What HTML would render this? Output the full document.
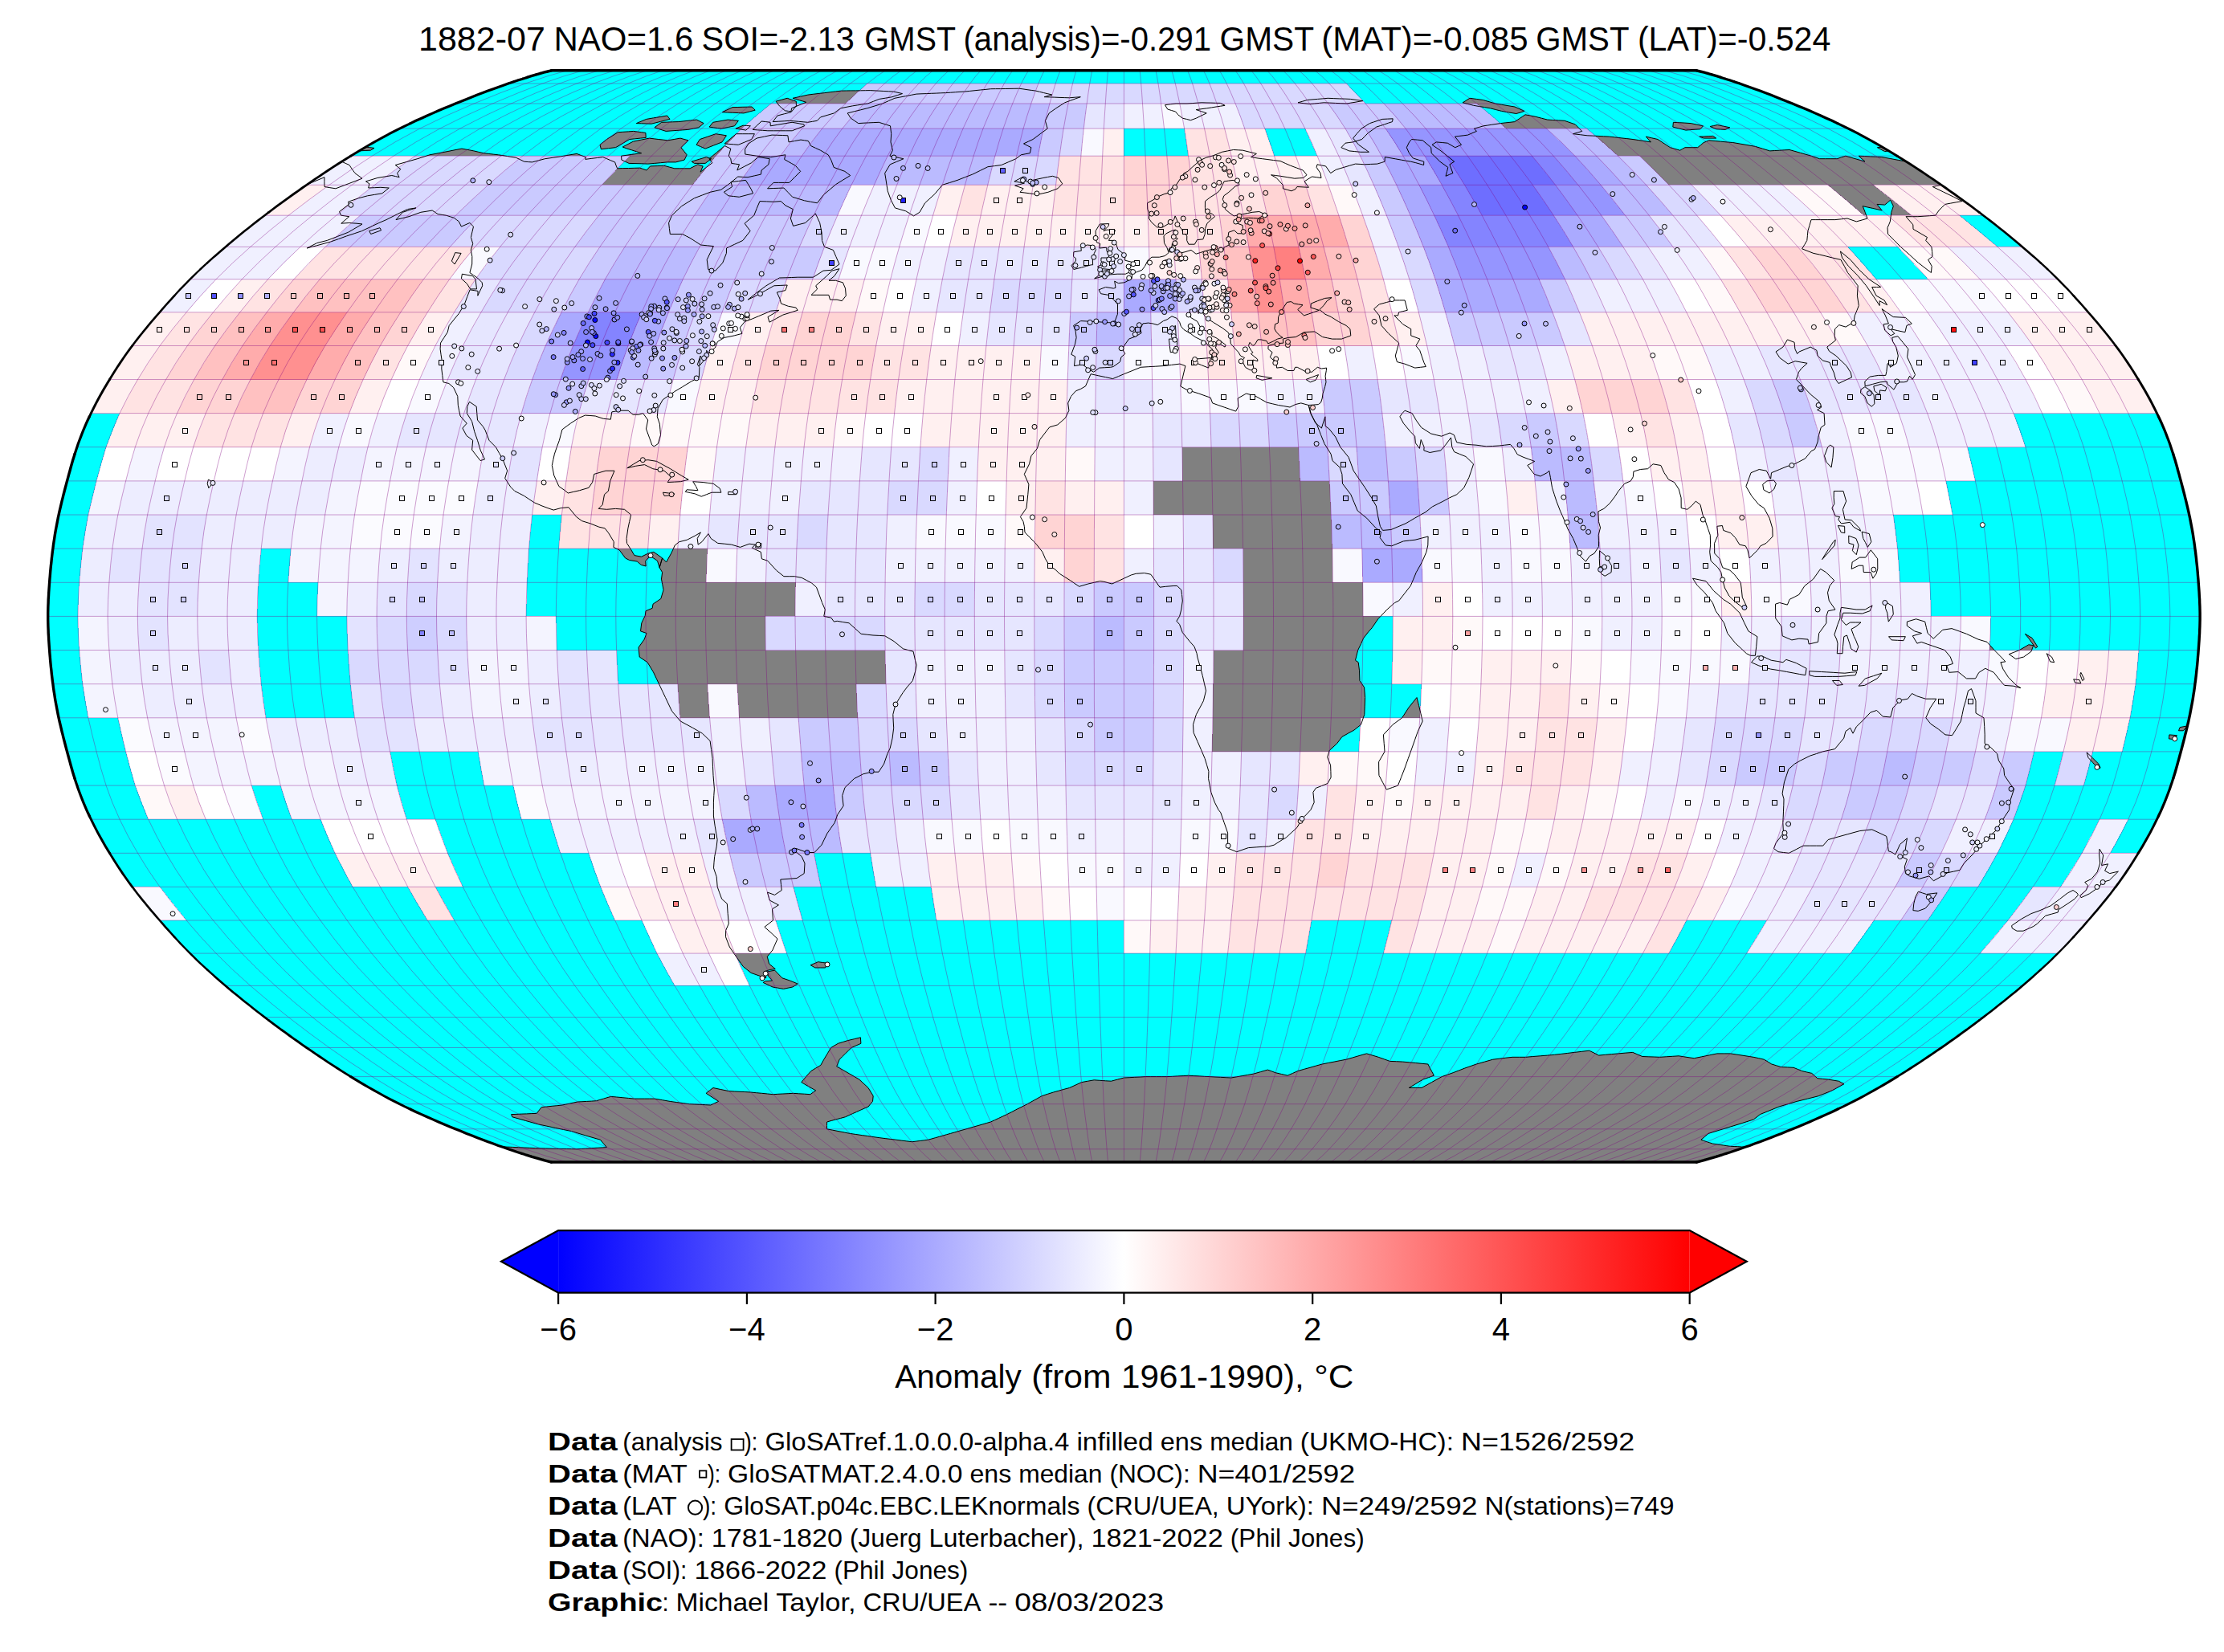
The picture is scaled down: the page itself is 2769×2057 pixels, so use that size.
<!DOCTYPE html>
<html><head><meta charset="utf-8"><title>GloSAT 1882-07</title><style>html,body{margin:0;padding:0;background:#fff}</style></head><body><svg width="2769" height="2057" viewBox="0 0 2769 2057" style="display:block;font-family:'Liberation Sans',sans-serif">
<rect width="2769" height="2057" fill="#fff"/>
<defs><clipPath id="mc"><path d="M2112.4,1447 2121.8,1444.6 2132,1441.7 2142.7,1438.4 2154.1,1434.8 2166,1430.8 2178.4,1426.4 2191.2,1421.7 2204.4,1416.7 2217.9,1411.4 2231.8,1405.8 2245.8,1400 2259.9,1393.9 2274,1387.6 2287.8,1381.2 2301.3,1374.7 2314.2,1368.1 2326.7,1361.3 2338.8,1354.5 2350.6,1347.6 2362.1,1340.6 2373.4,1333.6 2384.6,1326.4 2395.6,1319.2 2406.4,1311.9 2417.2,1304.5 2427.8,1297 2438.4,1289.5 2448.8,1282 2459.1,1274.3 2469.3,1266.6 2479.3,1258.9 2489.2,1251.1 2499,1243.3 2508.6,1235.4 2518,1227.4 2527.3,1219.4 2536.4,1211.4 2545.2,1203.4 2553.8,1195.3 2562.1,1187.1 2570.1,1179 2577.9,1170.8 2585.4,1162.5 2592.8,1154.3 2600,1146 2607.2,1137.7 2614.2,1129.4 2621,1121.1 2627.7,1112.7 2634.1,1104.3 2640.2,1096 2646.1,1087.6 2651.7,1079.2 2657.1,1070.8 2662.3,1062.3 2667.4,1053.9 2672.2,1045.5 2676.9,1037.1 2681.3,1028.6 2685.5,1020.2 2689.5,1011.8 2693.2,1003.4 2696.7,994.9 2699.9,986.5 2702.9,978.1 2705.7,969.6 2708.3,961.2 2710.7,952.8 2713,944.4 2715.3,935.9 2717.5,927.5 2719.7,919.1 2721.8,910.7 2723.8,902.2 2725.7,893.8 2727.4,885.4 2729,877 2730.5,868.5 2731.8,860.1 2732.9,851.7 2734,843.2 2734.9,834.8 2735.8,826.4 2736.5,818 2737.2,809.5 2737.8,801.1 2738.3,792.7 2738.7,784.3 2739,775.8 2739.1,767.4 2739,759 2738.7,750.5 2738.3,742.1 2737.8,733.7 2737.2,725.3 2736.5,716.8 2735.8,708.4 2734.9,700 2734,691.6 2732.9,683.1 2731.8,674.7 2730.5,666.3 2729,657.8 2727.4,649.4 2725.7,641 2723.8,632.6 2721.8,624.1 2719.7,615.7 2717.5,607.3 2715.3,598.9 2713,590.4 2710.7,582 2708.3,573.6 2705.7,565.2 2702.9,556.7 2699.9,548.3 2696.7,539.9 2693.2,531.4 2689.5,523 2685.5,514.6 2681.3,506.2 2676.9,497.7 2672.2,489.3 2667.4,480.9 2662.3,472.5 2657.1,464 2651.7,455.6 2646.1,447.2 2640.2,438.8 2634.1,430.5 2627.7,422.1 2621,413.7 2614.2,405.4 2607.2,397.1 2600,388.8 2592.8,380.5 2585.4,372.3 2577.9,364 2570.1,355.8 2562.1,347.7 2553.8,339.5 2545.2,331.4 2536.4,323.4 2527.3,315.4 2518,307.4 2508.6,299.4 2499,291.5 2489.2,283.7 2479.3,275.9 2469.3,268.2 2459.1,260.5 2448.8,252.8 2438.4,245.3 2427.8,237.8 2417.2,230.3 2406.4,222.9 2395.6,215.6 2384.6,208.4 2373.4,201.2 2362.1,194.2 2350.6,187.2 2338.8,180.3 2326.7,173.5 2314.2,166.7 2301.3,160.1 2287.8,153.6 2274,147.2 2259.9,140.9 2245.8,134.8 2231.8,129 2217.9,123.4 2204.4,118.1 2191.2,113.1 2178.4,108.4 2166,104 2154.1,100 2142.7,96.4 2132,93.1 2121.8,90.2 2112.4,87.8 686.4,87.8 677,90.2 666.8,93.1 656.1,96.4 644.7,100 632.8,104 620.4,108.4 607.6,113.1 594.4,118.1 580.9,123.4 567,129 553,134.8 538.9,140.9 524.8,147.2 511,153.6 497.5,160.1 484.6,166.7 472.1,173.5 460,180.3 448.2,187.2 436.7,194.2 425.4,201.2 414.2,208.4 403.2,215.6 392.4,222.9 381.6,230.3 371,237.8 360.4,245.3 350,252.8 339.7,260.5 329.5,268.2 319.5,275.9 309.6,283.7 299.8,291.5 290.2,299.4 280.8,307.4 271.5,315.4 262.4,323.4 253.6,331.4 245,339.5 236.7,347.7 228.7,355.8 220.9,364 213.4,372.3 206,380.5 198.8,388.8 191.6,397.1 184.6,405.4 177.8,413.7 171.1,422.1 164.7,430.5 158.6,438.8 152.7,447.2 147.1,455.6 141.7,464 136.5,472.5 131.4,480.9 126.6,489.3 121.9,497.7 117.5,506.2 113.3,514.6 109.3,523 105.6,531.4 102.1,539.9 98.9,548.3 95.9,556.7 93.1,565.2 90.5,573.6 88.1,582 85.8,590.4 83.5,598.9 81.3,607.3 79.1,615.7 77,624.1 75,632.6 73.1,641 71.4,649.4 69.8,657.8 68.3,666.3 67,674.7 65.9,683.1 64.8,691.6 63.9,700 63,708.4 62.3,716.8 61.6,725.3 61,733.7 60.5,742.1 60.1,750.5 59.8,759 59.7,767.4 59.8,775.8 60.1,784.3 60.5,792.7 61,801.1 61.6,809.5 62.3,818 63,826.4 63.9,834.8 64.8,843.2 65.9,851.7 67,860.1 68.3,868.5 69.8,877 71.4,885.4 73.1,893.8 75,902.2 77,910.7 79.1,919.1 81.3,927.5 83.5,935.9 85.8,944.4 88.1,952.8 90.5,961.2 93.1,969.6 95.9,978.1 98.9,986.5 102.1,994.9 105.6,1003.4 109.3,1011.8 113.3,1020.2 117.5,1028.6 121.9,1037.1 126.6,1045.5 131.4,1053.9 136.5,1062.3 141.7,1070.8 147.1,1079.2 152.7,1087.6 158.6,1096 164.7,1104.3 171.1,1112.7 177.8,1121.1 184.6,1129.4 191.6,1137.7 198.8,1146 206,1154.3 213.4,1162.5 220.9,1170.8 228.7,1179 236.7,1187.1 245,1195.3 253.6,1203.4 262.4,1211.4 271.5,1219.4 280.8,1227.4 290.2,1235.4 299.8,1243.3 309.6,1251.1 319.5,1258.9 329.5,1266.6 339.7,1274.3 350,1282 360.4,1289.5 371,1297 381.6,1304.5 392.4,1311.9 403.2,1319.2 414.2,1326.4 425.4,1333.6 436.7,1340.6 448.2,1347.6 460,1354.5 472.1,1361.3 484.6,1368.1 497.5,1374.7 511,1381.2 524.8,1387.6 538.9,1393.9 553,1400 567,1405.8 580.9,1411.4 594.4,1416.7 607.6,1421.7 620.4,1426.4 632.8,1430.8 644.7,1434.8 656.1,1438.4 666.8,1441.7 677,1444.6 686.4,1447Z"/></clipPath>
<linearGradient id="cb" x1="0" x2="1" y1="0" y2="0"><stop offset="0" stop-color="#0000ff"/><stop offset="0.5" stop-color="#ffffff"/><stop offset="1" stop-color="#ff0000"/></linearGradient></defs>
<path d="M2112.4,1447 2121.8,1444.6 2132,1441.7 2142.7,1438.4 2154.1,1434.8 2166,1430.8 2178.4,1426.4 2191.2,1421.7 2204.4,1416.7 2217.9,1411.4 2231.8,1405.8 2245.8,1400 2259.9,1393.9 2274,1387.6 2287.8,1381.2 2301.3,1374.7 2314.2,1368.1 2326.7,1361.3 2338.8,1354.5 2350.6,1347.6 2362.1,1340.6 2373.4,1333.6 2384.6,1326.4 2395.6,1319.2 2406.4,1311.9 2417.2,1304.5 2427.8,1297 2438.4,1289.5 2448.8,1282 2459.1,1274.3 2469.3,1266.6 2479.3,1258.9 2489.2,1251.1 2499,1243.3 2508.6,1235.4 2518,1227.4 2527.3,1219.4 2536.4,1211.4 2545.2,1203.4 2553.8,1195.3 2562.1,1187.1 2570.1,1179 2577.9,1170.8 2585.4,1162.5 2592.8,1154.3 2600,1146 2607.2,1137.7 2614.2,1129.4 2621,1121.1 2627.7,1112.7 2634.1,1104.3 2640.2,1096 2646.1,1087.6 2651.7,1079.2 2657.1,1070.8 2662.3,1062.3 2667.4,1053.9 2672.2,1045.5 2676.9,1037.1 2681.3,1028.6 2685.5,1020.2 2689.5,1011.8 2693.2,1003.4 2696.7,994.9 2699.9,986.5 2702.9,978.1 2705.7,969.6 2708.3,961.2 2710.7,952.8 2713,944.4 2715.3,935.9 2717.5,927.5 2719.7,919.1 2721.8,910.7 2723.8,902.2 2725.7,893.8 2727.4,885.4 2729,877 2730.5,868.5 2731.8,860.1 2732.9,851.7 2734,843.2 2734.9,834.8 2735.8,826.4 2736.5,818 2737.2,809.5 2737.8,801.1 2738.3,792.7 2738.7,784.3 2739,775.8 2739.1,767.4 2739,759 2738.7,750.5 2738.3,742.1 2737.8,733.7 2737.2,725.3 2736.5,716.8 2735.8,708.4 2734.9,700 2734,691.6 2732.9,683.1 2731.8,674.7 2730.5,666.3 2729,657.8 2727.4,649.4 2725.7,641 2723.8,632.6 2721.8,624.1 2719.7,615.7 2717.5,607.3 2715.3,598.9 2713,590.4 2710.7,582 2708.3,573.6 2705.7,565.2 2702.9,556.7 2699.9,548.3 2696.7,539.9 2693.2,531.4 2689.5,523 2685.5,514.6 2681.3,506.2 2676.9,497.7 2672.2,489.3 2667.4,480.9 2662.3,472.5 2657.1,464 2651.7,455.6 2646.1,447.2 2640.2,438.8 2634.1,430.5 2627.7,422.1 2621,413.7 2614.2,405.4 2607.2,397.1 2600,388.8 2592.8,380.5 2585.4,372.3 2577.9,364 2570.1,355.8 2562.1,347.7 2553.8,339.5 2545.2,331.4 2536.4,323.4 2527.3,315.4 2518,307.4 2508.6,299.4 2499,291.5 2489.2,283.7 2479.3,275.9 2469.3,268.2 2459.1,260.5 2448.8,252.8 2438.4,245.3 2427.8,237.8 2417.2,230.3 2406.4,222.9 2395.6,215.6 2384.6,208.4 2373.4,201.2 2362.1,194.2 2350.6,187.2 2338.8,180.3 2326.7,173.5 2314.2,166.7 2301.3,160.1 2287.8,153.6 2274,147.2 2259.9,140.9 2245.8,134.8 2231.8,129 2217.9,123.4 2204.4,118.1 2191.2,113.1 2178.4,108.4 2166,104 2154.1,100 2142.7,96.4 2132,93.1 2121.8,90.2 2112.4,87.8 686.4,87.8 677,90.2 666.8,93.1 656.1,96.4 644.7,100 632.8,104 620.4,108.4 607.6,113.1 594.4,118.1 580.9,123.4 567,129 553,134.8 538.9,140.9 524.8,147.2 511,153.6 497.5,160.1 484.6,166.7 472.1,173.5 460,180.3 448.2,187.2 436.7,194.2 425.4,201.2 414.2,208.4 403.2,215.6 392.4,222.9 381.6,230.3 371,237.8 360.4,245.3 350,252.8 339.7,260.5 329.5,268.2 319.5,275.9 309.6,283.7 299.8,291.5 290.2,299.4 280.8,307.4 271.5,315.4 262.4,323.4 253.6,331.4 245,339.5 236.7,347.7 228.7,355.8 220.9,364 213.4,372.3 206,380.5 198.8,388.8 191.6,397.1 184.6,405.4 177.8,413.7 171.1,422.1 164.7,430.5 158.6,438.8 152.7,447.2 147.1,455.6 141.7,464 136.5,472.5 131.4,480.9 126.6,489.3 121.9,497.7 117.5,506.2 113.3,514.6 109.3,523 105.6,531.4 102.1,539.9 98.9,548.3 95.9,556.7 93.1,565.2 90.5,573.6 88.1,582 85.8,590.4 83.5,598.9 81.3,607.3 79.1,615.7 77,624.1 75,632.6 73.1,641 71.4,649.4 69.8,657.8 68.3,666.3 67,674.7 65.9,683.1 64.8,691.6 63.9,700 63,708.4 62.3,716.8 61.6,725.3 61,733.7 60.5,742.1 60.1,750.5 59.8,759 59.7,767.4 59.8,775.8 60.1,784.3 60.5,792.7 61,801.1 61.6,809.5 62.3,818 63,826.4 63.9,834.8 64.8,843.2 65.9,851.7 67,860.1 68.3,868.5 69.8,877 71.4,885.4 73.1,893.8 75,902.2 77,910.7 79.1,919.1 81.3,927.5 83.5,935.9 85.8,944.4 88.1,952.8 90.5,961.2 93.1,969.6 95.9,978.1 98.9,986.5 102.1,994.9 105.6,1003.4 109.3,1011.8 113.3,1020.2 117.5,1028.6 121.9,1037.1 126.6,1045.5 131.4,1053.9 136.5,1062.3 141.7,1070.8 147.1,1079.2 152.7,1087.6 158.6,1096 164.7,1104.3 171.1,1112.7 177.8,1121.1 184.6,1129.4 191.6,1137.7 198.8,1146 206,1154.3 213.4,1162.5 220.9,1170.8 228.7,1179 236.7,1187.1 245,1195.3 253.6,1203.4 262.4,1211.4 271.5,1219.4 280.8,1227.4 290.2,1235.4 299.8,1243.3 309.6,1251.1 319.5,1258.9 329.5,1266.6 339.7,1274.3 350,1282 360.4,1289.5 371,1297 381.6,1304.5 392.4,1311.9 403.2,1319.2 414.2,1326.4 425.4,1333.6 436.7,1340.6 448.2,1347.6 460,1354.5 472.1,1361.3 484.6,1368.1 497.5,1374.7 511,1381.2 524.8,1387.6 538.9,1393.9 553,1400 567,1405.8 580.9,1411.4 594.4,1416.7 607.6,1421.7 620.4,1426.4 632.8,1430.8 644.7,1434.8 656.1,1438.4 666.8,1441.7 677,1444.6 686.4,1447Z" fill="#00ffff"/>
<g clip-path="url(#mc)">
<path d="M455.5,225.9 469.9,221.5 478.9,220 487.8,218.5 492.5,219.6 497.1,220.7 495.8,218.2 494.6,215.6 498.8,210.5 495.5,208 492.2,205.5 506,201.6 519.8,197.7 535,192.8 546.1,190.7 557.1,188.6 566,186.8 574.9,185.1 579.9,186 584.9,186.9 589.9,187.9 595.9,189.3 601.9,190.7 608.1,191.4 614.2,192.1 620.4,192.8 625.9,193.6 631.5,194.5 637,195.4 642.6,196.3 647.6,198.7 652.6,201.2 657.6,201.6 662.6,201.9 670.6,199.8 678.5,197.7 688.2,196.3 697.9,194.9 708,193.1 718.1,191.4 723.6,193.5 729.3,195.6 728.8,198.4 736.1,197.4 743.4,196.5 750.7,195.6 755.6,197.7 760.5,199.8 765.6,201.9 767,205.9 768.6,209.8 775.6,209.6 782.6,209.5 789.7,209.3 796.7,209.1 800.8,210.5 805,212 809.6,206.9 818.1,206.6 826.7,206.2 833.2,208 839.9,209.8 846.3,209.8 852.7,209.8 859.1,209.8 868.8,204.8 875.2,206.9 872,214.2 879.4,208.4 886.9,202.7 882.9,197.7 892.6,189.6 902.3,181.6 906,183.4 909.8,185.1 907.3,194.2 909.8,197.7 910.7,203.4 915.6,204.1 920.5,204.8 917.8,212 926.8,207.3 935.7,202.7 943.7,195.6 951,196.6 958.2,197.7 956.9,204.8 948.1,212 947.4,217.1 939.2,218.9 931,220.7 924.8,220.4 918.7,220 909,228.1 897.7,236.3 890.9,237.8 884.1,239.3 874.3,243 864.4,246.8 848.7,256.7 836.5,268.2 832.6,277.5 833.4,284.5 834.3,291.5 842,291.5 849.6,291.5 854.3,293.9 859,296.3 865.7,300.6 872.5,305 880.4,305.8 888.4,306.6 884.2,315 880.2,323.4 881.8,335.5 890.7,337.1 899.7,327.4 904.4,315.4 904.5,309 914.7,304.2 924.9,299.4 934.1,287.6 930.6,282.9 927.1,278.2 938.8,268.2 942.3,259.3 946,250.6 954.5,250.9 963,251.3 972.2,250.6 978,255.9 982.6,258.2 987.3,260.5 984.4,272 987.6,281.4 995.2,279.4 1002.7,277.5 1015.3,265.9 1018,271.6 1020.7,277.5 1021.9,283.7 1023.1,290 1023.5,299.4 1026.5,307.4 1032,309.4 1037.4,311.4 1040.8,319.4 1045,329 1034.9,336.3 1025,337.1 1012.6,345.2 1003,345.2 993.3,345.2 985.7,345.5 978.1,345.8 970.4,346 962.2,350.9 953.9,355.8 940.5,365.7 931.3,373.1 943.2,367.3 953.4,361.6 963.6,355.8 971.9,355.4 980.2,355 977.9,361.6 967.3,364 971.1,372.3 972.5,378 981.5,381.3 990.9,383 993.2,386.3 984.1,389.2 974.8,392.1 966.4,396.7 958,401.2 956,394.6 963,390.5 969.9,386.3 959.7,387.1 952,390.5 944.2,393.8 936.4,397.1 927.3,400.4 921.4,407.9 923.8,415.4 914.2,417.9 908,419.2 901.8,420.4 893.4,425.4 890.4,433 882.2,439.7 879.7,436.3 880,444.7 870.7,455.6 872.2,443 868.3,453.9 870.9,457.3 870.3,469.9 860.6,475 849.7,481.7 839.8,487.6 832.5,492.7 825.2,497.7 819.1,508.7 818.3,518.8 821.4,528.1 821.9,534.8 822.5,541.6 819.3,552.5 814.4,555.9 811.8,554.2 808.8,545.8 804.5,534 806.7,523 800.6,514.6 795.3,516.3 788.1,516.3 782.1,511.2 771.4,511.2 761.8,512.9 760.3,522.2 751.2,521.3 741.2,518 734.9,517.5 728.6,517.1 720.6,520.5 710.3,527.2 700,534.8 698.1,541.6 696.4,548.3 693.3,556.7 690.4,565.2 688.8,572.3 687.3,579.5 689.8,592.1 692.9,598.9 695.9,605.6 703.3,610.7 707.2,614 714.4,612.3 721.6,610.7 733,607.3 737.6,600.5 739.7,590.4 746.9,588.3 754.1,586.2 765,586.2 759.7,598.9 757.4,611.5 752.5,615.7 750.2,628.4 745.2,633.4 755.4,634.3 766.5,633.4 777.5,634.3 785.6,641 783.7,649.4 781.9,657.8 780.1,670.5 780.5,676.4 785.9,684.8 789.9,691.6 798.7,693.2 807.1,689 813.9,687.3 824.6,694.9 821.1,706.7 818.5,698.3 809.9,692.4 803.7,698.3 804.1,705 798.3,703.4 793.3,699.1 783.7,697.5 778.6,694.9 771.1,684.8 763.9,681.4 764.3,674.7 757.7,663.7 753.1,657.8 745.8,656.2 735.1,651.9 724.4,648.6 717.6,643.5 707.9,631.7 698.2,632.6 689.1,635.1 682,632.6 675,630 665.2,625.8 658.8,621.6 652.5,617.4 646.7,614.4 640.9,611.5 635.8,606.4 628.7,595.5 631.6,586.2 628.8,579.1 626,571.9 621.6,564.3 617.3,556.7 609,548.3 604.1,535.7 601.6,531.4 594.5,523 593.8,514.6 593.2,506.2 584.5,500.3 581.8,506.2 581.3,514.6 587.6,524.7 590.7,537.3 594.5,548.3 598.3,560.9 603.5,571.9 598.1,573.6 592.8,566.8 587.6,560.1 588.7,548.3 580.8,542.4 575.9,533.1 581.2,527.2 573.1,518 571.6,511.2 570.3,504.5 569.8,493.5 564.7,482.6 558.9,477.5 551.9,475.8 550.8,467.4 549.8,459 550.2,448.9 549.1,441.8 548.1,434.6 548.5,427.1 552.8,420.4 557.2,413.7 559.2,405.4 565.2,397.9 571.3,390.5 578.3,378.9 581.6,369.8 585.1,360.8 590.1,361.6 595.1,362.4 594.8,368.2 600.7,355.8 600.2,351.8 594.4,346 589.6,342.8 584.9,339.5 587.7,329 587.8,319.4 586.3,311.4 588.7,303.4 586.4,295.5 587.9,288.8 589.5,282.1 584.9,277.5 574.4,282.1 571.4,275.9 568.4,273.6 565.3,271.3 560.3,269.7 555.4,268.2 550.2,267.4 545.1,266.6 541.6,264.3 538.2,262 531.1,263.2 523.9,264.3 509.1,269.7 501.1,271.6 493,273.6 501.4,264.3 509.7,261.6 518,258.9 507.5,260.5 494.7,266.6 481,273.6 471.9,277.5 461.3,282.5 450.6,287.6 441.1,290.8 431.6,293.9 421.7,297.5 411.7,301 403,303.4 394.3,305.8 382.2,309 394.6,302.6 407.3,299.4 420.5,294.3 433.7,289.2 451,279 444,278.2 439.3,277.9 434.7,277.5 424.8,278.2 434.7,269.7 429.6,268.9 424.6,268.2 422.5,263.5 434.4,254.4 433.5,251.3 446.3,246.8 457.6,243.8 466.7,242.3 475.8,240.8 484.3,234 479.1,233.7 473.9,233.3 466.3,233.7 458.7,234 459.9,228.8Z M1137.6,268.9 1132.7,265.9 1127.8,262.8 1121.1,260.9 1114.4,258.9 1109.3,249.1 1105.2,237.8 1104,230.3 1102.9,222.9 1101.7,215.6 1108.2,204.8 1116.7,201.2 1125,197.7 1119.3,196.5 1113.6,195.3 1107.9,194.2 1111.4,187.2 1109,176.9 1109.7,166.7 1108.5,156.8 1103.7,155.3 1099,153.8 1094.3,152.3 1087.9,152.6 1081.5,152.9 1075.1,153.2 1068.7,153.6 1063.9,150.3 1059.3,147.2 1057.2,144 1055.2,140.9 1063.4,138.8 1071.6,136.8 1079.6,134.8 1089.3,131.9 1098.8,129 1106.4,125.6 1113.9,122.3 1120.7,121 1127.5,119.7 1134.2,118.4 1140.9,117.1 1147,116.8 1153.2,116.6 1159.3,116.3 1165.4,116.1 1171.5,115.8 1177.6,115.6 1183.5,115.2 1189.3,114.8 1195,114.4 1200.8,114.1 1207.4,113.4 1214,112.7 1220.6,112 1227.1,111.4 1233.6,110.7 1239.5,110.6 1245.3,110.6 1251.2,110.5 1257,110.4 1262.9,110.3 1268.7,110.2 1273.9,110.9 1279,111.7 1284.2,112.4 1289.4,113.1 1294.5,114.3 1299.6,115.6 1304.8,116.8 1310,118.1 1305.1,119.4 1300.2,120.7 1306.4,120.9 1312.7,121.1 1319,121.4 1325.2,121.6 1331.5,121.8 1338.4,121.2 1345.3,120.7 1338.8,123 1332.3,125.4 1325.7,127.8 1320.3,131.3 1314.8,134.8 1306.2,140.9 1301.4,150.3 1304.2,160.1 1295.2,166.7 1286.1,173.5 1280.3,176.2 1274.5,178.9 1279.1,181.3 1283.9,183.7 1282.4,190.7 1276.9,191.7 1271.3,192.8 1264.9,197.7 1255.9,201.6 1246.8,205.5 1238.4,206.6 1229.9,207.7 1220.4,212.4 1210.8,217.1 1201.4,220.7 1192,224.4 1182.6,227.4 1173.2,230.3 1163.9,241.5 1151.6,252.8 1145,264.3Z M824.6,694.9 829.6,700 836.1,688.2 840.3,678.9 845.7,674.7 855.5,672.2 865.4,667.1 872.4,662.9 868.2,670.5 869.2,678.1 873.9,674.7 881.9,664.6 885.2,670.5 893.7,676.4 902.2,677.2 910.7,678.1 921.6,681.4 932.9,677.2 940.3,678.1 936.4,682.3 947.3,687.3 948.4,695.8 955.8,698.3 966.5,710.1 975.9,717.7 982.6,717.7 989.3,717.7 998.2,719.4 1004.4,722.7 1010.7,726.1 1016.5,731.2 1020.1,740.9 1023.6,750.5 1027.3,759 1025.8,767.4 1034.7,769.1 1038.4,774.1 1042.2,773.3 1049.6,774.6 1057.1,775.8 1068.3,785.9 1072.1,789.3 1079.5,790.2 1087,791 1094.4,791.4 1101.8,791.8 1113.1,798.6 1124.4,807.8 1130.7,809.5 1137.1,811.2 1139.5,822.2 1141.1,828.1 1139.7,835.7 1136.3,847.5 1129.1,855.9 1124.1,862.6 1119.6,869.8 1115,877 1111.8,889.6 1112.2,898 1112.7,906.4 1111.1,919.1 1108.2,931.7 1104.9,938.5 1100.6,951.1 1094,961.2 1085.3,961.2 1074.6,963.8 1069,966.7 1063.4,969.6 1057.7,975.1 1052,980.6 1048.7,990.7 1050.1,1003.4 1042.8,1014.3 1039.2,1024.4 1034.4,1031.2 1029.8,1037.9 1026.3,1045.1 1022.9,1052.2 1014,1061.5 1004.9,1061.5 998.1,1059 991.3,1056.5 989,1059 998.2,1066.6 1002,1075 1001.2,1087.6 992.1,1093.5 982,1094.3 971.8,1095.1 972.5,1101.8 973.2,1108.5 964.5,1114.4 955.4,1111 958.3,1121.1 969.4,1126.9 961.5,1131.9 962,1139 962.5,1146 957.2,1150.1 951.9,1154.3 961.2,1162.5 968,1169.1 964.9,1176.1 961.9,1183 955.3,1191.2 957.6,1200.1 965.3,1206.6 958.7,1207.4 951.5,1209.8 953.8,1217.8 946.4,1215.4 935.1,1211.4 925.2,1203.4 916.6,1191.2 908.3,1179 903.5,1166.6 903.7,1158.4 907.3,1150.1 906.2,1137.7 905.3,1125.2 898.7,1119.4 895.9,1111.9 893.2,1104.3 892.2,1091.8 888.5,1080.9 889,1073.7 889.7,1066.6 892.2,1053.9 893.1,1045.5 891.6,1037.1 890.2,1028.6 888.4,1016 888.4,1007.6 888.4,999.1 888.8,990.7 889.4,982.3 888.7,973.9 888,965.4 887.5,954.9 887.1,944.4 885.6,933.4 884.1,922.5 874.4,913.2 862.7,906.4 854.9,902.2 847.2,898 836.5,885.4 832.5,877 828.5,868.5 825.1,861.4 821.7,854.2 817.5,845.4 813.3,836.5 806.1,824.7 796.2,818 795,806.2 802.2,796.1 805,788.5 797.5,785.9 798.8,775.8 803.2,766.6 804,760.7 812.2,757.3 813,752.2 822.8,745.5 826.1,734.5 824.8,727.8 823.5,721.1 824.6,712.6 821.1,706.7Z M964.7,1208.2 960,1209 955.3,1209.8 956.5,1215.4 961.5,1221 952.5,1221.8 950.1,1223.4 962,1229 968.7,1230.2 975.5,1231.4 981.1,1230.2 986.8,1229 993.2,1225 983.4,1221 973.9,1217.8 969.3,1213Z M1009.2,1201.7 1013.9,1199.7 1018.6,1197.7 1024.4,1198.5 1030.1,1199.3 1027.6,1205 1021.2,1205 1014.9,1205Z M1358.1,465.7 1367.2,467.7 1376.3,469.6 1385.4,471.6 1392.4,468.7 1399.4,465.7 1409.9,461.5 1420.3,457.3 1429.6,456.7 1438.8,456.2 1448.1,455.6 1458.5,454.4 1468.9,453.1 1475.9,455.6 1472.9,468.2 1469.8,480.9 1477,485.1 1484.9,487.6 1492.8,490.1 1500,492.7 1507.2,495.2 1509.6,501.9 1516.8,504.5 1524.1,507 1531.3,509.5 1538.6,512.1 1541.8,506.2 1541.2,496 1551.5,490.1 1562.3,492.7 1569.7,496.9 1577.1,501.1 1584.3,502.8 1591.6,504.5 1598.8,505.7 1606,507 1612.8,503.6 1619.8,501.9 1629.3,504.5 1631.6,514.6 1635.8,522.2 1640.1,529.8 1644.6,541.6 1649,552.5 1657,565.2 1659,573.6 1668.2,582 1670.9,590.4 1671.5,602.2 1676.7,609 1681.8,615.7 1686,625.8 1690.2,635.9 1701.7,645.2 1713.3,657.8 1719.4,662.1 1718.2,669.6 1725.2,678.9 1732.7,679.8 1740,676.8 1747.3,673.9 1754.6,673 1762,672.2 1770,670.1 1778.1,668 1777.8,678.9 1775.9,687.3 1770.4,700 1763.3,712.6 1759.8,721.1 1756.2,729.5 1749,738.7 1741.7,748 1736.5,750.5 1726.9,759 1715.7,770.8 1708.2,781.7 1703.7,786.8 1697.7,794.4 1694.6,801.5 1690.7,809.5 1687.5,822.2 1691.2,824.7 1692.5,834.8 1692.9,847.5 1698.6,855.9 1699.6,868.5 1699.2,879.1 1698.8,889.6 1694.5,902.2 1686,909 1678.4,913.2 1670.9,917.4 1664.6,925.8 1655.3,934.3 1652.7,942.7 1656.6,952.8 1656.9,960.4 1657.1,968 1653,975.5 1645.6,978.5 1638.2,981.4 1634.9,986.5 1636.2,999.1 1631.9,1008.4 1624.8,1016 1621,1019.4 1615,1030.3 1608.1,1036.6 1601.2,1043 1596.7,1045.5 1586.2,1052.2 1579.7,1053.9 1572.3,1054.3 1564.9,1054.8 1554.3,1055.6 1547,1058.1 1539.8,1060.7 1529.6,1056.5 1528.6,1049.7 1528.6,1037.1 1524.2,1024.4 1519.8,1011.8 1517.1,1008.4 1512.4,999.1 1507.8,986.5 1506.2,978.1 1504.6,969.6 1504.9,960.4 1502.5,952.4 1500.1,944.4 1495.6,933.8 1491,923.3 1486.1,912.3 1485.5,902.2 1489.4,889.6 1493.9,881.2 1498.4,872.7 1501.5,860.1 1499.4,850.8 1497.3,841.6 1494.4,830.6 1490.8,818 1490.1,813.7 1487.1,805.3 1481.2,798.6 1472.3,787.6 1468.6,777.5 1464.9,773.3 1468.6,767.4 1470.8,759 1472.3,748 1471.5,740.4 1470.8,734.5 1465.6,729.5 1461.1,729.5 1451.4,730.3 1444,731.2 1438.8,723.6 1432.8,715.2 1424.7,713.5 1414.3,714.3 1408.3,716 1399.4,720.2 1392,723.6 1384.5,727 1374.9,724.4 1369.7,723.6 1362.2,725.3 1354.8,727 1343.6,730.3 1332.5,722.7 1325.8,718.5 1319.2,714.3 1314,709.3 1306.6,704.2 1301.5,695.8 1297.9,687.3 1291.3,678.9 1287.6,674.7 1281.1,668 1276,662.9 1275.3,655.3 1274,649.4 1270.4,643.5 1278,632.6 1278.9,624.1 1279.8,615.7 1280.9,603.1 1275.3,590.4 1281.5,577.8 1283.9,567.7 1291.4,558.4 1294.7,547.5 1303.7,535.7 1306.7,531.9 1316.8,528.9 1326.4,520.5 1330.9,511.2 1329.7,501.9 1333.5,493.5 1339.4,486.8 1345.8,484.2 1351.5,480.9 1355.9,470.8Z M1764,868.5 1766.5,878.4 1768.9,888.2 1771.2,898 1765.3,910.7 1761.6,921.2 1757.9,931.7 1753.3,944.4 1748.8,957 1744.7,967.5 1740.5,978.1 1733.4,980.6 1726.3,983.1 1721.6,974.3 1716.9,965.4 1716.7,957 1716.6,948.6 1724,935.9 1723.2,925.4 1722.4,914.9 1734.2,902.2 1745.7,893.8 1753.8,881.2Z M1361.7,463.2 1355.5,459.8 1348,453.9 1337.5,455.6 1338.6,443.9 1333.8,441.3 1338.4,428.8 1340.1,420.4 1339.1,412.1 1336.6,405.4 1345.6,399.6 1353.3,400 1361.1,400.4 1367.4,400.8 1373.8,401.2 1380.6,401.7 1387.3,402.1 1391.4,391.3 1391.5,378.9 1384.9,371.4 1379.7,367.3 1370.6,365.7 1368.1,360.8 1376.6,357.5 1386.4,359.1 1389,358.3 1387.7,350.1 1392.3,352.6 1400,351.8 1409.1,346.9 1409.7,340.4 1415.4,338.7 1421.8,336.3 1425.5,331.4 1429.1,324.2 1434,320.2 1443.5,320.2 1450.3,318.6 1453.3,316.2 1455.1,314.6 1452.9,308.2 1449.5,302.6 1449,293.9 1451.9,290.8 1460.2,286.8 1463.8,286.1 1463.5,291.5 1462,295.5 1466.4,297.1 1462.4,301 1459.4,303.4 1459.1,308.2 1461.8,311.4 1468.1,312.2 1468.3,315.4 1475.1,313.8 1483,311.4 1489.1,316.2 1494.3,314.6 1499.4,313 1506.4,311 1513.3,309 1516.2,312.2 1523.6,311.4 1523.8,308.2 1530.2,305 1528.9,295.5 1529.8,289.2 1536.7,286.8 1541,290.8 1546.5,290.8 1547.3,284.5 1547.2,280.6 1540.8,278.2 1540.1,274.4 1547.5,272 1554.5,271.3 1560.6,271.6 1566.6,272 1571.9,268.9 1579,268.6 1574.4,266.6 1567.8,263.5 1559.1,264.3 1553.4,265.5 1547.7,266.6 1542,267.8 1536.2,268.9 1530.9,265.1 1525.4,260.5 1524.7,252.8 1522.3,248.3 1523.8,243.8 1529.9,239.3 1534.1,235.5 1538.2,231.8 1543,230.3 1541.7,226.6 1535.1,224.4 1529.6,225.1 1524.1,225.9 1521.2,231.8 1519.1,236.3 1515.7,240 1511,243 1506.3,246 1500.5,250.6 1500.4,258.2 1501,262.8 1509.7,266.6 1512.5,269.7 1507.7,273.6 1502.9,278.2 1500.6,284.5 1500.2,291.5 1497.8,297.9 1490.5,298.6 1487.4,304.2 1479.9,304.2 1477.7,299.4 1477.8,293.9 1472.4,287.6 1471.6,286.1 1466.9,279.8 1465.9,275.1 1463.1,268.9 1461.6,273.6 1456.5,277.5 1447.8,282.9 1440.5,282.9 1433.6,276.7 1430.5,272 1430.8,265.1 1428.8,260.5 1428.5,252.8 1435.4,249.1 1442.6,244.5 1449.9,241.5 1455.6,240 1459.1,234 1464.4,230.3 1469.3,222.9 1474.1,215.6 1478.8,213.4 1484.2,208.4 1489.1,204.1 1493.9,199.8 1501.4,196.3 1506.5,194.9 1511.6,193.5 1516.5,191.4 1521.4,189.3 1528.5,187.9 1535.6,186.5 1541.5,186.8 1547.4,187.2 1555.9,189.3 1564.4,191.4 1557.6,195.6 1566,197 1571.6,197.7 1577.1,198.4 1585.5,199.5 1594,200.5 1600.3,203.4 1606.7,206.2 1614.5,209.1 1622.3,212 1627,217.8 1622.7,221.5 1617.2,221.8 1611.8,222.2 1602.9,220.7 1594.2,219.3 1588.4,218.5 1582.6,217.8 1589.2,221.5 1597.3,230.3 1597.4,234.8 1602.7,236.3 1607.9,237.8 1613,235.5 1614.9,232.5 1622.1,232.9 1629.4,233.3 1624.1,225.9 1628.8,222.9 1633.4,220 1639.2,220.7 1645,221.5 1644,215.6 1639.1,208.4 1640,204.8 1645.3,205.9 1650.6,206.9 1656.7,215.6 1663.3,211.3 1668.2,209.8 1673.1,208.4 1680.3,206.2 1687.5,204.1 1693.1,204.4 1698.7,204.8 1706.7,204.4 1714.7,204.1 1719.4,202.7 1724.1,201.2 1724.3,195.6 1731,196.7 1737.8,197.9 1744.5,199.1 1750.5,200.2 1756.5,201.2 1762.8,202.7 1772.6,205.5 1772.8,201.2 1766.1,199.1 1759.4,197 1754.5,190.7 1751.3,183.7 1754.6,176.9 1757.5,173.5 1764.4,174.1 1771.3,174.8 1781.7,183.7 1782.2,190.7 1792.8,201.2 1802.8,208.4 1801.5,213.8 1800,219.3 1804.5,217.4 1808.9,215.6 1804.9,204.8 1810.7,201.2 1801.9,194.2 1793.1,187.2 1783,180.3 1788.3,176.9 1795.3,177.5 1802.3,178.2 1811.7,183.7 1815.6,182 1819.5,180.3 1811.4,170.1 1816.8,169.4 1822.1,168.8 1827.5,168.1 1833,165.7 1838.5,163.4 1835.3,160.1 1841.2,158.5 1847,156.8 1852.4,156 1857.7,155.2 1863,154.4 1868.3,153.6 1874.1,152.9 1880,152.3 1885.8,151.6 1889.2,149.4 1892.6,147.2 1895.9,144.9 1899,142.8 1905.5,144 1912,145.3 1919.3,147.2 1926.7,149.1 1933.7,149.5 1940.8,149.9 1947.9,150.3 1961.3,154.9 1969.7,163.4 1964.1,165.1 1958.5,166.7 1967.3,167.7 1976.1,168.8 1982.9,169.1 1989.7,169.4 1996.5,169.8 2003.3,170.1 2010.7,170.9 2018.1,171.8 2025.6,172.6 2033.1,173.5 2040.5,174.6 2047.9,175.7 2055.4,176.9 2049.3,170.1 2056.6,171.8 2064,173.5 2079.5,183.7 2091.7,187.2 2094.8,185.4 2097.9,183.7 2105.8,183.7 2113.7,183.7 2117.5,180.6 2121.1,177.5 2124.5,176.2 2127.7,174.8 2135.1,175.5 2142.6,176.2 2150,176.9 2157.5,177.5 2166.7,179.1 2176,180.7 2185.2,182.3 2194.4,185.1 2203.6,187.9 2209.7,187.5 2215.8,187.2 2221.9,186.8 2228,186.5 2241.6,190.3 2255.1,194.2 2265.6,197.7 2272.7,197.7 2279.9,197.7 2287.1,197.7 2292.5,195.9 2297.9,194.2 2310,197.7 2322,201.2 2314,194.2 2321.2,194.5 2328.4,194.9 2335.7,195.2 2342.9,195.6 2353.1,197.4 2363.2,199.3 2373.4,201.2 2388.2,210.8 2402.8,220.5 2417.2,230.3 2411.7,231.4 2406.2,232.5 2419.4,238.9 2432.6,245.3 2442.8,250.6 2435.8,251.8 2428.7,253.1 2421.7,254.4 2417.9,258.2 2414,262 2411.9,265.1 2409.8,268.2 2402.6,268.7 2395.2,269.2 2387.9,269.7 2380.5,269.7 2373,269.7 2381.8,279.8 2382,285.3 2399.5,295.5 2397.7,299.4 2404.9,307.4 2405.6,313.4 2406,319.4 2400.6,323.4 2405.2,331.4 2404.4,339.5 2388.6,327.4 2377.7,317.4 2366.4,307.4 2358.6,299.4 2350.6,291.5 2350,283.7 2351.7,279.8 2353.3,275.9 2354.1,270.1 2354.8,264.3 2356.1,260.5 2357.3,256.7 2353.7,249.1 2350.2,252.1 2346.6,255.1 2337,254.4 2343.2,262 2331.2,259.3 2319.2,256.7 2322.2,264.3 2325,272 2318.2,274 2311.3,275.9 2300,272 2292.4,272.8 2284.9,273.6 2275.9,273.6 2266.9,273.6 2260.9,273.6 2255,273.6 2253,280.6 2250.9,287.6 2250.4,293.5 2249.8,299.4 2246.8,304.6 2243.6,309.8 2257.9,315.4 2265.5,317 2273.6,319 2281.6,321 2291.9,323.4 2296.3,331.4 2300.5,339.5 2307,347.7 2313.2,355.8 2312.4,368.2 2314.3,380.5 2311.9,386.7 2309.3,392.9 2307.9,401.2 2303,404.2 2298,407.1 2289.7,404.6 2284.6,409.6 2284.1,417.9 2285.4,423.8 2280.1,427.9 2274.8,432.1 2277.4,437.2 2285.9,443 2299,455.6 2304.3,464 2305.5,469.9 2297.9,473.3 2289.1,477.5 2285.6,472.5 2283.3,464 2279.5,455.6 2278.2,451.4 2269.4,448.9 2263.1,443 2261.9,436.3 2254.2,432.1 2247.1,435.1 2240,438 2237.7,440.5 2234.9,434.6 2234.1,426.3 2225.5,422.9 2219.9,432.1 2215.5,435.1 2211,438 2215.9,445.5 2226.2,453.1 2235.1,449.7 2242.6,451 2250.1,452.3 2242.7,459 2239.6,463.2 2236.4,472.5 2244.7,480.9 2254.2,491 2264.4,499.4 2267.8,507 2262.6,510.4 2271.1,514.6 2271.6,523 2272,528.9 2267.2,532.3 2263.9,544.1 2263.2,550 2259.6,559.3 2255,561.8 2247.5,571 2239.2,575.3 2230.9,579.5 2225.9,580.3 2215.7,584.5 2205.5,588.7 2204.6,596.3 2199.3,586.2 2190.2,584.5 2180,588.7 2178.5,593 2173.9,605.6 2180.8,617.4 2189.8,628.4 2196.3,632.6 2203.1,645.2 2206.8,657.8 2207.1,668 2199,676.4 2191.8,679.8 2188.5,684.8 2178.1,694.9 2175.9,684.8 2173.3,679.8 2165.8,678.1 2160.6,669.6 2154.9,663.7 2145.7,660.4 2144.4,654.5 2137.8,655.3 2138.9,666.3 2134.6,676.4 2134.7,689 2141.1,695.8 2144.7,706.7 2153.8,710.1 2159.3,715.2 2167.2,725.3 2168.3,733.7 2169.3,743.8 2174.8,755.6 2169.6,756.4 2159.8,748.9 2152.9,742.1 2147.4,732 2144.7,721.9 2142.8,712.6 2138.8,706.7 2130.1,698.3 2128.7,687.3 2129.6,678.9 2129.3,666.3 2126.7,658.7 2124.1,651.1 2120,641 2117,628.4 2111.3,624.1 2106.8,629.2 2100.8,634.3 2093.2,632.6 2093.1,619.9 2090.2,609 2084.6,600.5 2077.6,597.2 2072,588.7 2067.8,579.5 2058.1,577.8 2051.6,583.7 2042.3,584.5 2033.9,587.1 2033.3,593.8 2030.3,598.9 2022.7,602.2 2015,611.5 2010.7,618.2 2004.3,626.7 1996.9,633.4 1989.9,636.8 1990.4,649.4 1992.5,657 1990.2,666.3 1990.4,673.4 1990.5,680.6 1985,689 1979.2,692.4 1974.4,699.1 1966.6,691.6 1963.9,683.1 1958.7,670.5 1952,658.7 1948.8,650.7 1945.5,642.7 1942.8,636.8 1937.9,624.1 1935.2,615.7 1932.5,607.3 1930.4,594.6 1928.8,586.2 1926.1,588.7 1917.8,593 1910.2,590.4 1901.8,579.5 1910.7,574.4 1903.8,571.9 1897,569.4 1889.4,566 1884.8,558.4 1880.5,553.4 1873.4,554.2 1866.3,555 1858.4,555.5 1850.5,555.9 1844.2,555 1838,554.2 1832.1,553.8 1826.3,553.4 1820,552.1 1813.7,550.8 1810.4,541.6 1805.1,539 1794.8,543.2 1788.1,541.6 1781.4,539.9 1769.7,532.3 1763.6,523.9 1758.1,514.6 1749.1,511.2 1745.9,514.6 1742.9,518.8 1747.5,527.2 1755.9,537.3 1761.6,543.2 1762.4,551.7 1767.4,558.4 1769.2,547.5 1773.1,556.7 1772.8,560.9 1780.2,563.5 1787,562.2 1793.8,560.9 1799.6,554.2 1806.5,544.9 1807.8,556.7 1810.6,562.6 1817.8,565.6 1825,568.5 1834.6,577.8 1831.8,586.2 1828.9,594.6 1822.7,607.3 1813.8,615.7 1804.6,619.9 1796.9,624.1 1790.1,627.5 1783.4,630.9 1775,637.6 1768.2,641.4 1761.4,645.2 1755.7,648.6 1750,651.9 1740.9,655.7 1731.9,659.5 1721.6,660.4 1718.4,655.3 1715.6,642.7 1713.4,630 1707.7,619.9 1699.6,607.3 1692.4,596.8 1685.2,586.2 1682.2,577.8 1679.1,569.4 1668.8,556.7 1662.8,544.1 1654.8,534 1650.2,530.6 1649.9,518.8 1647.6,526 1645.4,533.1 1637.6,526.4 1632.4,515.4 1629.3,504.5 1635.3,504.1 1641.3,503.6 1644.6,501.1 1646.2,496 1647,490.1 1649.6,481.7 1651,475.8 1650.1,468.2 1651.3,461.5 1651.6,458.1 1645.4,459 1640.3,457.3 1633.4,463.2 1626.4,463.2 1615.3,457.3 1612.5,457.3 1610.8,461.5 1603.2,461.5 1596.5,457.3 1589.6,458.1 1588.9,451.4 1581.3,444.7 1584.1,438.8 1578.9,434.6 1579.1,430.5 1587.7,427.9 1597.9,427.1 1597.3,422.1 1603.9,420.4 1613.3,419.6 1618.4,416.7 1623.4,413.7 1630.1,413.3 1636.8,412.9 1646.7,419.6 1652.7,420.8 1658.7,422.1 1664.5,422.1 1670.3,422.1 1676.1,420 1681.8,417.9 1680.9,409.6 1676.1,405.4 1666.4,400.4 1657.3,394.6 1650,391.3 1642.9,385.5 1648,380.5 1652.2,374.7 1658,370.6 1649.6,371.4 1640.4,374.7 1632.3,378 1631.9,383 1642.4,386.3 1635.5,388.8 1629.5,390.9 1623.5,392.9 1615.7,385.5 1622,379.7 1616.6,378.9 1611.2,378 1607.5,375.6 1602.3,376.4 1596.9,384.7 1591.6,394.6 1591.3,402.1 1587.5,403.7 1586.9,409.6 1589.4,413.7 1593.4,417.9 1597.1,420.4 1590.5,422.1 1586,424.6 1578.8,427.9 1577.1,424.6 1570.1,422.9 1566,422.9 1562.5,428.8 1559.9,430.5 1556.1,426.3 1554.4,430.5 1557.7,436.3 1560,438.8 1557.4,440.5 1565.6,447.2 1565.9,449.7 1560.2,448.1 1559.8,452.3 1561.2,460.7 1556.3,460.7 1550.5,457.3 1546.4,448.9 1549.6,445.5 1544.5,443 1542.1,438.8 1536.8,433 1532.3,427.9 1531.5,418.7 1529,413.7 1521.8,408.3 1516.1,404.8 1510.4,401.2 1501.3,395.4 1495.3,386.3 1492.2,390.5 1489.8,383.8 1481.2,385.5 1482.5,395.4 1490.9,400.4 1495.5,409.6 1502.4,412.1 1509.4,414.6 1508.3,417.9 1515.3,421.3 1526.2,429.6 1525.1,432.1 1515.7,426.3 1513.4,433 1517.3,438.8 1513.5,443.9 1511,448.1 1508.1,447.2 1509.2,441.3 1509.4,434.6 1504.3,430.5 1500.6,425.4 1496.4,423.8 1488,419.6 1482.3,415.4 1473.9,410.4 1470.3,406.2 1468.7,401.2 1465.1,396.3 1459,393.8 1453.1,397.9 1448.5,399.6 1441.2,404.6 1435.1,402.9 1429.7,402.1 1423,402.9 1419.7,409.6 1421.1,414.6 1414.4,418.7 1405.5,422.1 1400.8,428.8 1397.3,434.6 1400.8,440.5 1395.9,444.7 1394.5,450.6 1386.2,456.5 1382.7,457.3 1375.7,457.7 1368.7,458.1Z M425.4,201.2 430.2,203.4 435,205.5 437.2,208.9 439.5,212.2 442,215.6 444.9,217.8 448,220 451,222.2 434.5,228.5 417.9,234.8 410.9,233.7 404,232.5 403.9,226.6 404,220.7 389.8,226.6 381.6,230.3 396,220.5 410.6,210.8Z M2337.4,183.7 2343.6,183 2351.8,187.9 2346.6,188.6Z M455.2,183 460.6,183.7 466,184.4 461.4,187.2 454.2,187.5 447,187.9Z M2454.5,857.6 2457.3,865.2 2460,872.7 2460,880.3 2460,887.9 2470,893.8 2470.7,904.3 2471.2,914.9 2471.1,925.8 2478.8,930.9 2486.6,938.5 2488.4,946.9 2494.8,957 2495.6,965.4 2501.3,973.9 2507.6,982.3 2504.9,990.7 2502.1,999.1 2501.6,1008.4 2496.3,1016.4 2490.8,1024.4 2486.4,1032.9 2473.2,1044.7 2464.5,1053.9 2455.9,1064 2445.3,1075 2440,1083.4 2432.4,1085.1 2424.9,1086.7 2416.2,1091.8 2407.4,1096.8 2401.8,1090.9 2389.5,1094.3 2383.6,1092.6 2377.6,1090.9 2372.5,1087.6 2371.3,1079.2 2374.5,1069.9 2368.8,1067.4 2371.9,1060.7 2373.4,1049.7 2374.5,1043.8 2365.6,1051.4 2359.9,1064 2354.4,1060.7 2351.3,1059.8 2349.8,1047.2 2348.7,1041.3 2339.8,1037.1 2330.7,1032.9 2323.3,1033.7 2315.9,1034.5 2308,1036.6 2300.1,1038.8 2288.2,1042.1 2276.2,1045.5 2269.7,1053.1 2261.5,1053.1 2253.3,1053.1 2245,1053.1 2236.2,1057.7 2227.3,1062.3 2220.6,1061.5 2214,1060.7 2208.5,1056.5 2211.1,1049.7 2220.5,1037.1 2219.8,1024.4 2220.2,1017.3 2220.5,1010.1 2220.8,1002.5 2221,994.9 2219.1,988.2 2220.3,981 2221.5,973.9 2224.2,965.9 2226.8,957.9 2234.5,951.1 2241.9,946.9 2253.8,941 2261.6,938.5 2269.3,935.9 2276.9,934.3 2284.5,932.6 2290.1,925.8 2295.7,919.1 2297.9,910.7 2303.7,906.4 2307,913.2 2311.4,904.8 2320.1,896.3 2328.8,887.1 2336.5,884.5 2344.3,892.1 2353.7,893 2356.9,881.2 2366.2,871.9 2375.3,870.2 2380.5,863.5 2386.8,866.8 2397.5,870.2 2404.1,870.2 2410.8,870.2 2403.4,881.2 2397.8,893.8 2403.9,901.4 2413.7,908.1 2422,914.9 2430.6,915.7 2436,906.9 2441.3,898 2443.1,889.6 2444.8,881.2 2447.4,872.7 2450.5,860.1Z M2388.4,1110.2 2393.5,1111.9 2398.5,1113.5 2405.2,1112.7 2411.9,1111.9 2405.9,1121.1 2397.1,1131.1 2388.1,1134.4 2381.9,1133.6 2382.8,1125.2 2384.8,1116.9Z M2614,1057.3 2618.7,1064.9 2616.6,1077.5 2624.6,1075.8 2620.6,1084.2 2626.7,1087.6 2637.4,1085.1 2626.4,1096 2617.7,1098.5 2613.5,1104.3 2601.7,1112.7 2591.1,1117.7 2589.6,1115.2 2597.4,1108.5 2599.6,1102.7 2595.7,1098.5 2604.1,1094.3 2611.2,1085.9 2614.7,1075 2613.6,1064Z M2581,1108.5 2586,1111.9 2587.5,1114.4 2583,1119.4 2573,1126.1 2562.9,1132.7 2562.2,1136 2554.5,1138.1 2546.8,1140.2 2536.6,1150.1 2531.8,1153.5 2519,1159.2 2511.1,1159.2 2505.3,1155.9 2504.6,1152.6 2516.7,1144.3 2528.7,1137.7 2540,1133.6 2553.4,1127.7 2564.6,1119.4 2574.4,1111.9Z M2362.9,418.7 2369.5,426.7 2375.9,434.6 2374.6,444.7 2380.1,456.5 2384.5,466.6 2381,472.5 2377.6,468.2 2374.4,475 2370.6,475.8 2362.2,475.8 2361.9,478.3 2357.9,485.1 2350,478.3 2349.2,475 2341.1,475.8 2331.7,478.3 2322.2,480.9 2321.8,475 2328.2,469.1 2333.5,468.2 2338.7,467.4 2347.8,467.4 2348.9,462.4 2349.9,453.1 2352.5,451.4 2353.4,457.3 2361.3,452.3 2363.3,443 2360.7,432.1 2356.7,425.4 2355.7,420.4Z M2354.2,417.9 2358.8,415.4 2353.7,409.6 2362.8,411.7 2371.9,413.7 2373.9,405.4 2380.3,402.9 2372.5,395.4 2364.9,395 2357.2,394.6 2343.1,384.7 2347.4,392.9 2351.4,402.9 2345.2,403.7 2346.6,411.2Z M2321.9,481.7 2329.6,486.8 2333.1,491.8 2333.9,502.8 2330.2,506.2 2325.1,501.9 2321.8,493.5 2316.5,489.3 2316.9,485.1Z M2332.8,480.9 2342.2,478.3 2349,482.6 2347.3,486.8 2340.6,485.9 2340.2,491.8 2333.9,486.8Z M2291.4,313 2303.9,323.4 2314.4,335.5 2327,347.7 2341.8,357.5 2336.3,357.5 2330.7,357.5 2336,368.2 2346.1,373.9 2349.6,379.7 2340.1,374.7 2340.2,380.5 2332.1,368.2 2323.6,355.8 2313.4,343.6 2301.4,331.4 2293.6,321Z M2278.7,554.2 2282.9,556.7 2282,569.4 2280.1,582 2273.8,575.3 2271.5,567.7 2275.7,556.7Z M2208.5,598 2211.4,602.2 2208.8,609 2203,614 2195.8,609.8 2194.7,603.1 2199.9,598.9Z M2283.3,611.5 2289.1,611.5 2295,611.5 2298.6,624.1 2294.4,634.3 2297,646.9 2305.2,647.7 2315.4,657.8 2316.5,661.2 2307.8,656.2 2303.3,650.3 2292.5,651.9 2288.8,646.9 2290.6,643.5 2285.3,642.7 2280.9,632.6 2283.8,627.5 2283.2,619.9Z M2329.3,684.8 2337.7,695.8 2337.8,708.4 2336,714.3 2331.9,720.2 2329.2,712.6 2320.3,712.6 2319.7,704.2 2314.5,704.2 2305.2,708.4 2306.1,700 2315.3,694.1 2322.7,694.1Z M2268.7,696.6 2276.6,687.8 2284.3,678.9 2285.2,672.2 2282.5,674.7 2277.6,682.3 2272.7,689.9Z M2318.1,662.1 2327.3,664.6 2329.8,674.7 2325.3,681.4 2322.5,675.5 2319.8,670.5Z M2301.7,667.1 2310.9,670.5 2314,678.9 2311.3,690.7 2306.4,685.7 2308,678.1 2301.9,676.4Z M2288.4,654.5 2296.6,655.3 2296.8,663.7 2292.3,662.9Z M2210.5,752.2 2215.7,750.5 2225.4,753.1 2228.2,746.3 2234.1,743.4 2239.9,740.4 2246.9,729.5 2257.6,721.1 2266.6,708.4 2273.5,712.6 2283.7,722.7 2278.1,729.5 2275.5,737.9 2277.3,748 2285,759 2276.1,760.7 2273.9,767.4 2273.9,775.8 2264.7,788.5 2263.5,799.4 2252.2,802 2251,796.1 2239.9,795.2 2230.9,796.9 2225,794.4 2219.2,791.8 2218,780 2210.7,769.9 2210.6,759Z M2107.5,720.2 2115.7,721.9 2124,723.6 2133.4,735.4 2139.5,740.9 2145.6,746.3 2154.7,752.2 2166,763.2 2171.9,775.8 2176.9,785.9 2187.9,792.7 2186.7,805.3 2185.4,816.3 2179.5,816.3 2174.4,813.7 2167.3,807 2160.1,800.3 2150.8,788.5 2146.6,775.8 2141.4,768.2 2136.2,760.7 2132.3,750.5 2122.3,737.9 2113,728.6Z M2180.5,824.7 2187.6,817.1 2194.3,817.1 2205.2,822.2 2212.5,823.4 2219.9,824.7 2223.8,821.3 2230,823.4 2236.2,825.5 2242.7,828.9 2249.1,832.3 2247.8,840.7 2240.8,839.5 2233.9,838.2 2224.7,836.5 2215.6,834.8 2204.5,833.1 2197.2,831 2189.9,828.9Z M2252.6,835.7 2260,836.1 2267.4,836.5 2274.8,836.9 2282.2,837.3 2289.5,837.8 2296.9,838.2 2304.4,837.3 2311.9,836.5 2310.1,840.7 2299.6,841.6 2289.2,842.4 2281.8,842.4 2274.4,842.4 2266.9,842.4 2259.5,842.4 2253,840.7Z M2314.1,854.2 2322.4,844.9 2332.6,841.6 2342.9,838.2 2337.2,844.9 2329.4,849.1 2321.6,853.4Z M2281.4,847.5 2290.3,847.5 2294.3,852.5 2286.8,853.4Z M2292.4,756.4 2299.9,757.3 2311.1,759 2322.2,759 2331.1,753.9 2328.2,760.7 2318.6,764 2311.1,763.6 2303.7,763.2 2294.8,763.2 2292.5,771.6 2298.4,778.4 2303.6,775 2310.3,775 2317,775 2311,780 2305,783.4 2308.4,792.7 2310.5,796.9 2313.8,805.3 2311.2,812.1 2304.7,807.8 2302.8,801.1 2299.5,791 2295.8,792.7 2294.5,805.3 2294,813.7 2287.3,813.7 2288,801.1 2286.7,796.1 2283.9,790.2 2286,783.8 2288,777.5 2291,769.9 2291,763.2Z M2348.1,749.7 2356.4,754.8 2357.3,764.9 2351.3,774.1 2349.8,763.2 2347.5,757.3Z M2351.5,792.7 2362,792.7 2372.4,792.7 2369.9,797.7 2362.5,797.3 2355.1,796.9Z M2374.4,774.1 2385.6,770.8 2396.7,774.1 2398.4,781.3 2400.1,788.5 2407.2,795.2 2418.8,784.3 2430,782.6 2439.2,785.9 2448.4,789.3 2455.7,792.7 2463,796.1 2474,799.4 2483,809.5 2491.4,818 2496.9,823.9 2490.9,824.7 2493.9,833.1 2500.4,843.2 2510.5,853.4 2516,856.7 2506.7,854.2 2495.7,853.4 2490.4,847.5 2482.4,837.3 2471.8,832.3 2463.9,837.3 2459.5,844.9 2448.4,844.9 2438,836.5 2426.8,837.3 2423.8,828.9 2431.4,826.4 2428.3,818 2421.3,809.5 2414.1,807 2406.8,804.5 2399.5,802 2392.2,799.4 2386.9,801.1 2381.3,791.8 2392.6,788.5 2383.8,785.9 2374.3,779.2Z M2501.3,814.6 2507.8,812.1 2514.3,809.5 2525.8,802.8 2531.7,803.6 2529,811.2 2519.6,818 2509.8,820.5Z M2521.3,789.3 2530,794.4 2536.8,805.3 2534.5,807 2526.2,795.2Z M2548.2,813.7 2554.5,818 2557.7,824.7 2552.6,823.9Z M2581.7,845.8 2589,846.6 2590.8,850.8 2583.5,850Z M2590.8,837.3 2595.1,845.8 2592.7,847.5 2589.8,839.9Z M2598.1,936.8 2605.5,943.9 2612.8,951.1 2615.1,956.2 2610.9,955.3 2605.5,949.4 2600.1,943.5Z M2700.9,914.9 2710.3,915.7 2708.2,920.8 2700.4,919.9Z M2714.2,905.6 2723.4,903.9 2718.3,909.8 2712.5,909.8Z M1991.5,685.7 1998.5,691.6 2006.5,704.2 2006.1,712.6 1998.2,717.3 1993.6,714.3 1991.7,704.2 1991.3,695.8Z M1362.6,346.9 1372.3,344.4 1376.8,345.2 1380.8,342 1385.9,341.6 1391.1,341.2 1396.2,341.2 1401.3,341.2 1408.4,337.9 1404.5,335.5 1410.2,326.6 1400.7,324.2 1400.7,318.6 1398.1,315.4 1391.9,310.6 1389.5,303.4 1386.5,299.4 1380.3,299.4 1382.2,296.3 1386.6,290.8 1388.5,286.8 1383.3,286.4 1378.2,286.1 1373.9,287.6 1380.1,281.4 1380.7,278.6 1375,278.8 1369.3,279 1364.1,287.6 1364.4,295.5 1365.4,301.8 1369.7,303.4 1368.9,309 1377.6,308.2 1378.1,313 1381.2,317 1379.9,321 1371,321 1370.9,325 1373.4,328.2 1366.3,332.3 1372.6,334.7 1382.1,335.5 1372.5,337.9 1367.2,343.6Z M1360.3,321 1360.6,329.8 1358.7,329.8 1352.6,331.4 1346.5,333.1 1336.8,335.5 1333.9,330.6 1339.3,325 1339.5,321.8 1336.5,319.4 1336.8,313.8 1346.3,312.2 1345.9,308.2 1353.5,305 1360.9,305.8 1364.5,310.6 1362.4,315.4Z M1262.9,225.9 1268.5,222.9 1274.1,220 1278.5,226.6 1285.6,224.4 1292.3,222.9 1298.9,221.5 1304.6,220.4 1310.4,219.3 1317.9,221.5 1322.7,228.8 1316.9,234.8 1310.9,237 1304.9,239.3 1298.1,240.8 1291.3,242.3 1286.6,241.5 1281.8,240.8 1275.9,240 1270,239.3 1274.2,234.8 1268.9,232.9 1263.6,231.1 1269.5,229.6 1275.4,228.1 1269.1,227Z M1450.5,130.7 1457.3,129.8 1464.1,129 1471.1,129 1478,129 1484.1,128.6 1490.1,128.2 1496.2,127.8 1502,128 1507.8,128.1 1513.6,128.3 1519.4,128.4 1525.1,131.3 1519.6,132.2 1514,133 1508.5,133.9 1502.8,134.8 1496,135.7 1489.2,136.6 1495.7,138.7 1502.2,140.9 1495.8,144 1489.3,147.2 1482.5,149.7 1477.4,148.4 1472.3,147.2 1466.7,142.8 1463.6,139 1458.6,137.5 1453.7,136Z M1669.9,183.7 1679.8,187.9 1686.8,188.6 1693.8,189.3 1699.1,189.3 1704.4,189.3 1691.7,180.3 1684.6,172.1 1689.1,166.7 1692.1,163.4 1695,160.1 1700.3,156.8 1705.4,153.6 1710.7,151.8 1715.9,150.1 1721.1,148.4 1727.7,148.1 1734.2,147.8 1733.5,151.6 1728.6,153.2 1723.7,154.9 1718.7,156.5 1713.7,158.1 1708.7,161.8 1703.5,165.4 1699.6,169.4 1695.6,173.5 1690.1,175.2 1684.6,176.9 1679.8,177.5 1675,178.2Z M1616,127.8 1621.8,126.2 1627.5,124.5 1634,123.9 1640.4,123.4 1646.8,122.9 1653.2,122.3 1660.2,122.6 1667.2,122.9 1674.3,123.1 1681.3,123.4 1689.1,124.5 1697,125.6 1692,126.4 1687,127.3 1681.9,128.1 1676.9,129 1669.7,128.7 1662.5,128.4 1655.4,128.1 1648.3,127.8 1642.5,128.4 1636.8,129 1631,129.6 1623.5,128.7Z M1821.1,127.8 1824.1,126 1827,124.1 1830,122.3 1838.2,123.4 1846.5,124.5 1854.1,126.7 1861.8,129 1869.8,130.3 1877.9,131.7 1886,133 1898.1,138.4 1893,140 1887.8,141.5 1878.7,140 1869.6,138.4 1862.5,136.6 1855.5,134.8 1848.5,133.6 1841.6,132.5 1834.7,131.3 1827.9,129.6Z M2082.8,158.1 2083.1,155.2 2083.4,152.3 2090.6,152.7 2097.9,153.1 2105.2,153.6 2112.9,155.2 2120.5,156.8 2118.8,158.8 2116.9,160.8 2110.9,161.2 2104.9,161.6 2098.9,162.1 2090.8,160.1Z M2129.1,157.5 2133.7,156.5 2138.2,155.5 2146,157.2 2153.8,158.8 2151,160.1 2148.1,161.4 2142.6,161.1 2137,160.8Z M2115.8,170.1 2121.5,169.9 2127.1,169.6 2132.8,169.4 2136.7,172.1 2129,172.1 2121.3,172.1Z M1058.7,218.5 1049.7,224 1040.7,229.6 1033.3,235.9 1025.7,242.3 1017.5,252.8 1009.6,251.3 1001.6,249.8 994.1,247.5 986.7,245.3 981.2,239.6 975.9,234 969.2,234.3 962.4,234.5 955.6,234.8 963,227.4 969.6,227.4 976.2,227.4 982.7,227.4 989.7,220.4 996.7,213.4 993.5,209.8 990.3,206.2 985.7,203.6 981.1,201 976.6,198.4 977.9,192.8 968.9,194.2 959.8,195.6 953.9,195.1 948,194.6 942.1,194.2 934.9,193.1 927.8,192.1 927.6,185.8 931.9,178.9 942.1,172.1 951.6,170.1 961.1,168.1 967.7,168.3 974.3,168.5 980.9,168.8 982,176.9 989.5,175.5 997,174.1 1001.7,174.8 1006.3,175.5 1009.6,181.6 1015.5,184.4 1021.6,187.2 1026.4,190 1031.2,192.8 1035,199.8 1038.2,208.4 1045,210.9 1051.9,213.4 1055.3,216Z M1005.8,152.3 1000.1,151.8 994.4,151.3 988.8,150.8 983.1,150.3 976.1,150.8 969.2,151.2 962.2,151.6 968,144 976.5,141.8 984.8,139.7 985.6,134.8 994.7,131 1003.7,127.3 999.5,126 995.3,124.8 991.1,123.5 987,122.3 996.5,120.2 1005.9,118.1 1012.9,117.2 1019.9,116.4 1026.8,115.6 1033.8,114.7 1040.7,113.9 1047.5,113.1 1053.5,113 1059.4,112.9 1065.4,112.9 1071.3,112.8 1077.3,112.7 1083.2,112.6 1089.1,112.9 1094.9,113.2 1100.8,113.5 1106.6,113.8 1112.5,114.1 1118,115.3 1123.5,116.6 1117.2,118.6 1110.8,120.7 1102.8,122.1 1094.7,123.4 1087.6,126.2 1080.3,129 1074,129.9 1067.7,130.9 1061.3,131.9 1054.1,133.3 1046.7,134.8 1038.5,140.9 1030.1,143.4 1021.6,145.9 1017.4,150.3 1011.6,151.3Z M985.5,139 981.5,138.4 977.4,137.8 973.8,134.8 970.4,131.9 968.2,129 966.1,126.2 973.2,124.2 980.2,122.3 983.8,123.6 987.5,124.9 991.3,126.2 991.4,131.9Z M1001.5,156.8 993.8,159.8 986.2,162.8 978.6,162.8 971,162.8 963.5,162.8 955.9,162.8 949.6,162.3 943.4,161.9 937.1,161.4 942.5,156.2 948.1,151 953.6,151.6 959,152.3 959.3,156.8 968.2,155.3 977.2,153.8 986.1,152.3 991,153.1 995.9,154 1000.9,154.9Z M830.6,201.9 822.7,202.7 814.8,203.4 806.9,204.1 798.9,203.8 791,203.6 783.1,203.4 778.5,201.2 773.9,199.1 773.6,194.2 782,193 790.3,191.8 798.6,190.7 792.6,188.8 786.7,186.9 780.8,185.1 775.2,183 788.3,176.2 798.4,174.1 808.5,172.1 814.2,172.8 819.8,173.5 825.5,174.1 831.2,174.8 839.1,173.5 847,172.1 852,173.5 857,174.8 847.9,183.7 851.5,188.2 855.2,192.8 852.1,199.1 841.4,201.9 836,201.9Z M747,180.3 748.4,185.8 757.5,184.7 766.5,183.7 783.8,173.5 790.6,172.8 797.4,172.1 804.2,171.4 803.9,165.4 798.8,164.7 793.8,164.1 788.7,163.4 782.3,163.9 775.8,164.3 769.3,164.7 755.4,173.5Z M814.9,158.8 819.6,160.3 824.3,161.9 829.1,163.4 836,162.9 842.9,162.4 849.8,161.9 856.7,161.4 863.3,160.1 869.9,158.8 876.2,153.6 871.7,151.3 867.3,149.1 859.6,149.9 851.9,150.8 844.2,151.6 837.4,151.8 830.6,152.1 823.7,152.3Z M792.3,153.6 798.6,153.8 804.9,154 811.1,154.2 822.6,151.3 834,148.4 832.3,146.2 830.6,144 822,145.5 813.4,146.9 804.7,148.4Z M898.4,160.1 906.4,158.5 914.5,156.8 919.4,150.3 912.9,149.7 906.3,149.1 897,150.7 887.7,152.3 883.1,158.1 888.2,158.8 893.3,159.5Z M878.2,185.1 888.6,181 899,176.9 904.4,168.8 897.7,167.7 891.2,166.7 881.3,170.1 871.3,173.5 867.1,180.3 872.6,182.7Z M902.2,178.9 907.9,179.4 913.6,179.8 919.2,180.3 927.5,176.9 935.7,173.5 939.4,166.7 931.8,166.7 924.2,166.7 916.6,166.7 909.3,172.8Z M861,201.2 870.2,198.4 879.4,195.6 885.6,197.7 878.1,203.4 871.3,203.4 864.6,203.4Z M910.1,226.6 919.3,225.5 928.4,224.4 931.8,229.9 935.2,235.5 937.6,240.8 929,243 920.3,245.3 913.6,244.5 906.9,243.8 901.3,239.3 911.6,232.5Z M899.1,139.7 905.8,140 912.6,140.3 919.3,140.6 926.1,140.9 933.2,139 940.2,137.2 938.2,135.1 936.2,133 930.2,133.2 924.1,133.3 918.1,133.5 912,133.6Z M915.9,160.1 922.4,161.1 928.9,162.1 934.4,156.8 929.8,156.5 925.2,156.2Z M1010.1,367.3 1017.6,359.9 1015.7,355.8 1029.3,343.6 1035.9,337.1 1045,334.7 1038.9,343.6 1032,349.3 1040.4,349.3 1049.4,351.8 1052.5,359.1 1053.3,368.2 1048.2,374.7 1042,373.1 1033.5,373.1 1031.8,367.3 1022,367.3 1016.1,367.3Z M575.4,341.2 581.9,342.4 588.4,343.6 592,347.7 593.5,359.9 585.6,359.9 581.5,353.4 578,350.1 574.4,346.9Z M566.7,314.6 574.1,315.4 570.1,322.2 566.1,329 562.4,325Z M459.7,287.6 473,283.7 474.6,286.8 461.7,291.5Z M780.8,582.8 788.3,578.2 795.9,573.6 806.9,572.7 817.6,574.4 826.1,579.1 834.6,583.7 841.4,587.9 848.2,592.1 857.2,597.2 847.4,599.7 839.3,600.1 831.2,600.5 835.6,593.8 827,586.2 819.9,585 812.8,583.7 802.5,578.6 791.3,580.3Z M853.3,612.3 859.4,613.6 865.5,614.9 873.2,618.2 879.7,615.7 886.2,613.2 892.1,613.2 897.9,613.2 896.2,608.1 888.1,602.2 881.6,601.4 875.1,600.5 868.9,600.1 862.7,599.7 866.5,605.6 868.9,610.7 862,610.2 855,609.8Z M825.4,613.2 832.6,614 839.8,614.9 838.2,616.6 827.1,617.4Z M906.8,612.3 917.7,613.2 916.8,615.7 906.5,615.7Z M941.1,677.2 947.8,676.4 947.5,682.3 940.8,682.3Z M1486,447.2 1493.1,446.7 1500.2,446.1 1507.3,445.5 1504.6,458.1 1495.3,454.4 1486.1,450.6Z M1455.4,422.1 1465.6,422.1 1465.6,429.6 1465.5,437.2 1457.3,438.8 1456.3,430.5Z M1457.6,409.6 1463.5,405.4 1464.1,417.9 1458.6,417.1Z M1564.6,467.4 1574.2,469.1 1583.8,470.8 1577.6,472 1571.4,473.3 1564.1,470.8Z M1626,472.5 1633.8,469.5 1641.5,466.6 1638.1,473.3 1631.3,475.8Z M259.4,597.2 265.9,600.5 259.9,607.7 258.2,602.2Z M624.2,1427.7 631.2,1428.1 638.3,1428.4 645.3,1428.7 652.2,1429 659.2,1429.3 666.2,1429.6 673.1,1429.9 679.5,1430 686,1430.2 692.4,1430.3 698.8,1430.4 705.2,1430.5 711.6,1430.6 718,1430.8 723.3,1430.5 728.6,1430.2 734,1429.9 739.3,1429.5 744.7,1429.2 750.1,1428.9 755.5,1428.6 751.5,1424.1 747.4,1419.2 729.7,1414.1 711.6,1408.6 701.5,1406.5 691.2,1404.4 680.9,1402.2 670.6,1400 654.3,1395.4 637.9,1390.8 636.6,1387.6 642.9,1387.4 649.2,1387.1 655.5,1386.9 661.9,1386.6 668.2,1386.4 670.2,1383.8 672.2,1381.2 674.4,1378.6 680.7,1378 687.1,1377.3 693.6,1376.7 700,1376 704.7,1375 709.5,1374 714.2,1373 719.1,1372 724.9,1371.7 730.7,1371.4 736.5,1371.1 742.4,1370.7 746.9,1369.4 751.4,1368.1 756,1366.7 760.6,1365.4 767.8,1366 775.1,1366.7 782.3,1367.4 789.5,1368.1 795.9,1368.1 802.2,1368.1 808.6,1368.1 814.9,1368.1 824.6,1369.7 834.2,1371.4 842.2,1372.5 850.3,1373.6 858.3,1374.7 864.9,1375 871.6,1375.3 878.2,1375.7 884.8,1376 889.7,1373.7 894.7,1371.4 879.1,1361.3 883.4,1357.9 887.9,1354.5 897.7,1356.6 907.4,1358.6 914.2,1359 921,1359.3 927.7,1359.6 934.5,1360 941.6,1360.7 948.6,1361.3 955.6,1362 962.7,1362.7 968.8,1362.3 974.9,1362 981.1,1361.7 987.3,1361.3 994.5,1361.8 1001.7,1362.2 1008.9,1362.7 1012.2,1360.3 1015.7,1357.9 1006.7,1352.8 997.8,1347.6 1000.7,1344.1 1003.6,1340.6 1006.7,1337.1 1009.8,1333.6 1015.7,1330 1021.8,1326.4 1025.8,1319.2 1030.2,1311.9 1034.7,1304.5 1039,1301.9 1043.4,1299.3 1049.6,1297.4 1055.9,1295.5 1063.6,1293.7 1071.4,1291.8 1071.9,1299.3 1066,1301.9 1060.1,1304.5 1056.3,1308.2 1052.5,1311.9 1048.8,1315.5 1045.2,1319.2 1041.7,1327.9 1049.8,1332.5 1057.8,1337.1 1069.8,1344.1 1081,1354.5 1087.2,1364.7 1086.5,1371.4 1083.7,1374.7 1081.1,1378 1076.1,1380.1 1071.2,1382.3 1066.4,1384.5 1061.6,1386.6 1057,1388.7 1052.4,1390.8 1046.6,1392.4 1040.8,1393.9 1035.2,1395.4 1029.6,1397 1029.5,1401.5 1029.5,1405.8 1036.8,1407.2 1044,1408.6 1051.2,1410 1058.3,1411.4 1065.8,1412.5 1073.3,1413.6 1080.7,1414.6 1088,1415.7 1095.3,1416.7 1102.1,1417.6 1108.8,1418.4 1115.5,1419.2 1122.2,1420.1 1128.9,1420.9 1135.5,1421.7 1140.4,1421.1 1145.4,1420.5 1150.4,1419.9 1155.5,1419.2 1160,1418 1164.6,1416.7 1169.2,1415.4 1173.9,1414.1 1178.6,1412.7 1183.4,1411.4 1188.2,1410 1193,1408.6 1197.9,1407.2 1202.9,1405.8 1207.9,1404.4 1212.9,1402.9 1217.9,1401.5 1223.1,1400 1228.2,1398.5 1233.4,1397 1238.4,1394.7 1243.4,1392.4 1248.5,1390 1253.6,1387.6 1259.8,1384.5 1266.1,1381.2 1272.6,1378 1279.1,1374.7 1285,1371.4 1291,1368.1 1297.1,1364.7 1304.3,1362.3 1311.6,1360 1318.2,1358.2 1324.8,1356.3 1331.6,1354.5 1339,1351.1 1346.6,1347.6 1354.4,1346.2 1362.2,1344.8 1369.3,1345.3 1376.4,1345.8 1383.5,1346.2 1391.4,1344.1 1399.4,1342 1406.1,1341.7 1412.8,1341.3 1419.4,1341 1426.1,1340.6 1432.8,1340.6 1439.5,1340.6 1446.2,1340.6 1452.9,1340.6 1459.6,1340.3 1466.3,1339.9 1473.1,1339.6 1479.8,1339.2 1486.5,1339.6 1493.1,1339.9 1499.7,1340.3 1506.4,1340.6 1513,1341 1519.6,1341.3 1526.2,1341.7 1532.8,1342 1539.8,1340.8 1546.7,1339.6 1553.8,1338.4 1560.8,1337.1 1569.6,1334.6 1578.4,1332.1 1583.3,1333.9 1588.1,1335.7 1595.7,1337.5 1603.1,1339.2 1609.5,1336.4 1615.8,1333.6 1623.4,1331.4 1631,1329.3 1638.6,1327.1 1646.2,1325 1653.7,1323.5 1661.1,1322.1 1668.6,1320.6 1676.1,1319.2 1684.5,1316.8 1693,1314.3 1701.5,1311.9 1708.9,1314.1 1716.2,1316.3 1723.3,1318.8 1730.4,1321.4 1738.4,1321.7 1746.5,1322.1 1754.4,1322.8 1762.2,1323.5 1770.1,1324.3 1777.9,1325 1780.4,1330 1782.9,1334.6 1785.4,1339.2 1778.5,1341.7 1771.6,1344.1 1762.9,1349.4 1754.3,1354.5 1762.1,1354.5 1770,1354.5 1782.5,1347.6 1795.2,1340.6 1802.2,1338.2 1809.2,1335.7 1816.5,1332.9 1823.9,1330 1831.1,1327.5 1838.2,1325 1848.5,1322.1 1858.7,1319.2 1866.8,1318.2 1874.9,1317.2 1883,1316.3 1891.3,1316.3 1899.7,1316.3 1908.6,1315.5 1917.5,1314.8 1926.4,1314.1 1935.3,1313.3 1943.5,1312.4 1951.8,1311.4 1960.1,1310.4 1969.4,1309.3 1978.7,1308.2 1984.7,1311.1 1990.5,1314.1 1998.6,1313.3 2006.7,1312.6 2014.8,1311.9 2023.9,1311.1 2032.9,1310.4 2038.9,1313 2044.9,1315.5 2052.1,1315.8 2059.2,1316 2066.4,1316.3 2074.3,1315.8 2082.2,1315.3 2090.1,1314.8 2096.6,1315.8 2103,1316.8 2109.3,1317.7 2118.8,1315.8 2128.3,1313.8 2137.9,1311.9 2146.3,1311.9 2154.7,1311.9 2161.8,1313 2169,1314.1 2176.1,1315.2 2183.1,1316.3 2189.8,1317.7 2196.3,1319.2 2201.1,1322.1 2205.8,1325 2211.7,1326.8 2217.6,1328.6 2225.3,1328.9 2233,1329.3 2238.3,1331.4 2243.6,1333.6 2249.7,1335 2255.8,1336.4 2259.3,1339.6 2262.8,1342.7 2269.7,1343.4 2276.6,1344.1 2283,1345.2 2289.3,1346.2 2292.7,1348 2296,1349.7 2281,1357.9 2264.2,1364.7 2250.7,1368.1 2237.2,1371.4 2226.1,1374.7 2215,1378 2191.4,1387.6 2183.4,1393.9 2169.1,1398.5 2154.8,1402.9 2140.8,1407.2 2127,1411.4 2122.4,1415.4 2117.9,1419.2 2121.6,1420.5 2125.2,1421.7 2128.8,1422.9 2132.4,1424.1 2136.8,1424.7 2141.2,1425.4 2145.6,1426 2149.9,1426.7 2154.3,1427.3 2159.1,1427.5 2163.8,1427.7 2168.6,1428 2173.3,1428.2 2156.4,1434 2140.5,1439.1 2125.8,1443.5 2112.4,1447 2106.4,1447 2100.5,1447 2094.6,1447 2088.6,1447 2082.7,1447 2076.7,1447 2070.8,1447 2064.9,1447 2058.9,1447 2053,1447 2047,1447 2041.1,1447 2035.1,1447 2029.2,1447 2023.3,1447 2017.3,1447 2011.4,1447 2005.4,1447 1999.5,1447 1993.6,1447 1987.6,1447 1981.7,1447 1975.7,1447 1969.8,1447 1963.8,1447 1957.9,1447 1952,1447 1946,1447 1940.1,1447 1934.1,1447 1928.2,1447 1922.3,1447 1916.3,1447 1910.4,1447 1904.4,1447 1898.5,1447 1892.6,1447 1886.6,1447 1880.7,1447 1874.7,1447 1868.8,1447 1862.8,1447 1856.9,1447 1851,1447 1845,1447 1839.1,1447 1833.1,1447 1827.2,1447 1821.3,1447 1815.3,1447 1809.4,1447 1803.4,1447 1797.5,1447 1791.5,1447 1785.6,1447 1779.7,1447 1773.7,1447 1767.8,1447 1761.8,1447 1755.9,1447 1750,1447 1744,1447 1738.1,1447 1732.1,1447 1726.2,1447 1720.2,1447 1714.3,1447 1708.4,1447 1702.4,1447 1696.5,1447 1690.5,1447 1684.6,1447 1678.7,1447 1672.7,1447 1666.8,1447 1660.8,1447 1654.9,1447 1648.9,1447 1643,1447 1637.1,1447 1631.1,1447 1625.2,1447 1619.2,1447 1613.3,1447 1607.4,1447 1601.4,1447 1595.5,1447 1589.5,1447 1583.6,1447 1577.6,1447 1571.7,1447 1565.8,1447 1559.8,1447 1553.9,1447 1547.9,1447 1542,1447 1536.1,1447 1530.1,1447 1524.2,1447 1518.2,1447 1512.3,1447 1506.3,1447 1500.4,1447 1494.5,1447 1488.5,1447 1482.6,1447 1476.6,1447 1470.7,1447 1464.8,1447 1458.8,1447 1452.9,1447 1446.9,1447 1441,1447 1435,1447 1429.1,1447 1423.2,1447 1417.2,1447 1411.3,1447 1405.3,1447 1399.4,1447 1393.5,1447 1387.5,1447 1381.6,1447 1375.6,1447 1369.7,1447 1363.8,1447 1357.8,1447 1351.9,1447 1345.9,1447 1340,1447 1334,1447 1328.1,1447 1322.2,1447 1316.2,1447 1310.3,1447 1304.3,1447 1298.4,1447 1292.5,1447 1286.5,1447 1280.6,1447 1274.6,1447 1268.7,1447 1262.7,1447 1256.8,1447 1250.9,1447 1244.9,1447 1239,1447 1233,1447 1227.1,1447 1221.2,1447 1215.2,1447 1209.3,1447 1203.3,1447 1197.4,1447 1191.4,1447 1185.5,1447 1179.6,1447 1173.6,1447 1167.7,1447 1161.7,1447 1155.8,1447 1149.9,1447 1143.9,1447 1138,1447 1132,1447 1126.1,1447 1120.1,1447 1114.2,1447 1108.3,1447 1102.3,1447 1096.4,1447 1090.4,1447 1084.5,1447 1078.6,1447 1072.6,1447 1066.7,1447 1060.7,1447 1054.8,1447 1048.8,1447 1042.9,1447 1037,1447 1031,1447 1025.1,1447 1019.1,1447 1013.2,1447 1007.3,1447 1001.3,1447 995.4,1447 989.4,1447 983.5,1447 977.5,1447 971.6,1447 965.7,1447 959.7,1447 953.8,1447 947.8,1447 941.9,1447 936,1447 930,1447 924.1,1447 918.1,1447 912.2,1447 906.2,1447 900.3,1447 894.4,1447 888.4,1447 882.5,1447 876.5,1447 870.6,1447 864.7,1447 858.7,1447 852.8,1447 846.8,1447 840.9,1447 835,1447 829,1447 823.1,1447 817.1,1447 811.2,1447 805.2,1447 799.3,1447 793.4,1447 787.4,1447 781.5,1447 775.5,1447 769.6,1447 763.7,1447 757.7,1447 751.8,1447 745.8,1447 739.9,1447 733.9,1447 728,1447 722.1,1447 716.1,1447 710.2,1447 704.2,1447 698.3,1447 692.4,1447 686.4,1447 672.7,1443.4 657.7,1438.9 641.5,1433.7Z" fill="#808080" stroke="none"/>
<g shape-rendering="crispEdges"><path d="M1080,104L1292.9,104L1283.8,129L1052.6,129Z" fill="#cacaff"/><path d="M1292.9,104L1676.2,104L1700,129L1283.8,129Z" fill="#d9d9ff"/><path d="M960.1,129L1075.7,129L1048.7,160.1L923.4,160.1Z" fill="#cacaff"/><path d="M1075.7,129L1306.9,129L1299.2,160.1L1048.7,160.1Z" fill="#bbbbff"/><path d="M1306.9,129L1353.2,129L1349.3,160.1L1299.2,160.1Z" fill="#cacaff"/><path d="M1353.2,129L1399.4,129L1399.4,160.1L1349.3,160.1Z" fill="#e6e6ff"/><path d="M1399.4,129L1445.6,129L1449.5,160.1L1399.4,160.1Z" fill="#f0f0ff"/><path d="M1445.6,129L1468.8,129L1474.6,160.1L1449.5,160.1Z" fill="#f9f9ff"/><path d="M1468.8,129L1538.1,129L1549.7,160.1L1474.6,160.1Z" fill="#f0f0ff"/><path d="M1538.1,129L1653.7,129L1675,160.1L1549.7,160.1Z" fill="#d9d9ff"/><path d="M1653.7,129L1723.1,129L1750.1,160.1L1675,160.1Z" fill="#cacaff"/><path d="M1723.1,129L1838.7,129L1875.4,160.1L1750.1,160.1Z" fill="#bbbbff"/><path d="M923.4,160.1L998.6,160.1L971.5,194.2L891.3,194.2Z" fill="#cacaff"/><path d="M998.6,160.1L1023.6,160.1L998.3,194.2L971.5,194.2Z" fill="#bbbbff"/><path d="M1023.6,160.1L1299.2,160.1L1292.4,194.2L998.3,194.2Z" fill="#aaaaff"/><path d="M1299.2,160.1L1324.2,160.1L1319.2,194.2L1292.4,194.2Z" fill="#cacaff"/><path d="M1324.2,160.1L1349.3,160.1L1345.9,194.2L1319.2,194.2Z" fill="#d9d9ff"/><path d="M1349.3,160.1L1374.3,160.1L1372.7,194.2L1345.9,194.2Z" fill="#f9f9ff"/><path d="M1374.3,160.1L1399.4,160.1L1399.4,194.2L1372.7,194.2Z" fill="#fff0f0"/><path d="M1474.6,160.1L1524.7,160.1L1533.1,194.2L1479.6,194.2Z" fill="#ffe3e3"/><path d="M1524.7,160.1L1574.8,160.1L1586.6,194.2L1533.1,194.2Z" fill="#fff0f0"/><path d="M1624.9,160.1L1649.9,160.1L1666.8,194.2L1640.1,194.2Z" fill="#f0f0ff"/><path d="M1649.9,160.1L1675,160.1L1693.6,194.2L1666.8,194.2Z" fill="#e6e6ff"/><path d="M1675,160.1L1700,160.1L1720.3,194.2L1693.6,194.2Z" fill="#cacaff"/><path d="M1700,160.1L1725.1,160.1L1747,194.2L1720.3,194.2Z" fill="#bbbbff"/><path d="M1725.1,160.1L1925.5,160.1L1961,194.2L1747,194.2Z" fill="#9595ff"/><path d="M1925.5,160.1L1975.6,160.1L2014.5,194.2L1961,194.2Z" fill="#bbbbff"/><path d="M436.7,194.2L516.9,194.2L466.4,230.3L381.6,230.3Z" fill="#f0f0ff"/><path d="M516.9,194.2L650.6,194.2L607.8,230.3L466.4,230.3Z" fill="#d9d9ff"/><path d="M650.6,194.2L784.3,194.2L749.2,230.3L607.8,230.3Z" fill="#cacaff"/><path d="M891.3,194.2L944.8,194.2L918.8,230.3L862.2,230.3Z" fill="#cacaff"/><path d="M944.8,194.2L1105.2,194.2L1088.4,230.3L918.8,230.3Z" fill="#aaaaff"/><path d="M1105.2,194.2L1238.9,194.2L1229.8,230.3L1088.4,230.3Z" fill="#bbbbff"/><path d="M1238.9,194.2L1319.2,194.2L1314.6,230.3L1229.8,230.3Z" fill="#d9d9ff"/><path d="M1319.2,194.2L1399.4,194.2L1399.4,230.3L1314.6,230.3Z" fill="#ffe3e3"/><path d="M1399.4,194.2L1479.6,194.2L1484.2,230.3L1399.4,230.3Z" fill="#ffd4d4"/><path d="M1479.6,194.2L1533.1,194.2L1540.8,230.3L1484.2,230.3Z" fill="#ffe3e3"/><path d="M1533.1,194.2L1613.3,194.2L1625.6,230.3L1540.8,230.3Z" fill="#fff0f0"/><path d="M1613.3,194.2L1640.1,194.2L1653.8,230.3L1625.6,230.3Z" fill="#fff9f9"/><path d="M1640.1,194.2L1666.8,194.2L1682.1,230.3L1653.8,230.3Z" fill="#f0f0ff"/><path d="M1666.8,194.2L1693.6,194.2L1710.4,230.3L1682.1,230.3Z" fill="#e6e6ff"/><path d="M1693.6,194.2L1720.3,194.2L1738.7,230.3L1710.4,230.3Z" fill="#cacaff"/><path d="M1720.3,194.2L1773.8,194.2L1795.2,230.3L1738.7,230.3Z" fill="#aaaaff"/><path d="M1773.8,194.2L1800.5,194.2L1823.5,230.3L1795.2,230.3Z" fill="#8484ff"/><path d="M1800.5,194.2L1907.5,194.2L1936.6,230.3L1823.5,230.3Z" fill="#6e6eff"/><path d="M1907.5,194.2L1934.2,194.2L1964.8,230.3L1936.6,230.3Z" fill="#8484ff"/><path d="M1934.2,194.2L1961,194.2L1993.1,230.3L1964.8,230.3Z" fill="#9595ff"/><path d="M1961,194.2L1987.7,194.2L2021.4,230.3L1993.1,230.3Z" fill="#aaaaff"/><path d="M1987.7,194.2L2014.5,194.2L2049.6,230.3L2021.4,230.3Z" fill="#bbbbff"/><path d="M2014.5,194.2L2041.2,194.2L2077.9,230.3L2049.6,230.3Z" fill="#cacaff"/><path d="M381.6,230.3L409.9,230.3L359.2,268.2L329.5,268.2Z" fill="#fff0f0"/><path d="M409.9,230.3L466.4,230.3L418.7,268.2L359.2,268.2Z" fill="#f0f0ff"/><path d="M466.4,230.3L607.8,230.3L567.3,268.2L418.7,268.2Z" fill="#d9d9ff"/><path d="M607.8,230.3L890.5,230.3L864.5,268.2L567.3,268.2Z" fill="#cacaff"/><path d="M890.5,230.3L1060.1,230.3L1042.8,268.2L864.5,268.2Z" fill="#bbbbff"/><path d="M1060.1,230.3L1088.4,230.3L1072.5,268.2L1042.8,268.2Z" fill="#f9f9ff"/><path d="M1088.4,230.3L1173.2,230.3L1161.6,268.2L1072.5,268.2Z" fill="#f0f0ff"/><path d="M1173.2,230.3L1201.5,230.3L1191.4,268.2L1161.6,268.2Z" fill="#fff0f0"/><path d="M1201.5,230.3L1229.8,230.3L1221.1,268.2L1191.4,268.2Z" fill="#ffe3e3"/><path d="M1229.8,230.3L1314.6,230.3L1310.2,268.2L1221.1,268.2Z" fill="#fff0f0"/><path d="M1314.6,230.3L1399.4,230.3L1399.4,268.2L1310.2,268.2Z" fill="#ffe3e3"/><path d="M1399.4,230.3L1455.9,230.3L1458.8,268.2L1399.4,268.2Z" fill="#ffd4d4"/><path d="M1455.9,230.3L1569,230.3L1577.7,268.2L1458.8,268.2Z" fill="#ffe3e3"/><path d="M1569,230.3L1625.6,230.3L1637.2,268.2L1577.7,268.2Z" fill="#ffd4d4"/><path d="M1625.6,230.3L1653.8,230.3L1666.9,268.2L1637.2,268.2Z" fill="#ffe3e3"/><path d="M1653.8,230.3L1682.1,230.3L1696.6,268.2L1666.9,268.2Z" fill="#fff9f9"/><path d="M1682.1,230.3L1710.4,230.3L1726.3,268.2L1696.6,268.2Z" fill="#f0f0ff"/><path d="M1710.4,230.3L1738.7,230.3L1756,268.2L1726.3,268.2Z" fill="#cacaff"/><path d="M1738.7,230.3L1766.9,230.3L1785.7,268.2L1756,268.2Z" fill="#aaaaff"/><path d="M1766.9,230.3L1795.2,230.3L1815.5,268.2L1785.7,268.2Z" fill="#9595ff"/><path d="M1795.2,230.3L1823.5,230.3L1845.2,268.2L1815.5,268.2Z" fill="#8484ff"/><path d="M1823.5,230.3L1908.3,230.3L1934.3,268.2L1845.2,268.2Z" fill="#6e6eff"/><path d="M1908.3,230.3L1936.6,230.3L1964.1,268.2L1934.3,268.2Z" fill="#8484ff"/><path d="M1936.6,230.3L1993.1,230.3L2023.5,268.2L1964.1,268.2Z" fill="#9595ff"/><path d="M1993.1,230.3L2049.6,230.3L2082.9,268.2L2023.5,268.2Z" fill="#bbbbff"/><path d="M2049.6,230.3L2106.2,230.3L2142.4,268.2L2082.9,268.2Z" fill="#d9d9ff"/><path d="M2106.2,230.3L2219.3,230.3L2261.3,268.2L2142.4,268.2Z" fill="#f0f0ff"/><path d="M2219.3,230.3L2275.8,230.3L2320.7,268.2L2261.3,268.2Z" fill="#fff9f9"/><path d="M2332.4,230.3L2417.2,230.3L2469.3,268.2L2380.1,268.2Z" fill="#fff0f0"/><path d="M329.5,268.2L448.4,268.2L405,307.4L280.8,307.4Z" fill="#f0f0ff"/><path d="M448.4,268.2L597,268.2L560.4,307.4L405,307.4Z" fill="#cacaff"/><path d="M597,268.2L745.6,268.2L715.8,307.4L560.4,307.4Z" fill="#d9d9ff"/><path d="M745.6,268.2L1013.1,268.2L995.4,307.4L715.8,307.4Z" fill="#cacaff"/><path d="M1013.1,268.2L1042.8,268.2L1026.5,307.4L995.4,307.4Z" fill="#d9d9ff"/><path d="M1042.8,268.2L1131.9,268.2L1119.7,307.4L1026.5,307.4Z" fill="#f0f0ff"/><path d="M1131.9,268.2L1161.6,268.2L1150.8,307.4L1119.7,307.4Z" fill="#f9f9ff"/><path d="M1161.6,268.2L1191.4,268.2L1181.9,307.4L1150.8,307.4Z" fill="#ffffff"/><path d="M1191.4,268.2L1429.1,268.2L1430.5,307.4L1181.9,307.4Z" fill="#fff0f0"/><path d="M1429.1,268.2L1518.3,268.2L1523.7,307.4L1430.5,307.4Z" fill="#ffe3e3"/><path d="M1518.3,268.2L1548,268.2L1554.8,307.4L1523.7,307.4Z" fill="#ffd4d4"/><path d="M1548,268.2L1666.9,268.2L1679.1,307.4L1554.8,307.4Z" fill="#ffacac"/><path d="M1666.9,268.2L1696.6,268.2L1710.1,307.4L1679.1,307.4Z" fill="#ffd4d4"/><path d="M1696.6,268.2L1726.3,268.2L1741.2,307.4L1710.1,307.4Z" fill="#f0f0ff"/><path d="M1726.3,268.2L1756,268.2L1772.3,307.4L1741.2,307.4Z" fill="#cacaff"/><path d="M1756,268.2L1785.7,268.2L1803.4,307.4L1772.3,307.4Z" fill="#aaaaff"/><path d="M1785.7,268.2L1934.3,268.2L1958.7,307.4L1803.4,307.4Z" fill="#8484ff"/><path d="M1934.3,268.2L1993.8,268.2L2020.9,307.4L1958.7,307.4Z" fill="#aaaaff"/><path d="M1993.8,268.2L2053.2,268.2L2083,307.4L2020.9,307.4Z" fill="#cacaff"/><path d="M2053.2,268.2L2112.7,268.2L2145.2,307.4L2083,307.4Z" fill="#e6e6ff"/><path d="M2112.7,268.2L2142.4,268.2L2176.2,307.4L2145.2,307.4Z" fill="#ffffff"/><path d="M2142.4,268.2L2350.4,268.2L2393.8,307.4L2176.2,307.4Z" fill="#fff0f0"/><path d="M2350.4,268.2L2439.6,268.2L2487,307.4L2393.8,307.4Z" fill="#ffe3e3"/><path d="M280.8,307.4L374,307.4L333.6,347.7L236.7,347.7Z" fill="#f0f0ff"/><path d="M374,307.4L405,307.4L365.9,347.7L333.6,347.7Z" fill="#ffffff"/><path d="M405,307.4L591.5,307.4L559.7,347.7L365.9,347.7Z" fill="#ffe3e3"/><path d="M591.5,307.4L622.6,307.4L592,347.7L559.7,347.7Z" fill="#f9f9ff"/><path d="M622.6,307.4L746.9,307.4L721.1,347.7L592,347.7Z" fill="#d9d9ff"/><path d="M746.9,307.4L777.9,307.4L753.4,347.7L721.1,347.7Z" fill="#cacaff"/><path d="M777.9,307.4L871.1,307.4L850.3,347.7L753.4,347.7Z" fill="#bbbbff"/><path d="M871.1,307.4L1026.5,307.4L1011.8,347.7L850.3,347.7Z" fill="#cacaff"/><path d="M1026.5,307.4L1057.6,307.4L1044.1,347.7L1011.8,347.7Z" fill="#e6e6ff"/><path d="M1057.6,307.4L1119.7,307.4L1108.7,347.7L1044.1,347.7Z" fill="#f9f9ff"/><path d="M1119.7,307.4L1181.9,307.4L1173.3,347.7L1108.7,347.7Z" fill="#f0f0ff"/><path d="M1181.9,307.4L1399.4,307.4L1399.4,347.7L1173.3,347.7Z" fill="#e6e6ff"/><path d="M1399.4,307.4L1430.5,307.4L1431.7,347.7L1399.4,347.7Z" fill="#f9f9ff"/><path d="M1430.5,307.4L1492.6,307.4L1496.3,347.7L1431.7,347.7Z" fill="#fff0f0"/><path d="M1492.6,307.4L1523.7,307.4L1528.6,347.7L1496.3,347.7Z" fill="#ffd4d4"/><path d="M1523.7,307.4L1554.8,307.4L1560.9,347.7L1528.6,347.7Z" fill="#ffc1c1"/><path d="M1554.8,307.4L1585.8,307.4L1593.2,347.7L1560.9,347.7Z" fill="#ff9090"/><path d="M1585.8,307.4L1616.9,307.4L1625.5,347.7L1593.2,347.7Z" fill="#ff8080"/><path d="M1616.9,307.4L1648,307.4L1657.8,347.7L1625.5,347.7Z" fill="#ffacac"/><path d="M1648,307.4L1679.1,307.4L1690.1,347.7L1657.8,347.7Z" fill="#ffc1c1"/><path d="M1679.1,307.4L1710.1,307.4L1722.4,347.7L1690.1,347.7Z" fill="#ffd4d4"/><path d="M1710.1,307.4L1741.2,307.4L1754.7,347.7L1722.4,347.7Z" fill="#f0f0ff"/><path d="M1741.2,307.4L1772.3,307.4L1787,347.7L1754.7,347.7Z" fill="#d9d9ff"/><path d="M1772.3,307.4L1803.4,307.4L1819.3,347.7L1787,347.7Z" fill="#aaaaff"/><path d="M1803.4,307.4L1927.7,307.4L1948.5,347.7L1819.3,347.7Z" fill="#9595ff"/><path d="M1927.7,307.4L1958.7,307.4L1980.8,347.7L1948.5,347.7Z" fill="#bbbbff"/><path d="M1958.7,307.4L1989.8,307.4L2013.1,347.7L1980.8,347.7Z" fill="#cacaff"/><path d="M1989.8,307.4L2020.9,307.4L2045.4,347.7L2013.1,347.7Z" fill="#d9d9ff"/><path d="M2020.9,307.4L2051.9,307.4L2077.7,347.7L2045.4,347.7Z" fill="#e6e6ff"/><path d="M2051.9,307.4L2114.1,307.4L2142.3,347.7L2077.7,347.7Z" fill="#f0f0ff"/><path d="M2114.1,307.4L2145.2,307.4L2174.6,347.7L2142.3,347.7Z" fill="#fff9f9"/><path d="M2145.2,307.4L2176.2,307.4L2206.8,347.7L2174.6,347.7Z" fill="#ffe3e3"/><path d="M2176.2,307.4L2238.4,307.4L2271.4,347.7L2206.8,347.7Z" fill="#ffd4d4"/><path d="M2238.4,307.4L2300.5,307.4L2336,347.7L2271.4,347.7Z" fill="#ffe3e3"/><path d="M2362.7,307.4L2424.8,307.4L2465.2,347.7L2400.6,347.7Z" fill="#fff9f9"/><path d="M2424.8,307.4L2518,307.4L2562.1,347.7L2465.2,347.7Z" fill="#f0f0ff"/><path d="M236.7,347.7L269,347.7L232.1,388.8L198.8,388.8Z" fill="#f0f0ff"/><path d="M269,347.7L301.3,347.7L265.5,388.8L232.1,388.8Z" fill="#ffffff"/><path d="M301.3,347.7L333.6,347.7L298.8,388.8L265.5,388.8Z" fill="#fff0f0"/><path d="M333.6,347.7L365.9,347.7L332.2,388.8L298.8,388.8Z" fill="#ffe3e3"/><path d="M365.9,347.7L398.2,347.7L365.5,388.8L332.2,388.8Z" fill="#ffd4d4"/><path d="M398.2,347.7L527.4,347.7L498.9,388.8L365.5,388.8Z" fill="#ffc1c1"/><path d="M527.4,347.7L559.7,347.7L532.3,388.8L498.9,388.8Z" fill="#ffd4d4"/><path d="M559.7,347.7L592,347.7L565.6,388.8L532.3,388.8Z" fill="#ffe3e3"/><path d="M592,347.7L624.2,347.7L599,388.8L565.6,388.8Z" fill="#e6e6ff"/><path d="M624.2,347.7L721.1,347.7L699,388.8L599,388.8Z" fill="#d9d9ff"/><path d="M721.1,347.7L753.4,347.7L732.4,388.8L699,388.8Z" fill="#cacaff"/><path d="M753.4,347.7L850.3,347.7L832.4,388.8L732.4,388.8Z" fill="#aaaaff"/><path d="M850.3,347.7L914.9,347.7L899.1,388.8L832.4,388.8Z" fill="#cacaff"/><path d="M914.9,347.7L979.5,347.7L965.8,388.8L899.1,388.8Z" fill="#d9d9ff"/><path d="M979.5,347.7L1076.4,347.7L1065.9,388.8L965.8,388.8Z" fill="#fff0f0"/><path d="M1076.4,347.7L1108.7,347.7L1099.2,388.8L1065.9,388.8Z" fill="#fff9f9"/><path d="M1108.7,347.7L1141,347.7L1132.6,388.8L1099.2,388.8Z" fill="#ffffff"/><path d="M1141,347.7L1173.3,347.7L1165.9,388.8L1132.6,388.8Z" fill="#f0f0ff"/><path d="M1173.3,347.7L1237.9,347.7L1232.6,388.8L1165.9,388.8Z" fill="#e6e6ff"/><path d="M1237.9,347.7L1334.8,347.7L1332.7,388.8L1232.6,388.8Z" fill="#d9d9ff"/><path d="M1334.8,347.7L1367.1,347.7L1366,388.8L1332.7,388.8Z" fill="#e6e6ff"/><path d="M1367.1,347.7L1399.4,347.7L1399.4,388.8L1366,388.8Z" fill="#d9d9ff"/><path d="M1399.4,347.7L1464,347.7L1466.1,388.8L1399.4,388.8Z" fill="#aaaaff"/><path d="M1464,347.7L1496.3,347.7L1499.5,388.8L1466.1,388.8Z" fill="#d9d9ff"/><path d="M1496.3,347.7L1528.6,347.7L1532.8,388.8L1499.5,388.8Z" fill="#fff0f0"/><path d="M1528.6,347.7L1560.9,347.7L1566.2,388.8L1532.8,388.8Z" fill="#ffacac"/><path d="M1560.9,347.7L1593.2,347.7L1599.5,388.8L1566.2,388.8Z" fill="#ff9090"/><path d="M1593.2,347.7L1625.5,347.7L1632.9,388.8L1599.5,388.8Z" fill="#ffacac"/><path d="M1625.5,347.7L1657.8,347.7L1666.2,388.8L1632.9,388.8Z" fill="#ffc1c1"/><path d="M1657.8,347.7L1690.1,347.7L1699.6,388.8L1666.2,388.8Z" fill="#ffd4d4"/><path d="M1690.1,347.7L1722.4,347.7L1732.9,388.8L1699.6,388.8Z" fill="#ffe3e3"/><path d="M1722.4,347.7L1754.7,347.7L1766.3,388.8L1732.9,388.8Z" fill="#ffffff"/><path d="M1754.7,347.7L1787,347.7L1799.6,388.8L1766.3,388.8Z" fill="#d9d9ff"/><path d="M1787,347.7L1916.2,347.7L1933,388.8L1799.6,388.8Z" fill="#aaaaff"/><path d="M1916.2,347.7L1948.5,347.7L1966.4,388.8L1933,388.8Z" fill="#cacaff"/><path d="M1948.5,347.7L1980.8,347.7L1999.7,388.8L1966.4,388.8Z" fill="#e6e6ff"/><path d="M1980.8,347.7L2077.7,347.7L2099.8,388.8L1999.7,388.8Z" fill="#f0f0ff"/><path d="M2077.7,347.7L2110,347.7L2133.1,388.8L2099.8,388.8Z" fill="#ffffff"/><path d="M2110,347.7L2142.3,347.7L2166.5,388.8L2133.1,388.8Z" fill="#fff9f9"/><path d="M2142.3,347.7L2174.6,347.7L2199.8,388.8L2166.5,388.8Z" fill="#ffe3e3"/><path d="M2174.6,347.7L2271.4,347.7L2299.9,388.8L2199.8,388.8Z" fill="#ffd4d4"/><path d="M2271.4,347.7L2303.7,347.7L2333.2,388.8L2299.9,388.8Z" fill="#ffe3e3"/><path d="M2303.7,347.7L2336,347.7L2366.6,388.8L2333.2,388.8Z" fill="#fff0f0"/><path d="M2336,347.7L2368.3,347.7L2399.9,388.8L2366.6,388.8Z" fill="#ffffff"/><path d="M2368.3,347.7L2465.2,347.7L2500,388.8L2399.9,388.8Z" fill="#f9f9ff"/><path d="M2465.2,347.7L2562.1,347.7L2600,388.8L2500,388.8Z" fill="#ffffff"/><path d="M198.8,388.8L232.1,388.8L199,430.5L164.7,430.5Z" fill="#fff0f0"/><path d="M232.1,388.8L265.5,388.8L233.3,430.5L199,430.5Z" fill="#ffe3e3"/><path d="M265.5,388.8L298.8,388.8L267.6,430.5L233.3,430.5Z" fill="#ffd4d4"/><path d="M298.8,388.8L332.2,388.8L301.9,430.5L267.6,430.5Z" fill="#ffc1c1"/><path d="M332.2,388.8L365.5,388.8L336.2,430.5L301.9,430.5Z" fill="#ffacac"/><path d="M365.5,388.8L432.2,388.8L404.8,430.5L336.2,430.5Z" fill="#ff9090"/><path d="M432.2,388.8L465.6,388.8L439.1,430.5L404.8,430.5Z" fill="#ffacac"/><path d="M465.6,388.8L498.9,388.8L473.4,430.5L439.1,430.5Z" fill="#ffc1c1"/><path d="M498.9,388.8L532.3,388.8L507.7,430.5L473.4,430.5Z" fill="#ffd4d4"/><path d="M532.3,388.8L565.6,388.8L542,430.5L507.7,430.5Z" fill="#fff0f0"/><path d="M565.6,388.8L599,388.8L576.3,430.5L542,430.5Z" fill="#f0f0ff"/><path d="M599,388.8L665.7,388.8L644.9,430.5L576.3,430.5Z" fill="#e6e6ff"/><path d="M665.7,388.8L699,388.8L679.2,430.5L644.9,430.5Z" fill="#d9d9ff"/><path d="M699,388.8L732.4,388.8L713.5,430.5L679.2,430.5Z" fill="#aaaaff"/><path d="M732.4,388.8L799.1,388.8L782.1,430.5L713.5,430.5Z" fill="#8484ff"/><path d="M799.1,388.8L832.4,388.8L816.4,430.5L782.1,430.5Z" fill="#aaaaff"/><path d="M832.4,388.8L865.8,388.8L850.7,430.5L816.4,430.5Z" fill="#cacaff"/><path d="M865.8,388.8L899.1,388.8L885,430.5L850.7,430.5Z" fill="#d9d9ff"/><path d="M899.1,388.8L932.5,388.8L919.3,430.5L885,430.5Z" fill="#f9f9ff"/><path d="M932.5,388.8L965.8,388.8L953.5,430.5L919.3,430.5Z" fill="#fff0f0"/><path d="M965.8,388.8L999.2,388.8L987.8,430.5L953.5,430.5Z" fill="#ffe3e3"/><path d="M999.2,388.8L1065.9,388.8L1056.4,430.5L987.8,430.5Z" fill="#ffd4d4"/><path d="M1065.9,388.8L1099.2,388.8L1090.7,430.5L1056.4,430.5Z" fill="#ffe3e3"/><path d="M1099.2,388.8L1165.9,388.8L1159.3,430.5L1090.7,430.5Z" fill="#fff0f0"/><path d="M1165.9,388.8L1199.3,388.8L1193.6,430.5L1159.3,430.5Z" fill="#ffffff"/><path d="M1199.3,388.8L1232.6,388.8L1227.9,430.5L1193.6,430.5Z" fill="#f0f0ff"/><path d="M1232.6,388.8L1332.7,388.8L1330.8,430.5L1227.9,430.5Z" fill="#e6e6ff"/><path d="M1332.7,388.8L1366,388.8L1365.1,430.5L1330.8,430.5Z" fill="#cacaff"/><path d="M1366,388.8L1399.4,388.8L1399.4,430.5L1365.1,430.5Z" fill="#bbbbff"/><path d="M1399.4,388.8L1432.8,388.8L1433.7,430.5L1399.4,430.5Z" fill="#cacaff"/><path d="M1432.8,388.8L1466.1,388.8L1468,430.5L1433.7,430.5Z" fill="#e6e6ff"/><path d="M1466.1,388.8L1499.5,388.8L1502.3,430.5L1468,430.5Z" fill="#f9f9ff"/><path d="M1499.5,388.8L1532.8,388.8L1536.6,430.5L1502.3,430.5Z" fill="#fff0f0"/><path d="M1532.8,388.8L1566.2,388.8L1570.9,430.5L1536.6,430.5Z" fill="#ffd4d4"/><path d="M1566.2,388.8L1632.9,388.8L1639.5,430.5L1570.9,430.5Z" fill="#ffc1c1"/><path d="M1632.9,388.8L1699.6,388.8L1708.1,430.5L1639.5,430.5Z" fill="#ffd4d4"/><path d="M1699.6,388.8L1732.9,388.8L1742.4,430.5L1708.1,430.5Z" fill="#ffe3e3"/><path d="M1732.9,388.8L1766.3,388.8L1776.7,430.5L1742.4,430.5Z" fill="#fff0f0"/><path d="M1766.3,388.8L1799.6,388.8L1811,430.5L1776.7,430.5Z" fill="#f0f0ff"/><path d="M1799.6,388.8L1933,388.8L1948.1,430.5L1811,430.5Z" fill="#cacaff"/><path d="M1933,388.8L1966.4,388.8L1982.4,430.5L1948.1,430.5Z" fill="#e6e6ff"/><path d="M1966.4,388.8L2266.5,388.8L2291.1,430.5L1982.4,430.5Z" fill="#fff0f0"/><path d="M2266.5,388.8L2299.9,388.8L2325.4,430.5L2291.1,430.5Z" fill="#fff9f9"/><path d="M2299.9,388.8L2366.6,388.8L2394,430.5L2325.4,430.5Z" fill="#f0f0ff"/><path d="M2366.6,388.8L2399.9,388.8L2428.3,430.5L2394,430.5Z" fill="#f9f9ff"/><path d="M2399.9,388.8L2500,388.8L2531.2,430.5L2428.3,430.5Z" fill="#f0f0ff"/><path d="M2500,388.8L2600,388.8L2634.1,430.5L2531.2,430.5Z" fill="#fff0f0"/><path d="M164.7,430.5L199,430.5L171.5,472.5L136.5,472.5Z" fill="#fff0f0"/><path d="M199,430.5L233.3,430.5L206.6,472.5L171.5,472.5Z" fill="#ffe3e3"/><path d="M233.3,430.5L267.6,430.5L241.7,472.5L206.6,472.5Z" fill="#ffd4d4"/><path d="M267.6,430.5L301.9,430.5L276.8,472.5L241.7,472.5Z" fill="#ffc1c1"/><path d="M301.9,430.5L336.2,430.5L311.9,472.5L276.8,472.5Z" fill="#ffacac"/><path d="M336.2,430.5L404.8,430.5L382,472.5L311.9,472.5Z" fill="#ff9090"/><path d="M404.8,430.5L439.1,430.5L417.1,472.5L382,472.5Z" fill="#ffacac"/><path d="M439.1,430.5L473.4,430.5L452.2,472.5L417.1,472.5Z" fill="#ffc1c1"/><path d="M473.4,430.5L507.7,430.5L487.3,472.5L452.2,472.5Z" fill="#ffe3e3"/><path d="M507.7,430.5L542,430.5L522.4,472.5L487.3,472.5Z" fill="#fff9f9"/><path d="M542,430.5L576.3,430.5L557.4,472.5L522.4,472.5Z" fill="#f0f0ff"/><path d="M576.3,430.5L644.9,430.5L627.6,472.5L557.4,472.5Z" fill="#e6e6ff"/><path d="M644.9,430.5L679.2,430.5L662.7,472.5L627.6,472.5Z" fill="#d9d9ff"/><path d="M679.2,430.5L713.5,430.5L697.8,472.5L662.7,472.5Z" fill="#bbbbff"/><path d="M713.5,430.5L782.1,430.5L767.9,472.5L697.8,472.5Z" fill="#9595ff"/><path d="M782.1,430.5L816.4,430.5L803,472.5L767.9,472.5Z" fill="#bbbbff"/><path d="M816.4,430.5L850.7,430.5L838.1,472.5L803,472.5Z" fill="#cacaff"/><path d="M850.7,430.5L885,430.5L873.2,472.5L838.1,472.5Z" fill="#d9d9ff"/><path d="M885,430.5L919.3,430.5L908.3,472.5L873.2,472.5Z" fill="#fff0f0"/><path d="M919.3,430.5L953.5,430.5L943.3,472.5L908.3,472.5Z" fill="#ffe3e3"/><path d="M953.5,430.5L1090.7,430.5L1083.7,472.5L943.3,472.5Z" fill="#ffd4d4"/><path d="M1090.7,430.5L1159.3,430.5L1153.8,472.5L1083.7,472.5Z" fill="#ffe3e3"/><path d="M1159.3,430.5L1296.5,430.5L1294.2,472.5L1153.8,472.5Z" fill="#fff0f0"/><path d="M1296.5,430.5L1330.8,430.5L1329.2,472.5L1294.2,472.5Z" fill="#f9f9ff"/><path d="M1330.8,430.5L1365.1,430.5L1364.3,472.5L1329.2,472.5Z" fill="#e6e6ff"/><path d="M1365.1,430.5L1399.4,430.5L1399.4,472.5L1364.3,472.5Z" fill="#d9d9ff"/><path d="M1399.4,430.5L1468,430.5L1469.6,472.5L1399.4,472.5Z" fill="#f9f9ff"/><path d="M1468,430.5L1502.3,430.5L1504.6,472.5L1469.6,472.5Z" fill="#fff0f0"/><path d="M1502.3,430.5L1536.6,430.5L1539.7,472.5L1504.6,472.5Z" fill="#ffe3e3"/><path d="M1536.6,430.5L1639.5,430.5L1645,472.5L1539.7,472.5Z" fill="#fff0f0"/><path d="M1639.5,430.5L1673.8,430.5L1680.1,472.5L1645,472.5Z" fill="#ffffff"/><path d="M1673.8,430.5L1708.1,430.5L1715.1,472.5L1680.1,472.5Z" fill="#f0f0ff"/><path d="M1708.1,430.5L1742.4,430.5L1750.2,472.5L1715.1,472.5Z" fill="#ffffff"/><path d="M1742.4,430.5L1776.7,430.5L1785.3,472.5L1750.2,472.5Z" fill="#f9f9ff"/><path d="M1776.7,430.5L1845.3,430.5L1855.5,472.5L1785.3,472.5Z" fill="#f0f0ff"/><path d="M1845.3,430.5L1913.8,430.5L1925.6,472.5L1855.5,472.5Z" fill="#e6e6ff"/><path d="M1913.8,430.5L1948.1,430.5L1960.7,472.5L1925.6,472.5Z" fill="#f0f0ff"/><path d="M1948.1,430.5L2051,430.5L2065.9,472.5L1960.7,472.5Z" fill="#fff0f0"/><path d="M2051,430.5L2119.6,430.5L2136.1,472.5L2065.9,472.5Z" fill="#fff9f9"/><path d="M2119.6,430.5L2188.2,430.5L2206.3,472.5L2136.1,472.5Z" fill="#f0f0ff"/><path d="M2188.2,430.5L2325.4,430.5L2346.6,472.5L2206.3,472.5Z" fill="#e6e6ff"/><path d="M2325.4,430.5L2496.9,430.5L2522,472.5L2346.6,472.5Z" fill="#f0f0ff"/><path d="M2496.9,430.5L2531.2,430.5L2557.1,472.5L2522,472.5Z" fill="#ffffff"/><path d="M2531.2,430.5L2634.1,430.5L2662.3,472.5L2557.1,472.5Z" fill="#fff0f0"/><path d="M136.5,472.5L171.5,472.5L149,514.6L113.3,514.6Z" fill="#fff0f0"/><path d="M171.5,472.5L241.7,472.5L220.5,514.6L149,514.6Z" fill="#ffe3e3"/><path d="M241.7,472.5L311.9,472.5L291.9,514.6L220.5,514.6Z" fill="#ffd4d4"/><path d="M311.9,472.5L382,472.5L363.4,514.6L291.9,514.6Z" fill="#ffc1c1"/><path d="M382,472.5L452.2,472.5L434.8,514.6L363.4,514.6Z" fill="#ffd4d4"/><path d="M452.2,472.5L487.3,472.5L470.5,514.6L434.8,514.6Z" fill="#fff0f0"/><path d="M487.3,472.5L522.4,472.5L506.3,514.6L470.5,514.6Z" fill="#ffffff"/><path d="M522.4,472.5L557.4,472.5L542,514.6L506.3,514.6Z" fill="#f9f9ff"/><path d="M557.4,472.5L592.5,472.5L577.7,514.6L542,514.6Z" fill="#f0f0ff"/><path d="M592.5,472.5L662.7,472.5L649.2,514.6L577.7,514.6Z" fill="#e6e6ff"/><path d="M662.7,472.5L732.9,472.5L720.6,514.6L649.2,514.6Z" fill="#cacaff"/><path d="M732.9,472.5L838.1,472.5L827.8,514.6L720.6,514.6Z" fill="#e6e6ff"/><path d="M838.1,472.5L873.2,472.5L863.5,514.6L827.8,514.6Z" fill="#f9f9ff"/><path d="M873.2,472.5L943.3,472.5L935,514.6L863.5,514.6Z" fill="#fff0f0"/><path d="M943.3,472.5L1118.7,472.5L1113.6,514.6L935,514.6Z" fill="#ffe3e3"/><path d="M1118.7,472.5L1329.2,472.5L1327.9,514.6L1113.6,514.6Z" fill="#fff0f0"/><path d="M1329.2,472.5L1364.3,472.5L1363.7,514.6L1327.9,514.6Z" fill="#f0f0ff"/><path d="M1364.3,472.5L1434.5,472.5L1435.1,514.6L1363.7,514.6Z" fill="#e6e6ff"/><path d="M1434.5,472.5L1469.6,472.5L1470.9,514.6L1435.1,514.6Z" fill="#f0f0ff"/><path d="M1469.6,472.5L1574.8,472.5L1578,514.6L1470.9,514.6Z" fill="#f9f9ff"/><path d="M1574.8,472.5L1645,472.5L1649.5,514.6L1578,514.6Z" fill="#f0f0ff"/><path d="M1645,472.5L1715.1,472.5L1720.9,514.6L1649.5,514.6Z" fill="#cacaff"/><path d="M1715.1,472.5L1785.3,472.5L1792.4,514.6L1720.9,514.6Z" fill="#e6e6ff"/><path d="M1785.3,472.5L1925.6,472.5L1935.3,514.6L1792.4,514.6Z" fill="#f0f0ff"/><path d="M1925.6,472.5L1960.7,472.5L1971,514.6L1935.3,514.6Z" fill="#fff0f0"/><path d="M1960.7,472.5L2065.9,472.5L2078.2,514.6L1971,514.6Z" fill="#ffd4d4"/><path d="M2065.9,472.5L2101,472.5L2113.9,514.6L2078.2,514.6Z" fill="#ffe3e3"/><path d="M2101,472.5L2136.1,472.5L2149.6,514.6L2113.9,514.6Z" fill="#ffffff"/><path d="M2136.1,472.5L2171.2,472.5L2185.4,514.6L2149.6,514.6Z" fill="#f0f0ff"/><path d="M2171.2,472.5L2206.3,472.5L2221.1,514.6L2185.4,514.6Z" fill="#d9d9ff"/><path d="M2206.3,472.5L2241.4,472.5L2256.8,514.6L2221.1,514.6Z" fill="#cacaff"/><path d="M2241.4,472.5L2381.7,472.5L2399.7,514.6L2256.8,514.6Z" fill="#e6e6ff"/><path d="M2381.7,472.5L2522,472.5L2542.6,514.6L2399.7,514.6Z" fill="#f0f0ff"/><path d="M2522,472.5L2557.1,472.5L2578.3,514.6L2542.6,514.6Z" fill="#ffffff"/><path d="M2557.1,472.5L2592.2,472.5L2614.1,514.6L2578.3,514.6Z" fill="#fff9f9"/><path d="M2592.2,472.5L2662.3,472.5L2685.5,514.6L2614.1,514.6Z" fill="#fff0f0"/><path d="M149,514.6L256.2,514.6L240.7,556.7L132.1,556.7Z" fill="#fff0f0"/><path d="M256.2,514.6L363.4,514.6L349.3,556.7L240.7,556.7Z" fill="#ffe3e3"/><path d="M363.4,514.6L399.1,514.6L385.5,556.7L349.3,556.7Z" fill="#fff0f0"/><path d="M399.1,514.6L434.8,514.6L421.8,556.7L385.5,556.7Z" fill="#f0f0ff"/><path d="M434.8,514.6L470.5,514.6L458,556.7L421.8,556.7Z" fill="#f9f9ff"/><path d="M470.5,514.6L506.3,514.6L494.2,556.7L458,556.7Z" fill="#f0f0ff"/><path d="M506.3,514.6L649.2,514.6L639,556.7L494.2,556.7Z" fill="#e6e6ff"/><path d="M649.2,514.6L684.9,514.6L675.2,556.7L639,556.7Z" fill="#f0f0ff"/><path d="M684.9,514.6L720.6,514.6L711.4,556.7L675.2,556.7Z" fill="#f9f9ff"/><path d="M720.6,514.6L792.1,514.6L783.8,556.7L711.4,556.7Z" fill="#fff0f0"/><path d="M792.1,514.6L935,514.6L928.7,556.7L783.8,556.7Z" fill="#fff9f9"/><path d="M935,514.6L1042.1,514.6L1037.3,556.7L928.7,556.7Z" fill="#fff0f0"/><path d="M1042.1,514.6L1077.9,514.6L1073.5,556.7L1037.3,556.7Z" fill="#fff9f9"/><path d="M1077.9,514.6L1149.3,514.6L1145.9,556.7L1073.5,556.7Z" fill="#ffffff"/><path d="M1149.3,514.6L1327.9,514.6L1327,556.7L1145.9,556.7Z" fill="#fff0f0"/><path d="M1327.9,514.6L1435.1,514.6L1435.6,556.7L1327,556.7Z" fill="#f0f0ff"/><path d="M1435.1,514.6L1506.6,514.6L1508,556.7L1435.6,556.7Z" fill="#e6e6ff"/><path d="M1506.6,514.6L1578,514.6L1580.4,556.7L1508,556.7Z" fill="#d9d9ff"/><path d="M1578,514.6L1720.9,514.6L1725.3,556.7L1580.4,556.7Z" fill="#cacaff"/><path d="M1720.9,514.6L1828.1,514.6L1833.9,556.7L1725.3,556.7Z" fill="#f0f0ff"/><path d="M1828.1,514.6L1863.8,514.6L1870.1,556.7L1833.9,556.7Z" fill="#e6e6ff"/><path d="M1863.8,514.6L1899.6,514.6L1906.3,556.7L1870.1,556.7Z" fill="#d9d9ff"/><path d="M1899.6,514.6L1935.3,514.6L1942.5,556.7L1906.3,556.7Z" fill="#cacaff"/><path d="M1935.3,514.6L1971,514.6L1978.7,556.7L1942.5,556.7Z" fill="#d9d9ff"/><path d="M1971,514.6L2006.7,514.6L2015,556.7L1978.7,556.7Z" fill="#ffffff"/><path d="M2006.7,514.6L2042.5,514.6L2051.2,556.7L2015,556.7Z" fill="#fff0f0"/><path d="M2042.5,514.6L2078.2,514.6L2087.4,556.7L2051.2,556.7Z" fill="#ffe3e3"/><path d="M2078.2,514.6L2113.9,514.6L2123.6,556.7L2087.4,556.7Z" fill="#fff0f0"/><path d="M2113.9,514.6L2149.6,514.6L2159.8,556.7L2123.6,556.7Z" fill="#ffffff"/><path d="M2149.6,514.6L2185.4,514.6L2196,556.7L2159.8,556.7Z" fill="#e6e6ff"/><path d="M2185.4,514.6L2221.1,514.6L2232.2,556.7L2196,556.7Z" fill="#d9d9ff"/><path d="M2221.1,514.6L2256.8,514.6L2268.4,556.7L2232.2,556.7Z" fill="#cacaff"/><path d="M2256.8,514.6L2292.5,514.6L2304.6,556.7L2268.4,556.7Z" fill="#f0f0ff"/><path d="M2292.5,514.6L2364,514.6L2377,556.7L2304.6,556.7Z" fill="#f9f9ff"/><path d="M2364,514.6L2506.9,514.6L2521.9,556.7L2377,556.7Z" fill="#f0f0ff"/><path d="M132.1,556.7L168.3,556.7L156.6,598.9L120.1,598.9Z" fill="#ffffff"/><path d="M168.3,556.7L204.5,556.7L193.2,598.9L156.6,598.9Z" fill="#f4f4ff"/><path d="M204.5,556.7L349.3,556.7L339.4,598.9L193.2,598.9Z" fill="#ffffff"/><path d="M349.3,556.7L385.5,556.7L376,598.9L339.4,598.9Z" fill="#f4f4ff"/><path d="M385.5,556.7L458,556.7L449.1,598.9L376,598.9Z" fill="#ededff"/><path d="M458,556.7L602.8,556.7L595.3,598.9L449.1,598.9Z" fill="#f4f4ff"/><path d="M602.8,556.7L639,556.7L631.8,598.9L595.3,598.9Z" fill="#ededff"/><path d="M639,556.7L675.2,556.7L668.4,598.9L631.8,598.9Z" fill="#e3e3ff"/><path d="M675.2,556.7L711.4,556.7L704.9,598.9L668.4,598.9Z" fill="#ffffff"/><path d="M711.4,556.7L747.6,556.7L741.5,598.9L704.9,598.9Z" fill="#ffe3e3"/><path d="M747.6,556.7L856.3,556.7L851.1,598.9L741.5,598.9Z" fill="#ffd4d4"/><path d="M856.3,556.7L892.5,556.7L887.7,598.9L851.1,598.9Z" fill="#fff9f9"/><path d="M892.5,556.7L1073.5,556.7L1070.4,598.9L887.7,598.9Z" fill="#f0f0ff"/><path d="M1073.5,556.7L1145.9,556.7L1143.5,598.9L1070.4,598.9Z" fill="#e6e6ff"/><path d="M1145.9,556.7L1182.1,556.7L1180.1,598.9L1143.5,598.9Z" fill="#d9d9ff"/><path d="M1182.1,556.7L1218.4,556.7L1216.6,598.9L1180.1,598.9Z" fill="#f0f0ff"/><path d="M1218.4,556.7L1327,556.7L1326.3,598.9L1216.6,598.9Z" fill="#fff0f0"/><path d="M1327,556.7L1363.2,556.7L1362.8,598.9L1326.3,598.9Z" fill="#fff9f9"/><path d="M1363.2,556.7L1435.6,556.7L1436,598.9L1362.8,598.9Z" fill="#f0f0ff"/><path d="M1435.6,556.7L1471.8,556.7L1472.5,598.9L1436,598.9Z" fill="#e6e6ff"/><path d="M1616.7,556.7L1652.9,556.7L1655.3,598.9L1618.7,598.9Z" fill="#bbbbff"/><path d="M1652.9,556.7L1689.1,556.7L1691.8,598.9L1655.3,598.9Z" fill="#d9d9ff"/><path d="M1689.1,556.7L1725.3,556.7L1728.4,598.9L1691.8,598.9Z" fill="#bbbbff"/><path d="M1725.3,556.7L1761.5,556.7L1764.9,598.9L1728.4,598.9Z" fill="#cacaff"/><path d="M1761.5,556.7L1797.7,556.7L1801.5,598.9L1764.9,598.9Z" fill="#d9d9ff"/><path d="M1797.7,556.7L1833.9,556.7L1838,598.9L1801.5,598.9Z" fill="#f0f0ff"/><path d="M1833.9,556.7L1870.1,556.7L1874.6,598.9L1838,598.9Z" fill="#f9f9ff"/><path d="M1870.1,556.7L1906.3,556.7L1911.1,598.9L1874.6,598.9Z" fill="#f0f0ff"/><path d="M1906.3,556.7L1978.7,556.7L1984.2,598.9L1911.1,598.9Z" fill="#bbbbff"/><path d="M1978.7,556.7L2015,556.7L2020.8,598.9L1984.2,598.9Z" fill="#d9d9ff"/><path d="M2015,556.7L2051.2,556.7L2057.3,598.9L2020.8,598.9Z" fill="#ffffff"/><path d="M2051.2,556.7L2123.6,556.7L2130.4,598.9L2057.3,598.9Z" fill="#fff0f0"/><path d="M2123.6,556.7L2159.8,556.7L2167,598.9L2130.4,598.9Z" fill="#ffffff"/><path d="M2159.8,556.7L2196,556.7L2203.5,598.9L2167,598.9Z" fill="#f0f0ff"/><path d="M2196,556.7L2232.2,556.7L2240.1,598.9L2203.5,598.9Z" fill="#e6e6ff"/><path d="M2232.2,556.7L2304.6,556.7L2313.2,598.9L2240.1,598.9Z" fill="#f0f0ff"/><path d="M2304.6,556.7L2449.5,556.7L2459.4,598.9L2313.2,598.9Z" fill="#f9f9ff"/><path d="M120.1,598.9L156.6,598.9L146.8,641L109.9,641Z" fill="#f4f4ff"/><path d="M156.6,598.9L412.5,598.9L404.7,641L146.8,641Z" fill="#ededff"/><path d="M412.5,598.9L449.1,598.9L441.5,641L404.7,641Z" fill="#f4f4ff"/><path d="M449.1,598.9L595.3,598.9L588.9,641L441.5,641Z" fill="#fbfbff"/><path d="M595.3,598.9L668.4,598.9L662.6,641L588.9,641Z" fill="#ededff"/><path d="M668.4,598.9L704.9,598.9L699.4,641L662.6,641Z" fill="#fff0f0"/><path d="M704.9,598.9L741.5,598.9L736.2,641L699.4,641Z" fill="#ffe3e3"/><path d="M741.5,598.9L851.1,598.9L846.8,641L736.2,641Z" fill="#ffd4d4"/><path d="M851.1,598.9L887.7,598.9L883.6,641L846.8,641Z" fill="#ffffff"/><path d="M887.7,598.9L997.3,598.9L994.1,641L883.6,641Z" fill="#f0f0ff"/><path d="M997.3,598.9L1107,598.9L1104.7,641L994.1,641Z" fill="#e6e6ff"/><path d="M1107,598.9L1180.1,598.9L1178.3,641L1104.7,641Z" fill="#d9d9ff"/><path d="M1180.1,598.9L1216.6,598.9L1215.2,641L1178.3,641Z" fill="#f0f0ff"/><path d="M1216.6,598.9L1253.2,598.9L1252,641L1215.2,641Z" fill="#ffffff"/><path d="M1253.2,598.9L1289.7,598.9L1288.9,641L1252,641Z" fill="#fff0f0"/><path d="M1289.7,598.9L1326.3,598.9L1325.7,641L1288.9,641Z" fill="#ffe3e3"/><path d="M1326.3,598.9L1399.4,598.9L1399.4,641L1325.7,641Z" fill="#fff0f0"/><path d="M1399.4,598.9L1436,598.9L1436.2,641L1399.4,641Z" fill="#f0f0ff"/><path d="M1655.3,598.9L1728.4,598.9L1731,641L1657.3,641Z" fill="#cacaff"/><path d="M1728.4,598.9L1764.9,598.9L1767.8,641L1731,641Z" fill="#aaaaff"/><path d="M1764.9,598.9L1801.5,598.9L1804.7,641L1767.8,641Z" fill="#cacaff"/><path d="M1801.5,598.9L1838,598.9L1841.5,641L1804.7,641Z" fill="#f0f0ff"/><path d="M1838,598.9L1874.6,598.9L1878.3,641L1841.5,641Z" fill="#f9f9ff"/><path d="M1874.6,598.9L1911.1,598.9L1915.2,641L1878.3,641Z" fill="#fff0f0"/><path d="M1911.1,598.9L1947.7,598.9L1952,641L1915.2,641Z" fill="#f0f0ff"/><path d="M1947.7,598.9L1984.2,598.9L1988.9,641L1952,641Z" fill="#bbbbff"/><path d="M1984.2,598.9L2020.8,598.9L2025.7,641L1988.9,641Z" fill="#f0f0ff"/><path d="M2020.8,598.9L2057.3,598.9L2062.6,641L2025.7,641Z" fill="#f9f9ff"/><path d="M2057.3,598.9L2093.9,598.9L2099.4,641L2062.6,641Z" fill="#ffffff"/><path d="M2093.9,598.9L2167,598.9L2173.1,641L2099.4,641Z" fill="#fff0f0"/><path d="M2167,598.9L2203.5,598.9L2209.9,641L2173.1,641Z" fill="#ffffff"/><path d="M2203.5,598.9L2313.2,598.9L2320.4,641L2209.9,641Z" fill="#f0f0ff"/><path d="M2313.2,598.9L2386.3,598.9L2394.1,641L2320.4,641Z" fill="#f9f9ff"/><path d="M2386.3,598.9L2422.8,598.9L2431,641L2394.1,641Z" fill="#ffffff"/><path d="M109.9,641L183.6,641L177,683.1L102.9,683.1Z" fill="#ededff"/><path d="M183.6,641L257.3,641L251.1,683.1L177,683.1Z" fill="#e3e3ff"/><path d="M257.3,641L367.8,641L362.2,683.1L251.1,683.1Z" fill="#ededff"/><path d="M367.8,641L441.5,641L436.3,683.1L362.2,683.1Z" fill="#f4f4ff"/><path d="M441.5,641L552,641L547.4,683.1L436.3,683.1Z" fill="#fbfbff"/><path d="M552,641L588.9,641L584.5,683.1L547.4,683.1Z" fill="#f4f4ff"/><path d="M588.9,641L662.6,641L658.5,683.1L584.5,683.1Z" fill="#ededff"/><path d="M699.4,641L809.9,641L806.7,683.1L695.6,683.1Z" fill="#ffe3e3"/><path d="M809.9,641L846.8,641L843.8,683.1L806.7,683.1Z" fill="#fff0f0"/><path d="M846.8,641L883.6,641L880.8,683.1L843.8,683.1Z" fill="#f0f0ff"/><path d="M883.6,641L994.1,641L991.9,683.1L880.8,683.1Z" fill="#e6e6ff"/><path d="M994.1,641L1031,641L1029,683.1L991.9,683.1Z" fill="#d9d9ff"/><path d="M1031,641L1104.7,641L1103.1,683.1L1029,683.1Z" fill="#e6e6ff"/><path d="M1104.7,641L1141.5,641L1140.1,683.1L1103.1,683.1Z" fill="#f0f0ff"/><path d="M1141.5,641L1252,641L1251.2,683.1L1140.1,683.1Z" fill="#f9f9ff"/><path d="M1252,641L1288.9,641L1288.3,683.1L1251.2,683.1Z" fill="#fff9f9"/><path d="M1288.9,641L1362.6,641L1362.4,683.1L1288.3,683.1Z" fill="#ffd4d4"/><path d="M1362.6,641L1399.4,641L1399.4,683.1L1362.4,683.1Z" fill="#ffe3e3"/><path d="M1399.4,641L1436.2,641L1436.4,683.1L1399.4,683.1Z" fill="#ffffff"/><path d="M1436.2,641L1473.1,641L1473.5,683.1L1436.4,683.1Z" fill="#f0f0ff"/><path d="M1473.1,641L1509.9,641L1510.5,683.1L1473.5,683.1Z" fill="#e6e6ff"/><path d="M1657.3,641L1731,641L1732.8,683.1L1658.7,683.1Z" fill="#bbbbff"/><path d="M1731,641L1767.8,641L1769.8,683.1L1732.8,683.1Z" fill="#cacaff"/><path d="M1767.8,641L1878.3,641L1881,683.1L1769.8,683.1Z" fill="#f0f0ff"/><path d="M1878.3,641L1952,641L1955,683.1L1881,683.1Z" fill="#f9f9ff"/><path d="M1952,641L1988.9,641L1992.1,683.1L1955,683.1Z" fill="#bbbbff"/><path d="M1988.9,641L2099.4,641L2103.2,683.1L1992.1,683.1Z" fill="#f0f0ff"/><path d="M2099.4,641L2136.2,641L2140.3,683.1L2103.2,683.1Z" fill="#ffffff"/><path d="M2136.2,641L2209.9,641L2214.3,683.1L2140.3,683.1Z" fill="#fff0f0"/><path d="M2209.9,641L2357.3,641L2362.5,683.1L2214.3,683.1Z" fill="#f0f0ff"/><path d="M102.9,683.1L139.9,683.1L135.9,725.3L98.7,725.3Z" fill="#ededff"/><path d="M139.9,683.1L251.1,683.1L247.4,725.3L135.9,725.3Z" fill="#e3e3ff"/><path d="M251.1,683.1L325.2,683.1L321.7,725.3L247.4,725.3Z" fill="#ededff"/><path d="M362.2,683.1L473.3,683.1L470.4,725.3L358.9,725.3Z" fill="#f4f4ff"/><path d="M473.3,683.1L510.4,683.1L507.5,725.3L470.4,725.3Z" fill="#ededff"/><path d="M510.4,683.1L547.4,683.1L544.7,725.3L507.5,725.3Z" fill="#e3e3ff"/><path d="M547.4,683.1L658.5,683.1L656.2,725.3L544.7,725.3Z" fill="#ededff"/><path d="M880.8,683.1L917.8,683.1L916.3,725.3L879.1,725.3Z" fill="#f9f9ff"/><path d="M917.8,683.1L954.9,683.1L953.5,725.3L916.3,725.3Z" fill="#f0f0ff"/><path d="M954.9,683.1L1103.1,683.1L1102.1,725.3L953.5,725.3Z" fill="#e6e6ff"/><path d="M1103.1,683.1L1288.3,683.1L1287.9,725.3L1102.1,725.3Z" fill="#f0f0ff"/><path d="M1288.3,683.1L1325.3,683.1L1325.1,725.3L1287.9,725.3Z" fill="#fff0f0"/><path d="M1325.3,683.1L1362.4,683.1L1362.2,725.3L1325.1,725.3Z" fill="#ffd4d4"/><path d="M1362.4,683.1L1399.4,683.1L1399.4,725.3L1362.2,725.3Z" fill="#ffe3e3"/><path d="M1399.4,683.1L1436.4,683.1L1436.6,725.3L1399.4,725.3Z" fill="#f0f0ff"/><path d="M1436.4,683.1L1510.5,683.1L1510.9,725.3L1436.6,725.3Z" fill="#e6e6ff"/><path d="M1510.5,683.1L1547.6,683.1L1548,725.3L1510.9,725.3Z" fill="#d9d9ff"/><path d="M1658.7,683.1L1695.7,683.1L1696.7,725.3L1659.5,725.3Z" fill="#f9f9ff"/><path d="M1695.7,683.1L1769.8,683.1L1771,725.3L1696.7,725.3Z" fill="#aaaaff"/><path d="M1769.8,683.1L1843.9,683.1L1845.3,725.3L1771,725.3Z" fill="#f9f9ff"/><path d="M1843.9,683.1L1881,683.1L1882.5,725.3L1845.3,725.3Z" fill="#f0f0ff"/><path d="M1881,683.1L1955,683.1L1956.8,725.3L1882.5,725.3Z" fill="#f9f9ff"/><path d="M1955,683.1L1992.1,683.1L1994,725.3L1956.8,725.3Z" fill="#f0f0ff"/><path d="M1992.1,683.1L2029.1,683.1L2031.2,725.3L1994,725.3Z" fill="#e6e6ff"/><path d="M2029.1,683.1L2066.2,683.1L2068.3,725.3L2031.2,725.3Z" fill="#f0f0ff"/><path d="M2066.2,683.1L2103.2,683.1L2105.5,725.3L2068.3,725.3Z" fill="#e6e6ff"/><path d="M2103.2,683.1L2140.3,683.1L2142.6,725.3L2105.5,725.3Z" fill="#f0f0ff"/><path d="M2140.3,683.1L2177.3,683.1L2179.8,725.3L2142.6,725.3Z" fill="#ffffff"/><path d="M2177.3,683.1L2288.4,683.1L2291.3,725.3L2179.8,725.3Z" fill="#f0f0ff"/><path d="M2288.4,683.1L2362.5,683.1L2365.6,725.3L2291.3,725.3Z" fill="#f9f9ff"/><path d="M98.7,725.3L173.1,725.3L171.3,767.4L96.9,767.4Z" fill="#ededff"/><path d="M173.1,725.3L247.4,725.3L245.8,767.4L171.3,767.4Z" fill="#e3e3ff"/><path d="M247.4,725.3L321.7,725.3L320.2,767.4L245.8,767.4Z" fill="#ededff"/><path d="M396,725.3L433.2,725.3L431.8,767.4L394.6,767.4Z" fill="#f4f4ff"/><path d="M433.2,725.3L470.4,725.3L469.1,767.4L431.8,767.4Z" fill="#ededff"/><path d="M470.4,725.3L507.5,725.3L506.3,767.4L469.1,767.4Z" fill="#e3e3ff"/><path d="M507.5,725.3L544.7,725.3L543.5,767.4L506.3,767.4Z" fill="#d9d9ff"/><path d="M544.7,725.3L581.8,725.3L580.7,767.4L543.5,767.4Z" fill="#e3e3ff"/><path d="M581.8,725.3L656.2,725.3L655.1,767.4L580.7,767.4Z" fill="#ededff"/><path d="M990.6,725.3L1027.8,725.3L1027.3,767.4L990,767.4Z" fill="#f0f0ff"/><path d="M1027.8,725.3L1139.3,725.3L1138.9,767.4L1027.3,767.4Z" fill="#e6e6ff"/><path d="M1139.3,725.3L1213.6,725.3L1213.3,767.4L1138.9,767.4Z" fill="#d9d9ff"/><path d="M1213.6,725.3L1325.1,725.3L1325,767.4L1213.3,767.4Z" fill="#e6e6ff"/><path d="M1325.1,725.3L1362.2,725.3L1362.2,767.4L1325,767.4Z" fill="#d9d9ff"/><path d="M1362.2,725.3L1436.6,725.3L1436.6,767.4L1362.2,767.4Z" fill="#cacaff"/><path d="M1436.6,725.3L1473.7,725.3L1473.8,767.4L1436.6,767.4Z" fill="#d9d9ff"/><path d="M1473.7,725.3L1548,725.3L1548.3,767.4L1473.8,767.4Z" fill="#e6e6ff"/><path d="M1696.7,725.3L1733.9,725.3L1734.3,767.4L1697.1,767.4Z" fill="#f9f9ff"/><path d="M1733.9,725.3L1771,725.3L1771.5,767.4L1734.3,767.4Z" fill="#f0f0ff"/><path d="M1771,725.3L1808.2,725.3L1808.8,767.4L1771.5,767.4Z" fill="#fff0f0"/><path d="M1808.2,725.3L1845.3,725.3L1846,767.4L1808.8,767.4Z" fill="#ffffff"/><path d="M1845.3,725.3L2068.3,725.3L2069.2,767.4L1846,767.4Z" fill="#f0f0ff"/><path d="M2068.3,725.3L2142.6,725.3L2143.7,767.4L2069.2,767.4Z" fill="#f9f9ff"/><path d="M2142.6,725.3L2179.8,725.3L2180.9,767.4L2143.7,767.4Z" fill="#fff0f0"/><path d="M2179.8,725.3L2254.1,725.3L2255.3,767.4L2180.9,767.4Z" fill="#f9f9ff"/><path d="M2254.1,725.3L2402.8,725.3L2404.2,767.4L2255.3,767.4Z" fill="#f0f0ff"/><path d="M96.9,767.4L134.1,767.4L135.9,809.5L98.7,809.5Z" fill="#f4f4ff"/><path d="M134.1,767.4L171.3,767.4L173.1,809.5L135.9,809.5Z" fill="#ededff"/><path d="M171.3,767.4L208.6,767.4L210.2,809.5L173.1,809.5Z" fill="#e3e3ff"/><path d="M208.6,767.4L320.2,767.4L321.7,809.5L210.2,809.5Z" fill="#ededff"/><path d="M431.8,767.4L469.1,767.4L470.4,809.5L433.2,809.5Z" fill="#e3e3ff"/><path d="M469.1,767.4L506.3,767.4L507.5,809.5L470.4,809.5Z" fill="#d9d9ff"/><path d="M506.3,767.4L543.5,767.4L544.7,809.5L507.5,809.5Z" fill="#ceceff"/><path d="M543.5,767.4L580.7,767.4L581.8,809.5L544.7,809.5Z" fill="#d9d9ff"/><path d="M580.7,767.4L655.1,767.4L656.2,809.5L581.8,809.5Z" fill="#ededff"/><path d="M655.1,767.4L692.3,767.4L693.3,809.5L656.2,809.5Z" fill="#f4f4ff"/><path d="M952.8,767.4L1101.7,767.4L1102.1,809.5L953.5,809.5Z" fill="#d9d9ff"/><path d="M1101.7,767.4L1287.8,767.4L1287.9,809.5L1102.1,809.5Z" fill="#e6e6ff"/><path d="M1287.8,767.4L1325,767.4L1325.1,809.5L1287.9,809.5Z" fill="#d9d9ff"/><path d="M1325,767.4L1362.2,767.4L1362.2,809.5L1325.1,809.5Z" fill="#cacaff"/><path d="M1362.2,767.4L1399.4,767.4L1399.4,809.5L1362.2,809.5Z" fill="#bbbbff"/><path d="M1399.4,767.4L1436.6,767.4L1436.6,809.5L1399.4,809.5Z" fill="#cacaff"/><path d="M1436.6,767.4L1473.8,767.4L1473.7,809.5L1436.6,809.5Z" fill="#d9d9ff"/><path d="M1473.8,767.4L1548.3,767.4L1548,809.5L1473.7,809.5Z" fill="#e6e6ff"/><path d="M1734.3,767.4L1808.8,767.4L1808.2,809.5L1733.9,809.5Z" fill="#fff0f0"/><path d="M1808.8,767.4L1846,767.4L1845.3,809.5L1808.2,809.5Z" fill="#fff9f9"/><path d="M1846,767.4L1957.6,767.4L1956.8,809.5L1845.3,809.5Z" fill="#ffffff"/><path d="M1957.6,767.4L1994.8,767.4L1994,809.5L1956.8,809.5Z" fill="#f9f9ff"/><path d="M1994.8,767.4L2069.2,767.4L2068.3,809.5L1994,809.5Z" fill="#f0f0ff"/><path d="M2069.2,767.4L2106.5,767.4L2105.5,809.5L2068.3,809.5Z" fill="#f9f9ff"/><path d="M2106.5,767.4L2143.7,767.4L2142.6,809.5L2105.5,809.5Z" fill="#ffffff"/><path d="M2143.7,767.4L2218.1,767.4L2217,809.5L2142.6,809.5Z" fill="#f0f0ff"/><path d="M2218.1,767.4L2255.3,767.4L2254.1,809.5L2217,809.5Z" fill="#e6e6ff"/><path d="M2255.3,767.4L2441.4,767.4L2439.9,809.5L2254.1,809.5Z" fill="#f0f0ff"/><path d="M2441.4,767.4L2478.6,767.4L2477.1,809.5L2439.9,809.5Z" fill="#f9f9ff"/><path d="M98.7,809.5L135.9,809.5L139.9,851.7L102.9,851.7Z" fill="#f4f4ff"/><path d="M135.9,809.5L247.4,809.5L251.1,851.7L139.9,851.7Z" fill="#ededff"/><path d="M247.4,809.5L284.5,809.5L288.1,851.7L251.1,851.7Z" fill="#e3e3ff"/><path d="M284.5,809.5L321.7,809.5L325.2,851.7L288.1,851.7Z" fill="#ededff"/><path d="M433.2,809.5L544.7,809.5L547.4,851.7L436.3,851.7Z" fill="#d9d9ff"/><path d="M544.7,809.5L581.8,809.5L584.5,851.7L547.4,851.7Z" fill="#e3e3ff"/><path d="M581.8,809.5L656.2,809.5L658.5,851.7L584.5,851.7Z" fill="#f4f4ff"/><path d="M656.2,809.5L693.3,809.5L695.6,851.7L658.5,851.7Z" fill="#ededff"/><path d="M693.3,809.5L730.5,809.5L732.6,851.7L695.6,851.7Z" fill="#e3e3ff"/><path d="M730.5,809.5L767.6,809.5L769.7,851.7L732.6,851.7Z" fill="#e6e6ff"/><path d="M1102.1,809.5L1139.3,809.5L1140.1,851.7L1103.1,851.7Z" fill="#e6e6ff"/><path d="M1139.3,809.5L1250.8,809.5L1251.2,851.7L1140.1,851.7Z" fill="#f0f0ff"/><path d="M1250.8,809.5L1287.9,809.5L1288.3,851.7L1251.2,851.7Z" fill="#e6e6ff"/><path d="M1287.9,809.5L1325.1,809.5L1325.3,851.7L1288.3,851.7Z" fill="#d9d9ff"/><path d="M1325.1,809.5L1436.6,809.5L1436.4,851.7L1325.3,851.7Z" fill="#cacaff"/><path d="M1436.6,809.5L1473.7,809.5L1473.5,851.7L1436.4,851.7Z" fill="#d9d9ff"/><path d="M1473.7,809.5L1510.9,809.5L1510.5,851.7L1473.5,851.7Z" fill="#f0f0ff"/><path d="M1733.9,809.5L1771,809.5L1769.8,851.7L1732.8,851.7Z" fill="#fff0f0"/><path d="M1771,809.5L1845.3,809.5L1843.9,851.7L1769.8,851.7Z" fill="#fff9f9"/><path d="M1845.3,809.5L1956.8,809.5L1955,851.7L1843.9,851.7Z" fill="#fff0f0"/><path d="M1956.8,809.5L1994,809.5L1992.1,851.7L1955,851.7Z" fill="#fff9f9"/><path d="M1994,809.5L2031.2,809.5L2029.1,851.7L1992.1,851.7Z" fill="#ffffff"/><path d="M2031.2,809.5L2179.8,809.5L2177.3,851.7L2029.1,851.7Z" fill="#f9f9ff"/><path d="M2179.8,809.5L2291.3,809.5L2288.4,851.7L2177.3,851.7Z" fill="#e6e6ff"/><path d="M2291.3,809.5L2477.1,809.5L2473.6,851.7L2288.4,851.7Z" fill="#f0f0ff"/><path d="M2477.1,809.5L2514.3,809.5L2510.7,851.7L2473.6,851.7Z" fill="#f9f9ff"/><path d="M2514.3,809.5L2551.4,809.5L2547.7,851.7L2510.7,851.7Z" fill="#ffffff"/><path d="M2551.4,809.5L2588.6,809.5L2584.8,851.7L2547.7,851.7Z" fill="#fff9f9"/><path d="M2588.6,809.5L2662.9,809.5L2658.9,851.7L2584.8,851.7Z" fill="#fff0f0"/><path d="M102.9,851.7L177,851.7L183.6,893.8L109.9,893.8Z" fill="#f4f4ff"/><path d="M177,851.7L325.2,851.7L331,893.8L183.6,893.8Z" fill="#ededff"/><path d="M436.3,851.7L473.3,851.7L478.4,893.8L441.5,893.8Z" fill="#e3e3ff"/><path d="M473.3,851.7L510.4,851.7L515.2,893.8L478.4,893.8Z" fill="#d9d9ff"/><path d="M510.4,851.7L547.4,851.7L552,893.8L515.2,893.8Z" fill="#e3e3ff"/><path d="M547.4,851.7L584.5,851.7L588.9,893.8L552,893.8Z" fill="#ededff"/><path d="M584.5,851.7L658.5,851.7L662.6,893.8L588.9,893.8Z" fill="#f4f4ff"/><path d="M658.5,851.7L695.6,851.7L699.4,893.8L662.6,893.8Z" fill="#ededff"/><path d="M695.6,851.7L732.6,851.7L736.2,893.8L699.4,893.8Z" fill="#e3e3ff"/><path d="M732.6,851.7L843.8,851.7L846.8,893.8L736.2,893.8Z" fill="#e6e6ff"/><path d="M880.8,851.7L917.8,851.7L920.5,893.8L883.6,893.8Z" fill="#f9f9ff"/><path d="M1066,851.7L1103.1,851.7L1104.7,893.8L1067.8,893.8Z" fill="#d9d9ff"/><path d="M1103.1,851.7L1140.1,851.7L1141.5,893.8L1104.7,893.8Z" fill="#e6e6ff"/><path d="M1140.1,851.7L1251.2,851.7L1252,893.8L1141.5,893.8Z" fill="#f0f0ff"/><path d="M1251.2,851.7L1288.3,851.7L1288.9,893.8L1252,893.8Z" fill="#e6e6ff"/><path d="M1288.3,851.7L1325.3,851.7L1325.7,893.8L1288.9,893.8Z" fill="#d9d9ff"/><path d="M1325.3,851.7L1436.4,851.7L1436.2,893.8L1325.7,893.8Z" fill="#cacaff"/><path d="M1436.4,851.7L1473.5,851.7L1473.1,893.8L1436.2,893.8Z" fill="#d9d9ff"/><path d="M1473.5,851.7L1510.5,851.7L1509.9,893.8L1473.1,893.8Z" fill="#f0f0ff"/><path d="M1769.8,851.7L1806.9,851.7L1804.7,893.8L1767.8,893.8Z" fill="#ffffff"/><path d="M1806.9,851.7L1843.9,851.7L1841.5,893.8L1804.7,893.8Z" fill="#fff9f9"/><path d="M1843.9,851.7L1918,851.7L1915.2,893.8L1841.5,893.8Z" fill="#fff0f0"/><path d="M1918,851.7L1955,851.7L1952,893.8L1915.2,893.8Z" fill="#ffe3e3"/><path d="M1955,851.7L1992.1,851.7L1988.9,893.8L1952,893.8Z" fill="#fff0f0"/><path d="M1992.1,851.7L2029.1,851.7L2025.7,893.8L1988.9,893.8Z" fill="#fff9f9"/><path d="M2029.1,851.7L2066.2,851.7L2062.6,893.8L2025.7,893.8Z" fill="#ffffff"/><path d="M2066.2,851.7L2103.2,851.7L2099.4,893.8L2062.6,893.8Z" fill="#f9f9ff"/><path d="M2103.2,851.7L2140.3,851.7L2136.2,893.8L2099.4,893.8Z" fill="#f0f0ff"/><path d="M2140.3,851.7L2399.6,851.7L2394.1,893.8L2136.2,893.8Z" fill="#e6e6ff"/><path d="M2399.6,851.7L2510.7,851.7L2504.7,893.8L2394.1,893.8Z" fill="#f0f0ff"/><path d="M2510.7,851.7L2547.7,851.7L2541.5,893.8L2504.7,893.8Z" fill="#ffffff"/><path d="M2547.7,851.7L2658.9,851.7L2652,893.8L2541.5,893.8Z" fill="#fff0f0"/><path d="M146.8,893.8L183.6,893.8L193.2,935.9L156.6,935.9Z" fill="#fbfbff"/><path d="M183.6,893.8L294.1,893.8L302.9,935.9L193.2,935.9Z" fill="#f4f4ff"/><path d="M294.1,893.8L331,893.8L339.4,935.9L302.9,935.9Z" fill="#fbfbff"/><path d="M331,893.8L441.5,893.8L449.1,935.9L339.4,935.9Z" fill="#ededff"/><path d="M441.5,893.8L515.2,893.8L522.2,935.9L449.1,935.9Z" fill="#e3e3ff"/><path d="M515.2,893.8L662.6,893.8L668.4,935.9L522.2,935.9Z" fill="#ededff"/><path d="M662.6,893.8L736.2,893.8L741.5,935.9L668.4,935.9Z" fill="#e3e3ff"/><path d="M736.2,893.8L883.6,893.8L887.7,935.9L741.5,935.9Z" fill="#e6e6ff"/><path d="M883.6,893.8L957.3,893.8L960.8,935.9L887.7,935.9Z" fill="#f0f0ff"/><path d="M957.3,893.8L994.1,893.8L997.3,935.9L960.8,935.9Z" fill="#e6e6ff"/><path d="M994.1,893.8L1067.8,893.8L1070.4,935.9L997.3,935.9Z" fill="#cacaff"/><path d="M1067.8,893.8L1141.5,893.8L1143.5,935.9L1070.4,935.9Z" fill="#d9d9ff"/><path d="M1141.5,893.8L1178.3,893.8L1180.1,935.9L1143.5,935.9Z" fill="#e6e6ff"/><path d="M1178.3,893.8L1288.9,893.8L1289.7,935.9L1180.1,935.9Z" fill="#f0f0ff"/><path d="M1288.9,893.8L1325.7,893.8L1326.3,935.9L1289.7,935.9Z" fill="#e6e6ff"/><path d="M1325.7,893.8L1362.6,893.8L1362.8,935.9L1326.3,935.9Z" fill="#d9d9ff"/><path d="M1362.6,893.8L1436.2,893.8L1436,935.9L1362.8,935.9Z" fill="#cacaff"/><path d="M1436.2,893.8L1473.1,893.8L1472.5,935.9L1436,935.9Z" fill="#d9d9ff"/><path d="M1473.1,893.8L1509.9,893.8L1509.1,935.9L1472.5,935.9Z" fill="#f0f0ff"/><path d="M1694.1,893.8L1731,893.8L1728.4,935.9L1691.8,935.9Z" fill="#ffffff"/><path d="M1731,893.8L1767.8,893.8L1764.9,935.9L1728.4,935.9Z" fill="#f9f9ff"/><path d="M1767.8,893.8L1804.7,893.8L1801.5,935.9L1764.9,935.9Z" fill="#f0f0ff"/><path d="M1804.7,893.8L1841.5,893.8L1838,935.9L1801.5,935.9Z" fill="#ffffff"/><path d="M1841.5,893.8L1915.2,893.8L1911.1,935.9L1838,935.9Z" fill="#fff0f0"/><path d="M1915.2,893.8L1988.9,893.8L1984.2,935.9L1911.1,935.9Z" fill="#ffe3e3"/><path d="M1988.9,893.8L2025.7,893.8L2020.8,935.9L1984.2,935.9Z" fill="#fff0f0"/><path d="M2025.7,893.8L2062.6,893.8L2057.3,935.9L2020.8,935.9Z" fill="#ffffff"/><path d="M2062.6,893.8L2099.4,893.8L2093.9,935.9L2057.3,935.9Z" fill="#f0f0ff"/><path d="M2099.4,893.8L2136.2,893.8L2130.4,935.9L2093.9,935.9Z" fill="#e6e6ff"/><path d="M2136.2,893.8L2246.8,893.8L2240.1,935.9L2130.4,935.9Z" fill="#d9d9ff"/><path d="M2246.8,893.8L2320.4,893.8L2313.2,935.9L2240.1,935.9Z" fill="#e6e6ff"/><path d="M2320.4,893.8L2431,893.8L2422.8,935.9L2313.2,935.9Z" fill="#d9d9ff"/><path d="M2431,893.8L2467.8,893.8L2459.4,935.9L2422.8,935.9Z" fill="#e6e6ff"/><path d="M2467.8,893.8L2504.7,893.8L2495.9,935.9L2459.4,935.9Z" fill="#f0f0ff"/><path d="M2504.7,893.8L2578.3,893.8L2569,935.9L2495.9,935.9Z" fill="#f9f9ff"/><path d="M2578.3,893.8L2652,893.8L2642.2,935.9L2569,935.9Z" fill="#fff0f0"/><path d="M156.6,935.9L193.2,935.9L204.5,978.1L168.3,978.1Z" fill="#ffffff"/><path d="M193.2,935.9L229.8,935.9L240.7,978.1L204.5,978.1Z" fill="#fbfbff"/><path d="M229.8,935.9L412.5,935.9L421.8,978.1L240.7,978.1Z" fill="#f4f4ff"/><path d="M412.5,935.9L485.6,935.9L494.2,978.1L421.8,978.1Z" fill="#ededff"/><path d="M595.3,935.9L668.4,935.9L675.2,978.1L602.8,978.1Z" fill="#f4f4ff"/><path d="M668.4,935.9L741.5,935.9L747.6,978.1L675.2,978.1Z" fill="#ededff"/><path d="M741.5,935.9L924.2,935.9L928.7,978.1L747.6,978.1Z" fill="#f0f0ff"/><path d="M924.2,935.9L960.8,935.9L964.9,978.1L928.7,978.1Z" fill="#e6e6ff"/><path d="M960.8,935.9L997.3,935.9L1001.1,978.1L964.9,978.1Z" fill="#d9d9ff"/><path d="M997.3,935.9L1070.4,935.9L1073.5,978.1L1001.1,978.1Z" fill="#bbbbff"/><path d="M1070.4,935.9L1107,935.9L1109.7,978.1L1073.5,978.1Z" fill="#cacaff"/><path d="M1107,935.9L1143.5,935.9L1145.9,978.1L1109.7,978.1Z" fill="#bbbbff"/><path d="M1143.5,935.9L1180.1,935.9L1182.1,978.1L1145.9,978.1Z" fill="#cacaff"/><path d="M1180.1,935.9L1216.6,935.9L1218.4,978.1L1182.1,978.1Z" fill="#e6e6ff"/><path d="M1216.6,935.9L1289.7,935.9L1290.8,978.1L1218.4,978.1Z" fill="#f0f0ff"/><path d="M1289.7,935.9L1326.3,935.9L1327,978.1L1290.8,978.1Z" fill="#e6e6ff"/><path d="M1326.3,935.9L1436,935.9L1435.6,978.1L1327,978.1Z" fill="#d9d9ff"/><path d="M1436,935.9L1472.5,935.9L1471.8,978.1L1435.6,978.1Z" fill="#e6e6ff"/><path d="M1472.5,935.9L1545.6,935.9L1544.2,978.1L1471.8,978.1Z" fill="#f0f0ff"/><path d="M1545.6,935.9L1618.7,935.9L1616.7,978.1L1544.2,978.1Z" fill="#e6e6ff"/><path d="M1618.7,935.9L1655.3,935.9L1652.9,978.1L1616.7,978.1Z" fill="#fff0f0"/><path d="M1655.3,935.9L1728.4,935.9L1725.3,978.1L1652.9,978.1Z" fill="#fff9f9"/><path d="M1728.4,935.9L1764.9,935.9L1761.5,978.1L1725.3,978.1Z" fill="#ffffff"/><path d="M1764.9,935.9L1838,935.9L1833.9,978.1L1761.5,978.1Z" fill="#f0f0ff"/><path d="M1838,935.9L1874.6,935.9L1870.1,978.1L1833.9,978.1Z" fill="#fff0f0"/><path d="M1874.6,935.9L1984.2,935.9L1978.7,978.1L1870.1,978.1Z" fill="#ffe3e3"/><path d="M1984.2,935.9L2020.8,935.9L2015,978.1L1978.7,978.1Z" fill="#fff0f0"/><path d="M2020.8,935.9L2093.9,935.9L2087.4,978.1L2015,978.1Z" fill="#f0f0ff"/><path d="M2093.9,935.9L2130.4,935.9L2123.6,978.1L2087.4,978.1Z" fill="#e6e6ff"/><path d="M2130.4,935.9L2167,935.9L2159.8,978.1L2123.6,978.1Z" fill="#d9d9ff"/><path d="M2167,935.9L2240.1,935.9L2232.2,978.1L2159.8,978.1Z" fill="#cacaff"/><path d="M2240.1,935.9L2276.6,935.9L2268.4,978.1L2232.2,978.1Z" fill="#d9d9ff"/><path d="M2276.6,935.9L2349.7,935.9L2340.8,978.1L2268.4,978.1Z" fill="#cacaff"/><path d="M2349.7,935.9L2386.3,935.9L2377,978.1L2340.8,978.1Z" fill="#bbbbff"/><path d="M2386.3,935.9L2459.4,935.9L2449.5,978.1L2377,978.1Z" fill="#cacaff"/><path d="M2459.4,935.9L2495.9,935.9L2485.7,978.1L2449.5,978.1Z" fill="#d9d9ff"/><path d="M2495.9,935.9L2532.5,935.9L2521.9,978.1L2485.7,978.1Z" fill="#cacaff"/><path d="M2569,935.9L2605.6,935.9L2594.3,978.1L2558.1,978.1Z" fill="#d9d9ff"/><path d="M168.3,978.1L204.5,978.1L220.5,1020.2L184.7,1020.2Z" fill="#fff9f9"/><path d="M204.5,978.1L240.7,978.1L256.2,1020.2L220.5,1020.2Z" fill="#fff0f0"/><path d="M240.7,978.1L276.9,978.1L291.9,1020.2L256.2,1020.2Z" fill="#ffffff"/><path d="M276.9,978.1L313.1,978.1L327.6,1020.2L291.9,1020.2Z" fill="#fbfbff"/><path d="M349.3,978.1L494.2,978.1L506.3,1020.2L363.4,1020.2Z" fill="#f4f4ff"/><path d="M639,978.1L675.2,978.1L684.9,1020.2L649.2,1020.2Z" fill="#fbfbff"/><path d="M675.2,978.1L892.5,978.1L899.2,1020.2L684.9,1020.2Z" fill="#f4f4ff"/><path d="M892.5,978.1L928.7,978.1L935,1020.2L899.2,1020.2Z" fill="#d9d9ff"/><path d="M928.7,978.1L964.9,978.1L970.7,1020.2L935,1020.2Z" fill="#bbbbff"/><path d="M964.9,978.1L1037.3,978.1L1042.1,1020.2L970.7,1020.2Z" fill="#aaaaff"/><path d="M1037.3,978.1L1073.5,978.1L1077.9,1020.2L1042.1,1020.2Z" fill="#cacaff"/><path d="M1073.5,978.1L1182.1,978.1L1185,1020.2L1077.9,1020.2Z" fill="#d9d9ff"/><path d="M1182.1,978.1L1218.4,978.1L1220.8,1020.2L1185,1020.2Z" fill="#e6e6ff"/><path d="M1218.4,978.1L1327,978.1L1327.9,1020.2L1220.8,1020.2Z" fill="#f0f0ff"/><path d="M1327,978.1L1471.8,978.1L1470.9,1020.2L1327.9,1020.2Z" fill="#e6e6ff"/><path d="M1471.8,978.1L1544.2,978.1L1542.3,1020.2L1470.9,1020.2Z" fill="#f0f0ff"/><path d="M1544.2,978.1L1580.4,978.1L1578,1020.2L1542.3,1020.2Z" fill="#e6e6ff"/><path d="M1580.4,978.1L1616.7,978.1L1613.8,1020.2L1578,1020.2Z" fill="#d9d9ff"/><path d="M1616.7,978.1L1652.9,978.1L1649.5,1020.2L1613.8,1020.2Z" fill="#f0f0ff"/><path d="M1652.9,978.1L1689.1,978.1L1685.2,1020.2L1649.5,1020.2Z" fill="#ffe3e3"/><path d="M1689.1,978.1L1725.3,978.1L1720.9,1020.2L1685.2,1020.2Z" fill="#fff0f0"/><path d="M1725.3,978.1L1761.5,978.1L1756.7,1020.2L1720.9,1020.2Z" fill="#fff9f9"/><path d="M1761.5,978.1L1906.3,978.1L1899.6,1020.2L1756.7,1020.2Z" fill="#fff0f0"/><path d="M1906.3,978.1L1942.5,978.1L1935.3,1020.2L1899.6,1020.2Z" fill="#ffe3e3"/><path d="M1942.5,978.1L1978.7,978.1L1971,1020.2L1935.3,1020.2Z" fill="#fff0f0"/><path d="M1978.7,978.1L2015,978.1L2006.7,1020.2L1971,1020.2Z" fill="#fff9f9"/><path d="M2015,978.1L2051.2,978.1L2042.5,1020.2L2006.7,1020.2Z" fill="#ffffff"/><path d="M2051.2,978.1L2087.4,978.1L2078.2,1020.2L2042.5,1020.2Z" fill="#f0f0ff"/><path d="M2087.4,978.1L2123.6,978.1L2113.9,1020.2L2078.2,1020.2Z" fill="#f9f9ff"/><path d="M2123.6,978.1L2196,978.1L2185.4,1020.2L2113.9,1020.2Z" fill="#f0f0ff"/><path d="M2196,978.1L2232.2,978.1L2221.1,1020.2L2185.4,1020.2Z" fill="#e6e6ff"/><path d="M2232.2,978.1L2304.6,978.1L2292.5,1020.2L2221.1,1020.2Z" fill="#d9d9ff"/><path d="M2304.6,978.1L2377,978.1L2364,1020.2L2292.5,1020.2Z" fill="#cacaff"/><path d="M2377,978.1L2413.3,978.1L2399.7,1020.2L2364,1020.2Z" fill="#d9d9ff"/><path d="M2413.3,978.1L2485.7,978.1L2471.2,1020.2L2399.7,1020.2Z" fill="#e6e6ff"/><path d="M2485.7,978.1L2521.9,978.1L2506.9,1020.2L2471.2,1020.2Z" fill="#cacaff"/><path d="M399.1,1020.2L542,1020.2L557.4,1062.3L417.1,1062.3Z" fill="#ffffff"/><path d="M684.9,1020.2L863.5,1020.2L873.2,1062.3L697.8,1062.3Z" fill="#f0f0ff"/><path d="M863.5,1020.2L899.2,1020.2L908.3,1062.3L873.2,1062.3Z" fill="#e6e6ff"/><path d="M899.2,1020.2L970.7,1020.2L978.4,1062.3L908.3,1062.3Z" fill="#aaaaff"/><path d="M970.7,1020.2L1042.1,1020.2L1048.6,1062.3L978.4,1062.3Z" fill="#bbbbff"/><path d="M1042.1,1020.2L1113.6,1020.2L1118.7,1062.3L1048.6,1062.3Z" fill="#e6e6ff"/><path d="M1113.6,1020.2L1149.3,1020.2L1153.8,1062.3L1118.7,1062.3Z" fill="#f0f0ff"/><path d="M1149.3,1020.2L1220.8,1020.2L1224,1062.3L1153.8,1062.3Z" fill="#f9f9ff"/><path d="M1220.8,1020.2L1256.5,1020.2L1259.1,1062.3L1224,1062.3Z" fill="#ffffff"/><path d="M1256.5,1020.2L1327.9,1020.2L1329.2,1062.3L1259.1,1062.3Z" fill="#f9f9ff"/><path d="M1327.9,1020.2L1470.9,1020.2L1469.6,1062.3L1329.2,1062.3Z" fill="#f0f0ff"/><path d="M1470.9,1020.2L1542.3,1020.2L1539.7,1062.3L1469.6,1062.3Z" fill="#f9f9ff"/><path d="M1542.3,1020.2L1578,1020.2L1574.8,1062.3L1539.7,1062.3Z" fill="#e6e6ff"/><path d="M1578,1020.2L1613.8,1020.2L1609.9,1062.3L1574.8,1062.3Z" fill="#f0f0ff"/><path d="M1613.8,1020.2L1685.2,1020.2L1680.1,1062.3L1609.9,1062.3Z" fill="#ffe3e3"/><path d="M1685.2,1020.2L1863.8,1020.2L1855.5,1062.3L1680.1,1062.3Z" fill="#fff0f0"/><path d="M1863.8,1020.2L1935.3,1020.2L1925.6,1062.3L1855.5,1062.3Z" fill="#fff9f9"/><path d="M1935.3,1020.2L2113.9,1020.2L2101,1062.3L1925.6,1062.3Z" fill="#fff0f0"/><path d="M2113.9,1020.2L2149.6,1020.2L2136.1,1062.3L2101,1062.3Z" fill="#ffffff"/><path d="M2149.6,1020.2L2221.1,1020.2L2206.3,1062.3L2136.1,1062.3Z" fill="#f0f0ff"/><path d="M2221.1,1020.2L2328.3,1020.2L2311.5,1062.3L2206.3,1062.3Z" fill="#e6e6ff"/><path d="M2328.3,1020.2L2435.4,1020.2L2416.8,1062.3L2311.5,1062.3Z" fill="#d9d9ff"/><path d="M2435.4,1020.2L2506.9,1020.2L2486.9,1062.3L2416.8,1062.3Z" fill="#f0f0ff"/><path d="M2614.1,1020.2L2649.8,1020.2L2627.3,1062.3L2592.2,1062.3Z" fill="#f0f0ff"/><path d="M417.1,1062.3L557.4,1062.3L576.3,1104.3L439.1,1104.3Z" fill="#fff0f0"/><path d="M732.9,1062.3L767.9,1062.3L782.1,1104.3L747.8,1104.3Z" fill="#f9f9ff"/><path d="M767.9,1062.3L803,1062.3L816.4,1104.3L782.1,1104.3Z" fill="#ffffff"/><path d="M803,1062.3L873.2,1062.3L885,1104.3L816.4,1104.3Z" fill="#fff0f0"/><path d="M873.2,1062.3L908.3,1062.3L919.3,1104.3L885,1104.3Z" fill="#f0f0ff"/><path d="M908.3,1062.3L1013.5,1062.3L1022.1,1104.3L919.3,1104.3Z" fill="#cacaff"/><path d="M1083.7,1062.3L1153.8,1062.3L1159.3,1104.3L1090.7,1104.3Z" fill="#f0f0ff"/><path d="M1153.8,1062.3L1259.1,1062.3L1262.2,1104.3L1159.3,1104.3Z" fill="#fff0f0"/><path d="M1259.1,1062.3L1294.2,1062.3L1296.5,1104.3L1262.2,1104.3Z" fill="#fff9f9"/><path d="M1294.2,1062.3L1329.2,1062.3L1330.8,1104.3L1296.5,1104.3Z" fill="#ffffff"/><path d="M1329.2,1062.3L1399.4,1062.3L1399.4,1104.3L1330.8,1104.3Z" fill="#f9f9ff"/><path d="M1399.4,1062.3L1469.6,1062.3L1468,1104.3L1399.4,1104.3Z" fill="#f0f0ff"/><path d="M1469.6,1062.3L1504.6,1062.3L1502.3,1104.3L1468,1104.3Z" fill="#ffffff"/><path d="M1504.6,1062.3L1539.7,1062.3L1536.6,1104.3L1502.3,1104.3Z" fill="#fff0f0"/><path d="M1539.7,1062.3L1645,1062.3L1639.5,1104.3L1536.6,1104.3Z" fill="#ffe3e3"/><path d="M1645,1062.3L1680.1,1062.3L1673.8,1104.3L1639.5,1104.3Z" fill="#ffd4d4"/><path d="M1680.1,1062.3L1785.3,1062.3L1776.7,1104.3L1673.8,1104.3Z" fill="#ffe3e3"/><path d="M1785.3,1062.3L1855.5,1062.3L1845.3,1104.3L1776.7,1104.3Z" fill="#fff0f0"/><path d="M1855.5,1062.3L1890.5,1062.3L1879.5,1104.3L1845.3,1104.3Z" fill="#fff9f9"/><path d="M1890.5,1062.3L1925.6,1062.3L1913.8,1104.3L1879.5,1104.3Z" fill="#f0f0ff"/><path d="M1925.6,1062.3L1960.7,1062.3L1948.1,1104.3L1913.8,1104.3Z" fill="#fff9f9"/><path d="M1960.7,1062.3L2030.9,1062.3L2016.7,1104.3L1948.1,1104.3Z" fill="#fff0f0"/><path d="M2030.9,1062.3L2101,1062.3L2085.3,1104.3L2016.7,1104.3Z" fill="#ffe3e3"/><path d="M2101,1062.3L2136.1,1062.3L2119.6,1104.3L2085.3,1104.3Z" fill="#fff0f0"/><path d="M2136.1,1062.3L2171.2,1062.3L2153.9,1104.3L2119.6,1104.3Z" fill="#ffffff"/><path d="M2171.2,1062.3L2241.4,1062.3L2222.5,1104.3L2153.9,1104.3Z" fill="#f0f0ff"/><path d="M2241.4,1062.3L2381.7,1062.3L2359.7,1104.3L2222.5,1104.3Z" fill="#e6e6ff"/><path d="M2381.7,1062.3L2416.8,1062.3L2394,1104.3L2359.7,1104.3Z" fill="#cacaff"/><path d="M2416.8,1062.3L2486.9,1062.3L2462.6,1104.3L2394,1104.3Z" fill="#d9d9ff"/><path d="M2592.2,1062.3L2662.3,1062.3L2634.1,1104.3L2565.5,1104.3Z" fill="#f0f0ff"/><path d="M164.7,1104.3L199,1104.3L232.1,1146L198.8,1146Z" fill="#f9f9ff"/><path d="M507.7,1104.3L542,1104.3L565.6,1146L532.3,1146Z" fill="#ffe3e3"/><path d="M747.8,1104.3L782.1,1104.3L799.1,1146L765.7,1146Z" fill="#fff9f9"/><path d="M782.1,1104.3L885,1104.3L899.1,1146L799.1,1146Z" fill="#fff0f0"/><path d="M885,1104.3L953.5,1104.3L965.8,1146L899.1,1146Z" fill="#f0f0ff"/><path d="M953.5,1104.3L987.8,1104.3L999.2,1146L965.8,1146Z" fill="#e6e6ff"/><path d="M1159.3,1104.3L1296.5,1104.3L1299.3,1146L1165.9,1146Z" fill="#fff0f0"/><path d="M1296.5,1104.3L1330.8,1104.3L1332.7,1146L1299.3,1146Z" fill="#fff9f9"/><path d="M1330.8,1104.3L1365.1,1104.3L1366,1146L1332.7,1146Z" fill="#ffffff"/><path d="M1365.1,1104.3L1399.4,1104.3L1399.4,1146L1366,1146Z" fill="#f9f9ff"/><path d="M1399.4,1104.3L1468,1104.3L1466.1,1146L1399.4,1146Z" fill="#ffffff"/><path d="M1468,1104.3L1536.6,1104.3L1532.8,1146L1466.1,1146Z" fill="#fff0f0"/><path d="M1536.6,1104.3L1776.7,1104.3L1766.3,1146L1532.8,1146Z" fill="#ffe3e3"/><path d="M1776.7,1104.3L1845.3,1104.3L1833,1146L1766.3,1146Z" fill="#fff0f0"/><path d="M1845.3,1104.3L1913.8,1104.3L1899.7,1146L1833,1146Z" fill="#fff9f9"/><path d="M1913.8,1104.3L1982.4,1104.3L1966.4,1146L1899.7,1146Z" fill="#fff0f0"/><path d="M1982.4,1104.3L2119.6,1104.3L2099.8,1146L1966.4,1146Z" fill="#ffe3e3"/><path d="M2119.6,1104.3L2153.9,1104.3L2133.1,1146L2099.8,1146Z" fill="#fff0f0"/><path d="M2153.9,1104.3L2188.2,1104.3L2166.5,1146L2133.1,1146Z" fill="#f9f9ff"/><path d="M2188.2,1104.3L2256.8,1104.3L2233.2,1146L2166.5,1146Z" fill="#f0f0ff"/><path d="M2256.8,1104.3L2394,1104.3L2366.6,1146L2233.2,1146Z" fill="#e6e6ff"/><path d="M2394,1104.3L2428.3,1104.3L2399.9,1146L2366.6,1146Z" fill="#cacaff"/><path d="M2531.2,1104.3L2565.5,1104.3L2533.3,1146L2500,1146Z" fill="#e6e6ff"/><path d="M2565.5,1104.3L2634.1,1104.3L2600,1146L2533.3,1146Z" fill="#f0f0ff"/><path d="M799.1,1146L832.4,1146L850.3,1187.1L818,1187.1Z" fill="#ffffff"/><path d="M832.4,1146L899.1,1146L914.9,1187.1L850.3,1187.1Z" fill="#fff0f0"/><path d="M899.1,1146L932.5,1146L947.2,1187.1L914.9,1187.1Z" fill="#ffffff"/><path d="M932.5,1146L965.8,1146L979.5,1187.1L947.2,1187.1Z" fill="#f9f9ff"/><path d="M1399.4,1146L1432.8,1146L1431.7,1187.1L1399.4,1187.1Z" fill="#fff9f9"/><path d="M1432.8,1146L1532.8,1146L1528.6,1187.1L1431.7,1187.1Z" fill="#fff0f0"/><path d="M1532.8,1146L1632.9,1146L1625.5,1187.1L1528.6,1187.1Z" fill="#ffe3e3"/><path d="M1732.9,1146L1766.3,1146L1754.7,1187.1L1722.4,1187.1Z" fill="#ffe3e3"/><path d="M1766.3,1146L1866.3,1146L1851.6,1187.1L1754.7,1187.1Z" fill="#fff0f0"/><path d="M1866.3,1146L1899.7,1146L1883.9,1187.1L1851.6,1187.1Z" fill="#fff9f9"/><path d="M1899.7,1146L2066.4,1146L2045.4,1187.1L1883.9,1187.1Z" fill="#fff0f0"/><path d="M2066.4,1146L2099.8,1146L2077.7,1187.1L2045.4,1187.1Z" fill="#ffe3e3"/><path d="M2199.8,1146L2333.2,1146L2303.7,1187.1L2174.6,1187.1Z" fill="#f0f0ff"/><path d="M2500,1146L2600,1146L2562.1,1187.1L2465.2,1187.1Z" fill="#f0f0ff"/><path d="M818,1187.1L882.6,1187.1L902.2,1227.4L840.1,1227.4Z" fill="#f0f0ff"/><path d="M882.6,1187.1L914.9,1187.1L933.3,1227.4L902.2,1227.4Z" fill="#ffffff"/></g>
<path d="M455.5,225.9 469.9,221.5 478.9,220 487.8,218.5 492.5,219.6 497.1,220.7 495.8,218.2 494.6,215.6 498.8,210.5 495.5,208 492.2,205.5 506,201.6 519.8,197.7 535,192.8 546.1,190.7 557.1,188.6 566,186.8 574.9,185.1 579.9,186 584.9,186.9 589.9,187.9 595.9,189.3 601.9,190.7 608.1,191.4 614.2,192.1 620.4,192.8 625.9,193.6 631.5,194.5 637,195.4 642.6,196.3 647.6,198.7 652.6,201.2 657.6,201.6 662.6,201.9 670.6,199.8 678.5,197.7 688.2,196.3 697.9,194.9 708,193.1 718.1,191.4 723.6,193.5 729.3,195.6 728.8,198.4 736.1,197.4 743.4,196.5 750.7,195.6 755.6,197.7 760.5,199.8 765.6,201.9 767,205.9 768.6,209.8 775.6,209.6 782.6,209.5 789.7,209.3 796.7,209.1 800.8,210.5 805,212 809.6,206.9 818.1,206.6 826.7,206.2 833.2,208 839.9,209.8 846.3,209.8 852.7,209.8 859.1,209.8 868.8,204.8 875.2,206.9 872,214.2 879.4,208.4 886.9,202.7 882.9,197.7 892.6,189.6 902.3,181.6 906,183.4 909.8,185.1 907.3,194.2 909.8,197.7 910.7,203.4 915.6,204.1 920.5,204.8 917.8,212 926.8,207.3 935.7,202.7 943.7,195.6 951,196.6 958.2,197.7 956.9,204.8 948.1,212 947.4,217.1 939.2,218.9 931,220.7 924.8,220.4 918.7,220 909,228.1 897.7,236.3 890.9,237.8 884.1,239.3 874.3,243 864.4,246.8 848.7,256.7 836.5,268.2 832.6,277.5 833.4,284.5 834.3,291.5 842,291.5 849.6,291.5 854.3,293.9 859,296.3 865.7,300.6 872.5,305 880.4,305.8 888.4,306.6 884.2,315 880.2,323.4 881.8,335.5 890.7,337.1 899.7,327.4 904.4,315.4 904.5,309 914.7,304.2 924.9,299.4 934.1,287.6 930.6,282.9 927.1,278.2 938.8,268.2 942.3,259.3 946,250.6 954.5,250.9 963,251.3 972.2,250.6 978,255.9 982.6,258.2 987.3,260.5 984.4,272 987.6,281.4 995.2,279.4 1002.7,277.5 1015.3,265.9 1018,271.6 1020.7,277.5 1021.9,283.7 1023.1,290 1023.5,299.4 1026.5,307.4 1032,309.4 1037.4,311.4 1040.8,319.4 1045,329 1034.9,336.3 1025,337.1 1012.6,345.2 1003,345.2 993.3,345.2 985.7,345.5 978.1,345.8 970.4,346 962.2,350.9 953.9,355.8 940.5,365.7 931.3,373.1 943.2,367.3 953.4,361.6 963.6,355.8 971.9,355.4 980.2,355 977.9,361.6 967.3,364 971.1,372.3 972.5,378 981.5,381.3 990.9,383 993.2,386.3 984.1,389.2 974.8,392.1 966.4,396.7 958,401.2 956,394.6 963,390.5 969.9,386.3 959.7,387.1 952,390.5 944.2,393.8 936.4,397.1 927.3,400.4 921.4,407.9 923.8,415.4 914.2,417.9 908,419.2 901.8,420.4 893.4,425.4 890.4,433 882.2,439.7 879.7,436.3 880,444.7 870.7,455.6 872.2,443 868.3,453.9 870.9,457.3 870.3,469.9 860.6,475 849.7,481.7 839.8,487.6 832.5,492.7 825.2,497.7 819.1,508.7 818.3,518.8 821.4,528.1 821.9,534.8 822.5,541.6 819.3,552.5 814.4,555.9 811.8,554.2 808.8,545.8 804.5,534 806.7,523 800.6,514.6 795.3,516.3 788.1,516.3 782.1,511.2 771.4,511.2 761.8,512.9 760.3,522.2 751.2,521.3 741.2,518 734.9,517.5 728.6,517.1 720.6,520.5 710.3,527.2 700,534.8 698.1,541.6 696.4,548.3 693.3,556.7 690.4,565.2 688.8,572.3 687.3,579.5 689.8,592.1 692.9,598.9 695.9,605.6 703.3,610.7 707.2,614 714.4,612.3 721.6,610.7 733,607.3 737.6,600.5 739.7,590.4 746.9,588.3 754.1,586.2 765,586.2 759.7,598.9 757.4,611.5 752.5,615.7 750.2,628.4 745.2,633.4 755.4,634.3 766.5,633.4 777.5,634.3 785.6,641 783.7,649.4 781.9,657.8 780.1,670.5 780.5,676.4 785.9,684.8 789.9,691.6 798.7,693.2 807.1,689 813.9,687.3 824.6,694.9 821.1,706.7 818.5,698.3 809.9,692.4 803.7,698.3 804.1,705 798.3,703.4 793.3,699.1 783.7,697.5 778.6,694.9 771.1,684.8 763.9,681.4 764.3,674.7 757.7,663.7 753.1,657.8 745.8,656.2 735.1,651.9 724.4,648.6 717.6,643.5 707.9,631.7 698.2,632.6 689.1,635.1 682,632.6 675,630 665.2,625.8 658.8,621.6 652.5,617.4 646.7,614.4 640.9,611.5 635.8,606.4 628.7,595.5 631.6,586.2 628.8,579.1 626,571.9 621.6,564.3 617.3,556.7 609,548.3 604.1,535.7 601.6,531.4 594.5,523 593.8,514.6 593.2,506.2 584.5,500.3 581.8,506.2 581.3,514.6 587.6,524.7 590.7,537.3 594.5,548.3 598.3,560.9 603.5,571.9 598.1,573.6 592.8,566.8 587.6,560.1 588.7,548.3 580.8,542.4 575.9,533.1 581.2,527.2 573.1,518 571.6,511.2 570.3,504.5 569.8,493.5 564.7,482.6 558.9,477.5 551.9,475.8 550.8,467.4 549.8,459 550.2,448.9 549.1,441.8 548.1,434.6 548.5,427.1 552.8,420.4 557.2,413.7 559.2,405.4 565.2,397.9 571.3,390.5 578.3,378.9 581.6,369.8 585.1,360.8 590.1,361.6 595.1,362.4 594.8,368.2 600.7,355.8 600.2,351.8 594.4,346 589.6,342.8 584.9,339.5 587.7,329 587.8,319.4 586.3,311.4 588.7,303.4 586.4,295.5 587.9,288.8 589.5,282.1 584.9,277.5 574.4,282.1 571.4,275.9 568.4,273.6 565.3,271.3 560.3,269.7 555.4,268.2 550.2,267.4 545.1,266.6 541.6,264.3 538.2,262 531.1,263.2 523.9,264.3 509.1,269.7 501.1,271.6 493,273.6 501.4,264.3 509.7,261.6 518,258.9 507.5,260.5 494.7,266.6 481,273.6 471.9,277.5 461.3,282.5 450.6,287.6 441.1,290.8 431.6,293.9 421.7,297.5 411.7,301 403,303.4 394.3,305.8 382.2,309 394.6,302.6 407.3,299.4 420.5,294.3 433.7,289.2 451,279 444,278.2 439.3,277.9 434.7,277.5 424.8,278.2 434.7,269.7 429.6,268.9 424.6,268.2 422.5,263.5 434.4,254.4 433.5,251.3 446.3,246.8 457.6,243.8 466.7,242.3 475.8,240.8 484.3,234 479.1,233.7 473.9,233.3 466.3,233.7 458.7,234 459.9,228.8Z M1137.6,268.9 1132.7,265.9 1127.8,262.8 1121.1,260.9 1114.4,258.9 1109.3,249.1 1105.2,237.8 1104,230.3 1102.9,222.9 1101.7,215.6 1108.2,204.8 1116.7,201.2 1125,197.7 1119.3,196.5 1113.6,195.3 1107.9,194.2 1111.4,187.2 1109,176.9 1109.7,166.7 1108.5,156.8 1103.7,155.3 1099,153.8 1094.3,152.3 1087.9,152.6 1081.5,152.9 1075.1,153.2 1068.7,153.6 1063.9,150.3 1059.3,147.2 1057.2,144 1055.2,140.9 1063.4,138.8 1071.6,136.8 1079.6,134.8 1089.3,131.9 1098.8,129 1106.4,125.6 1113.9,122.3 1120.7,121 1127.5,119.7 1134.2,118.4 1140.9,117.1 1147,116.8 1153.2,116.6 1159.3,116.3 1165.4,116.1 1171.5,115.8 1177.6,115.6 1183.5,115.2 1189.3,114.8 1195,114.4 1200.8,114.1 1207.4,113.4 1214,112.7 1220.6,112 1227.1,111.4 1233.6,110.7 1239.5,110.6 1245.3,110.6 1251.2,110.5 1257,110.4 1262.9,110.3 1268.7,110.2 1273.9,110.9 1279,111.7 1284.2,112.4 1289.4,113.1 1294.5,114.3 1299.6,115.6 1304.8,116.8 1310,118.1 1305.1,119.4 1300.2,120.7 1306.4,120.9 1312.7,121.1 1319,121.4 1325.2,121.6 1331.5,121.8 1338.4,121.2 1345.3,120.7 1338.8,123 1332.3,125.4 1325.7,127.8 1320.3,131.3 1314.8,134.8 1306.2,140.9 1301.4,150.3 1304.2,160.1 1295.2,166.7 1286.1,173.5 1280.3,176.2 1274.5,178.9 1279.1,181.3 1283.9,183.7 1282.4,190.7 1276.9,191.7 1271.3,192.8 1264.9,197.7 1255.9,201.6 1246.8,205.5 1238.4,206.6 1229.9,207.7 1220.4,212.4 1210.8,217.1 1201.4,220.7 1192,224.4 1182.6,227.4 1173.2,230.3 1163.9,241.5 1151.6,252.8 1145,264.3Z M824.6,694.9 829.6,700 836.1,688.2 840.3,678.9 845.7,674.7 855.5,672.2 865.4,667.1 872.4,662.9 868.2,670.5 869.2,678.1 873.9,674.7 881.9,664.6 885.2,670.5 893.7,676.4 902.2,677.2 910.7,678.1 921.6,681.4 932.9,677.2 940.3,678.1 936.4,682.3 947.3,687.3 948.4,695.8 955.8,698.3 966.5,710.1 975.9,717.7 982.6,717.7 989.3,717.7 998.2,719.4 1004.4,722.7 1010.7,726.1 1016.5,731.2 1020.1,740.9 1023.6,750.5 1027.3,759 1025.8,767.4 1034.7,769.1 1038.4,774.1 1042.2,773.3 1049.6,774.6 1057.1,775.8 1068.3,785.9 1072.1,789.3 1079.5,790.2 1087,791 1094.4,791.4 1101.8,791.8 1113.1,798.6 1124.4,807.8 1130.7,809.5 1137.1,811.2 1139.5,822.2 1141.1,828.1 1139.7,835.7 1136.3,847.5 1129.1,855.9 1124.1,862.6 1119.6,869.8 1115,877 1111.8,889.6 1112.2,898 1112.7,906.4 1111.1,919.1 1108.2,931.7 1104.9,938.5 1100.6,951.1 1094,961.2 1085.3,961.2 1074.6,963.8 1069,966.7 1063.4,969.6 1057.7,975.1 1052,980.6 1048.7,990.7 1050.1,1003.4 1042.8,1014.3 1039.2,1024.4 1034.4,1031.2 1029.8,1037.9 1026.3,1045.1 1022.9,1052.2 1014,1061.5 1004.9,1061.5 998.1,1059 991.3,1056.5 989,1059 998.2,1066.6 1002,1075 1001.2,1087.6 992.1,1093.5 982,1094.3 971.8,1095.1 972.5,1101.8 973.2,1108.5 964.5,1114.4 955.4,1111 958.3,1121.1 969.4,1126.9 961.5,1131.9 962,1139 962.5,1146 957.2,1150.1 951.9,1154.3 961.2,1162.5 968,1169.1 964.9,1176.1 961.9,1183 955.3,1191.2 957.6,1200.1 965.3,1206.6 958.7,1207.4 951.5,1209.8 953.8,1217.8 946.4,1215.4 935.1,1211.4 925.2,1203.4 916.6,1191.2 908.3,1179 903.5,1166.6 903.7,1158.4 907.3,1150.1 906.2,1137.7 905.3,1125.2 898.7,1119.4 895.9,1111.9 893.2,1104.3 892.2,1091.8 888.5,1080.9 889,1073.7 889.7,1066.6 892.2,1053.9 893.1,1045.5 891.6,1037.1 890.2,1028.6 888.4,1016 888.4,1007.6 888.4,999.1 888.8,990.7 889.4,982.3 888.7,973.9 888,965.4 887.5,954.9 887.1,944.4 885.6,933.4 884.1,922.5 874.4,913.2 862.7,906.4 854.9,902.2 847.2,898 836.5,885.4 832.5,877 828.5,868.5 825.1,861.4 821.7,854.2 817.5,845.4 813.3,836.5 806.1,824.7 796.2,818 795,806.2 802.2,796.1 805,788.5 797.5,785.9 798.8,775.8 803.2,766.6 804,760.7 812.2,757.3 813,752.2 822.8,745.5 826.1,734.5 824.8,727.8 823.5,721.1 824.6,712.6 821.1,706.7Z M964.7,1208.2 960,1209 955.3,1209.8 956.5,1215.4 961.5,1221 952.5,1221.8 950.1,1223.4 962,1229 968.7,1230.2 975.5,1231.4 981.1,1230.2 986.8,1229 993.2,1225 983.4,1221 973.9,1217.8 969.3,1213Z M1009.2,1201.7 1013.9,1199.7 1018.6,1197.7 1024.4,1198.5 1030.1,1199.3 1027.6,1205 1021.2,1205 1014.9,1205Z M1358.1,465.7 1367.2,467.7 1376.3,469.6 1385.4,471.6 1392.4,468.7 1399.4,465.7 1409.9,461.5 1420.3,457.3 1429.6,456.7 1438.8,456.2 1448.1,455.6 1458.5,454.4 1468.9,453.1 1475.9,455.6 1472.9,468.2 1469.8,480.9 1477,485.1 1484.9,487.6 1492.8,490.1 1500,492.7 1507.2,495.2 1509.6,501.9 1516.8,504.5 1524.1,507 1531.3,509.5 1538.6,512.1 1541.8,506.2 1541.2,496 1551.5,490.1 1562.3,492.7 1569.7,496.9 1577.1,501.1 1584.3,502.8 1591.6,504.5 1598.8,505.7 1606,507 1612.8,503.6 1619.8,501.9 1629.3,504.5 1631.6,514.6 1635.8,522.2 1640.1,529.8 1644.6,541.6 1649,552.5 1657,565.2 1659,573.6 1668.2,582 1670.9,590.4 1671.5,602.2 1676.7,609 1681.8,615.7 1686,625.8 1690.2,635.9 1701.7,645.2 1713.3,657.8 1719.4,662.1 1718.2,669.6 1725.2,678.9 1732.7,679.8 1740,676.8 1747.3,673.9 1754.6,673 1762,672.2 1770,670.1 1778.1,668 1777.8,678.9 1775.9,687.3 1770.4,700 1763.3,712.6 1759.8,721.1 1756.2,729.5 1749,738.7 1741.7,748 1736.5,750.5 1726.9,759 1715.7,770.8 1708.2,781.7 1703.7,786.8 1697.7,794.4 1694.6,801.5 1690.7,809.5 1687.5,822.2 1691.2,824.7 1692.5,834.8 1692.9,847.5 1698.6,855.9 1699.6,868.5 1699.2,879.1 1698.8,889.6 1694.5,902.2 1686,909 1678.4,913.2 1670.9,917.4 1664.6,925.8 1655.3,934.3 1652.7,942.7 1656.6,952.8 1656.9,960.4 1657.1,968 1653,975.5 1645.6,978.5 1638.2,981.4 1634.9,986.5 1636.2,999.1 1631.9,1008.4 1624.8,1016 1621,1019.4 1615,1030.3 1608.1,1036.6 1601.2,1043 1596.7,1045.5 1586.2,1052.2 1579.7,1053.9 1572.3,1054.3 1564.9,1054.8 1554.3,1055.6 1547,1058.1 1539.8,1060.7 1529.6,1056.5 1528.6,1049.7 1528.6,1037.1 1524.2,1024.4 1519.8,1011.8 1517.1,1008.4 1512.4,999.1 1507.8,986.5 1506.2,978.1 1504.6,969.6 1504.9,960.4 1502.5,952.4 1500.1,944.4 1495.6,933.8 1491,923.3 1486.1,912.3 1485.5,902.2 1489.4,889.6 1493.9,881.2 1498.4,872.7 1501.5,860.1 1499.4,850.8 1497.3,841.6 1494.4,830.6 1490.8,818 1490.1,813.7 1487.1,805.3 1481.2,798.6 1472.3,787.6 1468.6,777.5 1464.9,773.3 1468.6,767.4 1470.8,759 1472.3,748 1471.5,740.4 1470.8,734.5 1465.6,729.5 1461.1,729.5 1451.4,730.3 1444,731.2 1438.8,723.6 1432.8,715.2 1424.7,713.5 1414.3,714.3 1408.3,716 1399.4,720.2 1392,723.6 1384.5,727 1374.9,724.4 1369.7,723.6 1362.2,725.3 1354.8,727 1343.6,730.3 1332.5,722.7 1325.8,718.5 1319.2,714.3 1314,709.3 1306.6,704.2 1301.5,695.8 1297.9,687.3 1291.3,678.9 1287.6,674.7 1281.1,668 1276,662.9 1275.3,655.3 1274,649.4 1270.4,643.5 1278,632.6 1278.9,624.1 1279.8,615.7 1280.9,603.1 1275.3,590.4 1281.5,577.8 1283.9,567.7 1291.4,558.4 1294.7,547.5 1303.7,535.7 1306.7,531.9 1316.8,528.9 1326.4,520.5 1330.9,511.2 1329.7,501.9 1333.5,493.5 1339.4,486.8 1345.8,484.2 1351.5,480.9 1355.9,470.8Z M1764,868.5 1766.5,878.4 1768.9,888.2 1771.2,898 1765.3,910.7 1761.6,921.2 1757.9,931.7 1753.3,944.4 1748.8,957 1744.7,967.5 1740.5,978.1 1733.4,980.6 1726.3,983.1 1721.6,974.3 1716.9,965.4 1716.7,957 1716.6,948.6 1724,935.9 1723.2,925.4 1722.4,914.9 1734.2,902.2 1745.7,893.8 1753.8,881.2Z M1361.7,463.2 1355.5,459.8 1348,453.9 1337.5,455.6 1338.6,443.9 1333.8,441.3 1338.4,428.8 1340.1,420.4 1339.1,412.1 1336.6,405.4 1345.6,399.6 1353.3,400 1361.1,400.4 1367.4,400.8 1373.8,401.2 1380.6,401.7 1387.3,402.1 1391.4,391.3 1391.5,378.9 1384.9,371.4 1379.7,367.3 1370.6,365.7 1368.1,360.8 1376.6,357.5 1386.4,359.1 1389,358.3 1387.7,350.1 1392.3,352.6 1400,351.8 1409.1,346.9 1409.7,340.4 1415.4,338.7 1421.8,336.3 1425.5,331.4 1429.1,324.2 1434,320.2 1443.5,320.2 1450.3,318.6 1453.3,316.2 1455.1,314.6 1452.9,308.2 1449.5,302.6 1449,293.9 1451.9,290.8 1460.2,286.8 1463.8,286.1 1463.5,291.5 1462,295.5 1466.4,297.1 1462.4,301 1459.4,303.4 1459.1,308.2 1461.8,311.4 1468.1,312.2 1468.3,315.4 1475.1,313.8 1483,311.4 1489.1,316.2 1494.3,314.6 1499.4,313 1506.4,311 1513.3,309 1516.2,312.2 1523.6,311.4 1523.8,308.2 1530.2,305 1528.9,295.5 1529.8,289.2 1536.7,286.8 1541,290.8 1546.5,290.8 1547.3,284.5 1547.2,280.6 1540.8,278.2 1540.1,274.4 1547.5,272 1554.5,271.3 1560.6,271.6 1566.6,272 1571.9,268.9 1579,268.6 1574.4,266.6 1567.8,263.5 1559.1,264.3 1553.4,265.5 1547.7,266.6 1542,267.8 1536.2,268.9 1530.9,265.1 1525.4,260.5 1524.7,252.8 1522.3,248.3 1523.8,243.8 1529.9,239.3 1534.1,235.5 1538.2,231.8 1543,230.3 1541.7,226.6 1535.1,224.4 1529.6,225.1 1524.1,225.9 1521.2,231.8 1519.1,236.3 1515.7,240 1511,243 1506.3,246 1500.5,250.6 1500.4,258.2 1501,262.8 1509.7,266.6 1512.5,269.7 1507.7,273.6 1502.9,278.2 1500.6,284.5 1500.2,291.5 1497.8,297.9 1490.5,298.6 1487.4,304.2 1479.9,304.2 1477.7,299.4 1477.8,293.9 1472.4,287.6 1471.6,286.1 1466.9,279.8 1465.9,275.1 1463.1,268.9 1461.6,273.6 1456.5,277.5 1447.8,282.9 1440.5,282.9 1433.6,276.7 1430.5,272 1430.8,265.1 1428.8,260.5 1428.5,252.8 1435.4,249.1 1442.6,244.5 1449.9,241.5 1455.6,240 1459.1,234 1464.4,230.3 1469.3,222.9 1474.1,215.6 1478.8,213.4 1484.2,208.4 1489.1,204.1 1493.9,199.8 1501.4,196.3 1506.5,194.9 1511.6,193.5 1516.5,191.4 1521.4,189.3 1528.5,187.9 1535.6,186.5 1541.5,186.8 1547.4,187.2 1555.9,189.3 1564.4,191.4 1557.6,195.6 1566,197 1571.6,197.7 1577.1,198.4 1585.5,199.5 1594,200.5 1600.3,203.4 1606.7,206.2 1614.5,209.1 1622.3,212 1627,217.8 1622.7,221.5 1617.2,221.8 1611.8,222.2 1602.9,220.7 1594.2,219.3 1588.4,218.5 1582.6,217.8 1589.2,221.5 1597.3,230.3 1597.4,234.8 1602.7,236.3 1607.9,237.8 1613,235.5 1614.9,232.5 1622.1,232.9 1629.4,233.3 1624.1,225.9 1628.8,222.9 1633.4,220 1639.2,220.7 1645,221.5 1644,215.6 1639.1,208.4 1640,204.8 1645.3,205.9 1650.6,206.9 1656.7,215.6 1663.3,211.3 1668.2,209.8 1673.1,208.4 1680.3,206.2 1687.5,204.1 1693.1,204.4 1698.7,204.8 1706.7,204.4 1714.7,204.1 1719.4,202.7 1724.1,201.2 1724.3,195.6 1731,196.7 1737.8,197.9 1744.5,199.1 1750.5,200.2 1756.5,201.2 1762.8,202.7 1772.6,205.5 1772.8,201.2 1766.1,199.1 1759.4,197 1754.5,190.7 1751.3,183.7 1754.6,176.9 1757.5,173.5 1764.4,174.1 1771.3,174.8 1781.7,183.7 1782.2,190.7 1792.8,201.2 1802.8,208.4 1801.5,213.8 1800,219.3 1804.5,217.4 1808.9,215.6 1804.9,204.8 1810.7,201.2 1801.9,194.2 1793.1,187.2 1783,180.3 1788.3,176.9 1795.3,177.5 1802.3,178.2 1811.7,183.7 1815.6,182 1819.5,180.3 1811.4,170.1 1816.8,169.4 1822.1,168.8 1827.5,168.1 1833,165.7 1838.5,163.4 1835.3,160.1 1841.2,158.5 1847,156.8 1852.4,156 1857.7,155.2 1863,154.4 1868.3,153.6 1874.1,152.9 1880,152.3 1885.8,151.6 1889.2,149.4 1892.6,147.2 1895.9,144.9 1899,142.8 1905.5,144 1912,145.3 1919.3,147.2 1926.7,149.1 1933.7,149.5 1940.8,149.9 1947.9,150.3 1961.3,154.9 1969.7,163.4 1964.1,165.1 1958.5,166.7 1967.3,167.7 1976.1,168.8 1982.9,169.1 1989.7,169.4 1996.5,169.8 2003.3,170.1 2010.7,170.9 2018.1,171.8 2025.6,172.6 2033.1,173.5 2040.5,174.6 2047.9,175.7 2055.4,176.9 2049.3,170.1 2056.6,171.8 2064,173.5 2079.5,183.7 2091.7,187.2 2094.8,185.4 2097.9,183.7 2105.8,183.7 2113.7,183.7 2117.5,180.6 2121.1,177.5 2124.5,176.2 2127.7,174.8 2135.1,175.5 2142.6,176.2 2150,176.9 2157.5,177.5 2166.7,179.1 2176,180.7 2185.2,182.3 2194.4,185.1 2203.6,187.9 2209.7,187.5 2215.8,187.2 2221.9,186.8 2228,186.5 2241.6,190.3 2255.1,194.2 2265.6,197.7 2272.7,197.7 2279.9,197.7 2287.1,197.7 2292.5,195.9 2297.9,194.2 2310,197.7 2322,201.2 2314,194.2 2321.2,194.5 2328.4,194.9 2335.7,195.2 2342.9,195.6 2353.1,197.4 2363.2,199.3 2373.4,201.2 2388.2,210.8 2402.8,220.5 2417.2,230.3 2411.7,231.4 2406.2,232.5 2419.4,238.9 2432.6,245.3 2442.8,250.6 2435.8,251.8 2428.7,253.1 2421.7,254.4 2417.9,258.2 2414,262 2411.9,265.1 2409.8,268.2 2402.6,268.7 2395.2,269.2 2387.9,269.7 2380.5,269.7 2373,269.7 2381.8,279.8 2382,285.3 2399.5,295.5 2397.7,299.4 2404.9,307.4 2405.6,313.4 2406,319.4 2400.6,323.4 2405.2,331.4 2404.4,339.5 2388.6,327.4 2377.7,317.4 2366.4,307.4 2358.6,299.4 2350.6,291.5 2350,283.7 2351.7,279.8 2353.3,275.9 2354.1,270.1 2354.8,264.3 2356.1,260.5 2357.3,256.7 2353.7,249.1 2350.2,252.1 2346.6,255.1 2337,254.4 2343.2,262 2331.2,259.3 2319.2,256.7 2322.2,264.3 2325,272 2318.2,274 2311.3,275.9 2300,272 2292.4,272.8 2284.9,273.6 2275.9,273.6 2266.9,273.6 2260.9,273.6 2255,273.6 2253,280.6 2250.9,287.6 2250.4,293.5 2249.8,299.4 2246.8,304.6 2243.6,309.8 2257.9,315.4 2265.5,317 2273.6,319 2281.6,321 2291.9,323.4 2296.3,331.4 2300.5,339.5 2307,347.7 2313.2,355.8 2312.4,368.2 2314.3,380.5 2311.9,386.7 2309.3,392.9 2307.9,401.2 2303,404.2 2298,407.1 2289.7,404.6 2284.6,409.6 2284.1,417.9 2285.4,423.8 2280.1,427.9 2274.8,432.1 2277.4,437.2 2285.9,443 2299,455.6 2304.3,464 2305.5,469.9 2297.9,473.3 2289.1,477.5 2285.6,472.5 2283.3,464 2279.5,455.6 2278.2,451.4 2269.4,448.9 2263.1,443 2261.9,436.3 2254.2,432.1 2247.1,435.1 2240,438 2237.7,440.5 2234.9,434.6 2234.1,426.3 2225.5,422.9 2219.9,432.1 2215.5,435.1 2211,438 2215.9,445.5 2226.2,453.1 2235.1,449.7 2242.6,451 2250.1,452.3 2242.7,459 2239.6,463.2 2236.4,472.5 2244.7,480.9 2254.2,491 2264.4,499.4 2267.8,507 2262.6,510.4 2271.1,514.6 2271.6,523 2272,528.9 2267.2,532.3 2263.9,544.1 2263.2,550 2259.6,559.3 2255,561.8 2247.5,571 2239.2,575.3 2230.9,579.5 2225.9,580.3 2215.7,584.5 2205.5,588.7 2204.6,596.3 2199.3,586.2 2190.2,584.5 2180,588.7 2178.5,593 2173.9,605.6 2180.8,617.4 2189.8,628.4 2196.3,632.6 2203.1,645.2 2206.8,657.8 2207.1,668 2199,676.4 2191.8,679.8 2188.5,684.8 2178.1,694.9 2175.9,684.8 2173.3,679.8 2165.8,678.1 2160.6,669.6 2154.9,663.7 2145.7,660.4 2144.4,654.5 2137.8,655.3 2138.9,666.3 2134.6,676.4 2134.7,689 2141.1,695.8 2144.7,706.7 2153.8,710.1 2159.3,715.2 2167.2,725.3 2168.3,733.7 2169.3,743.8 2174.8,755.6 2169.6,756.4 2159.8,748.9 2152.9,742.1 2147.4,732 2144.7,721.9 2142.8,712.6 2138.8,706.7 2130.1,698.3 2128.7,687.3 2129.6,678.9 2129.3,666.3 2126.7,658.7 2124.1,651.1 2120,641 2117,628.4 2111.3,624.1 2106.8,629.2 2100.8,634.3 2093.2,632.6 2093.1,619.9 2090.2,609 2084.6,600.5 2077.6,597.2 2072,588.7 2067.8,579.5 2058.1,577.8 2051.6,583.7 2042.3,584.5 2033.9,587.1 2033.3,593.8 2030.3,598.9 2022.7,602.2 2015,611.5 2010.7,618.2 2004.3,626.7 1996.9,633.4 1989.9,636.8 1990.4,649.4 1992.5,657 1990.2,666.3 1990.4,673.4 1990.5,680.6 1985,689 1979.2,692.4 1974.4,699.1 1966.6,691.6 1963.9,683.1 1958.7,670.5 1952,658.7 1948.8,650.7 1945.5,642.7 1942.8,636.8 1937.9,624.1 1935.2,615.7 1932.5,607.3 1930.4,594.6 1928.8,586.2 1926.1,588.7 1917.8,593 1910.2,590.4 1901.8,579.5 1910.7,574.4 1903.8,571.9 1897,569.4 1889.4,566 1884.8,558.4 1880.5,553.4 1873.4,554.2 1866.3,555 1858.4,555.5 1850.5,555.9 1844.2,555 1838,554.2 1832.1,553.8 1826.3,553.4 1820,552.1 1813.7,550.8 1810.4,541.6 1805.1,539 1794.8,543.2 1788.1,541.6 1781.4,539.9 1769.7,532.3 1763.6,523.9 1758.1,514.6 1749.1,511.2 1745.9,514.6 1742.9,518.8 1747.5,527.2 1755.9,537.3 1761.6,543.2 1762.4,551.7 1767.4,558.4 1769.2,547.5 1773.1,556.7 1772.8,560.9 1780.2,563.5 1787,562.2 1793.8,560.9 1799.6,554.2 1806.5,544.9 1807.8,556.7 1810.6,562.6 1817.8,565.6 1825,568.5 1834.6,577.8 1831.8,586.2 1828.9,594.6 1822.7,607.3 1813.8,615.7 1804.6,619.9 1796.9,624.1 1790.1,627.5 1783.4,630.9 1775,637.6 1768.2,641.4 1761.4,645.2 1755.7,648.6 1750,651.9 1740.9,655.7 1731.9,659.5 1721.6,660.4 1718.4,655.3 1715.6,642.7 1713.4,630 1707.7,619.9 1699.6,607.3 1692.4,596.8 1685.2,586.2 1682.2,577.8 1679.1,569.4 1668.8,556.7 1662.8,544.1 1654.8,534 1650.2,530.6 1649.9,518.8 1647.6,526 1645.4,533.1 1637.6,526.4 1632.4,515.4 1629.3,504.5 1635.3,504.1 1641.3,503.6 1644.6,501.1 1646.2,496 1647,490.1 1649.6,481.7 1651,475.8 1650.1,468.2 1651.3,461.5 1651.6,458.1 1645.4,459 1640.3,457.3 1633.4,463.2 1626.4,463.2 1615.3,457.3 1612.5,457.3 1610.8,461.5 1603.2,461.5 1596.5,457.3 1589.6,458.1 1588.9,451.4 1581.3,444.7 1584.1,438.8 1578.9,434.6 1579.1,430.5 1587.7,427.9 1597.9,427.1 1597.3,422.1 1603.9,420.4 1613.3,419.6 1618.4,416.7 1623.4,413.7 1630.1,413.3 1636.8,412.9 1646.7,419.6 1652.7,420.8 1658.7,422.1 1664.5,422.1 1670.3,422.1 1676.1,420 1681.8,417.9 1680.9,409.6 1676.1,405.4 1666.4,400.4 1657.3,394.6 1650,391.3 1642.9,385.5 1648,380.5 1652.2,374.7 1658,370.6 1649.6,371.4 1640.4,374.7 1632.3,378 1631.9,383 1642.4,386.3 1635.5,388.8 1629.5,390.9 1623.5,392.9 1615.7,385.5 1622,379.7 1616.6,378.9 1611.2,378 1607.5,375.6 1602.3,376.4 1596.9,384.7 1591.6,394.6 1591.3,402.1 1587.5,403.7 1586.9,409.6 1589.4,413.7 1593.4,417.9 1597.1,420.4 1590.5,422.1 1586,424.6 1578.8,427.9 1577.1,424.6 1570.1,422.9 1566,422.9 1562.5,428.8 1559.9,430.5 1556.1,426.3 1554.4,430.5 1557.7,436.3 1560,438.8 1557.4,440.5 1565.6,447.2 1565.9,449.7 1560.2,448.1 1559.8,452.3 1561.2,460.7 1556.3,460.7 1550.5,457.3 1546.4,448.9 1549.6,445.5 1544.5,443 1542.1,438.8 1536.8,433 1532.3,427.9 1531.5,418.7 1529,413.7 1521.8,408.3 1516.1,404.8 1510.4,401.2 1501.3,395.4 1495.3,386.3 1492.2,390.5 1489.8,383.8 1481.2,385.5 1482.5,395.4 1490.9,400.4 1495.5,409.6 1502.4,412.1 1509.4,414.6 1508.3,417.9 1515.3,421.3 1526.2,429.6 1525.1,432.1 1515.7,426.3 1513.4,433 1517.3,438.8 1513.5,443.9 1511,448.1 1508.1,447.2 1509.2,441.3 1509.4,434.6 1504.3,430.5 1500.6,425.4 1496.4,423.8 1488,419.6 1482.3,415.4 1473.9,410.4 1470.3,406.2 1468.7,401.2 1465.1,396.3 1459,393.8 1453.1,397.9 1448.5,399.6 1441.2,404.6 1435.1,402.9 1429.7,402.1 1423,402.9 1419.7,409.6 1421.1,414.6 1414.4,418.7 1405.5,422.1 1400.8,428.8 1397.3,434.6 1400.8,440.5 1395.9,444.7 1394.5,450.6 1386.2,456.5 1382.7,457.3 1375.7,457.7 1368.7,458.1Z M425.4,201.2 430.2,203.4 435,205.5 437.2,208.9 439.5,212.2 442,215.6 444.9,217.8 448,220 451,222.2 434.5,228.5 417.9,234.8 410.9,233.7 404,232.5 403.9,226.6 404,220.7 389.8,226.6 381.6,230.3 396,220.5 410.6,210.8Z M2337.4,183.7 2343.6,183 2351.8,187.9 2346.6,188.6Z M455.2,183 460.6,183.7 466,184.4 461.4,187.2 454.2,187.5 447,187.9Z M2454.5,857.6 2457.3,865.2 2460,872.7 2460,880.3 2460,887.9 2470,893.8 2470.7,904.3 2471.2,914.9 2471.1,925.8 2478.8,930.9 2486.6,938.5 2488.4,946.9 2494.8,957 2495.6,965.4 2501.3,973.9 2507.6,982.3 2504.9,990.7 2502.1,999.1 2501.6,1008.4 2496.3,1016.4 2490.8,1024.4 2486.4,1032.9 2473.2,1044.7 2464.5,1053.9 2455.9,1064 2445.3,1075 2440,1083.4 2432.4,1085.1 2424.9,1086.7 2416.2,1091.8 2407.4,1096.8 2401.8,1090.9 2389.5,1094.3 2383.6,1092.6 2377.6,1090.9 2372.5,1087.6 2371.3,1079.2 2374.5,1069.9 2368.8,1067.4 2371.9,1060.7 2373.4,1049.7 2374.5,1043.8 2365.6,1051.4 2359.9,1064 2354.4,1060.7 2351.3,1059.8 2349.8,1047.2 2348.7,1041.3 2339.8,1037.1 2330.7,1032.9 2323.3,1033.7 2315.9,1034.5 2308,1036.6 2300.1,1038.8 2288.2,1042.1 2276.2,1045.5 2269.7,1053.1 2261.5,1053.1 2253.3,1053.1 2245,1053.1 2236.2,1057.7 2227.3,1062.3 2220.6,1061.5 2214,1060.7 2208.5,1056.5 2211.1,1049.7 2220.5,1037.1 2219.8,1024.4 2220.2,1017.3 2220.5,1010.1 2220.8,1002.5 2221,994.9 2219.1,988.2 2220.3,981 2221.5,973.9 2224.2,965.9 2226.8,957.9 2234.5,951.1 2241.9,946.9 2253.8,941 2261.6,938.5 2269.3,935.9 2276.9,934.3 2284.5,932.6 2290.1,925.8 2295.7,919.1 2297.9,910.7 2303.7,906.4 2307,913.2 2311.4,904.8 2320.1,896.3 2328.8,887.1 2336.5,884.5 2344.3,892.1 2353.7,893 2356.9,881.2 2366.2,871.9 2375.3,870.2 2380.5,863.5 2386.8,866.8 2397.5,870.2 2404.1,870.2 2410.8,870.2 2403.4,881.2 2397.8,893.8 2403.9,901.4 2413.7,908.1 2422,914.9 2430.6,915.7 2436,906.9 2441.3,898 2443.1,889.6 2444.8,881.2 2447.4,872.7 2450.5,860.1Z M2388.4,1110.2 2393.5,1111.9 2398.5,1113.5 2405.2,1112.7 2411.9,1111.9 2405.9,1121.1 2397.1,1131.1 2388.1,1134.4 2381.9,1133.6 2382.8,1125.2 2384.8,1116.9Z M2614,1057.3 2618.7,1064.9 2616.6,1077.5 2624.6,1075.8 2620.6,1084.2 2626.7,1087.6 2637.4,1085.1 2626.4,1096 2617.7,1098.5 2613.5,1104.3 2601.7,1112.7 2591.1,1117.7 2589.6,1115.2 2597.4,1108.5 2599.6,1102.7 2595.7,1098.5 2604.1,1094.3 2611.2,1085.9 2614.7,1075 2613.6,1064Z M2581,1108.5 2586,1111.9 2587.5,1114.4 2583,1119.4 2573,1126.1 2562.9,1132.7 2562.2,1136 2554.5,1138.1 2546.8,1140.2 2536.6,1150.1 2531.8,1153.5 2519,1159.2 2511.1,1159.2 2505.3,1155.9 2504.6,1152.6 2516.7,1144.3 2528.7,1137.7 2540,1133.6 2553.4,1127.7 2564.6,1119.4 2574.4,1111.9Z M2362.9,418.7 2369.5,426.7 2375.9,434.6 2374.6,444.7 2380.1,456.5 2384.5,466.6 2381,472.5 2377.6,468.2 2374.4,475 2370.6,475.8 2362.2,475.8 2361.9,478.3 2357.9,485.1 2350,478.3 2349.2,475 2341.1,475.8 2331.7,478.3 2322.2,480.9 2321.8,475 2328.2,469.1 2333.5,468.2 2338.7,467.4 2347.8,467.4 2348.9,462.4 2349.9,453.1 2352.5,451.4 2353.4,457.3 2361.3,452.3 2363.3,443 2360.7,432.1 2356.7,425.4 2355.7,420.4Z M2354.2,417.9 2358.8,415.4 2353.7,409.6 2362.8,411.7 2371.9,413.7 2373.9,405.4 2380.3,402.9 2372.5,395.4 2364.9,395 2357.2,394.6 2343.1,384.7 2347.4,392.9 2351.4,402.9 2345.2,403.7 2346.6,411.2Z M2321.9,481.7 2329.6,486.8 2333.1,491.8 2333.9,502.8 2330.2,506.2 2325.1,501.9 2321.8,493.5 2316.5,489.3 2316.9,485.1Z M2332.8,480.9 2342.2,478.3 2349,482.6 2347.3,486.8 2340.6,485.9 2340.2,491.8 2333.9,486.8Z M2291.4,313 2303.9,323.4 2314.4,335.5 2327,347.7 2341.8,357.5 2336.3,357.5 2330.7,357.5 2336,368.2 2346.1,373.9 2349.6,379.7 2340.1,374.7 2340.2,380.5 2332.1,368.2 2323.6,355.8 2313.4,343.6 2301.4,331.4 2293.6,321Z M2278.7,554.2 2282.9,556.7 2282,569.4 2280.1,582 2273.8,575.3 2271.5,567.7 2275.7,556.7Z M2208.5,598 2211.4,602.2 2208.8,609 2203,614 2195.8,609.8 2194.7,603.1 2199.9,598.9Z M2283.3,611.5 2289.1,611.5 2295,611.5 2298.6,624.1 2294.4,634.3 2297,646.9 2305.2,647.7 2315.4,657.8 2316.5,661.2 2307.8,656.2 2303.3,650.3 2292.5,651.9 2288.8,646.9 2290.6,643.5 2285.3,642.7 2280.9,632.6 2283.8,627.5 2283.2,619.9Z M2329.3,684.8 2337.7,695.8 2337.8,708.4 2336,714.3 2331.9,720.2 2329.2,712.6 2320.3,712.6 2319.7,704.2 2314.5,704.2 2305.2,708.4 2306.1,700 2315.3,694.1 2322.7,694.1Z M2268.7,696.6 2276.6,687.8 2284.3,678.9 2285.2,672.2 2282.5,674.7 2277.6,682.3 2272.7,689.9Z M2318.1,662.1 2327.3,664.6 2329.8,674.7 2325.3,681.4 2322.5,675.5 2319.8,670.5Z M2301.7,667.1 2310.9,670.5 2314,678.9 2311.3,690.7 2306.4,685.7 2308,678.1 2301.9,676.4Z M2288.4,654.5 2296.6,655.3 2296.8,663.7 2292.3,662.9Z M2210.5,752.2 2215.7,750.5 2225.4,753.1 2228.2,746.3 2234.1,743.4 2239.9,740.4 2246.9,729.5 2257.6,721.1 2266.6,708.4 2273.5,712.6 2283.7,722.7 2278.1,729.5 2275.5,737.9 2277.3,748 2285,759 2276.1,760.7 2273.9,767.4 2273.9,775.8 2264.7,788.5 2263.5,799.4 2252.2,802 2251,796.1 2239.9,795.2 2230.9,796.9 2225,794.4 2219.2,791.8 2218,780 2210.7,769.9 2210.6,759Z M2107.5,720.2 2115.7,721.9 2124,723.6 2133.4,735.4 2139.5,740.9 2145.6,746.3 2154.7,752.2 2166,763.2 2171.9,775.8 2176.9,785.9 2187.9,792.7 2186.7,805.3 2185.4,816.3 2179.5,816.3 2174.4,813.7 2167.3,807 2160.1,800.3 2150.8,788.5 2146.6,775.8 2141.4,768.2 2136.2,760.7 2132.3,750.5 2122.3,737.9 2113,728.6Z M2180.5,824.7 2187.6,817.1 2194.3,817.1 2205.2,822.2 2212.5,823.4 2219.9,824.7 2223.8,821.3 2230,823.4 2236.2,825.5 2242.7,828.9 2249.1,832.3 2247.8,840.7 2240.8,839.5 2233.9,838.2 2224.7,836.5 2215.6,834.8 2204.5,833.1 2197.2,831 2189.9,828.9Z M2252.6,835.7 2260,836.1 2267.4,836.5 2274.8,836.9 2282.2,837.3 2289.5,837.8 2296.9,838.2 2304.4,837.3 2311.9,836.5 2310.1,840.7 2299.6,841.6 2289.2,842.4 2281.8,842.4 2274.4,842.4 2266.9,842.4 2259.5,842.4 2253,840.7Z M2314.1,854.2 2322.4,844.9 2332.6,841.6 2342.9,838.2 2337.2,844.9 2329.4,849.1 2321.6,853.4Z M2281.4,847.5 2290.3,847.5 2294.3,852.5 2286.8,853.4Z M2292.4,756.4 2299.9,757.3 2311.1,759 2322.2,759 2331.1,753.9 2328.2,760.7 2318.6,764 2311.1,763.6 2303.7,763.2 2294.8,763.2 2292.5,771.6 2298.4,778.4 2303.6,775 2310.3,775 2317,775 2311,780 2305,783.4 2308.4,792.7 2310.5,796.9 2313.8,805.3 2311.2,812.1 2304.7,807.8 2302.8,801.1 2299.5,791 2295.8,792.7 2294.5,805.3 2294,813.7 2287.3,813.7 2288,801.1 2286.7,796.1 2283.9,790.2 2286,783.8 2288,777.5 2291,769.9 2291,763.2Z M2348.1,749.7 2356.4,754.8 2357.3,764.9 2351.3,774.1 2349.8,763.2 2347.5,757.3Z M2351.5,792.7 2362,792.7 2372.4,792.7 2369.9,797.7 2362.5,797.3 2355.1,796.9Z M2374.4,774.1 2385.6,770.8 2396.7,774.1 2398.4,781.3 2400.1,788.5 2407.2,795.2 2418.8,784.3 2430,782.6 2439.2,785.9 2448.4,789.3 2455.7,792.7 2463,796.1 2474,799.4 2483,809.5 2491.4,818 2496.9,823.9 2490.9,824.7 2493.9,833.1 2500.4,843.2 2510.5,853.4 2516,856.7 2506.7,854.2 2495.7,853.4 2490.4,847.5 2482.4,837.3 2471.8,832.3 2463.9,837.3 2459.5,844.9 2448.4,844.9 2438,836.5 2426.8,837.3 2423.8,828.9 2431.4,826.4 2428.3,818 2421.3,809.5 2414.1,807 2406.8,804.5 2399.5,802 2392.2,799.4 2386.9,801.1 2381.3,791.8 2392.6,788.5 2383.8,785.9 2374.3,779.2Z M2501.3,814.6 2507.8,812.1 2514.3,809.5 2525.8,802.8 2531.7,803.6 2529,811.2 2519.6,818 2509.8,820.5Z M2521.3,789.3 2530,794.4 2536.8,805.3 2534.5,807 2526.2,795.2Z M2548.2,813.7 2554.5,818 2557.7,824.7 2552.6,823.9Z M2581.7,845.8 2589,846.6 2590.8,850.8 2583.5,850Z M2590.8,837.3 2595.1,845.8 2592.7,847.5 2589.8,839.9Z M2598.1,936.8 2605.5,943.9 2612.8,951.1 2615.1,956.2 2610.9,955.3 2605.5,949.4 2600.1,943.5Z M2700.9,914.9 2710.3,915.7 2708.2,920.8 2700.4,919.9Z M2714.2,905.6 2723.4,903.9 2718.3,909.8 2712.5,909.8Z M1991.5,685.7 1998.5,691.6 2006.5,704.2 2006.1,712.6 1998.2,717.3 1993.6,714.3 1991.7,704.2 1991.3,695.8Z M1362.6,346.9 1372.3,344.4 1376.8,345.2 1380.8,342 1385.9,341.6 1391.1,341.2 1396.2,341.2 1401.3,341.2 1408.4,337.9 1404.5,335.5 1410.2,326.6 1400.7,324.2 1400.7,318.6 1398.1,315.4 1391.9,310.6 1389.5,303.4 1386.5,299.4 1380.3,299.4 1382.2,296.3 1386.6,290.8 1388.5,286.8 1383.3,286.4 1378.2,286.1 1373.9,287.6 1380.1,281.4 1380.7,278.6 1375,278.8 1369.3,279 1364.1,287.6 1364.4,295.5 1365.4,301.8 1369.7,303.4 1368.9,309 1377.6,308.2 1378.1,313 1381.2,317 1379.9,321 1371,321 1370.9,325 1373.4,328.2 1366.3,332.3 1372.6,334.7 1382.1,335.5 1372.5,337.9 1367.2,343.6Z M1360.3,321 1360.6,329.8 1358.7,329.8 1352.6,331.4 1346.5,333.1 1336.8,335.5 1333.9,330.6 1339.3,325 1339.5,321.8 1336.5,319.4 1336.8,313.8 1346.3,312.2 1345.9,308.2 1353.5,305 1360.9,305.8 1364.5,310.6 1362.4,315.4Z M1262.9,225.9 1268.5,222.9 1274.1,220 1278.5,226.6 1285.6,224.4 1292.3,222.9 1298.9,221.5 1304.6,220.4 1310.4,219.3 1317.9,221.5 1322.7,228.8 1316.9,234.8 1310.9,237 1304.9,239.3 1298.1,240.8 1291.3,242.3 1286.6,241.5 1281.8,240.8 1275.9,240 1270,239.3 1274.2,234.8 1268.9,232.9 1263.6,231.1 1269.5,229.6 1275.4,228.1 1269.1,227Z M1450.5,130.7 1457.3,129.8 1464.1,129 1471.1,129 1478,129 1484.1,128.6 1490.1,128.2 1496.2,127.8 1502,128 1507.8,128.1 1513.6,128.3 1519.4,128.4 1525.1,131.3 1519.6,132.2 1514,133 1508.5,133.9 1502.8,134.8 1496,135.7 1489.2,136.6 1495.7,138.7 1502.2,140.9 1495.8,144 1489.3,147.2 1482.5,149.7 1477.4,148.4 1472.3,147.2 1466.7,142.8 1463.6,139 1458.6,137.5 1453.7,136Z M1669.9,183.7 1679.8,187.9 1686.8,188.6 1693.8,189.3 1699.1,189.3 1704.4,189.3 1691.7,180.3 1684.6,172.1 1689.1,166.7 1692.1,163.4 1695,160.1 1700.3,156.8 1705.4,153.6 1710.7,151.8 1715.9,150.1 1721.1,148.4 1727.7,148.1 1734.2,147.8 1733.5,151.6 1728.6,153.2 1723.7,154.9 1718.7,156.5 1713.7,158.1 1708.7,161.8 1703.5,165.4 1699.6,169.4 1695.6,173.5 1690.1,175.2 1684.6,176.9 1679.8,177.5 1675,178.2Z M1616,127.8 1621.8,126.2 1627.5,124.5 1634,123.9 1640.4,123.4 1646.8,122.9 1653.2,122.3 1660.2,122.6 1667.2,122.9 1674.3,123.1 1681.3,123.4 1689.1,124.5 1697,125.6 1692,126.4 1687,127.3 1681.9,128.1 1676.9,129 1669.7,128.7 1662.5,128.4 1655.4,128.1 1648.3,127.8 1642.5,128.4 1636.8,129 1631,129.6 1623.5,128.7Z M1821.1,127.8 1824.1,126 1827,124.1 1830,122.3 1838.2,123.4 1846.5,124.5 1854.1,126.7 1861.8,129 1869.8,130.3 1877.9,131.7 1886,133 1898.1,138.4 1893,140 1887.8,141.5 1878.7,140 1869.6,138.4 1862.5,136.6 1855.5,134.8 1848.5,133.6 1841.6,132.5 1834.7,131.3 1827.9,129.6Z M2082.8,158.1 2083.1,155.2 2083.4,152.3 2090.6,152.7 2097.9,153.1 2105.2,153.6 2112.9,155.2 2120.5,156.8 2118.8,158.8 2116.9,160.8 2110.9,161.2 2104.9,161.6 2098.9,162.1 2090.8,160.1Z M2129.1,157.5 2133.7,156.5 2138.2,155.5 2146,157.2 2153.8,158.8 2151,160.1 2148.1,161.4 2142.6,161.1 2137,160.8Z M2115.8,170.1 2121.5,169.9 2127.1,169.6 2132.8,169.4 2136.7,172.1 2129,172.1 2121.3,172.1Z M1058.7,218.5 1049.7,224 1040.7,229.6 1033.3,235.9 1025.7,242.3 1017.5,252.8 1009.6,251.3 1001.6,249.8 994.1,247.5 986.7,245.3 981.2,239.6 975.9,234 969.2,234.3 962.4,234.5 955.6,234.8 963,227.4 969.6,227.4 976.2,227.4 982.7,227.4 989.7,220.4 996.7,213.4 993.5,209.8 990.3,206.2 985.7,203.6 981.1,201 976.6,198.4 977.9,192.8 968.9,194.2 959.8,195.6 953.9,195.1 948,194.6 942.1,194.2 934.9,193.1 927.8,192.1 927.6,185.8 931.9,178.9 942.1,172.1 951.6,170.1 961.1,168.1 967.7,168.3 974.3,168.5 980.9,168.8 982,176.9 989.5,175.5 997,174.1 1001.7,174.8 1006.3,175.5 1009.6,181.6 1015.5,184.4 1021.6,187.2 1026.4,190 1031.2,192.8 1035,199.8 1038.2,208.4 1045,210.9 1051.9,213.4 1055.3,216Z M1005.8,152.3 1000.1,151.8 994.4,151.3 988.8,150.8 983.1,150.3 976.1,150.8 969.2,151.2 962.2,151.6 968,144 976.5,141.8 984.8,139.7 985.6,134.8 994.7,131 1003.7,127.3 999.5,126 995.3,124.8 991.1,123.5 987,122.3 996.5,120.2 1005.9,118.1 1012.9,117.2 1019.9,116.4 1026.8,115.6 1033.8,114.7 1040.7,113.9 1047.5,113.1 1053.5,113 1059.4,112.9 1065.4,112.9 1071.3,112.8 1077.3,112.7 1083.2,112.6 1089.1,112.9 1094.9,113.2 1100.8,113.5 1106.6,113.8 1112.5,114.1 1118,115.3 1123.5,116.6 1117.2,118.6 1110.8,120.7 1102.8,122.1 1094.7,123.4 1087.6,126.2 1080.3,129 1074,129.9 1067.7,130.9 1061.3,131.9 1054.1,133.3 1046.7,134.8 1038.5,140.9 1030.1,143.4 1021.6,145.9 1017.4,150.3 1011.6,151.3Z M985.5,139 981.5,138.4 977.4,137.8 973.8,134.8 970.4,131.9 968.2,129 966.1,126.2 973.2,124.2 980.2,122.3 983.8,123.6 987.5,124.9 991.3,126.2 991.4,131.9Z M1001.5,156.8 993.8,159.8 986.2,162.8 978.6,162.8 971,162.8 963.5,162.8 955.9,162.8 949.6,162.3 943.4,161.9 937.1,161.4 942.5,156.2 948.1,151 953.6,151.6 959,152.3 959.3,156.8 968.2,155.3 977.2,153.8 986.1,152.3 991,153.1 995.9,154 1000.9,154.9Z M830.6,201.9 822.7,202.7 814.8,203.4 806.9,204.1 798.9,203.8 791,203.6 783.1,203.4 778.5,201.2 773.9,199.1 773.6,194.2 782,193 790.3,191.8 798.6,190.7 792.6,188.8 786.7,186.9 780.8,185.1 775.2,183 788.3,176.2 798.4,174.1 808.5,172.1 814.2,172.8 819.8,173.5 825.5,174.1 831.2,174.8 839.1,173.5 847,172.1 852,173.5 857,174.8 847.9,183.7 851.5,188.2 855.2,192.8 852.1,199.1 841.4,201.9 836,201.9Z M747,180.3 748.4,185.8 757.5,184.7 766.5,183.7 783.8,173.5 790.6,172.8 797.4,172.1 804.2,171.4 803.9,165.4 798.8,164.7 793.8,164.1 788.7,163.4 782.3,163.9 775.8,164.3 769.3,164.7 755.4,173.5Z M814.9,158.8 819.6,160.3 824.3,161.9 829.1,163.4 836,162.9 842.9,162.4 849.8,161.9 856.7,161.4 863.3,160.1 869.9,158.8 876.2,153.6 871.7,151.3 867.3,149.1 859.6,149.9 851.9,150.8 844.2,151.6 837.4,151.8 830.6,152.1 823.7,152.3Z M792.3,153.6 798.6,153.8 804.9,154 811.1,154.2 822.6,151.3 834,148.4 832.3,146.2 830.6,144 822,145.5 813.4,146.9 804.7,148.4Z M898.4,160.1 906.4,158.5 914.5,156.8 919.4,150.3 912.9,149.7 906.3,149.1 897,150.7 887.7,152.3 883.1,158.1 888.2,158.8 893.3,159.5Z M878.2,185.1 888.6,181 899,176.9 904.4,168.8 897.7,167.7 891.2,166.7 881.3,170.1 871.3,173.5 867.1,180.3 872.6,182.7Z M902.2,178.9 907.9,179.4 913.6,179.8 919.2,180.3 927.5,176.9 935.7,173.5 939.4,166.7 931.8,166.7 924.2,166.7 916.6,166.7 909.3,172.8Z M861,201.2 870.2,198.4 879.4,195.6 885.6,197.7 878.1,203.4 871.3,203.4 864.6,203.4Z M910.1,226.6 919.3,225.5 928.4,224.4 931.8,229.9 935.2,235.5 937.6,240.8 929,243 920.3,245.3 913.6,244.5 906.9,243.8 901.3,239.3 911.6,232.5Z M899.1,139.7 905.8,140 912.6,140.3 919.3,140.6 926.1,140.9 933.2,139 940.2,137.2 938.2,135.1 936.2,133 930.2,133.2 924.1,133.3 918.1,133.5 912,133.6Z M915.9,160.1 922.4,161.1 928.9,162.1 934.4,156.8 929.8,156.5 925.2,156.2Z M1010.1,367.3 1017.6,359.9 1015.7,355.8 1029.3,343.6 1035.9,337.1 1045,334.7 1038.9,343.6 1032,349.3 1040.4,349.3 1049.4,351.8 1052.5,359.1 1053.3,368.2 1048.2,374.7 1042,373.1 1033.5,373.1 1031.8,367.3 1022,367.3 1016.1,367.3Z M575.4,341.2 581.9,342.4 588.4,343.6 592,347.7 593.5,359.9 585.6,359.9 581.5,353.4 578,350.1 574.4,346.9Z M566.7,314.6 574.1,315.4 570.1,322.2 566.1,329 562.4,325Z M459.7,287.6 473,283.7 474.6,286.8 461.7,291.5Z M780.8,582.8 788.3,578.2 795.9,573.6 806.9,572.7 817.6,574.4 826.1,579.1 834.6,583.7 841.4,587.9 848.2,592.1 857.2,597.2 847.4,599.7 839.3,600.1 831.2,600.5 835.6,593.8 827,586.2 819.9,585 812.8,583.7 802.5,578.6 791.3,580.3Z M853.3,612.3 859.4,613.6 865.5,614.9 873.2,618.2 879.7,615.7 886.2,613.2 892.1,613.2 897.9,613.2 896.2,608.1 888.1,602.2 881.6,601.4 875.1,600.5 868.9,600.1 862.7,599.7 866.5,605.6 868.9,610.7 862,610.2 855,609.8Z M825.4,613.2 832.6,614 839.8,614.9 838.2,616.6 827.1,617.4Z M906.8,612.3 917.7,613.2 916.8,615.7 906.5,615.7Z M941.1,677.2 947.8,676.4 947.5,682.3 940.8,682.3Z M1486,447.2 1493.1,446.7 1500.2,446.1 1507.3,445.5 1504.6,458.1 1495.3,454.4 1486.1,450.6Z M1455.4,422.1 1465.6,422.1 1465.6,429.6 1465.5,437.2 1457.3,438.8 1456.3,430.5Z M1457.6,409.6 1463.5,405.4 1464.1,417.9 1458.6,417.1Z M1564.6,467.4 1574.2,469.1 1583.8,470.8 1577.6,472 1571.4,473.3 1564.1,470.8Z M1626,472.5 1633.8,469.5 1641.5,466.6 1638.1,473.3 1631.3,475.8Z M259.4,597.2 265.9,600.5 259.9,607.7 258.2,602.2Z M624.2,1427.7 631.2,1428.1 638.3,1428.4 645.3,1428.7 652.2,1429 659.2,1429.3 666.2,1429.6 673.1,1429.9 679.5,1430 686,1430.2 692.4,1430.3 698.8,1430.4 705.2,1430.5 711.6,1430.6 718,1430.8 723.3,1430.5 728.6,1430.2 734,1429.9 739.3,1429.5 744.7,1429.2 750.1,1428.9 755.5,1428.6 751.5,1424.1 747.4,1419.2 729.7,1414.1 711.6,1408.6 701.5,1406.5 691.2,1404.4 680.9,1402.2 670.6,1400 654.3,1395.4 637.9,1390.8 636.6,1387.6 642.9,1387.4 649.2,1387.1 655.5,1386.9 661.9,1386.6 668.2,1386.4 670.2,1383.8 672.2,1381.2 674.4,1378.6 680.7,1378 687.1,1377.3 693.6,1376.7 700,1376 704.7,1375 709.5,1374 714.2,1373 719.1,1372 724.9,1371.7 730.7,1371.4 736.5,1371.1 742.4,1370.7 746.9,1369.4 751.4,1368.1 756,1366.7 760.6,1365.4 767.8,1366 775.1,1366.7 782.3,1367.4 789.5,1368.1 795.9,1368.1 802.2,1368.1 808.6,1368.1 814.9,1368.1 824.6,1369.7 834.2,1371.4 842.2,1372.5 850.3,1373.6 858.3,1374.7 864.9,1375 871.6,1375.3 878.2,1375.7 884.8,1376 889.7,1373.7 894.7,1371.4 879.1,1361.3 883.4,1357.9 887.9,1354.5 897.7,1356.6 907.4,1358.6 914.2,1359 921,1359.3 927.7,1359.6 934.5,1360 941.6,1360.7 948.6,1361.3 955.6,1362 962.7,1362.7 968.8,1362.3 974.9,1362 981.1,1361.7 987.3,1361.3 994.5,1361.8 1001.7,1362.2 1008.9,1362.7 1012.2,1360.3 1015.7,1357.9 1006.7,1352.8 997.8,1347.6 1000.7,1344.1 1003.6,1340.6 1006.7,1337.1 1009.8,1333.6 1015.7,1330 1021.8,1326.4 1025.8,1319.2 1030.2,1311.9 1034.7,1304.5 1039,1301.9 1043.4,1299.3 1049.6,1297.4 1055.9,1295.5 1063.6,1293.7 1071.4,1291.8 1071.9,1299.3 1066,1301.9 1060.1,1304.5 1056.3,1308.2 1052.5,1311.9 1048.8,1315.5 1045.2,1319.2 1041.7,1327.9 1049.8,1332.5 1057.8,1337.1 1069.8,1344.1 1081,1354.5 1087.2,1364.7 1086.5,1371.4 1083.7,1374.7 1081.1,1378 1076.1,1380.1 1071.2,1382.3 1066.4,1384.5 1061.6,1386.6 1057,1388.7 1052.4,1390.8 1046.6,1392.4 1040.8,1393.9 1035.2,1395.4 1029.6,1397 1029.5,1401.5 1029.5,1405.8 1036.8,1407.2 1044,1408.6 1051.2,1410 1058.3,1411.4 1065.8,1412.5 1073.3,1413.6 1080.7,1414.6 1088,1415.7 1095.3,1416.7 1102.1,1417.6 1108.8,1418.4 1115.5,1419.2 1122.2,1420.1 1128.9,1420.9 1135.5,1421.7 1140.4,1421.1 1145.4,1420.5 1150.4,1419.9 1155.5,1419.2 1160,1418 1164.6,1416.7 1169.2,1415.4 1173.9,1414.1 1178.6,1412.7 1183.4,1411.4 1188.2,1410 1193,1408.6 1197.9,1407.2 1202.9,1405.8 1207.9,1404.4 1212.9,1402.9 1217.9,1401.5 1223.1,1400 1228.2,1398.5 1233.4,1397 1238.4,1394.7 1243.4,1392.4 1248.5,1390 1253.6,1387.6 1259.8,1384.5 1266.1,1381.2 1272.6,1378 1279.1,1374.7 1285,1371.4 1291,1368.1 1297.1,1364.7 1304.3,1362.3 1311.6,1360 1318.2,1358.2 1324.8,1356.3 1331.6,1354.5 1339,1351.1 1346.6,1347.6 1354.4,1346.2 1362.2,1344.8 1369.3,1345.3 1376.4,1345.8 1383.5,1346.2 1391.4,1344.1 1399.4,1342 1406.1,1341.7 1412.8,1341.3 1419.4,1341 1426.1,1340.6 1432.8,1340.6 1439.5,1340.6 1446.2,1340.6 1452.9,1340.6 1459.6,1340.3 1466.3,1339.9 1473.1,1339.6 1479.8,1339.2 1486.5,1339.6 1493.1,1339.9 1499.7,1340.3 1506.4,1340.6 1513,1341 1519.6,1341.3 1526.2,1341.7 1532.8,1342 1539.8,1340.8 1546.7,1339.6 1553.8,1338.4 1560.8,1337.1 1569.6,1334.6 1578.4,1332.1 1583.3,1333.9 1588.1,1335.7 1595.7,1337.5 1603.1,1339.2 1609.5,1336.4 1615.8,1333.6 1623.4,1331.4 1631,1329.3 1638.6,1327.1 1646.2,1325 1653.7,1323.5 1661.1,1322.1 1668.6,1320.6 1676.1,1319.2 1684.5,1316.8 1693,1314.3 1701.5,1311.9 1708.9,1314.1 1716.2,1316.3 1723.3,1318.8 1730.4,1321.4 1738.4,1321.7 1746.5,1322.1 1754.4,1322.8 1762.2,1323.5 1770.1,1324.3 1777.9,1325 1780.4,1330 1782.9,1334.6 1785.4,1339.2 1778.5,1341.7 1771.6,1344.1 1762.9,1349.4 1754.3,1354.5 1762.1,1354.5 1770,1354.5 1782.5,1347.6 1795.2,1340.6 1802.2,1338.2 1809.2,1335.7 1816.5,1332.9 1823.9,1330 1831.1,1327.5 1838.2,1325 1848.5,1322.1 1858.7,1319.2 1866.8,1318.2 1874.9,1317.2 1883,1316.3 1891.3,1316.3 1899.7,1316.3 1908.6,1315.5 1917.5,1314.8 1926.4,1314.1 1935.3,1313.3 1943.5,1312.4 1951.8,1311.4 1960.1,1310.4 1969.4,1309.3 1978.7,1308.2 1984.7,1311.1 1990.5,1314.1 1998.6,1313.3 2006.7,1312.6 2014.8,1311.9 2023.9,1311.1 2032.9,1310.4 2038.9,1313 2044.9,1315.5 2052.1,1315.8 2059.2,1316 2066.4,1316.3 2074.3,1315.8 2082.2,1315.3 2090.1,1314.8 2096.6,1315.8 2103,1316.8 2109.3,1317.7 2118.8,1315.8 2128.3,1313.8 2137.9,1311.9 2146.3,1311.9 2154.7,1311.9 2161.8,1313 2169,1314.1 2176.1,1315.2 2183.1,1316.3 2189.8,1317.7 2196.3,1319.2 2201.1,1322.1 2205.8,1325 2211.7,1326.8 2217.6,1328.6 2225.3,1328.9 2233,1329.3 2238.3,1331.4 2243.6,1333.6 2249.7,1335 2255.8,1336.4 2259.3,1339.6 2262.8,1342.7 2269.7,1343.4 2276.6,1344.1 2283,1345.2 2289.3,1346.2 2292.7,1348 2296,1349.7 2281,1357.9 2264.2,1364.7 2250.7,1368.1 2237.2,1371.4 2226.1,1374.7 2215,1378 2191.4,1387.6 2183.4,1393.9 2169.1,1398.5 2154.8,1402.9 2140.8,1407.2 2127,1411.4 2122.4,1415.4 2117.9,1419.2 2121.6,1420.5 2125.2,1421.7 2128.8,1422.9 2132.4,1424.1 2136.8,1424.7 2141.2,1425.4 2145.6,1426 2149.9,1426.7 2154.3,1427.3 2159.1,1427.5 2163.8,1427.7 2168.6,1428 2173.3,1428.2 2156.4,1434 2140.5,1439.1 2125.8,1443.5 2112.4,1447 2106.4,1447 2100.5,1447 2094.6,1447 2088.6,1447 2082.7,1447 2076.7,1447 2070.8,1447 2064.9,1447 2058.9,1447 2053,1447 2047,1447 2041.1,1447 2035.1,1447 2029.2,1447 2023.3,1447 2017.3,1447 2011.4,1447 2005.4,1447 1999.5,1447 1993.6,1447 1987.6,1447 1981.7,1447 1975.7,1447 1969.8,1447 1963.8,1447 1957.9,1447 1952,1447 1946,1447 1940.1,1447 1934.1,1447 1928.2,1447 1922.3,1447 1916.3,1447 1910.4,1447 1904.4,1447 1898.5,1447 1892.6,1447 1886.6,1447 1880.7,1447 1874.7,1447 1868.8,1447 1862.8,1447 1856.9,1447 1851,1447 1845,1447 1839.1,1447 1833.1,1447 1827.2,1447 1821.3,1447 1815.3,1447 1809.4,1447 1803.4,1447 1797.5,1447 1791.5,1447 1785.6,1447 1779.7,1447 1773.7,1447 1767.8,1447 1761.8,1447 1755.9,1447 1750,1447 1744,1447 1738.1,1447 1732.1,1447 1726.2,1447 1720.2,1447 1714.3,1447 1708.4,1447 1702.4,1447 1696.5,1447 1690.5,1447 1684.6,1447 1678.7,1447 1672.7,1447 1666.8,1447 1660.8,1447 1654.9,1447 1648.9,1447 1643,1447 1637.1,1447 1631.1,1447 1625.2,1447 1619.2,1447 1613.3,1447 1607.4,1447 1601.4,1447 1595.5,1447 1589.5,1447 1583.6,1447 1577.6,1447 1571.7,1447 1565.8,1447 1559.8,1447 1553.9,1447 1547.9,1447 1542,1447 1536.1,1447 1530.1,1447 1524.2,1447 1518.2,1447 1512.3,1447 1506.3,1447 1500.4,1447 1494.5,1447 1488.5,1447 1482.6,1447 1476.6,1447 1470.7,1447 1464.8,1447 1458.8,1447 1452.9,1447 1446.9,1447 1441,1447 1435,1447 1429.1,1447 1423.2,1447 1417.2,1447 1411.3,1447 1405.3,1447 1399.4,1447 1393.5,1447 1387.5,1447 1381.6,1447 1375.6,1447 1369.7,1447 1363.8,1447 1357.8,1447 1351.9,1447 1345.9,1447 1340,1447 1334,1447 1328.1,1447 1322.2,1447 1316.2,1447 1310.3,1447 1304.3,1447 1298.4,1447 1292.5,1447 1286.5,1447 1280.6,1447 1274.6,1447 1268.7,1447 1262.7,1447 1256.8,1447 1250.9,1447 1244.9,1447 1239,1447 1233,1447 1227.1,1447 1221.2,1447 1215.2,1447 1209.3,1447 1203.3,1447 1197.4,1447 1191.4,1447 1185.5,1447 1179.6,1447 1173.6,1447 1167.7,1447 1161.7,1447 1155.8,1447 1149.9,1447 1143.9,1447 1138,1447 1132,1447 1126.1,1447 1120.1,1447 1114.2,1447 1108.3,1447 1102.3,1447 1096.4,1447 1090.4,1447 1084.5,1447 1078.6,1447 1072.6,1447 1066.7,1447 1060.7,1447 1054.8,1447 1048.8,1447 1042.9,1447 1037,1447 1031,1447 1025.1,1447 1019.1,1447 1013.2,1447 1007.3,1447 1001.3,1447 995.4,1447 989.4,1447 983.5,1447 977.5,1447 971.6,1447 965.7,1447 959.7,1447 953.8,1447 947.8,1447 941.9,1447 936,1447 930,1447 924.1,1447 918.1,1447 912.2,1447 906.2,1447 900.3,1447 894.4,1447 888.4,1447 882.5,1447 876.5,1447 870.6,1447 864.7,1447 858.7,1447 852.8,1447 846.8,1447 840.9,1447 835,1447 829,1447 823.1,1447 817.1,1447 811.2,1447 805.2,1447 799.3,1447 793.4,1447 787.4,1447 781.5,1447 775.5,1447 769.6,1447 763.7,1447 757.7,1447 751.8,1447 745.8,1447 739.9,1447 733.9,1447 728,1447 722.1,1447 716.1,1447 710.2,1447 704.2,1447 698.3,1447 692.4,1447 686.4,1447 672.7,1443.4 657.7,1438.9 641.5,1433.7Z M1720,405.4 1717.2,392.9 1710.6,384.7 1717.3,378.9 1726.6,376.4 1735.9,373.9 1742.5,373.9 1749.1,373.9 1752.3,386.3 1746.9,387.6 1741.6,388.8 1740.6,392.9 1735.9,392.9 1746.6,403.7 1756.7,409.6 1756.7,417.9 1767.9,422.1 1762.9,430.5 1767.7,436.3 1770.3,443.9 1772.9,451.4 1775.3,456.5 1768.5,457.3 1761.7,458.1 1755.3,455.6 1748.9,453.1 1739.4,450.6 1737.3,443 1739.5,435.1 1741.7,427.1 1728.9,415.4 1720,405.4" fill="none" stroke="#000" stroke-width="1" stroke-linejoin="round"/>
<path d="M706.2,1447 682,1440.1 654.1,1430.8 623.2,1419.2 590.2,1405.8 555.9,1390.8 522.6,1374.7 491.9,1357.9 463.4,1340.6 436.2,1322.8 409.9,1304.5 384.2,1285.7 359.2,1266.6 335.1,1247.2 311.8,1227.4 289.7,1207.4 269,1187.1 249.9,1166.6 232.1,1146 215,1125.2 199,1104.3 184.6,1083.4 171.5,1062.3 159.6,1041.3 149,1020.2 139.8,999.1 132.1,978.1 125.7,957 120.1,935.9 114.8,914.9 109.9,893.8 106,872.7 102.9,851.7 100.5,830.6 98.7,809.5 97.4,788.5 96.9,767.4 97.4,746.3 98.7,725.3 100.5,704.2 102.9,683.1 106,662.1 109.9,641 114.8,619.9 120.1,598.9 125.7,577.8 132.1,556.7 139.8,535.7 149,514.6 159.6,493.5 171.5,472.5 184.6,451.4 199,430.5 215,409.6 232.1,388.8 249.9,368.2 269,347.7 289.7,327.4 311.8,307.4 335.1,287.6 359.2,268.2 384.2,249.1 409.9,230.3 436.2,212 463.4,194.2 491.9,176.9 522.6,160.1 555.9,144 590.2,129 623.2,115.6 654.1,104 682,94.7 706.2,87.8 M726,1447 702.5,1440.1 675.4,1430.8 645.4,1419.2 613.3,1405.8 580,1390.8 547.6,1374.7 517.8,1357.9 490.2,1340.6 463.8,1322.8 438.2,1304.5 413.2,1285.7 389,1266.6 365.5,1247.2 342.9,1227.4 321.4,1207.4 301.3,1187.1 282.8,1166.6 265.5,1146 248.9,1125.2 233.3,1104.3 219.3,1083.4 206.6,1062.3 195.1,1041.3 184.7,1020.2 175.8,999.1 168.3,978.1 162.1,957 156.6,935.9 151.5,914.9 146.8,893.8 143,872.7 139.9,851.7 137.6,830.6 135.9,809.5 134.6,788.5 134.1,767.4 134.6,746.3 135.9,725.3 137.6,704.2 139.9,683.1 143,662.1 146.8,641 151.5,619.9 156.6,598.9 162.1,577.8 168.3,556.7 175.8,535.7 184.7,514.6 195.1,493.5 206.6,472.5 219.3,451.4 233.3,430.5 248.9,409.6 265.5,388.8 282.8,368.2 301.3,347.7 321.4,327.4 342.9,307.4 365.5,287.6 389,268.2 413.2,249.1 438.2,230.3 463.8,212 490.2,194.2 517.8,176.9 547.6,160.1 580,144 613.3,129 645.4,115.6 675.4,104 702.5,94.7 726,87.8 M745.8,1447 723,1440.1 696.7,1430.8 667.6,1419.2 636.4,1405.8 604.1,1390.8 572.7,1374.7 543.8,1357.9 516.9,1340.6 491.3,1322.8 466.4,1304.5 442.2,1285.7 418.7,1266.6 395.9,1247.2 374,1227.4 353.1,1207.4 333.6,1187.1 315.6,1166.6 298.8,1146 282.7,1125.2 267.6,1104.3 254,1083.4 241.7,1062.3 230.5,1041.3 220.5,1020.2 211.8,999.1 204.5,978.1 198.5,957 193.2,935.9 188.2,914.9 183.6,893.8 179.9,872.7 177,851.7 174.8,830.6 173.1,809.5 171.8,788.5 171.3,767.4 171.8,746.3 173.1,725.3 174.8,704.2 177,683.1 179.9,662.1 183.6,641 188.2,619.9 193.2,598.9 198.5,577.8 204.5,556.7 211.8,535.7 220.5,514.6 230.5,493.5 241.7,472.5 254,451.4 267.6,430.5 282.7,409.6 298.8,388.8 315.6,368.2 333.6,347.7 353.1,327.4 374,307.4 395.9,287.6 418.7,268.2 442.2,249.1 466.4,230.3 491.3,212 516.9,194.2 543.8,176.9 572.7,160.1 604.1,144 636.4,129 667.6,115.6 696.7,104 723,94.7 745.8,87.8 M765.6,1447 743.5,1440.1 718,1430.8 689.8,1419.2 659.5,1405.8 628.2,1390.8 597.7,1374.7 569.7,1357.9 543.7,1340.6 518.8,1322.8 494.7,1304.5 471.2,1285.7 448.4,1266.6 426.3,1247.2 405,1227.4 384.8,1207.4 365.9,1187.1 348.5,1166.6 332.2,1146 316.5,1125.2 301.9,1104.3 288.7,1083.4 276.8,1062.3 265.9,1041.3 256.2,1020.2 247.8,999.1 240.7,978.1 234.9,957 229.8,935.9 224.9,914.9 220.5,893.8 216.9,872.7 214,851.7 211.9,830.6 210.2,809.5 209,788.5 208.6,767.4 209,746.3 210.2,725.3 211.9,704.2 214,683.1 216.9,662.1 220.5,641 224.9,619.9 229.8,598.9 234.9,577.8 240.7,556.7 247.8,535.7 256.2,514.6 265.9,493.5 276.8,472.5 288.7,451.4 301.9,430.5 316.5,409.6 332.2,388.8 348.5,368.2 365.9,347.7 384.8,327.4 405,307.4 426.3,287.6 448.4,268.2 471.2,249.1 494.7,230.3 518.8,212 543.7,194.2 569.7,176.9 597.7,160.1 628.2,144 659.5,129 689.8,115.6 718,104 743.5,94.7 765.6,87.8 M785.4,1447 764,1440.1 739.3,1430.8 711.9,1419.2 682.6,1405.8 652.3,1390.8 622.8,1374.7 595.6,1357.9 570.4,1340.6 546.3,1322.8 523,1304.5 500.2,1285.7 478.1,1266.6 456.7,1247.2 436.1,1227.4 416.5,1207.4 398.2,1187.1 381.3,1166.6 365.5,1146 350.4,1125.2 336.2,1104.3 323.4,1083.4 311.9,1062.3 301.3,1041.3 291.9,1020.2 283.8,999.1 276.9,978.1 271.3,957 266.3,935.9 261.6,914.9 257.3,893.8 253.8,872.7 251.1,851.7 249,830.6 247.4,809.5 246.2,788.5 245.8,767.4 246.2,746.3 247.4,725.3 249,704.2 251.1,683.1 253.8,662.1 257.3,641 261.6,619.9 266.3,598.9 271.3,577.8 276.9,556.7 283.8,535.7 291.9,514.6 301.3,493.5 311.9,472.5 323.4,451.4 336.2,430.5 350.4,409.6 365.5,388.8 381.3,368.2 398.2,347.7 416.5,327.4 436.1,307.4 456.7,287.6 478.1,268.2 500.2,249.1 523,230.3 546.3,212 570.4,194.2 595.6,176.9 622.8,160.1 652.3,144 682.6,129 711.9,115.6 739.3,104 764,94.7 785.4,87.8 M805.2,1447 784.5,1440.1 760.6,1430.8 734.1,1419.2 705.8,1405.8 676.4,1390.8 647.8,1374.7 621.5,1357.9 597.1,1340.6 573.8,1322.8 551.3,1304.5 529.2,1285.7 507.8,1266.6 487.1,1247.2 467.2,1227.4 448.2,1207.4 430.5,1187.1 414.2,1166.6 398.9,1146 384.2,1125.2 370.5,1104.3 358.1,1083.4 347,1062.3 336.8,1041.3 327.6,1020.2 319.8,999.1 313.1,978.1 307.7,957 302.9,935.9 298.3,914.9 294.1,893.8 290.8,872.7 288.1,851.7 286.1,830.6 284.5,809.5 283.4,788.5 283,767.4 283.4,746.3 284.5,725.3 286.1,704.2 288.1,683.1 290.8,662.1 294.1,641 298.3,619.9 302.9,598.9 307.7,577.8 313.1,556.7 319.8,535.7 327.6,514.6 336.8,493.5 347,472.5 358.1,451.4 370.5,430.5 384.2,409.6 398.9,388.8 414.2,368.2 430.5,347.7 448.2,327.4 467.2,307.4 487.1,287.6 507.8,268.2 529.2,249.1 551.3,230.3 573.8,212 597.1,194.2 621.5,176.9 647.8,160.1 676.4,144 705.8,129 734.1,115.6 760.6,104 784.5,94.7 805.2,87.8 M825,1447 805,1440.1 781.9,1430.8 756.3,1419.2 728.9,1405.8 700.5,1390.8 672.9,1374.7 647.5,1357.9 623.9,1340.6 601.3,1322.8 579.5,1304.5 558.2,1285.7 537.5,1266.6 517.5,1247.2 498.3,1227.4 479.9,1207.4 462.8,1187.1 447,1166.6 432.2,1146 418.1,1125.2 404.8,1104.3 392.8,1083.4 382,1062.3 372.2,1041.3 363.4,1020.2 355.7,999.1 349.3,978.1 344.1,957 339.4,935.9 335,914.9 331,893.8 327.7,872.7 325.2,851.7 323.2,830.6 321.7,809.5 320.6,788.5 320.2,767.4 320.6,746.3 321.7,725.3 323.2,704.2 325.2,683.1 327.7,662.1 331,641 335,619.9 339.4,598.9 344.1,577.8 349.3,556.7 355.7,535.7 363.4,514.6 372.2,493.5 382,472.5 392.8,451.4 404.8,430.5 418.1,409.6 432.2,388.8 447,368.2 462.8,347.7 479.9,327.4 498.3,307.4 517.5,287.6 537.5,268.2 558.2,249.1 579.5,230.3 601.3,212 623.9,194.2 647.5,176.9 672.9,160.1 700.5,144 728.9,129 756.3,115.6 781.9,104 805,94.7 825,87.8 M844.9,1447 825.5,1440.1 803.2,1430.8 778.5,1419.2 752,1405.8 724.6,1390.8 697.9,1374.7 673.4,1357.9 650.6,1340.6 628.9,1322.8 607.8,1304.5 587.3,1285.7 567.3,1266.6 547.9,1247.2 529.3,1227.4 511.6,1207.4 495.1,1187.1 479.8,1166.6 465.6,1146 451.9,1125.2 439.1,1104.3 427.6,1083.4 417.1,1062.3 407.6,1041.3 399.1,1020.2 391.7,999.1 385.5,978.1 380.4,957 376,935.9 371.7,914.9 367.8,893.8 364.7,872.7 362.2,851.7 360.3,830.6 358.9,809.5 357.8,788.5 357.4,767.4 357.8,746.3 358.9,725.3 360.3,704.2 362.2,683.1 364.7,662.1 367.8,641 371.7,619.9 376,598.9 380.4,577.8 385.5,556.7 391.7,535.7 399.1,514.6 407.6,493.5 417.1,472.5 427.6,451.4 439.1,430.5 451.9,409.6 465.6,388.8 479.8,368.2 495.1,347.7 511.6,327.4 529.3,307.4 547.9,287.6 567.3,268.2 587.3,249.1 607.8,230.3 628.9,212 650.6,194.2 673.4,176.9 697.9,160.1 724.6,144 752,129 778.5,115.6 803.2,104 825.5,94.7 844.9,87.8 M864.7,1447 846,1440.1 824.5,1430.8 800.6,1419.2 775.1,1405.8 748.7,1390.8 723,1374.7 699.3,1357.9 677.4,1340.6 656.4,1322.8 636.1,1304.5 616.3,1285.7 597,1266.6 578.3,1247.2 560.4,1227.4 543.3,1207.4 527.4,1187.1 512.7,1166.6 498.9,1146 485.7,1125.2 473.4,1104.3 462.3,1083.4 452.2,1062.3 443,1041.3 434.8,1020.2 427.7,999.1 421.8,978.1 416.8,957 412.5,935.9 408.4,914.9 404.7,893.8 401.6,872.7 399.2,851.7 397.4,830.6 396,809.5 395,788.5 394.6,767.4 395,746.3 396,725.3 397.4,704.2 399.2,683.1 401.6,662.1 404.7,641 408.4,619.9 412.5,598.9 416.8,577.8 421.8,556.7 427.7,535.7 434.8,514.6 443,493.5 452.2,472.5 462.3,451.4 473.4,430.5 485.7,409.6 498.9,388.8 512.7,368.2 527.4,347.7 543.3,327.4 560.4,307.4 578.3,287.6 597,268.2 616.3,249.1 636.1,230.3 656.4,212 677.4,194.2 699.3,176.9 723,160.1 748.7,144 775.1,129 800.6,115.6 824.5,104 846,94.7 864.7,87.8 M884.5,1447 866.5,1440.1 845.8,1430.8 822.8,1419.2 798.3,1405.8 772.8,1390.8 748,1374.7 725.3,1357.9 704.1,1340.6 683.9,1322.8 664.3,1304.5 645.3,1285.7 626.7,1266.6 608.8,1247.2 591.5,1227.4 575,1207.4 559.7,1187.1 545.5,1166.6 532.3,1146 519.6,1125.2 507.7,1104.3 497,1083.4 487.3,1062.3 478.4,1041.3 470.5,1020.2 463.7,999.1 458,978.1 453.2,957 449.1,935.9 445.1,914.9 441.5,893.8 438.6,872.7 436.3,851.7 434.5,830.6 433.2,809.5 432.2,788.5 431.8,767.4 432.2,746.3 433.2,725.3 434.5,704.2 436.3,683.1 438.6,662.1 441.5,641 445.1,619.9 449.1,598.9 453.2,577.8 458,556.7 463.7,535.7 470.5,514.6 478.4,493.5 487.3,472.5 497,451.4 507.7,430.5 519.6,409.6 532.3,388.8 545.5,368.2 559.7,347.7 575,327.4 591.5,307.4 608.8,287.6 626.7,268.2 645.3,249.1 664.3,230.3 683.9,212 704.1,194.2 725.3,176.9 748,160.1 772.8,144 798.3,129 822.8,115.6 845.8,104 866.5,94.7 884.5,87.8 M904.3,1447 887,1440.1 867.1,1430.8 845,1419.2 821.4,1405.8 796.9,1390.8 773.1,1374.7 751.2,1357.9 730.9,1340.6 711.4,1322.8 692.6,1304.5 674.3,1285.7 656.4,1266.6 639.2,1247.2 622.6,1227.4 606.7,1207.4 592,1187.1 578.4,1166.6 565.6,1146 553.4,1125.2 542,1104.3 531.7,1083.4 522.4,1062.3 513.9,1041.3 506.3,1020.2 499.7,999.1 494.2,978.1 489.6,957 485.6,935.9 481.8,914.9 478.4,893.8 475.5,872.7 473.3,851.7 471.6,830.6 470.4,809.5 469.4,788.5 469.1,767.4 469.4,746.3 470.4,725.3 471.6,704.2 473.3,683.1 475.5,662.1 478.4,641 481.8,619.9 485.6,598.9 489.6,577.8 494.2,556.7 499.7,535.7 506.3,514.6 513.9,493.5 522.4,472.5 531.7,451.4 542,430.5 553.4,409.6 565.6,388.8 578.4,368.2 592,347.7 606.7,327.4 622.6,307.4 639.2,287.6 656.4,268.2 674.3,249.1 692.6,230.3 711.4,212 730.9,194.2 751.2,176.9 773.1,160.1 796.9,144 821.4,129 845,115.6 867.1,104 887,94.7 904.3,87.8 M924.1,1447 907.5,1440.1 888.3,1430.8 867.2,1419.2 844.5,1405.8 821,1390.8 798.1,1374.7 777.1,1357.9 757.6,1340.6 738.9,1322.8 720.9,1304.5 703.3,1285.7 686.1,1266.6 669.6,1247.2 653.6,1227.4 638.4,1207.4 624.2,1187.1 611.2,1166.6 599,1146 587.2,1125.2 576.3,1104.3 566.4,1083.4 557.4,1062.3 549.3,1041.3 542,1020.2 535.7,999.1 530.4,978.1 526,957 522.2,935.9 518.5,914.9 515.2,893.8 512.5,872.7 510.4,851.7 508.8,830.6 507.5,809.5 506.6,788.5 506.3,767.4 506.6,746.3 507.5,725.3 508.8,704.2 510.4,683.1 512.5,662.1 515.2,641 518.5,619.9 522.2,598.9 526,577.8 530.4,556.7 535.7,535.7 542,514.6 549.3,493.5 557.4,472.5 566.4,451.4 576.3,430.5 587.2,409.6 599,388.8 611.2,368.2 624.2,347.7 638.4,327.4 653.6,307.4 669.6,287.6 686.1,268.2 703.3,249.1 720.9,230.3 738.9,212 757.6,194.2 777.1,176.9 798.1,160.1 821,144 844.5,129 867.2,115.6 888.3,104 907.5,94.7 924.1,87.8 M943.9,1447 928,1440.1 909.6,1430.8 889.4,1419.2 867.6,1405.8 845.1,1390.8 823.2,1374.7 803,1357.9 784.3,1340.6 766.5,1322.8 749.2,1304.5 732.3,1285.7 715.9,1266.6 700,1247.2 684.7,1227.4 670.2,1207.4 656.5,1187.1 644,1166.6 632.3,1146 621.1,1125.2 610.6,1104.3 601.1,1083.4 592.5,1062.3 584.7,1041.3 577.7,1020.2 571.7,999.1 566.6,978.1 562.4,957 558.7,935.9 555.2,914.9 552,893.8 549.4,872.7 547.4,851.7 545.9,830.6 544.7,809.5 543.8,788.5 543.5,767.4 543.8,746.3 544.7,725.3 545.9,704.2 547.4,683.1 549.4,662.1 552,641 555.2,619.9 558.7,598.9 562.4,577.8 566.6,556.7 571.7,535.7 577.7,514.6 584.7,493.5 592.5,472.5 601.1,451.4 610.6,430.5 621.1,409.6 632.3,388.8 644,368.2 656.5,347.7 670.2,327.4 684.7,307.4 700,287.6 715.9,268.2 732.3,249.1 749.2,230.3 766.5,212 784.3,194.2 803,176.9 823.2,160.1 845.1,144 867.6,129 889.4,115.6 909.6,104 928,94.7 943.9,87.8 M963.7,1447 948.5,1440.1 930.9,1430.8 911.5,1419.2 890.7,1405.8 869.2,1390.8 848.2,1374.7 829,1357.9 811.1,1340.6 794,1322.8 777.4,1304.5 761.3,1285.7 745.6,1266.6 730.4,1247.2 715.8,1227.4 701.9,1207.4 688.8,1187.1 676.9,1166.6 665.7,1146 654.9,1125.2 644.9,1104.3 635.8,1083.4 627.6,1062.3 620.1,1041.3 613.4,1020.2 607.7,999.1 602.8,978.1 598.8,957 595.3,935.9 591.9,914.9 588.9,893.8 586.4,872.7 584.5,851.7 583,830.6 581.8,809.5 581,788.5 580.7,767.4 581,746.3 581.8,725.3 583,704.2 584.5,683.1 586.4,662.1 588.9,641 591.9,619.9 595.3,598.9 598.8,577.8 602.8,556.7 607.7,535.7 613.4,514.6 620.1,493.5 627.6,472.5 635.8,451.4 644.9,430.5 654.9,409.6 665.7,388.8 676.9,368.2 688.8,347.7 701.9,327.4 715.8,307.4 730.4,287.6 745.6,268.2 761.3,249.1 777.4,230.3 794,212 811.1,194.2 829,176.9 848.2,160.1 869.2,144 890.7,129 911.5,115.6 930.9,104 948.5,94.7 963.7,87.8 M983.5,1447 969,1440.1 952.2,1430.8 933.7,1419.2 913.9,1405.8 893.3,1390.8 873.3,1374.7 854.9,1357.9 837.8,1340.6 821.5,1322.8 805.7,1304.5 790.3,1285.7 775.3,1266.6 760.8,1247.2 746.9,1227.4 733.6,1207.4 721.1,1187.1 709.7,1166.6 699,1146 688.8,1125.2 679.2,1104.3 670.5,1083.4 662.7,1062.3 655.5,1041.3 649.2,1020.2 643.6,999.1 639,978.1 635.2,957 631.8,935.9 628.6,914.9 625.7,893.8 623.4,872.7 621.5,851.7 620.1,830.6 619,809.5 618.2,788.5 617.9,767.4 618.2,746.3 619,725.3 620.1,704.2 621.5,683.1 623.4,662.1 625.7,641 628.6,619.9 631.8,598.9 635.2,577.8 639,556.7 643.6,535.7 649.2,514.6 655.5,493.5 662.7,472.5 670.5,451.4 679.2,430.5 688.8,409.6 699,388.8 709.7,368.2 721.1,347.7 733.6,327.4 746.9,307.4 760.8,287.6 775.3,268.2 790.3,249.1 805.7,230.3 821.5,212 837.8,194.2 854.9,176.9 873.3,160.1 893.3,144 913.9,129 933.7,115.6 952.2,104 969,94.7 983.5,87.8 M1003.3,1447 989.5,1440.1 973.5,1430.8 955.9,1419.2 937,1405.8 917.4,1390.8 898.4,1374.7 880.8,1357.9 864.6,1340.6 849,1322.8 834,1304.5 819.3,1285.7 805,1266.6 791.2,1247.2 777.9,1227.4 765.3,1207.4 753.4,1187.1 742.6,1166.6 732.4,1146 722.6,1125.2 713.5,1104.3 705.2,1083.4 697.8,1062.3 691,1041.3 684.9,1020.2 679.6,999.1 675.2,978.1 671.6,957 668.4,935.9 665.3,914.9 662.6,893.8 660.3,872.7 658.5,851.7 657.2,830.6 656.2,809.5 655.4,788.5 655.1,767.4 655.4,746.3 656.2,725.3 657.2,704.2 658.5,683.1 660.3,662.1 662.6,641 665.3,619.9 668.4,598.9 671.6,577.8 675.2,556.7 679.6,535.7 684.9,514.6 691,493.5 697.8,472.5 705.2,451.4 713.5,430.5 722.6,409.6 732.4,388.8 742.6,368.2 753.4,347.7 765.3,327.4 777.9,307.4 791.2,287.6 805,268.2 819.3,249.1 834,230.3 849,212 864.6,194.2 880.8,176.9 898.4,160.1 917.4,144 937,129 955.9,115.6 973.5,104 989.5,94.7 1003.3,87.8 M1023.1,1447 1010,1440.1 994.8,1430.8 978.1,1419.2 960.1,1405.8 941.5,1390.8 923.4,1374.7 906.8,1357.9 891.3,1340.6 876.5,1322.8 862.2,1304.5 848.3,1285.7 834.7,1266.6 821.6,1247.2 809,1227.4 797,1207.4 785.7,1187.1 775.4,1166.6 765.7,1146 756.4,1125.2 747.8,1104.3 739.9,1083.4 732.9,1062.3 726.4,1041.3 720.6,1020.2 715.6,999.1 711.4,978.1 708,957 704.9,935.9 702,914.9 699.4,893.8 697.3,872.7 695.6,851.7 694.3,830.6 693.3,809.5 692.6,788.5 692.3,767.4 692.6,746.3 693.3,725.3 694.3,704.2 695.6,683.1 697.3,662.1 699.4,641 702,619.9 704.9,598.9 708,577.8 711.4,556.7 715.6,535.7 720.6,514.6 726.4,493.5 732.9,472.5 739.9,451.4 747.8,430.5 756.4,409.6 765.7,388.8 775.4,368.2 785.7,347.7 797,327.4 809,307.4 821.6,287.6 834.7,268.2 848.3,249.1 862.2,230.3 876.5,212 891.3,194.2 906.8,176.9 923.4,160.1 941.5,144 960.1,129 978.1,115.6 994.8,104 1010,94.7 1023.1,87.8 M1042.9,1447 1030.5,1440.1 1016.1,1430.8 1000.2,1419.2 983.2,1405.8 965.6,1390.8 948.5,1374.7 932.7,1357.9 918,1340.6 904.1,1322.8 890.5,1304.5 877.3,1285.7 864.5,1266.6 852,1247.2 840.1,1227.4 828.7,1207.4 818,1187.1 808.3,1166.6 799.1,1146 790.3,1125.2 782.1,1104.3 774.6,1083.4 767.9,1062.3 761.8,1041.3 756.3,1020.2 751.6,999.1 747.6,978.1 744.4,957 741.5,935.9 738.7,914.9 736.2,893.8 734.2,872.7 732.6,851.7 731.4,830.6 730.5,809.5 729.8,788.5 729.6,767.4 729.8,746.3 730.5,725.3 731.4,704.2 732.6,683.1 734.2,662.1 736.2,641 738.7,619.9 741.5,598.9 744.4,577.8 747.6,556.7 751.6,535.7 756.3,514.6 761.8,493.5 767.9,472.5 774.6,451.4 782.1,430.5 790.3,409.6 799.1,388.8 808.3,368.2 818,347.7 828.7,327.4 840.1,307.4 852,287.6 864.5,268.2 877.3,249.1 890.5,230.3 904.1,212 918,194.2 932.7,176.9 948.5,160.1 965.6,144 983.2,129 1000.2,115.6 1016.1,104 1030.5,94.7 1042.9,87.8 M1062.7,1447 1051,1440.1 1037.4,1430.8 1022.4,1419.2 1006.3,1405.8 989.7,1390.8 973.5,1374.7 958.6,1357.9 944.8,1340.6 931.6,1322.8 918.8,1304.5 906.3,1285.7 894.2,1266.6 882.4,1247.2 871.1,1227.4 860.4,1207.4 850.3,1187.1 841.1,1166.6 832.4,1146 824.1,1125.2 816.4,1104.3 809.4,1083.4 803,1062.3 797.2,1041.3 792.1,1020.2 787.6,999.1 783.8,978.1 780.7,957 778,935.9 775.4,914.9 773.1,893.8 771.2,872.7 769.7,851.7 768.5,830.6 767.6,809.5 767,788.5 766.8,767.4 767,746.3 767.6,725.3 768.5,704.2 769.7,683.1 771.2,662.1 773.1,641 775.4,619.9 778,598.9 780.7,577.8 783.8,556.7 787.6,535.7 792.1,514.6 797.2,493.5 803,472.5 809.4,451.4 816.4,430.5 824.1,409.6 832.4,388.8 841.1,368.2 850.3,347.7 860.4,327.4 871.1,307.4 882.4,287.6 894.2,268.2 906.3,249.1 918.8,230.3 931.6,212 944.8,194.2 958.6,176.9 973.5,160.1 989.7,144 1006.3,129 1022.4,115.6 1037.4,104 1051,94.7 1062.7,87.8 M1082.5,1447 1071.5,1440.1 1058.7,1430.8 1044.6,1419.2 1029.5,1405.8 1013.8,1390.8 998.6,1374.7 984.5,1357.9 971.5,1340.6 959.1,1322.8 947.1,1304.5 935.3,1285.7 923.9,1266.6 912.8,1247.2 902.2,1227.4 892.1,1207.4 882.6,1187.1 873.9,1166.6 865.8,1146 858,1125.2 850.7,1104.3 844.1,1083.4 838.1,1062.3 832.7,1041.3 827.8,1020.2 823.6,999.1 820.1,978.1 817.1,957 814.6,935.9 812.1,914.9 809.9,893.8 808.1,872.7 806.7,851.7 805.6,830.6 804.8,809.5 804.2,788.5 804,767.4 804.2,746.3 804.8,725.3 805.6,704.2 806.7,683.1 808.1,662.1 809.9,641 812.1,619.9 814.6,598.9 817.1,577.8 820.1,556.7 823.6,535.7 827.8,514.6 832.7,493.5 838.1,472.5 844.1,451.4 850.7,430.5 858,409.6 865.8,388.8 873.9,368.2 882.6,347.7 892.1,327.4 902.2,307.4 912.8,287.6 923.9,268.2 935.3,249.1 947.1,230.3 959.1,212 971.5,194.2 984.5,176.9 998.6,160.1 1013.8,144 1029.5,129 1044.6,115.6 1058.7,104 1071.5,94.7 1082.5,87.8 M1102.3,1447 1092,1440.1 1080,1430.8 1066.8,1419.2 1052.6,1405.8 1037.9,1390.8 1023.6,1374.7 1010.5,1357.9 998.3,1340.6 986.6,1322.8 975.3,1304.5 964.3,1285.7 953.6,1266.6 943.3,1247.2 933.3,1227.4 923.8,1207.4 914.9,1187.1 906.8,1166.6 899.1,1146 891.8,1125.2 885,1104.3 878.8,1083.4 873.2,1062.3 868.1,1041.3 863.5,1020.2 859.6,999.1 856.3,978.1 853.5,957 851.1,935.9 848.8,914.9 846.8,893.8 845.1,872.7 843.8,851.7 842.7,830.6 842,809.5 841.4,788.5 841.2,767.4 841.4,746.3 842,725.3 842.7,704.2 843.8,683.1 845.1,662.1 846.8,641 848.8,619.9 851.1,598.9 853.5,577.8 856.3,556.7 859.6,535.7 863.5,514.6 868.1,493.5 873.2,472.5 878.8,451.4 885,430.5 891.8,409.6 899.1,388.8 906.8,368.2 914.9,347.7 923.8,327.4 933.3,307.4 943.3,287.6 953.6,268.2 964.3,249.1 975.3,230.3 986.6,212 998.3,194.2 1010.5,176.9 1023.6,160.1 1037.9,144 1052.6,129 1066.8,115.6 1080,104 1092,94.7 1102.3,87.8 M1122.1,1447 1112.5,1440.1 1101.3,1430.8 1088.9,1419.2 1075.7,1405.8 1062,1390.8 1048.7,1374.7 1036.4,1357.9 1025,1340.6 1014.1,1322.8 1003.6,1304.5 993.3,1285.7 983.3,1266.6 973.7,1247.2 964.4,1227.4 955.5,1207.4 947.2,1187.1 939.6,1166.6 932.5,1146 925.6,1125.2 919.3,1104.3 913.5,1083.4 908.3,1062.3 903.5,1041.3 899.2,1020.2 895.6,999.1 892.5,978.1 889.9,957 887.7,935.9 885.5,914.9 883.6,893.8 882,872.7 880.8,851.7 879.9,830.6 879.1,809.5 878.6,788.5 878.4,767.4 878.6,746.3 879.1,725.3 879.9,704.2 880.8,683.1 882,662.1 883.6,641 885.5,619.9 887.7,598.9 889.9,577.8 892.5,556.7 895.6,535.7 899.2,514.6 903.5,493.5 908.3,472.5 913.5,451.4 919.3,430.5 925.6,409.6 932.5,388.8 939.6,368.2 947.2,347.7 955.5,327.4 964.4,307.4 973.7,287.6 983.3,268.2 993.3,249.1 1003.6,230.3 1014.1,212 1025,194.2 1036.4,176.9 1048.7,160.1 1062,144 1075.7,129 1088.9,115.6 1101.3,104 1112.5,94.7 1122.1,87.8 M1141.9,1447 1132.9,1440.1 1122.6,1430.8 1111.1,1419.2 1098.8,1405.8 1086.1,1390.8 1073.7,1374.7 1062.3,1357.9 1051.8,1340.6 1041.7,1322.8 1031.9,1304.5 1022.3,1285.7 1013.1,1266.6 1004.1,1247.2 995.4,1227.4 987.2,1207.4 979.5,1187.1 972.5,1166.6 965.8,1146 959.5,1125.2 953.5,1104.3 948.2,1083.4 943.3,1062.3 938.9,1041.3 935,1020.2 931.6,999.1 928.7,978.1 926.3,957 924.2,935.9 922.2,914.9 920.5,893.8 919,872.7 917.8,851.7 917,830.6 916.3,809.5 915.8,788.5 915.6,767.4 915.8,746.3 916.3,725.3 917,704.2 917.8,683.1 919,662.1 920.5,641 922.2,619.9 924.2,598.9 926.3,577.8 928.7,556.7 931.6,535.7 935,514.6 938.9,493.5 943.3,472.5 948.2,451.4 953.5,430.5 959.5,409.6 965.8,388.8 972.5,368.2 979.5,347.7 987.2,327.4 995.4,307.4 1004.1,287.6 1013.1,268.2 1022.3,249.1 1031.9,230.3 1041.7,212 1051.8,194.2 1062.3,176.9 1073.7,160.1 1086.1,144 1098.8,129 1111.1,115.6 1122.6,104 1132.9,94.7 1141.9,87.8 M1161.7,1447 1153.4,1440.1 1143.9,1430.8 1133.3,1419.2 1121.9,1405.8 1110.2,1390.8 1098.8,1374.7 1088.3,1357.9 1078.5,1340.6 1069.2,1322.8 1060.1,1304.5 1051.3,1285.7 1042.8,1266.6 1034.5,1247.2 1026.5,1227.4 1018.9,1207.4 1011.8,1187.1 1005.3,1166.6 999.2,1146 993.3,1125.2 987.8,1104.3 982.9,1083.4 978.4,1062.3 974.3,1041.3 970.7,1020.2 967.5,999.1 964.9,978.1 962.7,957 960.8,935.9 959,914.9 957.3,893.8 955.9,872.7 954.9,851.7 954.1,830.6 953.5,809.5 953,788.5 952.8,767.4 953,746.3 953.5,725.3 954.1,704.2 954.9,683.1 955.9,662.1 957.3,641 959,619.9 960.8,598.9 962.7,577.8 964.9,556.7 967.5,535.7 970.7,514.6 974.3,493.5 978.4,472.5 982.9,451.4 987.8,430.5 993.3,409.6 999.2,388.8 1005.3,368.2 1011.8,347.7 1018.9,327.4 1026.5,307.4 1034.5,287.6 1042.8,268.2 1051.3,249.1 1060.1,230.3 1069.2,212 1078.5,194.2 1088.3,176.9 1098.8,160.1 1110.2,144 1121.9,129 1133.3,115.6 1143.9,104 1153.4,94.7 1161.7,87.8 M1181.5,1447 1173.9,1440.1 1165.2,1430.8 1155.5,1419.2 1145.1,1405.8 1134.3,1390.8 1123.8,1374.7 1114.2,1357.9 1105.2,1340.6 1096.7,1322.8 1088.4,1304.5 1080.3,1285.7 1072.5,1266.6 1064.9,1247.2 1057.6,1227.4 1050.6,1207.4 1044.1,1187.1 1038.1,1166.6 1032.5,1146 1027.2,1125.2 1022.1,1104.3 1017.6,1083.4 1013.5,1062.3 1009.8,1041.3 1006.4,1020.2 1003.5,999.1 1001.1,978.1 999.1,957 997.3,935.9 995.7,914.9 994.1,893.8 992.9,872.7 991.9,851.7 991.2,830.6 990.6,809.5 990.2,788.5 990,767.4 990.2,746.3 990.6,725.3 991.2,704.2 991.9,683.1 992.9,662.1 994.1,641 995.7,619.9 997.3,598.9 999.1,577.8 1001.1,556.7 1003.5,535.7 1006.4,514.6 1009.8,493.5 1013.5,472.5 1017.6,451.4 1022.1,430.5 1027.2,409.6 1032.5,388.8 1038.1,368.2 1044.1,347.7 1050.6,327.4 1057.6,307.4 1064.9,287.6 1072.5,268.2 1080.3,249.1 1088.4,230.3 1096.7,212 1105.2,194.2 1114.2,176.9 1123.8,160.1 1134.3,144 1145.1,129 1155.5,115.6 1165.2,104 1173.9,94.7 1181.5,87.8 M1201.3,1447 1194.4,1440.1 1186.5,1430.8 1177.6,1419.2 1168.2,1405.8 1158.4,1390.8 1148.9,1374.7 1140.1,1357.9 1132,1340.6 1124.2,1322.8 1116.7,1304.5 1109.3,1285.7 1102.2,1266.6 1095.3,1247.2 1088.7,1227.4 1082.3,1207.4 1076.4,1187.1 1071,1166.6 1065.9,1146 1061,1125.2 1056.4,1104.3 1052.3,1083.4 1048.6,1062.3 1045.2,1041.3 1042.1,1020.2 1039.5,999.1 1037.3,978.1 1035.5,957 1033.9,935.9 1032.4,914.9 1031,893.8 1029.9,872.7 1029,851.7 1028.3,830.6 1027.8,809.5 1027.4,788.5 1027.3,767.4 1027.4,746.3 1027.8,725.3 1028.3,704.2 1029,683.1 1029.9,662.1 1031,641 1032.4,619.9 1033.9,598.9 1035.5,577.8 1037.3,556.7 1039.5,535.7 1042.1,514.6 1045.2,493.5 1048.6,472.5 1052.3,451.4 1056.4,430.5 1061,409.6 1065.9,388.8 1071,368.2 1076.4,347.7 1082.3,327.4 1088.7,307.4 1095.3,287.6 1102.2,268.2 1109.3,249.1 1116.7,230.3 1124.2,212 1132,194.2 1140.1,176.9 1148.9,160.1 1158.4,144 1168.2,129 1177.6,115.6 1186.5,104 1194.4,94.7 1201.3,87.8 M1221.2,1447 1214.9,1440.1 1207.8,1430.8 1199.8,1419.2 1191.3,1405.8 1182.5,1390.8 1173.9,1374.7 1166,1357.9 1158.7,1340.6 1151.7,1322.8 1145,1304.5 1138.4,1285.7 1131.9,1266.6 1125.7,1247.2 1119.7,1227.4 1114,1207.4 1108.7,1187.1 1103.8,1166.6 1099.2,1146 1094.8,1125.2 1090.7,1104.3 1087,1083.4 1083.7,1062.3 1080.6,1041.3 1077.9,1020.2 1075.5,999.1 1073.5,978.1 1071.9,957 1070.4,935.9 1069.1,914.9 1067.8,893.8 1066.8,872.7 1066,851.7 1065.4,830.6 1064.9,809.5 1064.6,788.5 1064.5,767.4 1064.6,746.3 1064.9,725.3 1065.4,704.2 1066,683.1 1066.8,662.1 1067.8,641 1069.1,619.9 1070.4,598.9 1071.9,577.8 1073.5,556.7 1075.5,535.7 1077.9,514.6 1080.6,493.5 1083.7,472.5 1087,451.4 1090.7,430.5 1094.8,409.6 1099.2,388.8 1103.8,368.2 1108.7,347.7 1114,327.4 1119.7,307.4 1125.7,287.6 1131.9,268.2 1138.4,249.1 1145,230.3 1151.7,212 1158.7,194.2 1166,176.9 1173.9,160.1 1182.5,144 1191.3,129 1199.8,115.6 1207.8,104 1214.9,94.7 1221.2,87.8 M1241,1447 1235.4,1440.1 1229,1430.8 1222,1419.2 1214.4,1405.8 1206.6,1390.8 1199,1374.7 1192,1357.9 1185.5,1340.6 1179.2,1322.8 1173.2,1304.5 1167.4,1285.7 1161.6,1266.6 1156.1,1247.2 1150.8,1227.4 1145.7,1207.4 1141,1187.1 1136.7,1166.6 1132.6,1146 1128.7,1125.2 1125,1104.3 1121.7,1083.4 1118.7,1062.3 1116,1041.3 1113.6,1020.2 1111.5,999.1 1109.7,978.1 1108.3,957 1107,935.9 1105.8,914.9 1104.7,893.8 1103.8,872.7 1103.1,851.7 1102.5,830.6 1102.1,809.5 1101.8,788.5 1101.7,767.4 1101.8,746.3 1102.1,725.3 1102.5,704.2 1103.1,683.1 1103.8,662.1 1104.7,641 1105.8,619.9 1107,598.9 1108.3,577.8 1109.7,556.7 1111.5,535.7 1113.6,514.6 1116,493.5 1118.7,472.5 1121.7,451.4 1125,430.5 1128.7,409.6 1132.6,388.8 1136.7,368.2 1141,347.7 1145.7,327.4 1150.8,307.4 1156.1,287.6 1161.6,268.2 1167.4,249.1 1173.2,230.3 1179.2,212 1185.5,194.2 1192,176.9 1199,160.1 1206.6,144 1214.4,129 1222,115.6 1229,104 1235.4,94.7 1241,87.8 M1260.8,1447 1255.9,1440.1 1250.3,1430.8 1244.2,1419.2 1237.6,1405.8 1230.7,1390.8 1224,1374.7 1217.9,1357.9 1212.2,1340.6 1206.8,1322.8 1201.5,1304.5 1196.4,1285.7 1191.4,1266.6 1186.5,1247.2 1181.9,1227.4 1177.5,1207.4 1173.3,1187.1 1169.5,1166.6 1165.9,1146 1162.5,1125.2 1159.3,1104.3 1156.4,1083.4 1153.8,1062.3 1151.4,1041.3 1149.3,1020.2 1147.5,999.1 1145.9,978.1 1144.7,957 1143.5,935.9 1142.5,914.9 1141.5,893.8 1140.7,872.7 1140.1,851.7 1139.6,830.6 1139.3,809.5 1139,788.5 1138.9,767.4 1139,746.3 1139.3,725.3 1139.6,704.2 1140.1,683.1 1140.7,662.1 1141.5,641 1142.5,619.9 1143.5,598.9 1144.7,577.8 1145.9,556.7 1147.5,535.7 1149.3,514.6 1151.4,493.5 1153.8,472.5 1156.4,451.4 1159.3,430.5 1162.5,409.6 1165.9,388.8 1169.5,368.2 1173.3,347.7 1177.5,327.4 1181.9,307.4 1186.5,287.6 1191.4,268.2 1196.4,249.1 1201.5,230.3 1206.8,212 1212.2,194.2 1217.9,176.9 1224,160.1 1230.7,144 1237.6,129 1244.2,115.6 1250.3,104 1255.9,94.7 1260.8,87.8 M1280.6,1447 1276.4,1440.1 1271.6,1430.8 1266.3,1419.2 1260.7,1405.8 1254.8,1390.8 1249.1,1374.7 1243.8,1357.9 1238.9,1340.6 1234.3,1322.8 1229.8,1304.5 1225.4,1285.7 1221.1,1266.6 1216.9,1247.2 1213,1227.4 1209.2,1207.4 1205.6,1187.1 1202.4,1166.6 1199.3,1146 1196.4,1125.2 1193.6,1104.3 1191.1,1083.4 1188.9,1062.3 1186.9,1041.3 1185,1020.2 1183.5,999.1 1182.1,978.1 1181.1,957 1180.1,935.9 1179.2,914.9 1178.3,893.8 1177.7,872.7 1177.1,851.7 1176.7,830.6 1176.4,809.5 1176.2,788.5 1176.1,767.4 1176.2,746.3 1176.4,725.3 1176.7,704.2 1177.1,683.1 1177.7,662.1 1178.3,641 1179.2,619.9 1180.1,598.9 1181.1,577.8 1182.1,556.7 1183.5,535.7 1185,514.6 1186.9,493.5 1188.9,472.5 1191.1,451.4 1193.6,430.5 1196.4,409.6 1199.3,388.8 1202.4,368.2 1205.6,347.7 1209.2,327.4 1213,307.4 1216.9,287.6 1221.1,268.2 1225.4,249.1 1229.8,230.3 1234.3,212 1238.9,194.2 1243.8,176.9 1249.1,160.1 1254.8,144 1260.7,129 1266.3,115.6 1271.6,104 1276.4,94.7 1280.6,87.8 M1300.4,1447 1296.9,1440.1 1292.9,1430.8 1288.5,1419.2 1283.8,1405.8 1278.9,1390.8 1274.1,1374.7 1269.8,1357.9 1265.7,1340.6 1261.8,1322.8 1258,1304.5 1254.4,1285.7 1250.8,1266.6 1247.4,1247.2 1244,1227.4 1240.9,1207.4 1237.9,1187.1 1235.2,1166.6 1232.6,1146 1230.2,1125.2 1227.9,1104.3 1225.9,1083.4 1224,1062.3 1222.3,1041.3 1220.8,1020.2 1219.5,999.1 1218.4,978.1 1217.4,957 1216.6,935.9 1215.9,914.9 1215.2,893.8 1214.6,872.7 1214.2,851.7 1213.8,830.6 1213.6,809.5 1213.4,788.5 1213.3,767.4 1213.4,746.3 1213.6,725.3 1213.8,704.2 1214.2,683.1 1214.6,662.1 1215.2,641 1215.9,619.9 1216.6,598.9 1217.4,577.8 1218.4,556.7 1219.5,535.7 1220.8,514.6 1222.3,493.5 1224,472.5 1225.9,451.4 1227.9,430.5 1230.2,409.6 1232.6,388.8 1235.2,368.2 1237.9,347.7 1240.9,327.4 1244,307.4 1247.4,287.6 1250.8,268.2 1254.4,249.1 1258,230.3 1261.8,212 1265.7,194.2 1269.8,176.9 1274.1,160.1 1278.9,144 1283.8,129 1288.5,115.6 1292.9,104 1296.9,94.7 1300.4,87.8 M1320.2,1447 1317.4,1440.1 1314.2,1430.8 1310.7,1419.2 1306.9,1405.8 1303,1390.8 1299.2,1374.7 1295.7,1357.9 1292.4,1340.6 1289.3,1322.8 1286.3,1304.5 1283.4,1285.7 1280.5,1266.6 1277.8,1247.2 1275.1,1227.4 1272.6,1207.4 1270.2,1187.1 1268,1166.6 1266,1146 1264,1125.2 1262.2,1104.3 1260.6,1083.4 1259.1,1062.3 1257.7,1041.3 1256.5,1020.2 1255.4,999.1 1254.6,978.1 1253.8,957 1253.2,935.9 1252.6,914.9 1252,893.8 1251.6,872.7 1251.2,851.7 1251,830.6 1250.8,809.5 1250.6,788.5 1250.5,767.4 1250.6,746.3 1250.8,725.3 1251,704.2 1251.2,683.1 1251.6,662.1 1252,641 1252.6,619.9 1253.2,598.9 1253.8,577.8 1254.6,556.7 1255.4,535.7 1256.5,514.6 1257.7,493.5 1259.1,472.5 1260.6,451.4 1262.2,430.5 1264,409.6 1266,388.8 1268,368.2 1270.2,347.7 1272.6,327.4 1275.1,307.4 1277.8,287.6 1280.5,268.2 1283.4,249.1 1286.3,230.3 1289.3,212 1292.4,194.2 1295.7,176.9 1299.2,160.1 1303,144 1306.9,129 1310.7,115.6 1314.2,104 1317.4,94.7 1320.2,87.8 M1340,1447 1337.9,1440.1 1335.5,1430.8 1332.9,1419.2 1330,1405.8 1327.1,1390.8 1324.2,1374.7 1321.6,1357.9 1319.2,1340.6 1316.8,1322.8 1314.6,1304.5 1312.4,1285.7 1310.2,1266.6 1308.2,1247.2 1306.2,1227.4 1304.3,1207.4 1302.5,1187.1 1300.9,1166.6 1299.3,1146 1297.9,1125.2 1296.5,1104.3 1295.3,1083.4 1294.2,1062.3 1293.1,1041.3 1292.2,1020.2 1291.4,999.1 1290.8,978.1 1290.2,957 1289.7,935.9 1289.3,914.9 1288.9,893.8 1288.5,872.7 1288.3,851.7 1288.1,830.6 1287.9,809.5 1287.8,788.5 1287.8,767.4 1287.8,746.3 1287.9,725.3 1288.1,704.2 1288.3,683.1 1288.5,662.1 1288.9,641 1289.3,619.9 1289.7,598.9 1290.2,577.8 1290.8,556.7 1291.4,535.7 1292.2,514.6 1293.1,493.5 1294.2,472.5 1295.3,451.4 1296.5,430.5 1297.9,409.6 1299.3,388.8 1300.9,368.2 1302.5,347.7 1304.3,327.4 1306.2,307.4 1308.2,287.6 1310.2,268.2 1312.4,249.1 1314.6,230.3 1316.8,212 1319.2,194.2 1321.6,176.9 1324.2,160.1 1327.1,144 1330,129 1332.9,115.6 1335.5,104 1337.9,94.7 1340,87.8 M1359.8,1447 1358.4,1440.1 1356.8,1430.8 1355,1419.2 1353.2,1405.8 1351.2,1390.8 1349.3,1374.7 1347.5,1357.9 1345.9,1340.6 1344.4,1322.8 1342.9,1304.5 1341.4,1285.7 1340,1266.6 1338.6,1247.2 1337.3,1227.4 1336,1207.4 1334.8,1187.1 1333.7,1166.6 1332.7,1146 1331.7,1125.2 1330.8,1104.3 1330,1083.4 1329.2,1062.3 1328.6,1041.3 1327.9,1020.2 1327.4,999.1 1327,978.1 1326.6,957 1326.3,935.9 1326,914.9 1325.7,893.8 1325.5,872.7 1325.3,851.7 1325.2,830.6 1325.1,809.5 1325,788.5 1325,767.4 1325,746.3 1325.1,725.3 1325.2,704.2 1325.3,683.1 1325.5,662.1 1325.7,641 1326,619.9 1326.3,598.9 1326.6,577.8 1327,556.7 1327.4,535.7 1327.9,514.6 1328.6,493.5 1329.2,472.5 1330,451.4 1330.8,430.5 1331.7,409.6 1332.7,388.8 1333.7,368.2 1334.8,347.7 1336,327.4 1337.3,307.4 1338.6,287.6 1340,268.2 1341.4,249.1 1342.9,230.3 1344.4,212 1345.9,194.2 1347.5,176.9 1349.3,160.1 1351.2,144 1353.2,129 1355,115.6 1356.8,104 1358.4,94.7 1359.8,87.8 M1379.6,1447 1378.9,1440.1 1378.1,1430.8 1377.2,1419.2 1376.3,1405.8 1375.3,1390.8 1374.3,1374.7 1373.5,1357.9 1372.7,1340.6 1371.9,1322.8 1371.1,1304.5 1370.4,1285.7 1369.7,1266.6 1369,1247.2 1368.3,1227.4 1367.7,1207.4 1367.1,1187.1 1366.6,1166.6 1366,1146 1365.6,1125.2 1365.1,1104.3 1364.7,1083.4 1364.3,1062.3 1364,1041.3 1363.7,1020.2 1363.4,999.1 1363.2,978.1 1363,957 1362.8,935.9 1362.7,914.9 1362.6,893.8 1362.4,872.7 1362.4,851.7 1362.3,830.6 1362.2,809.5 1362.2,788.5 1362.2,767.4 1362.2,746.3 1362.2,725.3 1362.3,704.2 1362.4,683.1 1362.4,662.1 1362.6,641 1362.7,619.9 1362.8,598.9 1363,577.8 1363.2,556.7 1363.4,535.7 1363.7,514.6 1364,493.5 1364.3,472.5 1364.7,451.4 1365.1,430.5 1365.6,409.6 1366,388.8 1366.6,368.2 1367.1,347.7 1367.7,327.4 1368.3,307.4 1369,287.6 1369.7,268.2 1370.4,249.1 1371.1,230.3 1371.9,212 1372.7,194.2 1373.5,176.9 1374.3,160.1 1375.3,144 1376.3,129 1377.2,115.6 1378.1,104 1378.9,94.7 1379.6,87.8 M1399.4,1447 1399.4,1440.1 1399.4,1430.8 1399.4,1419.2 1399.4,1405.8 1399.4,1390.8 1399.4,1374.7 1399.4,1357.9 1399.4,1340.6 1399.4,1322.8 1399.4,1304.5 1399.4,1285.7 1399.4,1266.6 1399.4,1247.2 1399.4,1227.4 1399.4,1207.4 1399.4,1187.1 1399.4,1166.6 1399.4,1146 1399.4,1125.2 1399.4,1104.3 1399.4,1083.4 1399.4,1062.3 1399.4,1041.3 1399.4,1020.2 1399.4,999.1 1399.4,978.1 1399.4,957 1399.4,935.9 1399.4,914.9 1399.4,893.8 1399.4,872.7 1399.4,851.7 1399.4,830.6 1399.4,809.5 1399.4,788.5 1399.4,767.4 1399.4,746.3 1399.4,725.3 1399.4,704.2 1399.4,683.1 1399.4,662.1 1399.4,641 1399.4,619.9 1399.4,598.9 1399.4,577.8 1399.4,556.7 1399.4,535.7 1399.4,514.6 1399.4,493.5 1399.4,472.5 1399.4,451.4 1399.4,430.5 1399.4,409.6 1399.4,388.8 1399.4,368.2 1399.4,347.7 1399.4,327.4 1399.4,307.4 1399.4,287.6 1399.4,268.2 1399.4,249.1 1399.4,230.3 1399.4,212 1399.4,194.2 1399.4,176.9 1399.4,160.1 1399.4,144 1399.4,129 1399.4,115.6 1399.4,104 1399.4,94.7 1399.4,87.8 M1419.2,1447 1419.9,1440.1 1420.7,1430.8 1421.6,1419.2 1422.5,1405.8 1423.5,1390.8 1424.5,1374.7 1425.3,1357.9 1426.1,1340.6 1426.9,1322.8 1427.7,1304.5 1428.4,1285.7 1429.1,1266.6 1429.8,1247.2 1430.5,1227.4 1431.1,1207.4 1431.7,1187.1 1432.2,1166.6 1432.8,1146 1433.2,1125.2 1433.7,1104.3 1434.1,1083.4 1434.5,1062.3 1434.8,1041.3 1435.1,1020.2 1435.4,999.1 1435.6,978.1 1435.8,957 1436,935.9 1436.1,914.9 1436.2,893.8 1436.4,872.7 1436.4,851.7 1436.5,830.6 1436.6,809.5 1436.6,788.5 1436.6,767.4 1436.6,746.3 1436.6,725.3 1436.5,704.2 1436.4,683.1 1436.4,662.1 1436.2,641 1436.1,619.9 1436,598.9 1435.8,577.8 1435.6,556.7 1435.4,535.7 1435.1,514.6 1434.8,493.5 1434.5,472.5 1434.1,451.4 1433.7,430.5 1433.2,409.6 1432.8,388.8 1432.2,368.2 1431.7,347.7 1431.1,327.4 1430.5,307.4 1429.8,287.6 1429.1,268.2 1428.4,249.1 1427.7,230.3 1426.9,212 1426.1,194.2 1425.3,176.9 1424.5,160.1 1423.5,144 1422.5,129 1421.6,115.6 1420.7,104 1419.9,94.7 1419.2,87.8 M1439,1447 1440.4,1440.1 1442,1430.8 1443.8,1419.2 1445.6,1405.8 1447.6,1390.8 1449.5,1374.7 1451.3,1357.9 1452.9,1340.6 1454.4,1322.8 1455.9,1304.5 1457.4,1285.7 1458.8,1266.6 1460.2,1247.2 1461.5,1227.4 1462.8,1207.4 1464,1187.1 1465.1,1166.6 1466.1,1146 1467.1,1125.2 1468,1104.3 1468.8,1083.4 1469.6,1062.3 1470.2,1041.3 1470.9,1020.2 1471.4,999.1 1471.8,978.1 1472.2,957 1472.5,935.9 1472.8,914.9 1473.1,893.8 1473.3,872.7 1473.5,851.7 1473.6,830.6 1473.7,809.5 1473.8,788.5 1473.8,767.4 1473.8,746.3 1473.7,725.3 1473.6,704.2 1473.5,683.1 1473.3,662.1 1473.1,641 1472.8,619.9 1472.5,598.9 1472.2,577.8 1471.8,556.7 1471.4,535.7 1470.9,514.6 1470.2,493.5 1469.6,472.5 1468.8,451.4 1468,430.5 1467.1,409.6 1466.1,388.8 1465.1,368.2 1464,347.7 1462.8,327.4 1461.5,307.4 1460.2,287.6 1458.8,268.2 1457.4,249.1 1455.9,230.3 1454.4,212 1452.9,194.2 1451.3,176.9 1449.5,160.1 1447.6,144 1445.6,129 1443.8,115.6 1442,104 1440.4,94.7 1439,87.8 M1458.8,1447 1460.9,1440.1 1463.3,1430.8 1465.9,1419.2 1468.8,1405.8 1471.7,1390.8 1474.6,1374.7 1477.2,1357.9 1479.6,1340.6 1482,1322.8 1484.2,1304.5 1486.4,1285.7 1488.6,1266.6 1490.6,1247.2 1492.6,1227.4 1494.5,1207.4 1496.3,1187.1 1497.9,1166.6 1499.5,1146 1500.9,1125.2 1502.3,1104.3 1503.5,1083.4 1504.6,1062.3 1505.7,1041.3 1506.6,1020.2 1507.4,999.1 1508,978.1 1508.6,957 1509.1,935.9 1509.5,914.9 1509.9,893.8 1510.3,872.7 1510.5,851.7 1510.7,830.6 1510.9,809.5 1511,788.5 1511,767.4 1511,746.3 1510.9,725.3 1510.7,704.2 1510.5,683.1 1510.3,662.1 1509.9,641 1509.5,619.9 1509.1,598.9 1508.6,577.8 1508,556.7 1507.4,535.7 1506.6,514.6 1505.7,493.5 1504.6,472.5 1503.5,451.4 1502.3,430.5 1500.9,409.6 1499.5,388.8 1497.9,368.2 1496.3,347.7 1494.5,327.4 1492.6,307.4 1490.6,287.6 1488.6,268.2 1486.4,249.1 1484.2,230.3 1482,212 1479.6,194.2 1477.2,176.9 1474.6,160.1 1471.7,144 1468.8,129 1465.9,115.6 1463.3,104 1460.9,94.7 1458.8,87.8 M1478.6,1447 1481.4,1440.1 1484.6,1430.8 1488.1,1419.2 1491.9,1405.8 1495.8,1390.8 1499.6,1374.7 1503.1,1357.9 1506.4,1340.6 1509.5,1322.8 1512.5,1304.5 1515.4,1285.7 1518.3,1266.6 1521,1247.2 1523.7,1227.4 1526.2,1207.4 1528.6,1187.1 1530.8,1166.6 1532.8,1146 1534.8,1125.2 1536.6,1104.3 1538.2,1083.4 1539.7,1062.3 1541.1,1041.3 1542.3,1020.2 1543.4,999.1 1544.2,978.1 1545,957 1545.6,935.9 1546.2,914.9 1546.8,893.8 1547.2,872.7 1547.6,851.7 1547.8,830.6 1548,809.5 1548.2,788.5 1548.3,767.4 1548.2,746.3 1548,725.3 1547.8,704.2 1547.6,683.1 1547.2,662.1 1546.8,641 1546.2,619.9 1545.6,598.9 1545,577.8 1544.2,556.7 1543.4,535.7 1542.3,514.6 1541.1,493.5 1539.7,472.5 1538.2,451.4 1536.6,430.5 1534.8,409.6 1532.8,388.8 1530.8,368.2 1528.6,347.7 1526.2,327.4 1523.7,307.4 1521,287.6 1518.3,268.2 1515.4,249.1 1512.5,230.3 1509.5,212 1506.4,194.2 1503.1,176.9 1499.6,160.1 1495.8,144 1491.9,129 1488.1,115.6 1484.6,104 1481.4,94.7 1478.6,87.8 M1498.4,1447 1501.9,1440.1 1505.9,1430.8 1510.3,1419.2 1515,1405.8 1519.9,1390.8 1524.7,1374.7 1529,1357.9 1533.1,1340.6 1537,1322.8 1540.8,1304.5 1544.4,1285.7 1548,1266.6 1551.4,1247.2 1554.8,1227.4 1557.9,1207.4 1560.9,1187.1 1563.6,1166.6 1566.2,1146 1568.6,1125.2 1570.9,1104.3 1572.9,1083.4 1574.8,1062.3 1576.5,1041.3 1578,1020.2 1579.3,999.1 1580.4,978.1 1581.4,957 1582.2,935.9 1582.9,914.9 1583.6,893.8 1584.2,872.7 1584.6,851.7 1585,830.6 1585.2,809.5 1585.4,788.5 1585.5,767.4 1585.4,746.3 1585.2,725.3 1585,704.2 1584.6,683.1 1584.2,662.1 1583.6,641 1582.9,619.9 1582.2,598.9 1581.4,577.8 1580.4,556.7 1579.3,535.7 1578,514.6 1576.5,493.5 1574.8,472.5 1572.9,451.4 1570.9,430.5 1568.6,409.6 1566.2,388.8 1563.6,368.2 1560.9,347.7 1557.9,327.4 1554.8,307.4 1551.4,287.6 1548,268.2 1544.4,249.1 1540.8,230.3 1537,212 1533.1,194.2 1529,176.9 1524.7,160.1 1519.9,144 1515,129 1510.3,115.6 1505.9,104 1501.9,94.7 1498.4,87.8 M1518.2,1447 1522.4,1440.1 1527.2,1430.8 1532.5,1419.2 1538.1,1405.8 1544,1390.8 1549.7,1374.7 1555,1357.9 1559.9,1340.6 1564.5,1322.8 1569,1304.5 1573.4,1285.7 1577.7,1266.6 1581.9,1247.2 1585.8,1227.4 1589.6,1207.4 1593.2,1187.1 1596.4,1166.6 1599.5,1146 1602.4,1125.2 1605.2,1104.3 1607.7,1083.4 1609.9,1062.3 1611.9,1041.3 1613.8,1020.2 1615.3,999.1 1616.7,978.1 1617.7,957 1618.7,935.9 1619.6,914.9 1620.5,893.8 1621.1,872.7 1621.7,851.7 1622.1,830.6 1622.4,809.5 1622.6,788.5 1622.7,767.4 1622.6,746.3 1622.4,725.3 1622.1,704.2 1621.7,683.1 1621.1,662.1 1620.5,641 1619.6,619.9 1618.7,598.9 1617.7,577.8 1616.7,556.7 1615.3,535.7 1613.8,514.6 1611.9,493.5 1609.9,472.5 1607.7,451.4 1605.2,430.5 1602.4,409.6 1599.5,388.8 1596.4,368.2 1593.2,347.7 1589.6,327.4 1585.8,307.4 1581.9,287.6 1577.7,268.2 1573.4,249.1 1569,230.3 1564.5,212 1559.9,194.2 1555,176.9 1549.7,160.1 1544,144 1538.1,129 1532.5,115.6 1527.2,104 1522.4,94.7 1518.2,87.8 M1538,1447 1542.9,1440.1 1548.5,1430.8 1554.6,1419.2 1561.2,1405.8 1568.1,1390.8 1574.8,1374.7 1580.9,1357.9 1586.6,1340.6 1592,1322.8 1597.3,1304.5 1602.4,1285.7 1607.4,1266.6 1612.3,1247.2 1616.9,1227.4 1621.3,1207.4 1625.5,1187.1 1629.3,1166.6 1632.9,1146 1636.3,1125.2 1639.5,1104.3 1642.4,1083.4 1645,1062.3 1647.4,1041.3 1649.5,1020.2 1651.3,999.1 1652.9,978.1 1654.1,957 1655.3,935.9 1656.3,914.9 1657.3,893.8 1658.1,872.7 1658.7,851.7 1659.2,830.6 1659.5,809.5 1659.8,788.5 1659.9,767.4 1659.8,746.3 1659.5,725.3 1659.2,704.2 1658.7,683.1 1658.1,662.1 1657.3,641 1656.3,619.9 1655.3,598.9 1654.1,577.8 1652.9,556.7 1651.3,535.7 1649.5,514.6 1647.4,493.5 1645,472.5 1642.4,451.4 1639.5,430.5 1636.3,409.6 1632.9,388.8 1629.3,368.2 1625.5,347.7 1621.3,327.4 1616.9,307.4 1612.3,287.6 1607.4,268.2 1602.4,249.1 1597.3,230.3 1592,212 1586.6,194.2 1580.9,176.9 1574.8,160.1 1568.1,144 1561.2,129 1554.6,115.6 1548.5,104 1542.9,94.7 1538,87.8 M1557.8,1447 1563.4,1440.1 1569.8,1430.8 1576.8,1419.2 1584.4,1405.8 1592.2,1390.8 1599.8,1374.7 1606.8,1357.9 1613.3,1340.6 1619.6,1322.8 1625.6,1304.5 1631.4,1285.7 1637.2,1266.6 1642.7,1247.2 1648,1227.4 1653.1,1207.4 1657.8,1187.1 1662.1,1166.6 1666.2,1146 1670.1,1125.2 1673.8,1104.3 1677.1,1083.4 1680.1,1062.3 1682.8,1041.3 1685.2,1020.2 1687.3,999.1 1689.1,978.1 1690.5,957 1691.8,935.9 1693,914.9 1694.1,893.8 1695,872.7 1695.7,851.7 1696.3,830.6 1696.7,809.5 1697,788.5 1697.1,767.4 1697,746.3 1696.7,725.3 1696.3,704.2 1695.7,683.1 1695,662.1 1694.1,641 1693,619.9 1691.8,598.9 1690.5,577.8 1689.1,556.7 1687.3,535.7 1685.2,514.6 1682.8,493.5 1680.1,472.5 1677.1,451.4 1673.8,430.5 1670.1,409.6 1666.2,388.8 1662.1,368.2 1657.8,347.7 1653.1,327.4 1648,307.4 1642.7,287.6 1637.2,268.2 1631.4,249.1 1625.6,230.3 1619.6,212 1613.3,194.2 1606.8,176.9 1599.8,160.1 1592.2,144 1584.4,129 1576.8,115.6 1569.8,104 1563.4,94.7 1557.8,87.8 M1577.6,1447 1583.9,1440.1 1591,1430.8 1599,1419.2 1607.5,1405.8 1616.3,1390.8 1624.9,1374.7 1632.8,1357.9 1640.1,1340.6 1647.1,1322.8 1653.8,1304.5 1660.4,1285.7 1666.9,1266.6 1673.1,1247.2 1679.1,1227.4 1684.8,1207.4 1690.1,1187.1 1695,1166.6 1699.6,1146 1704,1125.2 1708.1,1104.3 1711.8,1083.4 1715.1,1062.3 1718.2,1041.3 1720.9,1020.2 1723.3,999.1 1725.3,978.1 1726.9,957 1728.4,935.9 1729.7,914.9 1731,893.8 1732,872.7 1732.8,851.7 1733.4,830.6 1733.9,809.5 1734.2,788.5 1734.3,767.4 1734.2,746.3 1733.9,725.3 1733.4,704.2 1732.8,683.1 1732,662.1 1731,641 1729.7,619.9 1728.4,598.9 1726.9,577.8 1725.3,556.7 1723.3,535.7 1720.9,514.6 1718.2,493.5 1715.1,472.5 1711.8,451.4 1708.1,430.5 1704,409.6 1699.6,388.8 1695,368.2 1690.1,347.7 1684.8,327.4 1679.1,307.4 1673.1,287.6 1666.9,268.2 1660.4,249.1 1653.8,230.3 1647.1,212 1640.1,194.2 1632.8,176.9 1624.9,160.1 1616.3,144 1607.5,129 1599,115.6 1591,104 1583.9,94.7 1577.6,87.8 M1597.5,1447 1604.4,1440.1 1612.3,1430.8 1621.2,1419.2 1630.6,1405.8 1640.4,1390.8 1649.9,1374.7 1658.7,1357.9 1666.8,1340.6 1674.6,1322.8 1682.1,1304.5 1689.5,1285.7 1696.6,1266.6 1703.5,1247.2 1710.1,1227.4 1716.5,1207.4 1722.4,1187.1 1727.8,1166.6 1732.9,1146 1737.8,1125.2 1742.4,1104.3 1746.5,1083.4 1750.2,1062.3 1753.6,1041.3 1756.7,1020.2 1759.3,999.1 1761.5,978.1 1763.3,957 1764.9,935.9 1766.4,914.9 1767.8,893.8 1768.9,872.7 1769.8,851.7 1770.5,830.6 1771,809.5 1771.4,788.5 1771.5,767.4 1771.4,746.3 1771,725.3 1770.5,704.2 1769.8,683.1 1768.9,662.1 1767.8,641 1766.4,619.9 1764.9,598.9 1763.3,577.8 1761.5,556.7 1759.3,535.7 1756.7,514.6 1753.6,493.5 1750.2,472.5 1746.5,451.4 1742.4,430.5 1737.8,409.6 1732.9,388.8 1727.8,368.2 1722.4,347.7 1716.5,327.4 1710.1,307.4 1703.5,287.6 1696.6,268.2 1689.5,249.1 1682.1,230.3 1674.6,212 1666.8,194.2 1658.7,176.9 1649.9,160.1 1640.4,144 1630.6,129 1621.2,115.6 1612.3,104 1604.4,94.7 1597.5,87.8 M1617.3,1447 1624.9,1440.1 1633.6,1430.8 1643.3,1419.2 1653.7,1405.8 1664.5,1390.8 1675,1374.7 1684.6,1357.9 1693.6,1340.6 1702.1,1322.8 1710.4,1304.5 1718.5,1285.7 1726.3,1266.6 1733.9,1247.2 1741.2,1227.4 1748.2,1207.4 1754.7,1187.1 1760.7,1166.6 1766.3,1146 1771.6,1125.2 1776.7,1104.3 1781.2,1083.4 1785.3,1062.3 1789,1041.3 1792.4,1020.2 1795.3,999.1 1797.7,978.1 1799.7,957 1801.5,935.9 1803.1,914.9 1804.7,893.8 1805.9,872.7 1806.9,851.7 1807.6,830.6 1808.2,809.5 1808.6,788.5 1808.8,767.4 1808.6,746.3 1808.2,725.3 1807.6,704.2 1806.9,683.1 1805.9,662.1 1804.7,641 1803.1,619.9 1801.5,598.9 1799.7,577.8 1797.7,556.7 1795.3,535.7 1792.4,514.6 1789,493.5 1785.3,472.5 1781.2,451.4 1776.7,430.5 1771.6,409.6 1766.3,388.8 1760.7,368.2 1754.7,347.7 1748.2,327.4 1741.2,307.4 1733.9,287.6 1726.3,268.2 1718.5,249.1 1710.4,230.3 1702.1,212 1693.6,194.2 1684.6,176.9 1675,160.1 1664.5,144 1653.7,129 1643.3,115.6 1633.6,104 1624.9,94.7 1617.3,87.8 M1637.1,1447 1645.4,1440.1 1654.9,1430.8 1665.5,1419.2 1676.9,1405.8 1688.6,1390.8 1700,1374.7 1710.5,1357.9 1720.3,1340.6 1729.6,1322.8 1738.7,1304.5 1747.5,1285.7 1756,1266.6 1764.3,1247.2 1772.3,1227.4 1779.9,1207.4 1787,1187.1 1793.5,1166.6 1799.6,1146 1805.5,1125.2 1811,1104.3 1815.9,1083.4 1820.4,1062.3 1824.5,1041.3 1828.1,1020.2 1831.3,999.1 1833.9,978.1 1836.1,957 1838,935.9 1839.8,914.9 1841.5,893.8 1842.9,872.7 1843.9,851.7 1844.7,830.6 1845.3,809.5 1845.8,788.5 1846,767.4 1845.8,746.3 1845.3,725.3 1844.7,704.2 1843.9,683.1 1842.9,662.1 1841.5,641 1839.8,619.9 1838,598.9 1836.1,577.8 1833.9,556.7 1831.3,535.7 1828.1,514.6 1824.5,493.5 1820.4,472.5 1815.9,451.4 1811,430.5 1805.5,409.6 1799.6,388.8 1793.5,368.2 1787,347.7 1779.9,327.4 1772.3,307.4 1764.3,287.6 1756,268.2 1747.5,249.1 1738.7,230.3 1729.6,212 1720.3,194.2 1710.5,176.9 1700,160.1 1688.6,144 1676.9,129 1665.5,115.6 1654.9,104 1645.4,94.7 1637.1,87.8 M1656.9,1447 1665.9,1440.1 1676.2,1430.8 1687.7,1419.2 1700,1405.8 1712.7,1390.8 1725.1,1374.7 1736.5,1357.9 1747,1340.6 1757.1,1322.8 1766.9,1304.5 1776.5,1285.7 1785.7,1266.6 1794.7,1247.2 1803.4,1227.4 1811.6,1207.4 1819.3,1187.1 1826.3,1166.6 1833,1146 1839.3,1125.2 1845.3,1104.3 1850.6,1083.4 1855.5,1062.3 1859.9,1041.3 1863.8,1020.2 1867.2,999.1 1870.1,978.1 1872.5,957 1874.6,935.9 1876.6,914.9 1878.3,893.8 1879.8,872.7 1881,851.7 1881.8,830.6 1882.5,809.5 1883,788.5 1883.2,767.4 1883,746.3 1882.5,725.3 1881.8,704.2 1881,683.1 1879.8,662.1 1878.3,641 1876.6,619.9 1874.6,598.9 1872.5,577.8 1870.1,556.7 1867.2,535.7 1863.8,514.6 1859.9,493.5 1855.5,472.5 1850.6,451.4 1845.3,430.5 1839.3,409.6 1833,388.8 1826.3,368.2 1819.3,347.7 1811.6,327.4 1803.4,307.4 1794.7,287.6 1785.7,268.2 1776.5,249.1 1766.9,230.3 1757.1,212 1747,194.2 1736.5,176.9 1725.1,160.1 1712.7,144 1700,129 1687.7,115.6 1676.2,104 1665.9,94.7 1656.9,87.8 M1676.7,1447 1686.3,1440.1 1697.5,1430.8 1709.9,1419.2 1723.1,1405.8 1736.8,1390.8 1750.1,1374.7 1762.4,1357.9 1773.8,1340.6 1784.7,1322.8 1795.2,1304.5 1805.5,1285.7 1815.5,1266.6 1825.1,1247.2 1834.4,1227.4 1843.3,1207.4 1851.6,1187.1 1859.2,1166.6 1866.3,1146 1873.2,1125.2 1879.5,1104.3 1885.3,1083.4 1890.5,1062.3 1895.3,1041.3 1899.6,1020.2 1903.2,999.1 1906.3,978.1 1908.9,957 1911.1,935.9 1913.3,914.9 1915.2,893.8 1916.8,872.7 1918,851.7 1918.9,830.6 1919.7,809.5 1920.2,788.5 1920.4,767.4 1920.2,746.3 1919.7,725.3 1918.9,704.2 1918,683.1 1916.8,662.1 1915.2,641 1913.3,619.9 1911.1,598.9 1908.9,577.8 1906.3,556.7 1903.2,535.7 1899.6,514.6 1895.3,493.5 1890.5,472.5 1885.3,451.4 1879.5,430.5 1873.2,409.6 1866.3,388.8 1859.2,368.2 1851.6,347.7 1843.3,327.4 1834.4,307.4 1825.1,287.6 1815.5,268.2 1805.5,249.1 1795.2,230.3 1784.7,212 1773.8,194.2 1762.4,176.9 1750.1,160.1 1736.8,144 1723.1,129 1709.9,115.6 1697.5,104 1686.3,94.7 1676.7,87.8 M1696.5,1447 1706.8,1440.1 1718.8,1430.8 1732,1419.2 1746.2,1405.8 1760.9,1390.8 1775.2,1374.7 1788.3,1357.9 1800.5,1340.6 1812.2,1322.8 1823.5,1304.5 1834.5,1285.7 1845.2,1266.6 1855.5,1247.2 1865.5,1227.4 1875,1207.4 1883.9,1187.1 1892,1166.6 1899.7,1146 1907,1125.2 1913.8,1104.3 1920,1083.4 1925.6,1062.3 1930.7,1041.3 1935.3,1020.2 1939.2,999.1 1942.5,978.1 1945.3,957 1947.7,935.9 1950,914.9 1952,893.8 1953.7,872.7 1955,851.7 1956.1,830.6 1956.8,809.5 1957.4,788.5 1957.6,767.4 1957.4,746.3 1956.8,725.3 1956.1,704.2 1955,683.1 1953.7,662.1 1952,641 1950,619.9 1947.7,598.9 1945.3,577.8 1942.5,556.7 1939.2,535.7 1935.3,514.6 1930.7,493.5 1925.6,472.5 1920,451.4 1913.8,430.5 1907,409.6 1899.7,388.8 1892,368.2 1883.9,347.7 1875,327.4 1865.5,307.4 1855.5,287.6 1845.2,268.2 1834.5,249.1 1823.5,230.3 1812.2,212 1800.5,194.2 1788.3,176.9 1775.2,160.1 1760.9,144 1746.2,129 1732,115.6 1718.8,104 1706.8,94.7 1696.5,87.8 M1716.3,1447 1727.3,1440.1 1740.1,1430.8 1754.2,1419.2 1769.3,1405.8 1785,1390.8 1800.2,1374.7 1814.3,1357.9 1827.3,1340.6 1839.7,1322.8 1851.7,1304.5 1863.5,1285.7 1874.9,1266.6 1886,1247.2 1896.6,1227.4 1906.7,1207.4 1916.2,1187.1 1924.9,1166.6 1933,1146 1940.8,1125.2 1948.1,1104.3 1954.7,1083.4 1960.7,1062.3 1966.1,1041.3 1971,1020.2 1975.2,999.1 1978.7,978.1 1981.7,957 1984.2,935.9 1986.7,914.9 1988.9,893.8 1990.7,872.7 1992.1,851.7 1993.2,830.6 1994,809.5 1994.6,788.5 1994.8,767.4 1994.6,746.3 1994,725.3 1993.2,704.2 1992.1,683.1 1990.7,662.1 1988.9,641 1986.7,619.9 1984.2,598.9 1981.7,577.8 1978.7,556.7 1975.2,535.7 1971,514.6 1966.1,493.5 1960.7,472.5 1954.7,451.4 1948.1,430.5 1940.8,409.6 1933,388.8 1924.9,368.2 1916.2,347.7 1906.7,327.4 1896.6,307.4 1886,287.6 1874.9,268.2 1863.5,249.1 1851.7,230.3 1839.7,212 1827.3,194.2 1814.3,176.9 1800.2,160.1 1785,144 1769.3,129 1754.2,115.6 1740.1,104 1727.3,94.7 1716.3,87.8 M1736.1,1447 1747.8,1440.1 1761.4,1430.8 1776.4,1419.2 1792.5,1405.8 1809.1,1390.8 1825.3,1374.7 1840.2,1357.9 1854,1340.6 1867.2,1322.8 1880,1304.5 1892.5,1285.7 1904.6,1266.6 1916.4,1247.2 1927.7,1227.4 1938.4,1207.4 1948.5,1187.1 1957.7,1166.6 1966.4,1146 1974.7,1125.2 1982.4,1104.3 1989.4,1083.4 1995.8,1062.3 2001.6,1041.3 2006.7,1020.2 2011.2,999.1 2015,978.1 2018.1,957 2020.8,935.9 2023.4,914.9 2025.7,893.8 2027.6,872.7 2029.1,851.7 2030.3,830.6 2031.2,809.5 2031.8,788.5 2032,767.4 2031.8,746.3 2031.2,725.3 2030.3,704.2 2029.1,683.1 2027.6,662.1 2025.7,641 2023.4,619.9 2020.8,598.9 2018.1,577.8 2015,556.7 2011.2,535.7 2006.7,514.6 2001.6,493.5 1995.8,472.5 1989.4,451.4 1982.4,430.5 1974.7,409.6 1966.4,388.8 1957.7,368.2 1948.5,347.7 1938.4,327.4 1927.7,307.4 1916.4,287.6 1904.6,268.2 1892.5,249.1 1880,230.3 1867.2,212 1854,194.2 1840.2,176.9 1825.3,160.1 1809.1,144 1792.5,129 1776.4,115.6 1761.4,104 1747.8,94.7 1736.1,87.8 M1755.9,1447 1768.3,1440.1 1782.7,1430.8 1798.6,1419.2 1815.6,1405.8 1833.2,1390.8 1850.3,1374.7 1866.1,1357.9 1880.8,1340.6 1894.7,1322.8 1908.3,1304.5 1921.5,1285.7 1934.3,1266.6 1946.8,1247.2 1958.7,1227.4 1970.1,1207.4 1980.8,1187.1 1990.5,1166.6 1999.7,1146 2008.5,1125.2 2016.7,1104.3 2024.2,1083.4 2030.9,1062.3 2037,1041.3 2042.5,1020.2 2047.2,999.1 2051.2,978.1 2054.4,957 2057.3,935.9 2060.1,914.9 2062.6,893.8 2064.6,872.7 2066.2,851.7 2067.4,830.6 2068.3,809.5 2069,788.5 2069.2,767.4 2069,746.3 2068.3,725.3 2067.4,704.2 2066.2,683.1 2064.6,662.1 2062.6,641 2060.1,619.9 2057.3,598.9 2054.4,577.8 2051.2,556.7 2047.2,535.7 2042.5,514.6 2037,493.5 2030.9,472.5 2024.2,451.4 2016.7,430.5 2008.5,409.6 1999.7,388.8 1990.5,368.2 1980.8,347.7 1970.1,327.4 1958.7,307.4 1946.8,287.6 1934.3,268.2 1921.5,249.1 1908.3,230.3 1894.7,212 1880.8,194.2 1866.1,176.9 1850.3,160.1 1833.2,144 1815.6,129 1798.6,115.6 1782.7,104 1768.3,94.7 1755.9,87.8 M1775.7,1447 1788.8,1440.1 1804,1430.8 1820.7,1419.2 1838.7,1405.8 1857.3,1390.8 1875.4,1374.7 1892,1357.9 1907.5,1340.6 1922.3,1322.8 1936.6,1304.5 1950.5,1285.7 1964.1,1266.6 1977.2,1247.2 1989.8,1227.4 2001.8,1207.4 2013.1,1187.1 2023.4,1166.6 2033.1,1146 2042.4,1125.2 2051,1104.3 2058.9,1083.4 2065.9,1062.3 2072.4,1041.3 2078.2,1020.2 2083.2,999.1 2087.4,978.1 2090.8,957 2093.9,935.9 2096.8,914.9 2099.4,893.8 2101.5,872.7 2103.2,851.7 2104.5,830.6 2105.5,809.5 2106.2,788.5 2106.5,767.4 2106.2,746.3 2105.5,725.3 2104.5,704.2 2103.2,683.1 2101.5,662.1 2099.4,641 2096.8,619.9 2093.9,598.9 2090.8,577.8 2087.4,556.7 2083.2,535.7 2078.2,514.6 2072.4,493.5 2065.9,472.5 2058.9,451.4 2051,430.5 2042.4,409.6 2033.1,388.8 2023.4,368.2 2013.1,347.7 2001.8,327.4 1989.8,307.4 1977.2,287.6 1964.1,268.2 1950.5,249.1 1936.6,230.3 1922.3,212 1907.5,194.2 1892,176.9 1875.4,160.1 1857.3,144 1838.7,129 1820.7,115.6 1804,104 1788.8,94.7 1775.7,87.8 M1795.5,1447 1809.3,1440.1 1825.3,1430.8 1842.9,1419.2 1861.8,1405.8 1881.4,1390.8 1900.4,1374.7 1918,1357.9 1934.2,1340.6 1949.8,1322.8 1964.8,1304.5 1979.5,1285.7 1993.8,1266.6 2007.6,1247.2 2020.9,1227.4 2033.5,1207.4 2045.4,1187.1 2056.2,1166.6 2066.4,1146 2076.2,1125.2 2085.3,1104.3 2093.6,1083.4 2101,1062.3 2107.8,1041.3 2113.9,1020.2 2119.2,999.1 2123.6,978.1 2127.2,957 2130.4,935.9 2133.5,914.9 2136.2,893.8 2138.5,872.7 2140.3,851.7 2141.6,830.6 2142.6,809.5 2143.4,788.5 2143.7,767.4 2143.4,746.3 2142.6,725.3 2141.6,704.2 2140.3,683.1 2138.5,662.1 2136.2,641 2133.5,619.9 2130.4,598.9 2127.2,577.8 2123.6,556.7 2119.2,535.7 2113.9,514.6 2107.8,493.5 2101,472.5 2093.6,451.4 2085.3,430.5 2076.2,409.6 2066.4,388.8 2056.2,368.2 2045.4,347.7 2033.5,327.4 2020.9,307.4 2007.6,287.6 1993.8,268.2 1979.5,249.1 1964.8,230.3 1949.8,212 1934.2,194.2 1918,176.9 1900.4,160.1 1881.4,144 1861.8,129 1842.9,115.6 1825.3,104 1809.3,94.7 1795.5,87.8 M1815.3,1447 1829.8,1440.1 1846.6,1430.8 1865.1,1419.2 1884.9,1405.8 1905.5,1390.8 1925.5,1374.7 1943.9,1357.9 1961,1340.6 1977.3,1322.8 1993.1,1304.5 2008.5,1285.7 2023.5,1266.6 2038,1247.2 2051.9,1227.4 2065.2,1207.4 2077.7,1187.1 2089.1,1166.6 2099.8,1146 2110,1125.2 2119.6,1104.3 2128.3,1083.4 2136.1,1062.3 2143.3,1041.3 2149.6,1020.2 2155.2,999.1 2159.8,978.1 2163.6,957 2167,935.9 2170.2,914.9 2173.1,893.8 2175.4,872.7 2177.3,851.7 2178.7,830.6 2179.8,809.5 2180.6,788.5 2180.9,767.4 2180.6,746.3 2179.8,725.3 2178.7,704.2 2177.3,683.1 2175.4,662.1 2173.1,641 2170.2,619.9 2167,598.9 2163.6,577.8 2159.8,556.7 2155.2,535.7 2149.6,514.6 2143.3,493.5 2136.1,472.5 2128.3,451.4 2119.6,430.5 2110,409.6 2099.8,388.8 2089.1,368.2 2077.7,347.7 2065.2,327.4 2051.9,307.4 2038,287.6 2023.5,268.2 2008.5,249.1 1993.1,230.3 1977.3,212 1961,194.2 1943.9,176.9 1925.5,160.1 1905.5,144 1884.9,129 1865.1,115.6 1846.6,104 1829.8,94.7 1815.3,87.8 M1835.1,1447 1850.3,1440.1 1867.9,1430.8 1887.3,1419.2 1908.1,1405.8 1929.6,1390.8 1950.6,1374.7 1969.8,1357.9 1987.7,1340.6 2004.8,1322.8 2021.4,1304.5 2037.5,1285.7 2053.2,1266.6 2068.4,1247.2 2083,1227.4 2096.9,1207.4 2110,1187.1 2121.9,1166.6 2133.1,1146 2143.9,1125.2 2153.9,1104.3 2163,1083.4 2171.2,1062.3 2178.7,1041.3 2185.4,1020.2 2191.1,999.1 2196,978.1 2200,957 2203.5,935.9 2206.9,914.9 2209.9,893.8 2212.4,872.7 2214.3,851.7 2215.8,830.6 2217,809.5 2217.8,788.5 2218.1,767.4 2217.8,746.3 2217,725.3 2215.8,704.2 2214.3,683.1 2212.4,662.1 2209.9,641 2206.9,619.9 2203.5,598.9 2200,577.8 2196,556.7 2191.1,535.7 2185.4,514.6 2178.7,493.5 2171.2,472.5 2163,451.4 2153.9,430.5 2143.9,409.6 2133.1,388.8 2121.9,368.2 2110,347.7 2096.9,327.4 2083,307.4 2068.4,287.6 2053.2,268.2 2037.5,249.1 2021.4,230.3 2004.8,212 1987.7,194.2 1969.8,176.9 1950.6,160.1 1929.6,144 1908.1,129 1887.3,115.6 1867.9,104 1850.3,94.7 1835.1,87.8 M1854.9,1447 1870.8,1440.1 1889.2,1430.8 1909.4,1419.2 1931.2,1405.8 1953.7,1390.8 1975.6,1374.7 1995.8,1357.9 2014.5,1340.6 2032.3,1322.8 2049.6,1304.5 2066.5,1285.7 2082.9,1266.6 2098.8,1247.2 2114.1,1227.4 2128.6,1207.4 2142.3,1187.1 2154.8,1166.6 2166.5,1146 2177.7,1125.2 2188.2,1104.3 2197.7,1083.4 2206.3,1062.3 2214.1,1041.3 2221.1,1020.2 2227.1,999.1 2232.2,978.1 2236.4,957 2240.1,935.9 2243.6,914.9 2246.8,893.8 2249.4,872.7 2251.4,851.7 2252.9,830.6 2254.1,809.5 2255,788.5 2255.3,767.4 2255,746.3 2254.1,725.3 2252.9,704.2 2251.4,683.1 2249.4,662.1 2246.8,641 2243.6,619.9 2240.1,598.9 2236.4,577.8 2232.2,556.7 2227.1,535.7 2221.1,514.6 2214.1,493.5 2206.3,472.5 2197.7,451.4 2188.2,430.5 2177.7,409.6 2166.5,388.8 2154.8,368.2 2142.3,347.7 2128.6,327.4 2114.1,307.4 2098.8,287.6 2082.9,268.2 2066.5,249.1 2049.6,230.3 2032.3,212 2014.5,194.2 1995.8,176.9 1975.6,160.1 1953.7,144 1931.2,129 1909.4,115.6 1889.2,104 1870.8,94.7 1854.9,87.8 M1874.7,1447 1891.3,1440.1 1910.5,1430.8 1931.6,1419.2 1954.3,1405.8 1977.8,1390.8 2000.7,1374.7 2021.7,1357.9 2041.2,1340.6 2059.9,1322.8 2077.9,1304.5 2095.5,1285.7 2112.7,1266.6 2129.2,1247.2 2145.2,1227.4 2160.4,1207.4 2174.6,1187.1 2187.6,1166.6 2199.8,1146 2211.6,1125.2 2222.5,1104.3 2232.4,1083.4 2241.4,1062.3 2249.5,1041.3 2256.8,1020.2 2263.1,999.1 2268.4,978.1 2272.8,957 2276.6,935.9 2280.3,914.9 2283.6,893.8 2286.3,872.7 2288.4,851.7 2290,830.6 2291.3,809.5 2292.2,788.5 2292.5,767.4 2292.2,746.3 2291.3,725.3 2290,704.2 2288.4,683.1 2286.3,662.1 2283.6,641 2280.3,619.9 2276.6,598.9 2272.8,577.8 2268.4,556.7 2263.1,535.7 2256.8,514.6 2249.5,493.5 2241.4,472.5 2232.4,451.4 2222.5,430.5 2211.6,409.6 2199.8,388.8 2187.6,368.2 2174.6,347.7 2160.4,327.4 2145.2,307.4 2129.2,287.6 2112.7,268.2 2095.5,249.1 2077.9,230.3 2059.9,212 2041.2,194.2 2021.7,176.9 2000.7,160.1 1977.8,144 1954.3,129 1931.6,115.6 1910.5,104 1891.3,94.7 1874.7,87.8 M1894.5,1447 1911.8,1440.1 1931.7,1430.8 1953.8,1419.2 1977.4,1405.8 2001.9,1390.8 2025.7,1374.7 2047.6,1357.9 2067.9,1340.6 2087.4,1322.8 2106.2,1304.5 2124.5,1285.7 2142.4,1266.6 2159.6,1247.2 2176.2,1227.4 2192.1,1207.4 2206.8,1187.1 2220.4,1166.6 2233.2,1146 2245.4,1125.2 2256.8,1104.3 2267.1,1083.4 2276.4,1062.3 2284.9,1041.3 2292.5,1020.2 2299.1,999.1 2304.6,978.1 2309.2,957 2313.2,935.9 2317,914.9 2320.4,893.8 2323.3,872.7 2325.5,851.7 2327.2,830.6 2328.4,809.5 2329.4,788.5 2329.7,767.4 2329.4,746.3 2328.4,725.3 2327.2,704.2 2325.5,683.1 2323.3,662.1 2320.4,641 2317,619.9 2313.2,598.9 2309.2,577.8 2304.6,556.7 2299.1,535.7 2292.5,514.6 2284.9,493.5 2276.4,472.5 2267.1,451.4 2256.8,430.5 2245.4,409.6 2233.2,388.8 2220.4,368.2 2206.8,347.7 2192.1,327.4 2176.2,307.4 2159.6,287.6 2142.4,268.2 2124.5,249.1 2106.2,230.3 2087.4,212 2067.9,194.2 2047.6,176.9 2025.7,160.1 2001.9,144 1977.4,129 1953.8,115.6 1931.7,104 1911.8,94.7 1894.5,87.8 M1914.3,1447 1932.3,1440.1 1953,1430.8 1976,1419.2 2000.5,1405.8 2026,1390.8 2050.8,1374.7 2073.5,1357.9 2094.7,1340.6 2114.9,1322.8 2134.5,1304.5 2153.5,1285.7 2172.1,1266.6 2190,1247.2 2207.3,1227.4 2223.8,1207.4 2239.1,1187.1 2253.3,1166.6 2266.5,1146 2279.2,1125.2 2291.1,1104.3 2301.8,1083.4 2311.5,1062.3 2320.4,1041.3 2328.3,1020.2 2335.1,999.1 2340.8,978.1 2345.6,957 2349.7,935.9 2353.7,914.9 2357.3,893.8 2360.2,872.7 2362.5,851.7 2364.3,830.6 2365.6,809.5 2366.6,788.5 2367,767.4 2366.6,746.3 2365.6,725.3 2364.3,704.2 2362.5,683.1 2360.2,662.1 2357.3,641 2353.7,619.9 2349.7,598.9 2345.6,577.8 2340.8,556.7 2335.1,535.7 2328.3,514.6 2320.4,493.5 2311.5,472.5 2301.8,451.4 2291.1,430.5 2279.2,409.6 2266.5,388.8 2253.3,368.2 2239.1,347.7 2223.8,327.4 2207.3,307.4 2190,287.6 2172.1,268.2 2153.5,249.1 2134.5,230.3 2114.9,212 2094.7,194.2 2073.5,176.9 2050.8,160.1 2026,144 2000.5,129 1976,115.6 1953,104 1932.3,94.7 1914.3,87.8 M1934.1,1447 1952.8,1440.1 1974.3,1430.8 1998.2,1419.2 2023.7,1405.8 2050.1,1390.8 2075.8,1374.7 2099.5,1357.9 2121.4,1340.6 2142.4,1322.8 2162.7,1304.5 2182.5,1285.7 2201.8,1266.6 2220.5,1247.2 2238.4,1227.4 2255.5,1207.4 2271.4,1187.1 2286.1,1166.6 2299.9,1146 2313.1,1125.2 2325.4,1104.3 2336.5,1083.4 2346.6,1062.3 2355.8,1041.3 2364,1020.2 2371.1,999.1 2377,978.1 2382,957 2386.3,935.9 2390.4,914.9 2394.1,893.8 2397.2,872.7 2399.6,851.7 2401.4,830.6 2402.8,809.5 2403.8,788.5 2404.2,767.4 2403.8,746.3 2402.8,725.3 2401.4,704.2 2399.6,683.1 2397.2,662.1 2394.1,641 2390.4,619.9 2386.3,598.9 2382,577.8 2377,556.7 2371.1,535.7 2364,514.6 2355.8,493.5 2346.6,472.5 2336.5,451.4 2325.4,430.5 2313.1,409.6 2299.9,388.8 2286.1,368.2 2271.4,347.7 2255.5,327.4 2238.4,307.4 2220.5,287.6 2201.8,268.2 2182.5,249.1 2162.7,230.3 2142.4,212 2121.4,194.2 2099.5,176.9 2075.8,160.1 2050.1,144 2023.7,129 1998.2,115.6 1974.3,104 1952.8,94.7 1934.1,87.8 M1953.9,1447 1973.3,1440.1 1995.6,1430.8 2020.3,1419.2 2046.8,1405.8 2074.2,1390.8 2100.9,1374.7 2125.4,1357.9 2148.2,1340.6 2169.9,1322.8 2191,1304.5 2211.5,1285.7 2231.5,1266.6 2250.9,1247.2 2269.5,1227.4 2287.2,1207.4 2303.7,1187.1 2319,1166.6 2333.2,1146 2346.9,1125.2 2359.7,1104.3 2371.2,1083.4 2381.7,1062.3 2391.2,1041.3 2399.7,1020.2 2407.1,999.1 2413.3,978.1 2418.4,957 2422.8,935.9 2427.1,914.9 2431,893.8 2434.1,872.7 2436.6,851.7 2438.5,830.6 2439.9,809.5 2441,788.5 2441.4,767.4 2441,746.3 2439.9,725.3 2438.5,704.2 2436.6,683.1 2434.1,662.1 2431,641 2427.1,619.9 2422.8,598.9 2418.4,577.8 2413.3,556.7 2407.1,535.7 2399.7,514.6 2391.2,493.5 2381.7,472.5 2371.2,451.4 2359.7,430.5 2346.9,409.6 2333.2,388.8 2319,368.2 2303.7,347.7 2287.2,327.4 2269.5,307.4 2250.9,287.6 2231.5,268.2 2211.5,249.1 2191,230.3 2169.9,212 2148.2,194.2 2125.4,176.9 2100.9,160.1 2074.2,144 2046.8,129 2020.3,115.6 1995.6,104 1973.3,94.7 1953.9,87.8 M1973.8,1447 1993.8,1440.1 2016.9,1430.8 2042.5,1419.2 2069.9,1405.8 2098.3,1390.8 2125.9,1374.7 2151.3,1357.9 2174.9,1340.6 2197.5,1322.8 2219.3,1304.5 2240.6,1285.7 2261.3,1266.6 2281.3,1247.2 2300.5,1227.4 2318.9,1207.4 2336,1187.1 2351.8,1166.6 2366.6,1146 2380.7,1125.2 2394,1104.3 2406,1083.4 2416.8,1062.3 2426.6,1041.3 2435.4,1020.2 2443.1,999.1 2449.5,978.1 2454.7,957 2459.4,935.9 2463.8,914.9 2467.8,893.8 2471.1,872.7 2473.6,851.7 2475.6,830.6 2477.1,809.5 2478.2,788.5 2478.6,767.4 2478.2,746.3 2477.1,725.3 2475.6,704.2 2473.6,683.1 2471.1,662.1 2467.8,641 2463.8,619.9 2459.4,598.9 2454.7,577.8 2449.5,556.7 2443.1,535.7 2435.4,514.6 2426.6,493.5 2416.8,472.5 2406,451.4 2394,430.5 2380.7,409.6 2366.6,388.8 2351.8,368.2 2336,347.7 2318.9,327.4 2300.5,307.4 2281.3,287.6 2261.3,268.2 2240.6,249.1 2219.3,230.3 2197.5,212 2174.9,194.2 2151.3,176.9 2125.9,160.1 2098.3,144 2069.9,129 2042.5,115.6 2016.9,104 1993.8,94.7 1973.8,87.8 M1993.6,1447 2014.3,1440.1 2038.2,1430.8 2064.7,1419.2 2093,1405.8 2122.4,1390.8 2151,1374.7 2177.3,1357.9 2201.7,1340.6 2225,1322.8 2247.5,1304.5 2269.6,1285.7 2291,1266.6 2311.7,1247.2 2331.6,1227.4 2350.6,1207.4 2368.3,1187.1 2384.6,1166.6 2399.9,1146 2414.6,1125.2 2428.3,1104.3 2440.7,1083.4 2451.8,1062.3 2462,1041.3 2471.2,1020.2 2479,999.1 2485.7,978.1 2491.1,957 2495.9,935.9 2500.5,914.9 2504.7,893.8 2508,872.7 2510.7,851.7 2512.7,830.6 2514.3,809.5 2515.4,788.5 2515.8,767.4 2515.4,746.3 2514.3,725.3 2512.7,704.2 2510.7,683.1 2508,662.1 2504.7,641 2500.5,619.9 2495.9,598.9 2491.1,577.8 2485.7,556.7 2479,535.7 2471.2,514.6 2462,493.5 2451.8,472.5 2440.7,451.4 2428.3,430.5 2414.6,409.6 2399.9,388.8 2384.6,368.2 2368.3,347.7 2350.6,327.4 2331.6,307.4 2311.7,287.6 2291,268.2 2269.6,249.1 2247.5,230.3 2225,212 2201.7,194.2 2177.3,176.9 2151,160.1 2122.4,144 2093,129 2064.7,115.6 2038.2,104 2014.3,94.7 1993.6,87.8 M2013.4,1447 2034.8,1440.1 2059.5,1430.8 2086.9,1419.2 2116.2,1405.8 2146.5,1390.8 2176,1374.7 2203.2,1357.9 2228.4,1340.6 2252.5,1322.8 2275.8,1304.5 2298.6,1285.7 2320.7,1266.6 2342.1,1247.2 2362.7,1227.4 2382.3,1207.4 2400.6,1187.1 2417.5,1166.6 2433.3,1146 2448.4,1125.2 2462.6,1104.3 2475.4,1083.4 2486.9,1062.3 2497.5,1041.3 2506.9,1020.2 2515,999.1 2521.9,978.1 2527.5,957 2532.5,935.9 2537.2,914.9 2541.5,893.8 2545,872.7 2547.7,851.7 2549.8,830.6 2551.4,809.5 2552.6,788.5 2553,767.4 2552.6,746.3 2551.4,725.3 2549.8,704.2 2547.7,683.1 2545,662.1 2541.5,641 2537.2,619.9 2532.5,598.9 2527.5,577.8 2521.9,556.7 2515,535.7 2506.9,514.6 2497.5,493.5 2486.9,472.5 2475.4,451.4 2462.6,430.5 2448.4,409.6 2433.3,388.8 2417.5,368.2 2400.6,347.7 2382.3,327.4 2362.7,307.4 2342.1,287.6 2320.7,268.2 2298.6,249.1 2275.8,230.3 2252.5,212 2228.4,194.2 2203.2,176.9 2176,160.1 2146.5,144 2116.2,129 2086.9,115.6 2059.5,104 2034.8,94.7 2013.4,87.8 M2033.2,1447 2055.3,1440.1 2080.8,1430.8 2109,1419.2 2139.3,1405.8 2170.6,1390.8 2201.1,1374.7 2229.1,1357.9 2255.1,1340.6 2280,1322.8 2304.1,1304.5 2327.6,1285.7 2350.4,1266.6 2372.5,1247.2 2393.8,1227.4 2414,1207.4 2432.9,1187.1 2450.3,1166.6 2466.6,1146 2482.3,1125.2 2496.9,1104.3 2510.1,1083.4 2522,1062.3 2532.9,1041.3 2542.6,1020.2 2551,999.1 2558.1,978.1 2563.9,957 2569,935.9 2573.9,914.9 2578.3,893.8 2581.9,872.7 2584.8,851.7 2586.9,830.6 2588.6,809.5 2589.8,788.5 2590.2,767.4 2589.8,746.3 2588.6,725.3 2586.9,704.2 2584.8,683.1 2581.9,662.1 2578.3,641 2573.9,619.9 2569,598.9 2563.9,577.8 2558.1,556.7 2551,535.7 2542.6,514.6 2532.9,493.5 2522,472.5 2510.1,451.4 2496.9,430.5 2482.3,409.6 2466.6,388.8 2450.3,368.2 2432.9,347.7 2414,327.4 2393.8,307.4 2372.5,287.6 2350.4,268.2 2327.6,249.1 2304.1,230.3 2280,212 2255.1,194.2 2229.1,176.9 2201.1,160.1 2170.6,144 2139.3,129 2109,115.6 2080.8,104 2055.3,94.7 2033.2,87.8 M2053,1447 2075.8,1440.1 2102.1,1430.8 2131.2,1419.2 2162.4,1405.8 2194.7,1390.8 2226.1,1374.7 2255,1357.9 2281.9,1340.6 2307.5,1322.8 2332.4,1304.5 2356.6,1285.7 2380.1,1266.6 2402.9,1247.2 2424.8,1227.4 2445.7,1207.4 2465.2,1187.1 2483.2,1166.6 2500,1146 2516.1,1125.2 2531.2,1104.3 2544.8,1083.4 2557.1,1062.3 2568.3,1041.3 2578.3,1020.2 2587,999.1 2594.3,978.1 2600.3,957 2605.6,935.9 2610.6,914.9 2615.2,893.8 2618.9,872.7 2621.8,851.7 2624,830.6 2625.7,809.5 2627,788.5 2627.5,767.4 2627,746.3 2625.7,725.3 2624,704.2 2621.8,683.1 2618.9,662.1 2615.2,641 2610.6,619.9 2605.6,598.9 2600.3,577.8 2594.3,556.7 2587,535.7 2578.3,514.6 2568.3,493.5 2557.1,472.5 2544.8,451.4 2531.2,430.5 2516.1,409.6 2500,388.8 2483.2,368.2 2465.2,347.7 2445.7,327.4 2424.8,307.4 2402.9,287.6 2380.1,268.2 2356.6,249.1 2332.4,230.3 2307.5,212 2281.9,194.2 2255,176.9 2226.1,160.1 2194.7,144 2162.4,129 2131.2,115.6 2102.1,104 2075.8,94.7 2053,87.8 M2072.8,1447 2096.3,1440.1 2123.4,1430.8 2153.4,1419.2 2185.5,1405.8 2218.8,1390.8 2251.2,1374.7 2281,1357.9 2308.6,1340.6 2335,1322.8 2360.6,1304.5 2385.6,1285.7 2409.8,1266.6 2433.3,1247.2 2455.9,1227.4 2477.4,1207.4 2497.5,1187.1 2516,1166.6 2533.3,1146 2549.9,1125.2 2565.5,1104.3 2579.5,1083.4 2592.2,1062.3 2603.7,1041.3 2614.1,1020.2 2623,999.1 2630.5,978.1 2636.7,957 2642.2,935.9 2647.3,914.9 2652,893.8 2655.8,872.7 2658.9,851.7 2661.2,830.6 2662.9,809.5 2664.2,788.5 2664.7,767.4 2664.2,746.3 2662.9,725.3 2661.2,704.2 2658.9,683.1 2655.8,662.1 2652,641 2647.3,619.9 2642.2,598.9 2636.7,577.8 2630.5,556.7 2623,535.7 2614.1,514.6 2603.7,493.5 2592.2,472.5 2579.5,451.4 2565.5,430.5 2549.9,409.6 2533.3,388.8 2516,368.2 2497.5,347.7 2477.4,327.4 2455.9,307.4 2433.3,287.6 2409.8,268.2 2385.6,249.1 2360.6,230.3 2335,212 2308.6,194.2 2281,176.9 2251.2,160.1 2218.8,144 2185.5,129 2153.4,115.6 2123.4,104 2096.3,94.7 2072.8,87.8 M2092.6,1447 2116.8,1440.1 2144.7,1430.8 2175.6,1419.2 2208.6,1405.8 2242.9,1390.8 2276.2,1374.7 2306.9,1357.9 2335.4,1340.6 2362.6,1322.8 2388.9,1304.5 2414.6,1285.7 2439.6,1266.6 2463.7,1247.2 2487,1227.4 2509.1,1207.4 2529.8,1187.1 2548.9,1166.6 2566.7,1146 2583.8,1125.2 2599.8,1104.3 2614.2,1083.4 2627.3,1062.3 2639.2,1041.3 2649.8,1020.2 2659,999.1 2666.7,978.1 2673.1,957 2678.7,935.9 2684,914.9 2688.9,893.8 2692.8,872.7 2695.9,851.7 2698.3,830.6 2700.1,809.5 2701.4,788.5 2701.9,767.4 2701.4,746.3 2700.1,725.3 2698.3,704.2 2695.9,683.1 2692.8,662.1 2688.9,641 2684,619.9 2678.7,598.9 2673.1,577.8 2666.7,556.7 2659,535.7 2649.8,514.6 2639.2,493.5 2627.3,472.5 2614.2,451.4 2599.8,430.5 2583.8,409.6 2566.7,388.8 2548.9,368.2 2529.8,347.7 2509.1,327.4 2487,307.4 2463.7,287.6 2439.6,268.2 2414.6,249.1 2388.9,230.3 2362.6,212 2335.4,194.2 2306.9,176.9 2276.2,160.1 2242.9,144 2208.6,129 2175.6,115.6 2144.7,104 2116.8,94.7 2092.6,87.8 M632.8,1430.8L2166,1430.8 M567,1405.8L2231.8,1405.8 M497.5,1374.7L2301.3,1374.7 M436.7,1340.6L2362.1,1340.6 M381.6,1304.5L2417.2,1304.5 M329.5,1266.6L2469.3,1266.6 M280.8,1227.4L2518,1227.4 M236.7,1187.1L2562.1,1187.1 M198.8,1146L2600,1146 M164.7,1104.3L2634.1,1104.3 M136.5,1062.3L2662.3,1062.3 M113.3,1020.2L2685.5,1020.2 M95.9,978.1L2702.9,978.1 M83.5,935.9L2715.3,935.9 M73.1,893.8L2725.7,893.8 M65.9,851.7L2732.9,851.7 M61.6,809.5L2737.2,809.5 M59.7,767.4L2739.1,767.4 M61.6,725.3L2737.2,725.3 M65.9,683.1L2732.9,683.1 M73.1,641L2725.7,641 M83.5,598.9L2715.3,598.9 M95.9,556.7L2702.9,556.7 M113.3,514.6L2685.5,514.6 M136.5,472.5L2662.3,472.5 M164.7,430.5L2634.1,430.5 M198.8,388.8L2600,388.8 M236.7,347.7L2562.1,347.7 M280.8,307.4L2518,307.4 M329.5,268.2L2469.3,268.2 M381.6,230.3L2417.2,230.3 M436.7,194.2L2362.1,194.2 M497.5,160.1L2301.3,160.1 M567,129L2231.8,129 M632.8,104L2166,104" fill="none" stroke="#800080" stroke-opacity="0.38" stroke-width="1"/>
</g>
<path d="M2112.4,1447L2117,1445.8M2117,1445.8L2121.8,1444.6M2121.8,1444.6L2126.8,1443.2M2126.8,1443.2L2132,1441.7M2132,1441.7L2137.3,1440.1M2137.3,1440.1L2142.7,1438.4M2705.7,969.6L2707,965.4M2707,965.4L2708.3,961.2M2708.3,961.2L2709.5,957M2709.5,957L2710.7,952.8M2710.7,952.8L2711.8,948.6M2711.8,948.6L2713,944.4M2713,944.4L2714.1,940.2M2714.1,940.2L2715.3,935.9M2715.3,935.9L2716.4,931.7M2716.4,931.7L2717.5,927.5M2717.5,927.5L2718.6,923.3M2718.6,923.3L2719.7,919.1M2719.7,919.1L2720.7,914.9M2720.7,914.9L2721.8,910.7M2721.8,910.7L2722.8,906.4M2722.8,906.4L2723.8,902.2M2723.8,902.2L2724.8,898M2724.8,898L2725.7,893.8M2725.7,893.8L2726.6,889.6M2726.6,889.6L2727.4,885.4M2727.4,885.4L2728.2,881.2M2728.2,881.2L2729,877M2729,877L2729.8,872.7M2729.8,872.7L2730.5,868.5M2730.5,868.5L2731.1,864.3M2731.1,864.3L2731.8,860.1M2731.8,860.1L2732.4,855.9M2732.4,855.9L2732.9,851.7M2732.9,851.7L2733.5,847.5M2733.5,847.5L2734,843.2M2734,843.2L2734.5,839M2734.5,839L2734.9,834.8M2734.9,834.8L2735.4,830.6M2735.4,830.6L2735.8,826.4M2735.8,826.4L2736.2,822.2M2736.2,822.2L2736.5,818M2736.5,818L2736.9,813.7M2736.9,813.7L2737.2,809.5M2737.2,809.5L2737.5,805.3M2737.5,805.3L2737.8,801.1M2737.8,801.1L2738.1,796.9M2738.1,796.9L2738.3,792.7M2738.3,792.7L2738.6,788.5M2738.6,788.5L2738.7,784.3M2738.7,784.3L2738.9,780M2738.9,780L2739,775.8M2739,775.8L2739.1,771.6M2739.1,771.6L2739.1,767.4M2739.1,767.4L2739.1,763.2M2739.1,763.2L2739,759M2739,759L2738.9,754.8M2738.9,754.8L2738.7,750.5M2738.7,750.5L2738.6,746.3M2738.6,746.3L2738.3,742.1M2738.3,742.1L2738.1,737.9M2738.1,737.9L2737.8,733.7M2737.8,733.7L2737.5,729.5M2737.5,729.5L2737.2,725.3M2737.2,725.3L2736.9,721.1M2736.9,721.1L2736.5,716.8M2736.5,716.8L2736.2,712.6M2736.2,712.6L2735.8,708.4M2735.8,708.4L2735.4,704.2M2735.4,704.2L2734.9,700M2734.9,700L2734.5,695.8M2734.5,695.8L2734,691.6M2734,691.6L2733.5,687.3M2733.5,687.3L2732.9,683.1M2732.9,683.1L2732.4,678.9M2732.4,678.9L2731.8,674.7M2731.8,674.7L2731.1,670.5M2731.1,670.5L2730.5,666.3M2730.5,666.3L2729.8,662.1M2729.8,662.1L2729,657.8M2729,657.8L2728.2,653.6M2728.2,653.6L2727.4,649.4M2727.4,649.4L2726.6,645.2M2726.6,645.2L2725.7,641M2725.7,641L2724.8,636.8M2724.8,636.8L2723.8,632.6M2723.8,632.6L2722.8,628.4M2722.8,628.4L2721.8,624.1M2721.8,624.1L2720.7,619.9M2720.7,619.9L2719.7,615.7M2719.7,615.7L2718.6,611.5M2718.6,611.5L2717.5,607.3M2717.5,607.3L2716.4,603.1M2716.4,603.1L2715.3,598.9M2715.3,598.9L2714.1,594.6M2714.1,594.6L2713,590.4M2713,590.4L2711.8,586.2M2711.8,586.2L2710.7,582M2710.7,582L2709.5,577.8M2709.5,577.8L2708.3,573.6M2708.3,573.6L2707,569.4M2707,569.4L2705.7,565.2M2142.7,96.4L2137.3,94.7M2137.3,94.7L2132,93.1M2132,93.1L2126.8,91.6M2126.8,91.6L2121.8,90.2M2121.8,90.2L2117,89M2117,89L2112.4,87.8M686.4,1447L681.8,1445.8M681.8,1445.8L677,1444.6M677,1444.6L672,1443.2M672,1443.2L666.8,1441.7M666.8,1441.7L661.5,1440.1M661.5,1440.1L656.1,1438.4M93.1,969.6L91.8,965.4M91.8,965.4L90.5,961.2M90.5,961.2L89.3,957M89.3,957L88.1,952.8M88.1,952.8L87,948.6M87,948.6L85.8,944.4M85.8,944.4L84.7,940.2M84.7,940.2L83.5,935.9M83.5,935.9L82.4,931.7M82.4,931.7L81.3,927.5M81.3,927.5L80.2,923.3M80.2,923.3L79.1,919.1M79.1,919.1L78.1,914.9M78.1,914.9L77,910.7M77,910.7L76,906.4M76,906.4L75,902.2M75,902.2L74,898M74,898L73.1,893.8M73.1,893.8L72.2,889.6M72.2,889.6L71.4,885.4M71.4,885.4L70.6,881.2M70.6,881.2L69.8,877M69.8,877L69,872.7M69,872.7L68.3,868.5M68.3,868.5L67.7,864.3M67.7,864.3L67,860.1M67,860.1L66.4,855.9M66.4,855.9L65.9,851.7M65.9,851.7L65.3,847.5M65.3,847.5L64.8,843.2M64.8,843.2L64.3,839M64.3,839L63.9,834.8M63.9,834.8L63.4,830.6M63.4,830.6L63,826.4M63,826.4L62.6,822.2M62.6,822.2L62.3,818M62.3,818L61.9,813.7M61.9,813.7L61.6,809.5M61.6,809.5L61.3,805.3M61.3,805.3L61,801.1M61,801.1L60.7,796.9M60.7,796.9L60.5,792.7M60.5,792.7L60.2,788.5M60.2,788.5L60.1,784.3M60.1,784.3L59.9,780M59.9,780L59.8,775.8M59.8,775.8L59.7,771.6M59.7,771.6L59.7,767.4M59.7,767.4L59.7,763.2M59.7,763.2L59.8,759M59.8,759L59.9,754.8M59.9,754.8L60.1,750.5M60.1,750.5L60.2,746.3M60.2,746.3L60.5,742.1M60.5,742.1L60.7,737.9M60.7,737.9L61,733.7M61,733.7L61.3,729.5M61.3,729.5L61.6,725.3M61.6,725.3L61.9,721.1M61.9,721.1L62.3,716.8M62.3,716.8L62.6,712.6M62.6,712.6L63,708.4M63,708.4L63.4,704.2M63.4,704.2L63.9,700M63.9,700L64.3,695.8M64.3,695.8L64.8,691.6M64.8,691.6L65.3,687.3M65.3,687.3L65.9,683.1M65.9,683.1L66.4,678.9M66.4,678.9L67,674.7M67,674.7L67.7,670.5M67.7,670.5L68.3,666.3M68.3,666.3L69,662.1M69,662.1L69.8,657.8M69.8,657.8L70.6,653.6M70.6,653.6L71.4,649.4M71.4,649.4L72.2,645.2M72.2,645.2L73.1,641M73.1,641L74,636.8M74,636.8L75,632.6M75,632.6L76,628.4M76,628.4L77,624.1M77,624.1L78.1,619.9M78.1,619.9L79.1,615.7M79.1,615.7L80.2,611.5M80.2,611.5L81.3,607.3M81.3,607.3L82.4,603.1M82.4,603.1L83.5,598.9M83.5,598.9L84.7,594.6M84.7,594.6L85.8,590.4M85.8,590.4L87,586.2M87,586.2L88.1,582M88.1,582L89.3,577.8M89.3,577.8L90.5,573.6M90.5,573.6L91.8,569.4M91.8,569.4L93.1,565.2M656.1,96.4L661.5,94.7M661.5,94.7L666.8,93.1M666.8,93.1L672,91.6M672,91.6L677,90.2M677,90.2L681.8,89M681.8,89L686.4,87.8" fill="none" stroke="#000" stroke-width="3.4" stroke-linecap="round"/>
<path d="M2142.7,1438.4L2148.3,1436.6M2148.3,1436.6L2154.1,1434.8M2154.1,1434.8L2160,1432.8M2160,1432.8L2166,1430.8M2166,1430.8L2172.1,1428.6M2172.1,1428.6L2178.4,1426.4M2178.4,1426.4L2184.7,1424.1M2184.7,1424.1L2191.2,1421.7M2191.2,1421.7L2197.7,1419.2M2197.7,1419.2L2204.4,1416.7M2204.4,1416.7L2211.1,1414.1M2211.1,1414.1L2217.9,1411.4M2217.9,1411.4L2224.8,1408.6M2224.8,1408.6L2231.8,1405.8M2231.8,1405.8L2238.8,1402.9M2238.8,1402.9L2245.8,1400M2245.8,1400L2252.9,1397M2252.9,1397L2259.9,1393.9M2259.9,1393.9L2267,1390.8M2267,1390.8L2274,1387.6M2274,1387.6L2281,1384.5M2281,1384.5L2287.8,1381.2M2687.5,1016L2689.5,1011.8M2689.5,1011.8L2691.4,1007.6M2691.4,1007.6L2693.2,1003.4M2693.2,1003.4L2695,999.1M2695,999.1L2696.7,994.9M2696.7,994.9L2698.3,990.7M2698.3,990.7L2699.9,986.5M2699.9,986.5L2701.5,982.3M2701.5,982.3L2702.9,978.1M2702.9,978.1L2704.3,973.9M2704.3,973.9L2705.7,969.6M2705.7,565.2L2704.3,560.9M2704.3,560.9L2702.9,556.7M2702.9,556.7L2701.5,552.5M2701.5,552.5L2699.9,548.3M2699.9,548.3L2698.3,544.1M2698.3,544.1L2696.7,539.9M2696.7,539.9L2695,535.7M2695,535.7L2693.2,531.4M2693.2,531.4L2691.4,527.2M2691.4,527.2L2689.5,523M2689.5,523L2687.5,518.8M2287.8,153.6L2281,150.3M2281,150.3L2274,147.2M2274,147.2L2267,144M2267,144L2259.9,140.9M2259.9,140.9L2252.9,137.8M2252.9,137.8L2245.8,134.8M2245.8,134.8L2238.8,131.9M2238.8,131.9L2231.8,129M2231.8,129L2224.8,126.2M2224.8,126.2L2217.9,123.4M2217.9,123.4L2211.1,120.7M2211.1,120.7L2204.4,118.1M2204.4,118.1L2197.7,115.6M2197.7,115.6L2191.2,113.1M2191.2,113.1L2184.7,110.7M2184.7,110.7L2178.4,108.4M2178.4,108.4L2172.1,106.2M2172.1,106.2L2166,104M2166,104L2160,102M2160,102L2154.1,100M2154.1,100L2148.3,98.2M2148.3,98.2L2142.7,96.4M656.1,1438.4L650.5,1436.6M650.5,1436.6L644.7,1434.8M644.7,1434.8L638.8,1432.8M638.8,1432.8L632.8,1430.8M632.8,1430.8L626.7,1428.6M626.7,1428.6L620.4,1426.4M620.4,1426.4L614.1,1424.1M614.1,1424.1L607.6,1421.7M607.6,1421.7L601.1,1419.2M601.1,1419.2L594.4,1416.7M594.4,1416.7L587.7,1414.1M587.7,1414.1L580.9,1411.4M580.9,1411.4L574,1408.6M574,1408.6L567,1405.8M567,1405.8L560,1402.9M560,1402.9L553,1400M553,1400L545.9,1397M545.9,1397L538.9,1393.9M538.9,1393.9L531.8,1390.8M531.8,1390.8L524.8,1387.6M524.8,1387.6L517.8,1384.5M517.8,1384.5L511,1381.2M111.3,1016L109.3,1011.8M109.3,1011.8L107.4,1007.6M107.4,1007.6L105.6,1003.4M105.6,1003.4L103.8,999.1M103.8,999.1L102.1,994.9M102.1,994.9L100.5,990.7M100.5,990.7L98.9,986.5M98.9,986.5L97.3,982.3M97.3,982.3L95.9,978.1M95.9,978.1L94.5,973.9M94.5,973.9L93.1,969.6M93.1,565.2L94.5,560.9M94.5,560.9L95.9,556.7M95.9,556.7L97.3,552.5M97.3,552.5L98.9,548.3M98.9,548.3L100.5,544.1M100.5,544.1L102.1,539.9M102.1,539.9L103.8,535.7M103.8,535.7L105.6,531.4M105.6,531.4L107.4,527.2M107.4,527.2L109.3,523M109.3,523L111.3,518.8M511,153.6L517.8,150.3M517.8,150.3L524.8,147.2M524.8,147.2L531.8,144M531.8,144L538.9,140.9M538.9,140.9L545.9,137.8M545.9,137.8L553,134.8M553,134.8L560,131.9M560,131.9L567,129M567,129L574,126.2M574,126.2L580.9,123.4M580.9,123.4L587.7,120.7M587.7,120.7L594.4,118.1M594.4,118.1L601.1,115.6M601.1,115.6L607.6,113.1M607.6,113.1L614.1,110.7M614.1,110.7L620.4,108.4M620.4,108.4L626.7,106.2M626.7,106.2L632.8,104M632.8,104L638.8,102M638.8,102L644.7,100M644.7,100L650.5,98.2M650.5,98.2L656.1,96.4" fill="none" stroke="#000" stroke-width="3.2" stroke-linecap="round"/>
<path d="M2287.8,1381.2L2294.6,1378M2294.6,1378L2301.3,1374.7M2301.3,1374.7L2307.8,1371.4M2307.8,1371.4L2314.2,1368.1M2314.2,1368.1L2320.5,1364.7M2320.5,1364.7L2326.7,1361.3M2326.7,1361.3L2332.8,1357.9M2332.8,1357.9L2338.8,1354.5M2338.8,1354.5L2344.7,1351.1M2344.7,1351.1L2350.6,1347.6M2350.6,1347.6L2356.4,1344.1M2356.4,1344.1L2362.1,1340.6M2662.3,1062.3L2664.9,1058.1M2664.9,1058.1L2667.4,1053.9M2667.4,1053.9L2669.8,1049.7M2669.8,1049.7L2672.2,1045.5M2672.2,1045.5L2674.6,1041.3M2674.6,1041.3L2676.9,1037.1M2676.9,1037.1L2679.1,1032.9M2679.1,1032.9L2681.3,1028.6M2681.3,1028.6L2683.4,1024.4M2683.4,1024.4L2685.5,1020.2M2685.5,1020.2L2687.5,1016M2687.5,518.8L2685.5,514.6M2685.5,514.6L2683.4,510.4M2683.4,510.4L2681.3,506.2M2681.3,506.2L2679.1,501.9M2679.1,501.9L2676.9,497.7M2676.9,497.7L2674.6,493.5M2674.6,493.5L2672.2,489.3M2672.2,489.3L2669.8,485.1M2669.8,485.1L2667.4,480.9M2667.4,480.9L2664.9,476.7M2664.9,476.7L2662.3,472.5M2362.1,194.2L2356.4,190.7M2356.4,190.7L2350.6,187.2M2350.6,187.2L2344.7,183.7M2344.7,183.7L2338.8,180.3M2338.8,180.3L2332.8,176.9M2332.8,176.9L2326.7,173.5M2326.7,173.5L2320.5,170.1M2320.5,170.1L2314.2,166.7M2314.2,166.7L2307.8,163.4M2307.8,163.4L2301.3,160.1M2301.3,160.1L2294.6,156.8M2294.6,156.8L2287.8,153.6M511,1381.2L504.2,1378M504.2,1378L497.5,1374.7M497.5,1374.7L491,1371.4M491,1371.4L484.6,1368.1M484.6,1368.1L478.3,1364.7M478.3,1364.7L472.1,1361.3M472.1,1361.3L466,1357.9M466,1357.9L460,1354.5M460,1354.5L454.1,1351.1M454.1,1351.1L448.2,1347.6M448.2,1347.6L442.4,1344.1M442.4,1344.1L436.7,1340.6M136.5,1062.3L133.9,1058.1M133.9,1058.1L131.4,1053.9M131.4,1053.9L129,1049.7M129,1049.7L126.6,1045.5M126.6,1045.5L124.2,1041.3M124.2,1041.3L121.9,1037.1M121.9,1037.1L119.7,1032.9M119.7,1032.9L117.5,1028.6M117.5,1028.6L115.4,1024.4M115.4,1024.4L113.3,1020.2M113.3,1020.2L111.3,1016M111.3,518.8L113.3,514.6M113.3,514.6L115.4,510.4M115.4,510.4L117.5,506.2M117.5,506.2L119.7,501.9M119.7,501.9L121.9,497.7M121.9,497.7L124.2,493.5M124.2,493.5L126.6,489.3M126.6,489.3L129,485.1M129,485.1L131.4,480.9M131.4,480.9L133.9,476.7M133.9,476.7L136.5,472.5M436.7,194.2L442.4,190.7M442.4,190.7L448.2,187.2M448.2,187.2L454.1,183.7M454.1,183.7L460,180.3M460,180.3L466,176.9M466,176.9L472.1,173.5M472.1,173.5L478.3,170.1M478.3,170.1L484.6,166.7M484.6,166.7L491,163.4M491,163.4L497.5,160.1M497.5,160.1L504.2,156.8M504.2,156.8L511,153.6" fill="none" stroke="#000" stroke-width="3.0" stroke-linecap="round"/>
<path d="M2362.1,1340.6L2367.8,1337.1M2367.8,1337.1L2373.4,1333.6M2373.4,1333.6L2379,1330M2379,1330L2384.6,1326.4M2384.6,1326.4L2390.1,1322.8M2390.1,1322.8L2395.6,1319.2M2395.6,1319.2L2401,1315.5M2401,1315.5L2406.4,1311.9M2406.4,1311.9L2411.8,1308.2M2411.8,1308.2L2417.2,1304.5M2417.2,1304.5L2422.5,1300.8M2422.5,1300.8L2427.8,1297M2427.8,1297L2433.1,1293.3M2433.1,1293.3L2438.4,1289.5M2438.4,1289.5L2443.6,1285.7M2443.6,1285.7L2448.8,1282M2448.8,1282L2454,1278.1M2454,1278.1L2459.1,1274.3M2459.1,1274.3L2464.2,1270.5M2634.1,1104.3L2637.2,1100.2M2637.2,1100.2L2640.2,1096M2640.2,1096L2643.2,1091.8M2643.2,1091.8L2646.1,1087.6M2646.1,1087.6L2648.9,1083.4M2648.9,1083.4L2651.7,1079.2M2651.7,1079.2L2654.4,1075M2654.4,1075L2657.1,1070.8M2657.1,1070.8L2659.7,1066.6M2659.7,1066.6L2662.3,1062.3M2662.3,472.5L2659.7,468.2M2659.7,468.2L2657.1,464M2657.1,464L2654.4,459.8M2654.4,459.8L2651.7,455.6M2651.7,455.6L2648.9,451.4M2648.9,451.4L2646.1,447.2M2646.1,447.2L2643.2,443M2643.2,443L2640.2,438.8M2640.2,438.8L2637.2,434.6M2637.2,434.6L2634.1,430.5M2464.2,264.3L2459.1,260.5M2459.1,260.5L2454,256.7M2454,256.7L2448.8,252.8M2448.8,252.8L2443.6,249.1M2443.6,249.1L2438.4,245.3M2438.4,245.3L2433.1,241.5M2433.1,241.5L2427.8,237.8M2427.8,237.8L2422.5,234M2422.5,234L2417.2,230.3M2417.2,230.3L2411.8,226.6M2411.8,226.6L2406.4,222.9M2406.4,222.9L2401,219.3M2401,219.3L2395.6,215.6M2395.6,215.6L2390.1,212M2390.1,212L2384.6,208.4M2384.6,208.4L2379,204.8M2379,204.8L2373.4,201.2M2373.4,201.2L2367.8,197.7M2367.8,197.7L2362.1,194.2M436.7,1340.6L431,1337.1M431,1337.1L425.4,1333.6M425.4,1333.6L419.8,1330M419.8,1330L414.2,1326.4M414.2,1326.4L408.7,1322.8M408.7,1322.8L403.2,1319.2M403.2,1319.2L397.8,1315.5M397.8,1315.5L392.4,1311.9M392.4,1311.9L387,1308.2M387,1308.2L381.6,1304.5M381.6,1304.5L376.3,1300.8M376.3,1300.8L371,1297M371,1297L365.7,1293.3M365.7,1293.3L360.4,1289.5M360.4,1289.5L355.2,1285.7M355.2,1285.7L350,1282M350,1282L344.8,1278.1M344.8,1278.1L339.7,1274.3M339.7,1274.3L334.6,1270.5M164.7,1104.3L161.6,1100.2M161.6,1100.2L158.6,1096M158.6,1096L155.6,1091.8M155.6,1091.8L152.7,1087.6M152.7,1087.6L149.9,1083.4M149.9,1083.4L147.1,1079.2M147.1,1079.2L144.4,1075M144.4,1075L141.7,1070.8M141.7,1070.8L139.1,1066.6M139.1,1066.6L136.5,1062.3M136.5,472.5L139.1,468.2M139.1,468.2L141.7,464M141.7,464L144.4,459.8M144.4,459.8L147.1,455.6M147.1,455.6L149.9,451.4M149.9,451.4L152.7,447.2M152.7,447.2L155.6,443M155.6,443L158.6,438.8M158.6,438.8L161.6,434.6M161.6,434.6L164.7,430.5M334.6,264.3L339.7,260.5M339.7,260.5L344.8,256.7M344.8,256.7L350,252.8M350,252.8L355.2,249.1M355.2,249.1L360.4,245.3M360.4,245.3L365.7,241.5M365.7,241.5L371,237.8M371,237.8L376.3,234M376.3,234L381.6,230.3M381.6,230.3L387,226.6M387,226.6L392.4,222.9M392.4,222.9L397.8,219.3M397.8,219.3L403.2,215.6M403.2,215.6L408.7,212M408.7,212L414.2,208.4M414.2,208.4L419.8,204.8M419.8,204.8L425.4,201.2M425.4,201.2L431,197.7M431,197.7L436.7,194.2" fill="none" stroke="#000" stroke-width="2.8" stroke-linecap="round"/>
<path d="M2464.2,1270.5L2469.3,1266.6M2469.3,1266.6L2474.3,1262.8M2474.3,1262.8L2479.3,1258.9M2479.3,1258.9L2484.3,1255M2484.3,1255L2489.2,1251.1M2489.2,1251.1L2494.1,1247.2M2494.1,1247.2L2499,1243.3M2499,1243.3L2503.8,1239.3M2503.8,1239.3L2508.6,1235.4M2508.6,1235.4L2513.4,1231.4M2513.4,1231.4L2518,1227.4M2518,1227.4L2522.7,1223.4M2522.7,1223.4L2527.3,1219.4M2527.3,1219.4L2531.9,1215.4M2531.9,1215.4L2536.4,1211.4M2536.4,1211.4L2540.8,1207.4M2581.7,1166.6L2585.4,1162.5M2585.4,1162.5L2589.1,1158.4M2589.1,1158.4L2592.8,1154.3M2592.8,1154.3L2596.4,1150.1M2596.4,1150.1L2600,1146M2600,1146L2603.6,1141.9M2603.6,1141.9L2607.2,1137.7M2607.2,1137.7L2610.7,1133.6M2610.7,1133.6L2614.2,1129.4M2614.2,1129.4L2617.6,1125.2M2617.6,1125.2L2621,1121.1M2621,1121.1L2624.4,1116.9M2624.4,1116.9L2627.7,1112.7M2627.7,1112.7L2630.9,1108.5M2630.9,1108.5L2634.1,1104.3M2634.1,430.5L2630.9,426.3M2630.9,426.3L2627.7,422.1M2627.7,422.1L2624.4,417.9M2624.4,417.9L2621,413.7M2621,413.7L2617.6,409.6M2617.6,409.6L2614.2,405.4M2614.2,405.4L2610.7,401.2M2610.7,401.2L2607.2,397.1M2607.2,397.1L2603.6,392.9M2603.6,392.9L2600,388.8M2600,388.8L2596.4,384.7M2596.4,384.7L2592.8,380.5M2592.8,380.5L2589.1,376.4M2589.1,376.4L2585.4,372.3M2585.4,372.3L2581.7,368.2M2540.8,327.4L2536.4,323.4M2536.4,323.4L2531.9,319.4M2531.9,319.4L2527.3,315.4M2527.3,315.4L2522.7,311.4M2522.7,311.4L2518,307.4M2518,307.4L2513.4,303.4M2513.4,303.4L2508.6,299.4M2508.6,299.4L2503.8,295.5M2503.8,295.5L2499,291.5M2499,291.5L2494.1,287.6M2494.1,287.6L2489.2,283.7M2489.2,283.7L2484.3,279.8M2484.3,279.8L2479.3,275.9M2479.3,275.9L2474.3,272M2474.3,272L2469.3,268.2M2469.3,268.2L2464.2,264.3M334.6,1270.5L329.5,1266.6M329.5,1266.6L324.5,1262.8M324.5,1262.8L319.5,1258.9M319.5,1258.9L314.5,1255M314.5,1255L309.6,1251.1M309.6,1251.1L304.7,1247.2M304.7,1247.2L299.8,1243.3M299.8,1243.3L295,1239.3M295,1239.3L290.2,1235.4M290.2,1235.4L285.4,1231.4M285.4,1231.4L280.8,1227.4M280.8,1227.4L276.1,1223.4M276.1,1223.4L271.5,1219.4M271.5,1219.4L266.9,1215.4M266.9,1215.4L262.4,1211.4M262.4,1211.4L258,1207.4M217.1,1166.6L213.4,1162.5M213.4,1162.5L209.7,1158.4M209.7,1158.4L206,1154.3M206,1154.3L202.4,1150.1M202.4,1150.1L198.8,1146M198.8,1146L195.2,1141.9M195.2,1141.9L191.6,1137.7M191.6,1137.7L188.1,1133.6M188.1,1133.6L184.6,1129.4M184.6,1129.4L181.2,1125.2M181.2,1125.2L177.8,1121.1M177.8,1121.1L174.4,1116.9M174.4,1116.9L171.1,1112.7M171.1,1112.7L167.9,1108.5M167.9,1108.5L164.7,1104.3M164.7,430.5L167.9,426.3M167.9,426.3L171.1,422.1M171.1,422.1L174.4,417.9M174.4,417.9L177.8,413.7M177.8,413.7L181.2,409.6M181.2,409.6L184.6,405.4M184.6,405.4L188.1,401.2M188.1,401.2L191.6,397.1M191.6,397.1L195.2,392.9M195.2,392.9L198.8,388.8M198.8,388.8L202.4,384.7M202.4,384.7L206,380.5M206,380.5L209.7,376.4M209.7,376.4L213.4,372.3M213.4,372.3L217.1,368.2M258,327.4L262.4,323.4M262.4,323.4L266.9,319.4M266.9,319.4L271.5,315.4M271.5,315.4L276.1,311.4M276.1,311.4L280.8,307.4M280.8,307.4L285.4,303.4M285.4,303.4L290.2,299.4M290.2,299.4L295,295.5M295,295.5L299.8,291.5M299.8,291.5L304.7,287.6M304.7,287.6L309.6,283.7M309.6,283.7L314.5,279.8M314.5,279.8L319.5,275.9M319.5,275.9L324.5,272M324.5,272L329.5,268.2M329.5,268.2L334.6,264.3" fill="none" stroke="#000" stroke-width="2.6" stroke-linecap="round"/>
<path d="M2540.8,1207.4L2545.2,1203.4M2545.2,1203.4L2549.6,1199.3M2549.6,1199.3L2553.8,1195.3M2553.8,1195.3L2558,1191.2M2558,1191.2L2562.1,1187.1M2562.1,1187.1L2566.2,1183M2566.2,1183L2570.1,1179M2570.1,1179L2574.1,1174.9M2574.1,1174.9L2577.9,1170.8M2577.9,1170.8L2581.7,1166.6M2581.7,368.2L2577.9,364M2577.9,364L2574.1,359.9M2574.1,359.9L2570.1,355.8M2570.1,355.8L2566.2,351.8M2566.2,351.8L2562.1,347.7M2562.1,347.7L2558,343.6M2558,343.6L2553.8,339.5M2553.8,339.5L2549.6,335.5M2549.6,335.5L2545.2,331.4M2545.2,331.4L2540.8,327.4M258,1207.4L253.6,1203.4M253.6,1203.4L249.2,1199.3M249.2,1199.3L245,1195.3M245,1195.3L240.8,1191.2M240.8,1191.2L236.7,1187.1M236.7,1187.1L232.6,1183M232.6,1183L228.7,1179M228.7,1179L224.7,1174.9M224.7,1174.9L220.9,1170.8M220.9,1170.8L217.1,1166.6M217.1,368.2L220.9,364M220.9,364L224.7,359.9M224.7,359.9L228.7,355.8M228.7,355.8L232.6,351.8M232.6,351.8L236.7,347.7M236.7,347.7L240.8,343.6M240.8,343.6L245,339.5M245,339.5L249.2,335.5M249.2,335.5L253.6,331.4M253.6,331.4L258,327.4" fill="none" stroke="#000" stroke-width="2.4" stroke-linecap="round"/>
<path d="M686.4,87.8H2112.4M686.4,1447H2112.4" fill="none" stroke="#000" stroke-width="3.6" stroke-linecap="round"/>
<g stroke="#000" stroke-width="1"><rect x="1245.5" y="209.5" width="6" height="6" fill="#6060ff"/><rect x="1273.5" y="209.5" width="6" height="6" fill="#cdcdff"/><rect x="1121.5" y="246.5" width="6" height="6" fill="#2020ff"/><rect x="1237.5" y="246.5" width="6" height="6" fill="#ffecec"/><rect x="1266.5" y="246.5" width="6" height="6" fill="#ffecec"/><rect x="1382.5" y="246.5" width="6" height="6" fill="#ffdbdb"/><rect x="1016.5" y="285.5" width="6" height="6" fill="#cdcdff"/><rect x="1047.5" y="285.5" width="6" height="6" fill="#ececff"/><rect x="1138.5" y="285.5" width="6" height="6" fill="#f7f7ff"/><rect x="1168.5" y="285.5" width="6" height="6" fill="#ffffff"/><rect x="1199.5" y="285.5" width="6" height="6" fill="#ffecec"/><rect x="1229.5" y="285.5" width="6" height="6" fill="#ffecec"/><rect x="1260.5" y="285.5" width="6" height="6" fill="#ffecec"/><rect x="1290.5" y="285.5" width="6" height="6" fill="#ffecec"/><rect x="1320.5" y="285.5" width="6" height="6" fill="#ffecec"/><rect x="1351.5" y="285.5" width="6" height="6" fill="#ffecec"/><rect x="1381.5" y="285.5" width="6" height="6" fill="#ffecec"/><rect x="1412.5" y="285.5" width="6" height="6" fill="#ffecec"/><rect x="1442.5" y="285.5" width="6" height="6" fill="#ffdbdb"/><rect x="1472.5" y="285.5" width="6" height="6" fill="#ffdbdb"/><rect x="1503.5" y="285.5" width="6" height="6" fill="#ffdbdb"/><rect x="1032.5" y="324.5" width="6" height="6" fill="#4040ff"/><rect x="1063.5" y="324.5" width="6" height="6" fill="#f7f7ff"/><rect x="1095.5" y="324.5" width="6" height="6" fill="#f7f7ff"/><rect x="1127.5" y="324.5" width="6" height="6" fill="#ececff"/><rect x="1190.5" y="324.5" width="6" height="6" fill="#dedeff"/><rect x="1222.5" y="324.5" width="6" height="6" fill="#dedeff"/><rect x="1254.5" y="324.5" width="6" height="6" fill="#dedeff"/><rect x="1285.5" y="324.5" width="6" height="6" fill="#dedeff"/><rect x="1317.5" y="324.5" width="6" height="6" fill="#dedeff"/><rect x="1349.5" y="324.5" width="6" height="6" fill="#dedeff"/><rect x="1381.5" y="324.5" width="6" height="6" fill="#dedeff"/><rect x="1412.5" y="324.5" width="6" height="6" fill="#f7f7ff"/><rect x="231.5" y="365.5" width="6" height="6" fill="#c0c0ff"/><rect x="263.5" y="365.5" width="6" height="6" fill="#5050ff"/><rect x="296.5" y="365.5" width="6" height="6" fill="#9090ff"/><rect x="329.5" y="365.5" width="6" height="6" fill="#b0b0ff"/><rect x="362.5" y="365.5" width="6" height="6" fill="#ffc8c8"/><rect x="395.5" y="365.5" width="6" height="6" fill="#ffafaf"/><rect x="428.5" y="365.5" width="6" height="6" fill="#ffafaf"/><rect x="460.5" y="365.5" width="6" height="6" fill="#ffafaf"/><rect x="1084.5" y="365.5" width="6" height="6" fill="#fff7f7"/><rect x="1117.5" y="365.5" width="6" height="6" fill="#ffffff"/><rect x="1150.5" y="365.5" width="6" height="6" fill="#ececff"/><rect x="1183.5" y="365.5" width="6" height="6" fill="#dedeff"/><rect x="1216.5" y="365.5" width="6" height="6" fill="#dedeff"/><rect x="1249.5" y="365.5" width="6" height="6" fill="#cdcdff"/><rect x="1281.5" y="365.5" width="6" height="6" fill="#cdcdff"/><rect x="1314.5" y="365.5" width="6" height="6" fill="#cdcdff"/><rect x="1347.5" y="365.5" width="6" height="6" fill="#dedeff"/><rect x="1380.5" y="365.5" width="6" height="6" fill="#cdcdff"/><rect x="2464.5" y="365.5" width="6" height="6" fill="#f7f7ff"/><rect x="2497.5" y="365.5" width="6" height="6" fill="#ffffff"/><rect x="2529.5" y="365.5" width="6" height="6" fill="#ffffff"/><rect x="2562.5" y="365.5" width="6" height="6" fill="#ffffff"/><rect x="195.5" y="407.5" width="6" height="6" fill="#ffecec"/><rect x="229.5" y="407.5" width="6" height="6" fill="#ffdbdb"/><rect x="263.5" y="407.5" width="6" height="6" fill="#ffc8c8"/><rect x="297.5" y="407.5" width="6" height="6" fill="#ffafaf"/><rect x="330.5" y="407.5" width="6" height="6" fill="#ff9393"/><rect x="364.5" y="407.5" width="6" height="6" fill="#ff5050"/><rect x="398.5" y="407.5" width="6" height="6" fill="#ff5050"/><rect x="432.5" y="407.5" width="6" height="6" fill="#ff9393"/><rect x="466.5" y="407.5" width="6" height="6" fill="#ffafaf"/><rect x="500.5" y="407.5" width="6" height="6" fill="#ffc8c8"/><rect x="533.5" y="407.5" width="6" height="6" fill="#ffecec"/><rect x="906.5" y="407.5" width="6" height="6" fill="#f7f7ff"/><rect x="940.5" y="407.5" width="6" height="6" fill="#ffecec"/><rect x="973.5" y="407.5" width="6" height="6" fill="#ff7070"/><rect x="1007.5" y="407.5" width="6" height="6" fill="#ff8080"/><rect x="1041.5" y="407.5" width="6" height="6" fill="#ffc8c8"/><rect x="1075.5" y="407.5" width="6" height="6" fill="#ffdbdb"/><rect x="1109.5" y="407.5" width="6" height="6" fill="#ffecec"/><rect x="1143.5" y="407.5" width="6" height="6" fill="#ffecec"/><rect x="1176.5" y="407.5" width="6" height="6" fill="#ffffff"/><rect x="1210.5" y="407.5" width="6" height="6" fill="#ececff"/><rect x="1244.5" y="407.5" width="6" height="6" fill="#dedeff"/><rect x="1278.5" y="407.5" width="6" height="6" fill="#dedeff"/><rect x="1312.5" y="407.5" width="6" height="6" fill="#dedeff"/><rect x="1346.5" y="407.5" width="6" height="6" fill="#babaff"/><rect x="1413.5" y="407.5" width="6" height="6" fill="#babaff"/><rect x="1447.5" y="407.5" width="6" height="6" fill="#dedeff"/><rect x="1481.5" y="407.5" width="6" height="6" fill="#f7f7ff"/><rect x="2429.5" y="407.5" width="6" height="6" fill="#ff1010"/><rect x="2462.5" y="407.5" width="6" height="6" fill="#ececff"/><rect x="2496.5" y="407.5" width="6" height="6" fill="#ececff"/><rect x="2530.5" y="407.5" width="6" height="6" fill="#ffecec"/><rect x="2564.5" y="407.5" width="6" height="6" fill="#ffecec"/><rect x="2598.5" y="407.5" width="6" height="6" fill="#ffecec"/><rect x="303.5" y="448.5" width="6" height="6" fill="#ff9393"/><rect x="338.5" y="448.5" width="6" height="6" fill="#ff6f6f"/><rect x="442.5" y="448.5" width="6" height="6" fill="#ffafaf"/><rect x="477.5" y="448.5" width="6" height="6" fill="#ffdbdb"/><rect x="511.5" y="448.5" width="6" height="6" fill="#fff7f7"/><rect x="546.5" y="448.5" width="6" height="6" fill="#ececff"/><rect x="893.5" y="448.5" width="6" height="6" fill="#ffecec"/><rect x="928.5" y="448.5" width="6" height="6" fill="#ffdbdb"/><rect x="963.5" y="448.5" width="6" height="6" fill="#ffc8c8"/><rect x="997.5" y="448.5" width="6" height="6" fill="#ffc8c8"/><rect x="1032.5" y="448.5" width="6" height="6" fill="#ffc8c8"/><rect x="1067.5" y="448.5" width="6" height="6" fill="#ffc8c8"/><rect x="1101.5" y="448.5" width="6" height="6" fill="#ffdbdb"/><rect x="1136.5" y="448.5" width="6" height="6" fill="#ffdbdb"/><rect x="1171.5" y="448.5" width="6" height="6" fill="#ffecec"/><rect x="1206.5" y="448.5" width="6" height="6" fill="#ffecec"/><rect x="1240.5" y="448.5" width="6" height="6" fill="#ffecec"/><rect x="1275.5" y="448.5" width="6" height="6" fill="#ffecec"/><rect x="1310.5" y="448.5" width="6" height="6" fill="#f7f7ff"/><rect x="1344.5" y="448.5" width="6" height="6" fill="#dedeff"/><rect x="1379.5" y="448.5" width="6" height="6" fill="#cdcdff"/><rect x="1414.5" y="448.5" width="6" height="6" fill="#f7f7ff"/><rect x="1448.5" y="448.5" width="6" height="6" fill="#f7f7ff"/><rect x="1483.5" y="448.5" width="6" height="6" fill="#ffecec"/><rect x="1518.5" y="448.5" width="6" height="6" fill="#ffdbdb"/><rect x="1553.5" y="448.5" width="6" height="6" fill="#ffecec"/><rect x="2281.5" y="448.5" width="6" height="6" fill="#dedeff"/><rect x="2351.5" y="448.5" width="6" height="6" fill="#ececff"/><rect x="2386.5" y="448.5" width="6" height="6" fill="#ececff"/><rect x="2420.5" y="448.5" width="6" height="6" fill="#ececff"/><rect x="2455.5" y="448.5" width="6" height="6" fill="#4040ff"/><rect x="2490.5" y="448.5" width="6" height="6" fill="#ececff"/><rect x="2524.5" y="448.5" width="6" height="6" fill="#ffffff"/><rect x="245.5" y="491.5" width="6" height="6" fill="#ffc8c8"/><rect x="281.5" y="491.5" width="6" height="6" fill="#ffc8c8"/><rect x="387.5" y="491.5" width="6" height="6" fill="#ffc8c8"/><rect x="422.5" y="491.5" width="6" height="6" fill="#ffc8c8"/><rect x="529.5" y="491.5" width="6" height="6" fill="#f7f7ff"/><rect x="847.5" y="491.5" width="6" height="6" fill="#f7f7ff"/><rect x="883.5" y="491.5" width="6" height="6" fill="#ffecec"/><rect x="1060.5" y="491.5" width="6" height="6" fill="#ffdbdb"/><rect x="1095.5" y="491.5" width="6" height="6" fill="#ffdbdb"/><rect x="1131.5" y="491.5" width="6" height="6" fill="#ffecec"/><rect x="1237.5" y="491.5" width="6" height="6" fill="#ffecec"/><rect x="1272.5" y="491.5" width="6" height="6" fill="#ffecec"/><rect x="1308.5" y="491.5" width="6" height="6" fill="#ffecec"/><rect x="1520.5" y="491.5" width="6" height="6" fill="#f7f7ff"/><rect x="1556.5" y="491.5" width="6" height="6" fill="#f7f7ff"/><rect x="1591.5" y="491.5" width="6" height="6" fill="#ececff"/><rect x="1627.5" y="491.5" width="6" height="6" fill="#ececff"/><rect x="2300.5" y="491.5" width="6" height="6" fill="#dedeff"/><rect x="2335.5" y="491.5" width="6" height="6" fill="#dedeff"/><rect x="2370.5" y="491.5" width="6" height="6" fill="#dedeff"/><rect x="2406.5" y="491.5" width="6" height="6" fill="#ececff"/><rect x="227.5" y="533.5" width="6" height="6" fill="#ffecec"/><rect x="407.5" y="533.5" width="6" height="6" fill="#ececff"/><rect x="443.5" y="533.5" width="6" height="6" fill="#f7f7ff"/><rect x="515.5" y="533.5" width="6" height="6" fill="#dedeff"/><rect x="1019.5" y="533.5" width="6" height="6" fill="#ffecec"/><rect x="1055.5" y="533.5" width="6" height="6" fill="#fff7f7"/><rect x="1091.5" y="533.5" width="6" height="6" fill="#ffffff"/><rect x="1126.5" y="533.5" width="6" height="6" fill="#ffffff"/><rect x="1234.5" y="533.5" width="6" height="6" fill="#ffecec"/><rect x="1270.5" y="533.5" width="6" height="6" fill="#ffecec"/><rect x="1630.5" y="533.5" width="6" height="6" fill="#babaff"/><rect x="1666.5" y="533.5" width="6" height="6" fill="#babaff"/><rect x="2314.5" y="533.5" width="6" height="6" fill="#f7f7ff"/><rect x="2350.5" y="533.5" width="6" height="6" fill="#f7f7ff"/><rect x="214.5" y="575.5" width="6" height="6" fill="#ffffff"/><rect x="468.5" y="575.5" width="6" height="6" fill="#ececff"/><rect x="505.5" y="575.5" width="6" height="6" fill="#ececff"/><rect x="541.5" y="575.5" width="6" height="6" fill="#ececff"/><rect x="614.5" y="575.5" width="6" height="6" fill="#dedeff"/><rect x="978.5" y="575.5" width="6" height="6" fill="#ececff"/><rect x="1014.5" y="575.5" width="6" height="6" fill="#ececff"/><rect x="1123.5" y="575.5" width="6" height="6" fill="#dedeff"/><rect x="1160.5" y="575.5" width="6" height="6" fill="#cdcdff"/><rect x="1196.5" y="575.5" width="6" height="6" fill="#ececff"/><rect x="1233.5" y="575.5" width="6" height="6" fill="#ffecec"/><rect x="1269.5" y="575.5" width="6" height="6" fill="#ffecec"/><rect x="1669.5" y="575.5" width="6" height="6" fill="#cdcdff"/><rect x="204.5" y="617.5" width="6" height="6" fill="#dedeff"/><rect x="497.5" y="617.5" width="6" height="6" fill="#f7f7ff"/><rect x="534.5" y="617.5" width="6" height="6" fill="#f7f7ff"/><rect x="571.5" y="617.5" width="6" height="6" fill="#f7f7ff"/><rect x="607.5" y="617.5" width="6" height="6" fill="#dedeff"/><rect x="974.5" y="617.5" width="6" height="6" fill="#ececff"/><rect x="1121.5" y="617.5" width="6" height="6" fill="#cdcdff"/><rect x="1158.5" y="617.5" width="6" height="6" fill="#cdcdff"/><rect x="1195.5" y="617.5" width="6" height="6" fill="#ececff"/><rect x="1231.5" y="617.5" width="6" height="6" fill="#ffffff"/><rect x="1268.5" y="617.5" width="6" height="6" fill="#ffecec"/><rect x="1672.5" y="617.5" width="6" height="6" fill="#babaff"/><rect x="1708.5" y="617.5" width="6" height="6" fill="#babaff"/><rect x="2039.5" y="617.5" width="6" height="6" fill="#f7f7ff"/><rect x="195.5" y="659.5" width="6" height="6" fill="#cdcdff"/><rect x="491.5" y="659.5" width="6" height="6" fill="#f7f7ff"/><rect x="528.5" y="659.5" width="6" height="6" fill="#f7f7ff"/><rect x="565.5" y="659.5" width="6" height="6" fill="#ececff"/><rect x="934.5" y="659.5" width="6" height="6" fill="#dedeff"/><rect x="971.5" y="659.5" width="6" height="6" fill="#dedeff"/><rect x="1156.5" y="659.5" width="6" height="6" fill="#f7f7ff"/><rect x="1193.5" y="659.5" width="6" height="6" fill="#f7f7ff"/><rect x="1230.5" y="659.5" width="6" height="6" fill="#f7f7ff"/><rect x="1267.5" y="659.5" width="6" height="6" fill="#fff7f7"/><rect x="1711.5" y="659.5" width="6" height="6" fill="#a7a7ff"/><rect x="1747.5" y="659.5" width="6" height="6" fill="#babaff"/><rect x="1784.5" y="659.5" width="6" height="6" fill="#ececff"/><rect x="1821.5" y="659.5" width="6" height="6" fill="#ececff"/><rect x="1858.5" y="659.5" width="6" height="6" fill="#ececff"/><rect x="1895.5" y="659.5" width="6" height="6" fill="#f7f7ff"/><rect x="2043.5" y="659.5" width="6" height="6" fill="#ececff"/><rect x="2080.5" y="659.5" width="6" height="6" fill="#ececff"/><rect x="227.5" y="701.5" width="6" height="6" fill="#cdcdff"/><rect x="487.5" y="701.5" width="6" height="6" fill="#dedeff"/><rect x="524.5" y="701.5" width="6" height="6" fill="#cdcdff"/><rect x="561.5" y="701.5" width="6" height="6" fill="#dedeff"/><rect x="1118.5" y="701.5" width="6" height="6" fill="#ececff"/><rect x="1155.5" y="701.5" width="6" height="6" fill="#ececff"/><rect x="1192.5" y="701.5" width="6" height="6" fill="#ececff"/><rect x="1229.5" y="701.5" width="6" height="6" fill="#ececff"/><rect x="1267.5" y="701.5" width="6" height="6" fill="#ececff"/><rect x="1304.5" y="701.5" width="6" height="6" fill="#ffecec"/><rect x="1786.5" y="701.5" width="6" height="6" fill="#f7f7ff"/><rect x="1860.5" y="701.5" width="6" height="6" fill="#ececff"/><rect x="1897.5" y="701.5" width="6" height="6" fill="#f7f7ff"/><rect x="1935.5" y="701.5" width="6" height="6" fill="#f7f7ff"/><rect x="1972.5" y="701.5" width="6" height="6" fill="#ececff"/><rect x="2009.5" y="701.5" width="6" height="6" fill="#dedeff"/><rect x="2046.5" y="701.5" width="6" height="6" fill="#ececff"/><rect x="2083.5" y="701.5" width="6" height="6" fill="#dedeff"/><rect x="2120.5" y="701.5" width="6" height="6" fill="#ececff"/><rect x="2157.5" y="701.5" width="6" height="6" fill="#ffffff"/><rect x="2194.5" y="701.5" width="6" height="6" fill="#ececff"/><rect x="187.5" y="743.5" width="6" height="6" fill="#cdcdff"/><rect x="225.5" y="743.5" width="6" height="6" fill="#cdcdff"/><rect x="485.5" y="743.5" width="6" height="6" fill="#cdcdff"/><rect x="522.5" y="743.5" width="6" height="6" fill="#babaff"/><rect x="1043.5" y="743.5" width="6" height="6" fill="#dedeff"/><rect x="1080.5" y="743.5" width="6" height="6" fill="#dedeff"/><rect x="1117.5" y="743.5" width="6" height="6" fill="#dedeff"/><rect x="1155.5" y="743.5" width="6" height="6" fill="#cdcdff"/><rect x="1192.5" y="743.5" width="6" height="6" fill="#cdcdff"/><rect x="1229.5" y="743.5" width="6" height="6" fill="#dedeff"/><rect x="1266.5" y="743.5" width="6" height="6" fill="#dedeff"/><rect x="1303.5" y="743.5" width="6" height="6" fill="#dedeff"/><rect x="1341.5" y="743.5" width="6" height="6" fill="#cdcdff"/><rect x="1378.5" y="743.5" width="6" height="6" fill="#babaff"/><rect x="1415.5" y="743.5" width="6" height="6" fill="#babaff"/><rect x="1452.5" y="743.5" width="6" height="6" fill="#cdcdff"/><rect x="1787.5" y="743.5" width="6" height="6" fill="#ffecec"/><rect x="1824.5" y="743.5" width="6" height="6" fill="#ffffff"/><rect x="1861.5" y="743.5" width="6" height="6" fill="#ececff"/><rect x="1899.5" y="743.5" width="6" height="6" fill="#ececff"/><rect x="1973.5" y="743.5" width="6" height="6" fill="#ececff"/><rect x="2010.5" y="743.5" width="6" height="6" fill="#ececff"/><rect x="2047.5" y="743.5" width="6" height="6" fill="#ececff"/><rect x="2085.5" y="743.5" width="6" height="6" fill="#f7f7ff"/><rect x="2122.5" y="743.5" width="6" height="6" fill="#f7f7ff"/><rect x="2159.5" y="743.5" width="6" height="6" fill="#ffecec"/><rect x="2196.5" y="743.5" width="6" height="6" fill="#f7f7ff"/><rect x="187.5" y="785.5" width="6" height="6" fill="#cdcdff"/><rect x="522.5" y="785.5" width="6" height="6" fill="#8080ff"/><rect x="559.5" y="785.5" width="6" height="6" fill="#babaff"/><rect x="1155.5" y="785.5" width="6" height="6" fill="#dedeff"/><rect x="1192.5" y="785.5" width="6" height="6" fill="#dedeff"/><rect x="1229.5" y="785.5" width="6" height="6" fill="#dedeff"/><rect x="1266.5" y="785.5" width="6" height="6" fill="#dedeff"/><rect x="1378.5" y="785.5" width="6" height="6" fill="#a7a7ff"/><rect x="1415.5" y="785.5" width="6" height="6" fill="#babaff"/><rect x="1452.5" y="785.5" width="6" height="6" fill="#cdcdff"/><rect x="1824.5" y="785.5" width="6" height="6" fill="#ffa0a0"/><rect x="1861.5" y="785.5" width="6" height="6" fill="#ffffff"/><rect x="1899.5" y="785.5" width="6" height="6" fill="#ffffff"/><rect x="1936.5" y="785.5" width="6" height="6" fill="#ffffff"/><rect x="1973.5" y="785.5" width="6" height="6" fill="#f7f7ff"/><rect x="2010.5" y="785.5" width="6" height="6" fill="#ececff"/><rect x="2047.5" y="785.5" width="6" height="6" fill="#ececff"/><rect x="2085.5" y="785.5" width="6" height="6" fill="#f7f7ff"/><rect x="2122.5" y="785.5" width="6" height="6" fill="#ffffff"/><rect x="190.5" y="828.5" width="6" height="6" fill="#dedeff"/><rect x="227.5" y="828.5" width="6" height="6" fill="#dedeff"/><rect x="561.5" y="828.5" width="6" height="6" fill="#cdcdff"/><rect x="599.5" y="828.5" width="6" height="6" fill="#ececff"/><rect x="636.5" y="828.5" width="6" height="6" fill="#ececff"/><rect x="1155.5" y="828.5" width="6" height="6" fill="#ececff"/><rect x="1192.5" y="828.5" width="6" height="6" fill="#ececff"/><rect x="1229.5" y="828.5" width="6" height="6" fill="#ececff"/><rect x="1267.5" y="828.5" width="6" height="6" fill="#dedeff"/><rect x="1304.5" y="828.5" width="6" height="6" fill="#cdcdff"/><rect x="1452.5" y="828.5" width="6" height="6" fill="#cdcdff"/><rect x="1489.5" y="828.5" width="6" height="6" fill="#ececff"/><rect x="2083.5" y="828.5" width="6" height="6" fill="#f7f7ff"/><rect x="2120.5" y="828.5" width="6" height="6" fill="#ffb0b0"/><rect x="2157.5" y="828.5" width="6" height="6" fill="#ffb0b0"/><rect x="2194.5" y="828.5" width="6" height="6" fill="#dedeff"/><rect x="2306.5" y="828.5" width="6" height="6" fill="#ececff"/><rect x="2343.5" y="828.5" width="6" height="6" fill="#ececff"/><rect x="2380.5" y="828.5" width="6" height="6" fill="#ececff"/><rect x="2417.5" y="828.5" width="6" height="6" fill="#ececff"/><rect x="232.5" y="870.5" width="6" height="6" fill="#dedeff"/><rect x="639.5" y="870.5" width="6" height="6" fill="#ececff"/><rect x="676.5" y="870.5" width="6" height="6" fill="#dedeff"/><rect x="1156.5" y="870.5" width="6" height="6" fill="#ececff"/><rect x="1193.5" y="870.5" width="6" height="6" fill="#ececff"/><rect x="1304.5" y="870.5" width="6" height="6" fill="#cdcdff"/><rect x="1341.5" y="870.5" width="6" height="6" fill="#babaff"/><rect x="1969.5" y="870.5" width="6" height="6" fill="#ffecec"/><rect x="2006.5" y="870.5" width="6" height="6" fill="#fff7f7"/><rect x="2191.5" y="870.5" width="6" height="6" fill="#dedeff"/><rect x="2228.5" y="870.5" width="6" height="6" fill="#dedeff"/><rect x="2265.5" y="870.5" width="6" height="6" fill="#dedeff"/><rect x="2413.5" y="870.5" width="6" height="6" fill="#ececff"/><rect x="2450.5" y="870.5" width="6" height="6" fill="#ececff"/><rect x="2597.5" y="870.5" width="6" height="6" fill="#ffecec"/><rect x="204.5" y="912.5" width="6" height="6" fill="#ececff"/><rect x="240.5" y="912.5" width="6" height="6" fill="#ececff"/><rect x="681.5" y="912.5" width="6" height="6" fill="#cdcdff"/><rect x="717.5" y="912.5" width="6" height="6" fill="#cdcdff"/><rect x="864.5" y="912.5" width="6" height="6" fill="#dedeff"/><rect x="1121.5" y="912.5" width="6" height="6" fill="#cdcdff"/><rect x="1158.5" y="912.5" width="6" height="6" fill="#dedeff"/><rect x="1195.5" y="912.5" width="6" height="6" fill="#ececff"/><rect x="1341.5" y="912.5" width="6" height="6" fill="#cdcdff"/><rect x="1378.5" y="912.5" width="6" height="6" fill="#babaff"/><rect x="1892.5" y="912.5" width="6" height="6" fill="#ffecec"/><rect x="1929.5" y="912.5" width="6" height="6" fill="#ffdbdb"/><rect x="1965.5" y="912.5" width="6" height="6" fill="#ffdbdb"/><rect x="2149.5" y="912.5" width="6" height="6" fill="#cdcdff"/><rect x="2186.5" y="912.5" width="6" height="6" fill="#9090ff"/><rect x="2222.5" y="912.5" width="6" height="6" fill="#cdcdff"/><rect x="2259.5" y="912.5" width="6" height="6" fill="#dedeff"/><rect x="214.5" y="954.5" width="6" height="6" fill="#f7f7ff"/><rect x="432.5" y="954.5" width="6" height="6" fill="#dedeff"/><rect x="723.5" y="954.5" width="6" height="6" fill="#dedeff"/><rect x="796.5" y="954.5" width="6" height="6" fill="#ececff"/><rect x="832.5" y="954.5" width="6" height="6" fill="#ececff"/><rect x="869.5" y="954.5" width="6" height="6" fill="#ececff"/><rect x="1123.5" y="954.5" width="6" height="6" fill="#a7a7ff"/><rect x="1160.5" y="954.5" width="6" height="6" fill="#babaff"/><rect x="1378.5" y="954.5" width="6" height="6" fill="#cdcdff"/><rect x="1415.5" y="954.5" width="6" height="6" fill="#cdcdff"/><rect x="1815.5" y="954.5" width="6" height="6" fill="#ececff"/><rect x="1851.5" y="954.5" width="6" height="6" fill="#ffecec"/><rect x="1888.5" y="954.5" width="6" height="6" fill="#ffdbdb"/><rect x="2142.5" y="954.5" width="6" height="6" fill="#cdcdff"/><rect x="2179.5" y="954.5" width="6" height="6" fill="#babaff"/><rect x="2215.5" y="954.5" width="6" height="6" fill="#babaff"/><rect x="443.5" y="996.5" width="6" height="6" fill="#ececff"/><rect x="767.5" y="996.5" width="6" height="6" fill="#ececff"/><rect x="803.5" y="996.5" width="6" height="6" fill="#ececff"/><rect x="875.5" y="996.5" width="6" height="6" fill="#ececff"/><rect x="1126.5" y="996.5" width="6" height="6" fill="#cdcdff"/><rect x="1162.5" y="996.5" width="6" height="6" fill="#cdcdff"/><rect x="1450.5" y="996.5" width="6" height="6" fill="#dedeff"/><rect x="1486.5" y="996.5" width="6" height="6" fill="#ececff"/><rect x="1702.5" y="996.5" width="6" height="6" fill="#ffecec"/><rect x="1738.5" y="996.5" width="6" height="6" fill="#fff7f7"/><rect x="1774.5" y="996.5" width="6" height="6" fill="#ffecec"/><rect x="1810.5" y="996.5" width="6" height="6" fill="#ffecec"/><rect x="2098.5" y="996.5" width="6" height="6" fill="#f7f7ff"/><rect x="2134.5" y="996.5" width="6" height="6" fill="#ececff"/><rect x="2170.5" y="996.5" width="6" height="6" fill="#ececff"/><rect x="2206.5" y="996.5" width="6" height="6" fill="#dedeff"/><rect x="458.5" y="1038.5" width="6" height="6" fill="#ffffff"/><rect x="847.5" y="1038.5" width="6" height="6" fill="#ececff"/><rect x="883.5" y="1038.5" width="6" height="6" fill="#dedeff"/><rect x="1166.5" y="1038.5" width="6" height="6" fill="#f7f7ff"/><rect x="1202.5" y="1038.5" width="6" height="6" fill="#f7f7ff"/><rect x="1237.5" y="1038.5" width="6" height="6" fill="#ffffff"/><rect x="1272.5" y="1038.5" width="6" height="6" fill="#f7f7ff"/><rect x="1308.5" y="1038.5" width="6" height="6" fill="#f7f7ff"/><rect x="1343.5" y="1038.5" width="6" height="6" fill="#ececff"/><rect x="1485.5" y="1038.5" width="6" height="6" fill="#f7f7ff"/><rect x="1520.5" y="1038.5" width="6" height="6" fill="#f7f7ff"/><rect x="1556.5" y="1038.5" width="6" height="6" fill="#dedeff"/><rect x="1591.5" y="1038.5" width="6" height="6" fill="#ececff"/><rect x="1627.5" y="1038.5" width="6" height="6" fill="#ffdbdb"/><rect x="1662.5" y="1038.5" width="6" height="6" fill="#ffdbdb"/><rect x="1697.5" y="1038.5" width="6" height="6" fill="#ffecec"/><rect x="2052.5" y="1038.5" width="6" height="6" fill="#ffecec"/><rect x="2087.5" y="1038.5" width="6" height="6" fill="#ffecec"/><rect x="2123.5" y="1038.5" width="6" height="6" fill="#ffffff"/><rect x="2158.5" y="1038.5" width="6" height="6" fill="#ececff"/><rect x="2477.5" y="1038.5" width="6" height="6" fill="#ececff"/><rect x="511.5" y="1080.5" width="6" height="6" fill="#ffecec"/><rect x="824.5" y="1080.5" width="6" height="6" fill="#ffecec"/><rect x="858.5" y="1080.5" width="6" height="6" fill="#ffecec"/><rect x="1344.5" y="1080.5" width="6" height="6" fill="#f7f7ff"/><rect x="1379.5" y="1080.5" width="6" height="6" fill="#f7f7ff"/><rect x="1414.5" y="1080.5" width="6" height="6" fill="#ececff"/><rect x="1448.5" y="1080.5" width="6" height="6" fill="#ececff"/><rect x="1483.5" y="1080.5" width="6" height="6" fill="#ffffff"/><rect x="1518.5" y="1080.5" width="6" height="6" fill="#ffecec"/><rect x="1553.5" y="1080.5" width="6" height="6" fill="#ffdbdb"/><rect x="1587.5" y="1080.5" width="6" height="6" fill="#ffdbdb"/><rect x="1796.5" y="1080.5" width="6" height="6" fill="#ff8080"/><rect x="1830.5" y="1080.5" width="6" height="6" fill="#ff8080"/><rect x="1865.5" y="1080.5" width="6" height="6" fill="#fff7f7"/><rect x="1900.5" y="1080.5" width="6" height="6" fill="#ececff"/><rect x="1934.5" y="1080.5" width="6" height="6" fill="#fff7f7"/><rect x="1969.5" y="1080.5" width="6" height="6" fill="#ff9090"/><rect x="2004.5" y="1080.5" width="6" height="6" fill="#ffecec"/><rect x="2039.5" y="1080.5" width="6" height="6" fill="#ff9090"/><rect x="2073.5" y="1080.5" width="6" height="6" fill="#ff6060"/><rect x="2386.5" y="1080.5" width="6" height="6" fill="#babaff"/><rect x="2420.5" y="1080.5" width="6" height="6" fill="#cdcdff"/><rect x="838.5" y="1122.5" width="6" height="6" fill="#ff8080"/><rect x="2259.5" y="1122.5" width="6" height="6" fill="#dedeff"/><rect x="2293.5" y="1122.5" width="6" height="6" fill="#dedeff"/><rect x="2327.5" y="1122.5" width="6" height="6" fill="#dedeff"/><rect x="873.5" y="1204.5" width="6" height="6" fill="#ececff"/></g><g stroke="#000" stroke-width="1"><circle cx="767.2" cy="491.7" r="3" fill="#f0f0ff"/><circle cx="825.7" cy="459.1" r="3" fill="#9595ff"/><circle cx="723.7" cy="437.7" r="3" fill="#9f9fff"/><circle cx="714.8" cy="448.9" r="3" fill="#8080ff"/><circle cx="705.2" cy="500.8" r="3" fill="#9595ff"/><circle cx="825.4" cy="389.8" r="3" fill="#aaaaff"/><circle cx="723.8" cy="480.7" r="3" fill="#bfbfff"/><circle cx="877.1" cy="371.8" r="3" fill="#cacaff"/><circle cx="836.5" cy="454.4" r="3" fill="#cfcfff"/><circle cx="723.8" cy="496.7" r="3" fill="#cacaff"/><circle cx="799.2" cy="391.4" r="3" fill="#aaaaff"/><circle cx="755.9" cy="426.5" r="3" fill="#4646ff"/><circle cx="849.7" cy="458.1" r="3" fill="#d9d9ff"/><circle cx="816.2" cy="505.1" r="3" fill="#e0e0ff"/><circle cx="708.0" cy="483.3" r="3" fill="#9595ff"/><circle cx="861.6" cy="449.8" r="3" fill="#ddddff"/><circle cx="786.3" cy="425.9" r="3" fill="#5555ff"/><circle cx="803.7" cy="469.1" r="3" fill="#bbbbff"/><circle cx="900.3" cy="408.9" r="3" fill="#f9f9ff"/><circle cx="769.8" cy="427.6" r="3" fill="#4646ff"/><circle cx="850.5" cy="382.6" r="3" fill="#dfdfff"/><circle cx="867.1" cy="470.9" r="3" fill="#d9d9ff"/><circle cx="819.7" cy="400.2" r="3" fill="#aaaaff"/><circle cx="744.0" cy="440.5" r="3" fill="#9595ff"/><circle cx="729.6" cy="413.5" r="3" fill="#8484ff"/><circle cx="887.4" cy="427.8" r="3" fill="#fafaff"/><circle cx="872.8" cy="424.6" r="3" fill="#d1d1ff"/><circle cx="839.9" cy="445.4" r="3" fill="#9595ff"/><circle cx="923.1" cy="372.2" r="3" fill="#b2b2ff"/><circle cx="826.8" cy="414.1" r="3" fill="#9595ff"/><circle cx="736.6" cy="408.5" r="3" fill="#b5b5ff"/><circle cx="884.1" cy="365.1" r="3" fill="#cacaff"/><circle cx="807.2" cy="413.4" r="3" fill="#5555ff"/><circle cx="713.0" cy="444.6" r="3" fill="#9f9fff"/><circle cx="729.3" cy="496.8" r="3" fill="#ccccff"/><circle cx="740.8" cy="398.5" r="3" fill="#0808ff"/><circle cx="726.2" cy="477.0" r="3" fill="#bfbfff"/><circle cx="820.8" cy="383.1" r="3" fill="#b2b2ff"/><circle cx="725.5" cy="446.5" r="3" fill="#9595ff"/><circle cx="856.3" cy="381.3" r="3" fill="#9595ff"/><circle cx="914.3" cy="384.2" r="3" fill="#b2b2ff"/><circle cx="768.9" cy="451.6" r="3" fill="#2a2aff"/><circle cx="814.6" cy="381.2" r="3" fill="#9999ff"/><circle cx="736.4" cy="479.4" r="3" fill="#d9d9ff"/><circle cx="762.3" cy="441.1" r="3" fill="#2a2aff"/><circle cx="833.6" cy="474.7" r="3" fill="#e6e6ff"/><circle cx="706.3" cy="451.1" r="3" fill="#9595ff"/><circle cx="797.7" cy="428.8" r="3" fill="#9999ff"/><circle cx="833.5" cy="421.1" r="3" fill="#dfdfff"/><circle cx="927.7" cy="396.8" r="3" fill="#f8f8ff"/><circle cx="923.1" cy="394.1" r="3" fill="#f8f8ff"/><circle cx="794.2" cy="454.1" r="3" fill="#bbbbff"/><circle cx="741.8" cy="418.6" r="3" fill="#0808ff"/><circle cx="702.4" cy="504.4" r="3" fill="#cacaff"/><circle cx="740.8" cy="490.0" r="3" fill="#e8e8ff"/><circle cx="767.0" cy="506.6" r="3" fill="#ccccff"/><circle cx="691.6" cy="491.6" r="3" fill="#9595ff"/><circle cx="725.6" cy="459.5" r="3" fill="#6060ff"/><circle cx="740.9" cy="382.7" r="3" fill="#b2b2ff"/><circle cx="834.9" cy="492.0" r="3" fill="#f9f9ff"/><circle cx="759.5" cy="461.9" r="3" fill="#8080ff"/><circle cx="775.5" cy="495.9" r="3" fill="#f0f0ff"/><circle cx="927.7" cy="365.1" r="3" fill="#c6c6ff"/><circle cx="815.3" cy="441.3" r="3" fill="#cacaff"/><circle cx="709.4" cy="499.1" r="3" fill="#cacaff"/><circle cx="776.5" cy="474.4" r="3" fill="#d9d9ff"/><circle cx="746.0" cy="371.3" r="3" fill="#b2b2ff"/><circle cx="814.8" cy="492.3" r="3" fill="#e6e6ff"/><circle cx="813.9" cy="510.5" r="3" fill="#e0e0ff"/><circle cx="857.4" cy="367.2" r="3" fill="#9595ff"/><circle cx="915.5" cy="409.3" r="3" fill="#fbfbff"/><circle cx="762.5" cy="459.0" r="3" fill="#2a2aff"/><circle cx="765.0" cy="398.0" r="3" fill="#8484ff"/><circle cx="846.4" cy="396.9" r="3" fill="#cacaff"/><circle cx="771.6" cy="480.8" r="3" fill="#e0e0ff"/><circle cx="919.2" cy="366.3" r="3" fill="#e8e8ff"/><circle cx="918.7" cy="392.9" r="3" fill="#f8f8ff"/><circle cx="907.7" cy="402.8" r="3" fill="#f3f3ff"/><circle cx="762.6" cy="436.2" r="3" fill="#9595ff"/><circle cx="769.8" cy="510.2" r="3" fill="#ccccff"/><circle cx="704.3" cy="472.2" r="3" fill="#bfbfff"/><circle cx="780.4" cy="409.9" r="3" fill="#9090ff"/><circle cx="946.5" cy="365.8" r="3" fill="#d9d9ff"/><circle cx="746.4" cy="480.2" r="3" fill="#e0e0ff"/><circle cx="739.9" cy="483.6" r="3" fill="#e0e0ff"/><circle cx="873.6" cy="378.8" r="3" fill="#cacaff"/><circle cx="874.2" cy="393.8" r="3" fill="#b2b2ff"/><circle cx="739.3" cy="414.7" r="3" fill="#6b6bff"/><circle cx="930.1" cy="396.4" r="3" fill="#fff0f0"/><circle cx="879.7" cy="442.2" r="3" fill="#d1d1ff"/><circle cx="768.7" cy="395.4" r="3" fill="#9090ff"/><circle cx="803.5" cy="393.6" r="3" fill="#b2b2ff"/><circle cx="827.9" cy="371.9" r="3" fill="#b2b2ff"/><circle cx="721.2" cy="491.7" r="3" fill="#cfcfff"/><circle cx="930.2" cy="392.8" r="3" fill="#fbfbff"/><circle cx="764.1" cy="389.8" r="3" fill="#9090ff"/><circle cx="792.4" cy="431.5" r="3" fill="#7777ff"/><circle cx="716.3" cy="512.4" r="3" fill="#afafff"/><circle cx="854.3" cy="373.9" r="3" fill="#cacaff"/><circle cx="830.2" cy="383.1" r="3" fill="#aaaaff"/><circle cx="756.8" cy="470.2" r="3" fill="#8080ff"/><circle cx="769.7" cy="425.8" r="3" fill="#6b6bff"/><circle cx="764.8" cy="451.1" r="3" fill="#9595ff"/><circle cx="766.6" cy="377.4" r="3" fill="#aaaaff"/><circle cx="788.4" cy="445.2" r="3" fill="#7777ff"/><circle cx="864.9" cy="378.2" r="3" fill="#bfbfff"/><circle cx="830.2" cy="376.2" r="3" fill="#5555ff"/><circle cx="825.8" cy="434.0" r="3" fill="#cfcfff"/><circle cx="809.0" cy="511.8" r="3" fill="#e8e8ff"/><circle cx="795.7" cy="486.8" r="3" fill="#f0f0ff"/><circle cx="730.8" cy="393.9" r="3" fill="#8484ff"/><circle cx="747.8" cy="442.8" r="3" fill="#9595ff"/><circle cx="877.7" cy="430.3" r="3" fill="#b2b2ff"/><circle cx="785.2" cy="436.1" r="3" fill="#d6d6ff"/><circle cx="851.8" cy="396.1" r="3" fill="#cacaff"/><circle cx="737.8" cy="429.7" r="3" fill="#4646ff"/><circle cx="755.3" cy="472.6" r="3" fill="#e6e6ff"/><circle cx="886.1" cy="437.7" r="3" fill="#ffffff"/><circle cx="851.8" cy="399.8" r="3" fill="#bfbfff"/><circle cx="849.7" cy="438.0" r="3" fill="#e8e8ff"/><circle cx="836.9" cy="409.8" r="3" fill="#cacaff"/><circle cx="814.7" cy="433.8" r="3" fill="#bbbbff"/><circle cx="844.2" cy="372.7" r="3" fill="#bfbfff"/><circle cx="888.7" cy="382.4" r="3" fill="#bfbfff"/><circle cx="862.1" cy="372.4" r="3" fill="#dfdfff"/><circle cx="734.5" cy="447.6" r="3" fill="#bfbfff"/><circle cx="712.7" cy="478.1" r="3" fill="#dfdfff"/><circle cx="737.3" cy="413.3" r="3" fill="#9090ff"/><circle cx="908.4" cy="379.3" r="3" fill="#b2b2ff"/><circle cx="815.3" cy="399.3" r="3" fill="#5555ff"/><circle cx="870.4" cy="437.6" r="3" fill="#d1d1ff"/><circle cx="919.0" cy="382.7" r="3" fill="#d9d9ff"/><circle cx="830.5" cy="383.7" r="3" fill="#9999ff"/><circle cx="842.3" cy="414.6" r="3" fill="#bfbfff"/><circle cx="930.2" cy="391.6" r="3" fill="#fafaff"/><circle cx="808.7" cy="418.3" r="3" fill="#aaaaff"/><circle cx="854.8" cy="424.5" r="3" fill="#b2b2ff"/><circle cx="810.6" cy="425.9" r="3" fill="#aaaaff"/><circle cx="876.5" cy="445.9" r="3" fill="#d9d9ff"/><circle cx="862.4" cy="417.7" r="3" fill="#e8e8ff"/><circle cx="786.6" cy="425.0" r="3" fill="#aaaaff"/><circle cx="873.6" cy="412.9" r="3" fill="#b2b2ff"/><circle cx="810.8" cy="381.5" r="3" fill="#9999ff"/><circle cx="906.6" cy="382.4" r="3" fill="#b2b2ff"/><circle cx="796.8" cy="429.4" r="3" fill="#9999ff"/><circle cx="801.6" cy="395.2" r="3" fill="#b2b2ff"/><circle cx="816.4" cy="438.5" r="3" fill="#cacaff"/><circle cx="856.4" cy="386.4" r="3" fill="#9595ff"/><circle cx="820.2" cy="385.9" r="3" fill="#ccccff"/><circle cx="870.9" cy="400.4" r="3" fill="#d9d9ff"/><circle cx="789.8" cy="443.4" r="3" fill="#c2c2ff"/><circle cx="880.3" cy="418.7" r="3" fill="#ddddff"/><circle cx="810.5" cy="384.6" r="3" fill="#aaaaff"/><circle cx="881.9" cy="393.7" r="3" fill="#e8e8ff"/><circle cx="809.7" cy="390.0" r="3" fill="#ccccff"/><circle cx="807.6" cy="389.6" r="3" fill="#ccccff"/><circle cx="846.4" cy="424.5" r="3" fill="#dfdfff"/><circle cx="874.2" cy="385.4" r="3" fill="#bfbfff"/><circle cx="816.0" cy="438.6" r="3" fill="#cacaff"/><circle cx="854.1" cy="431.2" r="3" fill="#b2b2ff"/><circle cx="794.9" cy="436.4" r="3" fill="#9999ff"/><circle cx="787.8" cy="433.7" r="3" fill="#bbbbff"/><circle cx="826.2" cy="426.8" r="3" fill="#cacaff"/><circle cx="887.1" cy="427.8" r="3" fill="#f3f3ff"/><circle cx="849.1" cy="435.3" r="3" fill="#e8e8ff"/><circle cx="824.5" cy="446.0" r="3" fill="#9595ff"/><circle cx="811.1" cy="446.2" r="3" fill="#bfbfff"/><circle cx="889.3" cy="410.3" r="3" fill="#c6c6ff"/><circle cx="813.7" cy="415.4" r="3" fill="#aaaaff"/><circle cx="898.3" cy="418.3" r="3" fill="#fbfbff"/><circle cx="864.1" cy="391.5" r="3" fill="#afafff"/><circle cx="842.1" cy="413.3" r="3" fill="#dfdfff"/><circle cx="893.5" cy="381.7" r="3" fill="#cacaff"/><circle cx="843.7" cy="391.6" r="3" fill="#cacaff"/><circle cx="887.7" cy="404.7" r="3" fill="#d1d1ff"/><circle cx="839.8" cy="423.9" r="3" fill="#cfcfff"/><circle cx="786.6" cy="438.5" r="3" fill="#9999ff"/><circle cx="804.8" cy="397.7" r="3" fill="#ccccff"/><circle cx="815.1" cy="436.3" r="3" fill="#afafff"/><circle cx="809.4" cy="391.0" r="3" fill="#9999ff"/><circle cx="910.5" cy="402.4" r="3" fill="#f9f9ff"/><circle cx="570.5" cy="475.8" r="3" fill="#f2f2ff"/><circle cx="587.2" cy="441.1" r="3" fill="#e8e8ff"/><circle cx="562.8" cy="443.3" r="3" fill="#f0f0ff"/><circle cx="625.5" cy="361.8" r="3" fill="#c6c6ff"/><circle cx="710.2" cy="427.2" r="3" fill="#b2b2ff"/><circle cx="622.8" cy="361.2" r="3" fill="#ddddff"/><circle cx="582.8" cy="457.5" r="3" fill="#f0f0ff"/><circle cx="621.6" cy="434.2" r="3" fill="#e6e6ff"/><circle cx="574.8" cy="433.9" r="3" fill="#e6e6ff"/><circle cx="573.8" cy="477.3" r="3" fill="#f6f6ff"/><circle cx="642.6" cy="430.0" r="3" fill="#f0f0ff"/><circle cx="680.4" cy="409.6" r="3" fill="#b2b2ff"/><circle cx="692.4" cy="374.7" r="3" fill="#e8e8ff"/><circle cx="594.7" cy="462.4" r="3" fill="#e6e6ff"/><circle cx="689.2" cy="490.7" r="3" fill="#9595ff"/><circle cx="674.8" cy="411.9" r="3" fill="#d1d1ff"/><circle cx="577.3" cy="381.6" r="3" fill="#d9d9ff"/><circle cx="702.1" cy="414.4" r="3" fill="#8080ff"/><circle cx="689.8" cy="385.2" r="3" fill="#c6c6ff"/><circle cx="565.7" cy="430.9" r="3" fill="#e1e1ff"/><circle cx="653.6" cy="381.6" r="3" fill="#e8e8ff"/><circle cx="702.8" cy="383.0" r="3" fill="#dfdfff"/><circle cx="671.8" cy="372.6" r="3" fill="#ddddff"/><circle cx="671.7" cy="404.0" r="3" fill="#d9d9ff"/><circle cx="689.1" cy="444.6" r="3" fill="#7777ff"/><circle cx="694.3" cy="417.0" r="3" fill="#ccccff"/><circle cx="711.7" cy="377.6" r="3" fill="#cfcfff"/><circle cx="733.4" cy="394.8" r="3" fill="#4646ff"/><circle cx="740.0" cy="390.4" r="3" fill="#4646ff"/><circle cx="706.2" cy="446.9" r="3" fill="#bbbbff"/><circle cx="754.1" cy="384.8" r="3" fill="#9999ff"/><circle cx="726.1" cy="402.5" r="3" fill="#6b6bff"/><circle cx="719.9" cy="441.7" r="3" fill="#9595ff"/><circle cx="731.5" cy="426.1" r="3" fill="#0808ff"/><circle cx="686.7" cy="425.0" r="3" fill="#8080ff"/><circle cx="729.4" cy="430.0" r="3" fill="#b5b5ff"/><circle cx="961.3" cy="308.5" r="3" fill="#cacaff"/><circle cx="885.9" cy="337.1" r="3" fill="#cacaff"/><circle cx="960.5" cy="325.8" r="3" fill="#cacaff"/><circle cx="917.7" cy="352.0" r="3" fill="#d9d9ff"/><circle cx="793.8" cy="343.4" r="3" fill="#bbbbff"/><circle cx="948.2" cy="341.0" r="3" fill="#dfdfff"/><circle cx="897.0" cy="355.2" r="3" fill="#cacaff"/><circle cx="635.7" cy="292.2" r="3" fill="#d9d9ff"/><circle cx="610.1" cy="324.1" r="3" fill="#d9d9ff"/><circle cx="606.2" cy="310.2" r="3" fill="#fafaff"/><circle cx="608.8" cy="226.7" r="3" fill="#d9d9ff"/><circle cx="436.9" cy="255.3" r="3" fill="#ddddff"/><circle cx="588.8" cy="224.8" r="3" fill="#b2b2ff"/><circle cx="677.1" cy="600.9" r="3" fill="#fff2f2"/><circle cx="649.2" cy="521.0" r="3" fill="#f6f6ff"/><circle cx="639.6" cy="564.0" r="3" fill="#ddddff"/><circle cx="625.8" cy="570.7" r="3" fill="#ccccff"/><circle cx="822.0" cy="584.8" r="3" fill="#ffe6e6"/><circle cx="859.9" cy="680.4" r="3" fill="#f2f2ff"/><circle cx="836.7" cy="591.1" r="3" fill="#ffd9d9"/><circle cx="1413.3" cy="416.2" r="3" fill="#dfdfff"/><circle cx="1363.8" cy="437.6" r="3" fill="#e0e0ff"/><circle cx="1362.9" cy="435.3" r="3" fill="#ccccff"/><circle cx="1354.6" cy="460.8" r="3" fill="#e6e6ff"/><circle cx="1340.7" cy="408.1" r="3" fill="#afafff"/><circle cx="1357.1" cy="401.4" r="3" fill="#cfcfff"/><circle cx="1352.6" cy="446.2" r="3" fill="#ccccff"/><circle cx="1376.1" cy="451.3" r="3" fill="#d9d9ff"/><circle cx="1364.8" cy="400.0" r="3" fill="#dfdfff"/><circle cx="1409.5" cy="409.6" r="3" fill="#cacaff"/><circle cx="1387.3" cy="402.8" r="3" fill="#7777ff"/><circle cx="1396.1" cy="433.7" r="3" fill="#e8e8ff"/><circle cx="1375.5" cy="344.1" r="3" fill="#d9d9ff"/><circle cx="1408.5" cy="338.4" r="3" fill="#fbfbff"/><circle cx="1385.4" cy="322.6" r="3" fill="#e6e6ff"/><circle cx="1377.2" cy="294.3" r="3" fill="#fff0f0"/><circle cx="1410.9" cy="328.7" r="3" fill="#fafaff"/><circle cx="1394.6" cy="325.7" r="3" fill="#e6e6ff"/><circle cx="1389.7" cy="319.0" r="3" fill="#f0f0ff"/><circle cx="1369.6" cy="335.9" r="3" fill="#d9d9ff"/><circle cx="1373.2" cy="282.5" r="3" fill="#d0d0ff"/><circle cx="1386.5" cy="331.6" r="3" fill="#d9d9ff"/><circle cx="1384.0" cy="337.5" r="3" fill="#f0f0ff"/><circle cx="1370.8" cy="341.0" r="3" fill="#e8e8ff"/><circle cx="1378.4" cy="341.0" r="3" fill="#d9d9ff"/><circle cx="1373.4" cy="328.8" r="3" fill="#e6e6ff"/><circle cx="1399.4" cy="317.6" r="3" fill="#e0e0ff"/><circle cx="1382.6" cy="309.6" r="3" fill="#e8e8ff"/><circle cx="1380.6" cy="323.0" r="3" fill="#e6e6ff"/><circle cx="1410.6" cy="338.5" r="3" fill="#f3f3ff"/><circle cx="1387.2" cy="302.1" r="3" fill="#e8e8ff"/><circle cx="1405.1" cy="331.9" r="3" fill="#fafaff"/><circle cx="1375.1" cy="329.5" r="3" fill="#e8e8ff"/><circle cx="1381.8" cy="315.3" r="3" fill="#f0f0ff"/><circle cx="1405.7" cy="346.1" r="3" fill="#f9f9ff"/><circle cx="1364.1" cy="296.4" r="3" fill="#ffeded"/><circle cx="1361.8" cy="320.2" r="3" fill="#e6e6ff"/><circle cx="1348.3" cy="305.7" r="3" fill="#e8e8ff"/><circle cx="1360.3" cy="308.0" r="3" fill="#f0f0ff"/><circle cx="1338.9" cy="330.5" r="3" fill="#e6e6ff"/><circle cx="1411.1" cy="360.3" r="3" fill="#aaaaff"/><circle cx="1446.6" cy="357.7" r="3" fill="#aaaaff"/><circle cx="1421.6" cy="354.9" r="3" fill="#ccccff"/><circle cx="1405.6" cy="368.9" r="3" fill="#b2b2ff"/><circle cx="1422.0" cy="385.2" r="3" fill="#9999ff"/><circle cx="1420.7" cy="359.2" r="3" fill="#ccccff"/><circle cx="1375.6" cy="400.7" r="3" fill="#9999ff"/><circle cx="1411.3" cy="366.8" r="3" fill="#5555ff"/><circle cx="1399.7" cy="390.5" r="3" fill="#afafff"/><circle cx="1418.4" cy="404.7" r="3" fill="#cfcfff"/><circle cx="1392.3" cy="374.9" r="3" fill="#d1d1ff"/><circle cx="1448.2" cy="362.8" r="3" fill="#aaaaff"/><circle cx="1442.2" cy="373.9" r="3" fill="#5555ff"/><circle cx="1448.2" cy="358.8" r="3" fill="#aaaaff"/><circle cx="1392.6" cy="404.0" r="3" fill="#d6d6ff"/><circle cx="1409.1" cy="360.8" r="3" fill="#aaaaff"/><circle cx="1402.5" cy="388.3" r="3" fill="#5555ff"/><circle cx="1423.1" cy="344.4" r="3" fill="#fafaff"/><circle cx="1385.6" cy="403.1" r="3" fill="#bbbbff"/><circle cx="1464.8" cy="354.2" r="3" fill="#d9d9ff"/><circle cx="1499.8" cy="372.4" r="3" fill="#fff0f0"/><circle cx="1507.0" cy="328.3" r="3" fill="#ffd9d9"/><circle cx="1482.2" cy="371.8" r="3" fill="#e8e8ff"/><circle cx="1527.3" cy="363.1" r="3" fill="#d0d0ff"/><circle cx="1513.2" cy="369.7" r="3" fill="#fff6f6"/><circle cx="1452.1" cy="326.6" r="3" fill="#ffd0d0"/><circle cx="1458.2" cy="311.2" r="3" fill="#fff0f0"/><circle cx="1481.4" cy="373.3" r="3" fill="#d9d9ff"/><circle cx="1453.6" cy="354.5" r="3" fill="#9999ff"/><circle cx="1446.2" cy="356.4" r="3" fill="#b2b2ff"/><circle cx="1446.8" cy="384.5" r="3" fill="#aaaaff"/><circle cx="1437.8" cy="356.4" r="3" fill="#ccccff"/><circle cx="1515.3" cy="316.7" r="3" fill="#ffaaaa"/><circle cx="1523.4" cy="361.6" r="3" fill="#ffe1e1"/><circle cx="1507.2" cy="386.2" r="3" fill="#e8e8ff"/><circle cx="1496.9" cy="357.6" r="3" fill="#e8e8ff"/><circle cx="1468.7" cy="361.4" r="3" fill="#d9d9ff"/><circle cx="1449.7" cy="388.6" r="3" fill="#b2b2ff"/><circle cx="1459.4" cy="359.8" r="3" fill="#aaaaff"/><circle cx="1527.4" cy="378.6" r="3" fill="#d0d0ff"/><circle cx="1527.6" cy="371.7" r="3" fill="#ffeded"/><circle cx="1464.7" cy="321.6" r="3" fill="#ffd0d0"/><circle cx="1511.9" cy="353.2" r="3" fill="#e8e8ff"/><circle cx="1436.5" cy="349.8" r="3" fill="#5555ff"/><circle cx="1465.7" cy="313.8" r="3" fill="#d0d0ff"/><circle cx="1450.9" cy="358.8" r="3" fill="#9999ff"/><circle cx="1522.3" cy="386.3" r="3" fill="#ffe9e9"/><circle cx="1469.8" cy="322.4" r="3" fill="#ffffff"/><circle cx="1509.2" cy="385.4" r="3" fill="#e8e8ff"/><circle cx="1436.1" cy="383.6" r="3" fill="#5555ff"/><circle cx="1522.8" cy="367.6" r="3" fill="#ffe9e9"/><circle cx="1501.0" cy="315.5" r="3" fill="#ffcccc"/><circle cx="1465.6" cy="366.3" r="3" fill="#b2b2ff"/><circle cx="1523.4" cy="338.2" r="3" fill="#ffd4d4"/><circle cx="1456.2" cy="330.1" r="3" fill="#e8e8ff"/><circle cx="1463.3" cy="366.0" r="3" fill="#ccccff"/><circle cx="1431.5" cy="327.0" r="3" fill="#fff6f6"/><circle cx="1519.3" cy="336.8" r="3" fill="#ffaaaa"/><circle cx="1526.9" cy="386.8" r="3" fill="#ffffff"/><circle cx="1454.5" cy="349.7" r="3" fill="#b2b2ff"/><circle cx="1520.1" cy="311.1" r="3" fill="#ffd9d9"/><circle cx="1470.3" cy="368.1" r="3" fill="#d1d1ff"/><circle cx="1473.4" cy="348.2" r="3" fill="#b2b2ff"/><circle cx="1524.2" cy="373.7" r="3" fill="#ffffff"/><circle cx="1507.5" cy="328.3" r="3" fill="#ffcccc"/><circle cx="1509.2" cy="325.6" r="3" fill="#ffcccc"/><circle cx="1491.6" cy="361.8" r="3" fill="#b2b2ff"/><circle cx="1463.3" cy="359.0" r="3" fill="#ccccff"/><circle cx="1510.5" cy="382.3" r="3" fill="#fff0f0"/><circle cx="1449.9" cy="327.2" r="3" fill="#fff0f0"/><circle cx="1457.3" cy="383.4" r="3" fill="#ccccff"/><circle cx="1434.8" cy="343.4" r="3" fill="#fff6f6"/><circle cx="1460.9" cy="309.0" r="3" fill="#fff2f2"/><circle cx="1512.9" cy="308.3" r="3" fill="#ffaaaa"/><circle cx="1459.0" cy="381.8" r="3" fill="#aaaaff"/><circle cx="1441.0" cy="347.8" r="3" fill="#5555ff"/><circle cx="1500.8" cy="352.0" r="3" fill="#ffe9e9"/><circle cx="1454.7" cy="354.5" r="3" fill="#9999ff"/><circle cx="1490.6" cy="333.5" r="3" fill="#ffe1e1"/><circle cx="1501.5" cy="319.6" r="3" fill="#ffd4d4"/><circle cx="1498.5" cy="378.8" r="3" fill="#b2b2ff"/><circle cx="1514.8" cy="364.6" r="3" fill="#fff6f6"/><circle cx="1487.4" cy="358.1" r="3" fill="#d9d9ff"/><circle cx="1505.3" cy="372.3" r="3" fill="#fff0f0"/><circle cx="1456.6" cy="368.5" r="3" fill="#9999ff"/><circle cx="1488.8" cy="361.9" r="3" fill="#b2b2ff"/><circle cx="1482.3" cy="369.7" r="3" fill="#d1d1ff"/><circle cx="1508.8" cy="335.2" r="3" fill="#ffd9d9"/><circle cx="1531.1" cy="380.3" r="3" fill="#ffd0d0"/><circle cx="1475.9" cy="321.8" r="3" fill="#fff2f2"/><circle cx="1509.6" cy="314.2" r="3" fill="#ffd9d9"/><circle cx="1436.1" cy="364.6" r="3" fill="#ccccff"/><circle cx="1444.2" cy="373.1" r="3" fill="#aaaaff"/><circle cx="1525.2" cy="340.9" r="3" fill="#ffd4d4"/><circle cx="1522.9" cy="358.1" r="3" fill="#ffeded"/><circle cx="1516.0" cy="351.8" r="3" fill="#d0d0ff"/><circle cx="1455.7" cy="325.2" r="3" fill="#e8e8ff"/><circle cx="1526.6" cy="380.0" r="3" fill="#e8e8ff"/><circle cx="1488.7" cy="337.9" r="3" fill="#fff6f6"/><circle cx="1453.3" cy="358.4" r="3" fill="#ccccff"/><circle cx="1446.3" cy="371.9" r="3" fill="#8080ff"/><circle cx="1456.0" cy="339.6" r="3" fill="#ffd0d0"/><circle cx="1496.7" cy="372.0" r="3" fill="#d9d9ff"/><circle cx="1433.2" cy="361.8" r="3" fill="#aaaaff"/><circle cx="1499.5" cy="373.5" r="3" fill="#ffeded"/><circle cx="1463.2" cy="372.0" r="3" fill="#aaaaff"/><circle cx="1508.4" cy="343.8" r="3" fill="#ffe6e6"/><circle cx="1438.8" cy="380.4" r="3" fill="#ccccff"/><circle cx="1469.7" cy="343.6" r="3" fill="#fff6f6"/><circle cx="1496.2" cy="381.3" r="3" fill="#ddddff"/><circle cx="1446.9" cy="331.8" r="3" fill="#ffeded"/><circle cx="1472.5" cy="365.4" r="3" fill="#b2b2ff"/><circle cx="1459.4" cy="311.1" r="3" fill="#e8e8ff"/><circle cx="1461.7" cy="342.3" r="3" fill="#ffe9e9"/><circle cx="1466.7" cy="354.5" r="3" fill="#b2b2ff"/><circle cx="1511.1" cy="307.6" r="3" fill="#ffe6e6"/><circle cx="1468.3" cy="372.5" r="3" fill="#c6c6ff"/><circle cx="1504.3" cy="372.0" r="3" fill="#fff0f0"/><circle cx="1471.0" cy="321.7" r="3" fill="#ffeded"/><circle cx="1469.0" cy="316.7" r="3" fill="#ffd0d0"/><circle cx="1478.1" cy="375.4" r="3" fill="#b2b2ff"/><circle cx="1433.0" cy="343.5" r="3" fill="#fff0f0"/><circle cx="1495.4" cy="387.2" r="3" fill="#ddddff"/><circle cx="1459.5" cy="408.7" r="3" fill="#ccccff"/><circle cx="1464.4" cy="434.2" r="3" fill="#f9f9ff"/><circle cx="1487.4" cy="386.1" r="3" fill="#c6c6ff"/><circle cx="1461.3" cy="418.6" r="3" fill="#e6e6ff"/><circle cx="1506.0" cy="383.0" r="3" fill="#ffe1e1"/><circle cx="1515.1" cy="382.3" r="3" fill="#ffe1e1"/><circle cx="1488.5" cy="451.6" r="3" fill="#fff0f0"/><circle cx="1517.5" cy="426.3" r="3" fill="#ffe1e1"/><circle cx="1511.7" cy="443.5" r="3" fill="#ffe3e3"/><circle cx="1508.7" cy="438.8" r="3" fill="#ffdede"/><circle cx="1479.9" cy="392.0" r="3" fill="#fafaff"/><circle cx="1511.9" cy="441.8" r="3" fill="#ffd6d6"/><circle cx="1463.0" cy="437.0" r="3" fill="#f9f9ff"/><circle cx="1501.1" cy="388.2" r="3" fill="#fff2f2"/><circle cx="1456.5" cy="413.2" r="3" fill="#d9d9ff"/><circle cx="1507.6" cy="452.7" r="3" fill="#ffd6d6"/><circle cx="1512.8" cy="446.7" r="3" fill="#ffeeee"/><circle cx="1494.4" cy="414.2" r="3" fill="#f9f9ff"/><circle cx="1482.1" cy="411.7" r="3" fill="#fbfbff"/><circle cx="1482.2" cy="406.0" r="3" fill="#f8f8ff"/><circle cx="1504.3" cy="396.9" r="3" fill="#e8e8ff"/><circle cx="1487.6" cy="447.5" r="3" fill="#fff2f2"/><circle cx="1462.8" cy="423.1" r="3" fill="#f0f0ff"/><circle cx="1437.3" cy="255.7" r="3" fill="#ffd9d9"/><circle cx="1529.7" cy="297.6" r="3" fill="#ffd9d9"/><circle cx="1531.6" cy="218.1" r="3" fill="#ffe3e3"/><circle cx="1503.4" cy="263.0" r="3" fill="#ffe3e3"/><circle cx="1580.6" cy="291.2" r="3" fill="#ff5959"/><circle cx="1544.7" cy="194.6" r="3" fill="#fff0f0"/><circle cx="1530.6" cy="214.0" r="3" fill="#ffc8c8"/><circle cx="1492.5" cy="198.7" r="3" fill="#ffeeee"/><circle cx="1574.2" cy="287.8" r="3" fill="#ffcdcd"/><circle cx="1536.3" cy="201.5" r="3" fill="#ffe1e1"/><circle cx="1433.6" cy="266.1" r="3" fill="#ffd4d4"/><circle cx="1548.1" cy="288.5" r="3" fill="#ffbfbf"/><circle cx="1568.4" cy="274.9" r="3" fill="#ff9c9c"/><circle cx="1558.2" cy="290.3" r="3" fill="#ffacac"/><circle cx="1494.6" cy="202.7" r="3" fill="#ffd6d6"/><circle cx="1457.2" cy="276.4" r="3" fill="#ffdede"/><circle cx="1504.6" cy="269.8" r="3" fill="#ffc8c8"/><circle cx="1521.1" cy="205.3" r="3" fill="#ffeeee"/><circle cx="1440.4" cy="245.6" r="3" fill="#ffcccc"/><circle cx="1558.0" cy="242.8" r="3" fill="#ffeeee"/><circle cx="1506.7" cy="206.7" r="3" fill="#ffe3e3"/><circle cx="1552.7" cy="276.1" r="3" fill="#ffcdcd"/><circle cx="1575.7" cy="240.3" r="3" fill="#ffcccc"/><circle cx="1475.8" cy="219.5" r="3" fill="#ffe6e6"/><circle cx="1496.2" cy="286.4" r="3" fill="#ffe3e3"/><circle cx="1548.1" cy="301.6" r="3" fill="#ffd9d9"/><circle cx="1556.5" cy="277.4" r="3" fill="#ffcdcd"/><circle cx="1513.4" cy="195.8" r="3" fill="#ffe3e3"/><circle cx="1511.5" cy="230.6" r="3" fill="#ffeeee"/><circle cx="1496.6" cy="205.3" r="3" fill="#ffe3e3"/><circle cx="1445.0" cy="280.5" r="3" fill="#ffe3e3"/><circle cx="1533.5" cy="304.7" r="3" fill="#ffbfbf"/><circle cx="1440.1" cy="265.4" r="3" fill="#ffd9d9"/><circle cx="1457.0" cy="239.6" r="3" fill="#ffeeee"/><circle cx="1463.9" cy="289.7" r="3" fill="#ffeeee"/><circle cx="1552.2" cy="217.6" r="3" fill="#ffeded"/><circle cx="1488.5" cy="276.2" r="3" fill="#ffdede"/><circle cx="1524.8" cy="255.5" r="3" fill="#ffe3e3"/><circle cx="1563.3" cy="222.9" r="3" fill="#fff6f6"/><circle cx="1489.5" cy="279.3" r="3" fill="#ffdede"/><circle cx="1578.8" cy="290.5" r="3" fill="#ffb4b4"/><circle cx="1499.8" cy="233.1" r="3" fill="#ffe3e3"/><circle cx="1557.1" cy="286.7" r="3" fill="#ffcdcd"/><circle cx="1473.2" cy="272.0" r="3" fill="#ffdede"/><circle cx="1540.5" cy="224.9" r="3" fill="#fff2f2"/><circle cx="1540.0" cy="253.0" r="3" fill="#ffe3e3"/><circle cx="1539.8" cy="254.5" r="3" fill="#ffdede"/><circle cx="1461.3" cy="294.9" r="3" fill="#ffe3e3"/><circle cx="1462.9" cy="302.8" r="3" fill="#ffe3e3"/><circle cx="1472.3" cy="221.1" r="3" fill="#ffd9d9"/><circle cx="1524.5" cy="210.7" r="3" fill="#ffd6d6"/><circle cx="1538.7" cy="276.0" r="3" fill="#ffe6e6"/><circle cx="1545.6" cy="246.4" r="3" fill="#ffd6d6"/><circle cx="1462.8" cy="233.1" r="3" fill="#ffdede"/><circle cx="1581.0" cy="281.7" r="3" fill="#ffacac"/><circle cx="1571.6" cy="305.6" r="3" fill="#ff5959"/><circle cx="1465.9" cy="279.5" r="3" fill="#ffe3e3"/><circle cx="1529.5" cy="200.0" r="3" fill="#ffdede"/><circle cx="1543.1" cy="268.9" r="3" fill="#ffbfbf"/><circle cx="1517.8" cy="227.4" r="3" fill="#ffdede"/><circle cx="1517.3" cy="196.4" r="3" fill="#ffe6e6"/><circle cx="1491.1" cy="211.3" r="3" fill="#ffd6d6"/><circle cx="1524.6" cy="209.4" r="3" fill="#ffe3e3"/><circle cx="1487.9" cy="223.9" r="3" fill="#ffe6e6"/><circle cx="1555.4" cy="404.8" r="3" fill="#ffcccc"/><circle cx="1514.5" cy="378.7" r="3" fill="#ffe9e9"/><circle cx="1498.5" cy="355.0" r="3" fill="#ffeded"/><circle cx="1511.1" cy="428.2" r="3" fill="#fff0f0"/><circle cx="1501.4" cy="353.5" r="3" fill="#ffffff"/><circle cx="1532.3" cy="418.6" r="3" fill="#e8e8ff"/><circle cx="1498.4" cy="427.0" r="3" fill="#f8f8ff"/><circle cx="1565.3" cy="377.7" r="3" fill="#ff9090"/><circle cx="1564.7" cy="369.2" r="3" fill="#ffbdbd"/><circle cx="1499.3" cy="381.3" r="3" fill="#d0d0ff"/><circle cx="1529.0" cy="362.6" r="3" fill="#fff0f0"/><circle cx="1575.9" cy="356.6" r="3" fill="#ff9090"/><circle cx="1497.5" cy="358.5" r="3" fill="#d0d0ff"/><circle cx="1585.1" cy="352.2" r="3" fill="#ff9090"/><circle cx="1506.0" cy="413.3" r="3" fill="#fff6f6"/><circle cx="1507.5" cy="427.6" r="3" fill="#fff2f2"/><circle cx="1579.7" cy="363.1" r="3" fill="#ff7a7a"/><circle cx="1557.2" cy="362.0" r="3" fill="#ff5959"/><circle cx="1562.2" cy="406.5" r="3" fill="#ffd4d4"/><circle cx="1505.8" cy="422.3" r="3" fill="#fff0f0"/><circle cx="1576.6" cy="413.3" r="3" fill="#ffb5b5"/><circle cx="1527.4" cy="395.1" r="3" fill="#fff0f0"/><circle cx="1496.4" cy="409.0" r="3" fill="#f9f9ff"/><circle cx="1521.3" cy="371.0" r="3" fill="#ffe9e9"/><circle cx="1533.5" cy="403.7" r="3" fill="#d0d0ff"/><circle cx="1595.6" cy="388.5" r="3" fill="#ff9090"/><circle cx="1582.3" cy="379.0" r="3" fill="#ff9090"/><circle cx="1537.0" cy="366.3" r="3" fill="#ff8383"/><circle cx="1528.2" cy="371.9" r="3" fill="#d0d0ff"/><circle cx="1617.4" cy="358.5" r="3" fill="#ff9c9c"/><circle cx="1674.0" cy="376.0" r="3" fill="#ffcccc"/><circle cx="1664.7" cy="364.9" r="3" fill="#ffaaaa"/><circle cx="1530.2" cy="360.5" r="3" fill="#ffacac"/><circle cx="1627.9" cy="255.7" r="3" fill="#ffaaaa"/><circle cx="1526.1" cy="320.6" r="3" fill="#ff8484"/><circle cx="1593.9" cy="279.4" r="3" fill="#ff9c9c"/><circle cx="1554.4" cy="320.1" r="3" fill="#ffdada"/><circle cx="1571.2" cy="274.8" r="3" fill="#ff8383"/><circle cx="1555.4" cy="260.1" r="3" fill="#ffc8c8"/><circle cx="1576.0" cy="358.7" r="3" fill="#ff5959"/><circle cx="1635.3" cy="319.6" r="3" fill="#ff5959"/><circle cx="1539.8" cy="300.9" r="3" fill="#ffd4d4"/><circle cx="1625.2" cy="280.8" r="3" fill="#ffacac"/><circle cx="1628.3" cy="339.2" r="3" fill="#ff5959"/><circle cx="1591.0" cy="333.8" r="3" fill="#ff4040"/><circle cx="1678.8" cy="376.7" r="3" fill="#ffbfbf"/><circle cx="1680.2" cy="385.3" r="3" fill="#ffbfbf"/><circle cx="1562.5" cy="352.0" r="3" fill="#ff5959"/><circle cx="1666.9" cy="319.2" r="3" fill="#ffc8c8"/><circle cx="1574.6" cy="268.0" r="3" fill="#ffe3e3"/><circle cx="1562.8" cy="324.7" r="3" fill="#ff2222"/><circle cx="1601.3" cy="285.1" r="3" fill="#ffcdcd"/><circle cx="1638.7" cy="299.5" r="3" fill="#ffcdcd"/><circle cx="1584.1" cy="343.2" r="3" fill="#ff9090"/><circle cx="1542.2" cy="273.3" r="3" fill="#ffaaaa"/><circle cx="1686.2" cy="242.6" r="3" fill="#fff8f8"/><circle cx="1612.0" cy="284.5" r="3" fill="#ff9c9c"/><circle cx="1714.4" cy="264.9" r="3" fill="#f6f6ff"/><circle cx="1603.4" cy="281.2" r="3" fill="#ff9c9c"/><circle cx="1753.0" cy="313.1" r="3" fill="#ddddff"/><circle cx="1620.8" cy="304.0" r="3" fill="#ffacac"/><circle cx="1687.7" cy="228.9" r="3" fill="#ccccff"/><circle cx="1618.5" cy="324.9" r="3" fill="#ff0000"/><circle cx="1630.3" cy="300.4" r="3" fill="#ffacac"/><circle cx="1688.1" cy="324.2" r="3" fill="#ffaaaa"/><circle cx="1561.8" cy="461.3" r="3" fill="#ffeded"/><circle cx="1603.4" cy="429.6" r="3" fill="#ffc1c1"/><circle cx="1542.3" cy="415.9" r="3" fill="#ffaaaa"/><circle cx="1545.2" cy="449.8" r="3" fill="#fff0f0"/><circle cx="1603.5" cy="425.7" r="3" fill="#ffc1c1"/><circle cx="1588.7" cy="446.9" r="3" fill="#ffe9e9"/><circle cx="1550.4" cy="434.9" r="3" fill="#fff0f0"/><circle cx="1587.8" cy="451.9" r="3" fill="#ffeded"/><circle cx="1628.1" cy="462.0" r="3" fill="#ffe9e9"/><circle cx="1623.8" cy="417.6" r="3" fill="#ff8484"/><circle cx="1666.7" cy="434.6" r="3" fill="#ffffff"/><circle cx="1658.6" cy="436.8" r="3" fill="#ffffff"/><circle cx="1590.1" cy="428.6" r="3" fill="#ffc1c1"/><circle cx="1625.0" cy="420.5" r="3" fill="#ffc8c8"/><circle cx="2204.4" cy="285.7" r="3" fill="#ffeded"/><circle cx="2007.8" cy="241.6" r="3" fill="#c2c2ff"/><circle cx="1985.9" cy="314.4" r="3" fill="#cacaff"/><circle cx="2059.4" cy="224.1" r="3" fill="#bfbfff"/><circle cx="2106.0" cy="248.3" r="3" fill="#d9d9ff"/><circle cx="2145.0" cy="251.1" r="3" fill="#ffffff"/><circle cx="2072.4" cy="282.4" r="3" fill="#e6e6ff"/><circle cx="1898.6" cy="258.1" r="3" fill="#0000ff"/><circle cx="1811.7" cy="287.2" r="3" fill="#6b6bff"/><circle cx="2108.2" cy="246.5" r="3" fill="#b2b2ff"/><circle cx="2088.2" cy="311.4" r="3" fill="#f2f2ff"/><circle cx="1966.9" cy="282.2" r="3" fill="#b2b2ff"/><circle cx="2067.5" cy="288.7" r="3" fill="#cacaff"/><circle cx="2032.2" cy="217.5" r="3" fill="#d6d6ff"/><circle cx="1835.5" cy="254.5" r="3" fill="#b5b5ff"/><circle cx="1891.2" cy="418.4" r="3" fill="#dfdfff"/><circle cx="1801.8" cy="350.6" r="3" fill="#aaaaff"/><circle cx="1711.0" cy="400.4" r="3" fill="#ffdede"/><circle cx="1733.1" cy="372.7" r="3" fill="#ffffff"/><circle cx="1924.5" cy="403.2" r="3" fill="#bfbfff"/><circle cx="1725.0" cy="396.7" r="3" fill="#ffdede"/><circle cx="1823.2" cy="380.2" r="3" fill="#aaaaff"/><circle cx="1819.3" cy="389.2" r="3" fill="#bfbfff"/><circle cx="1898.0" cy="402.9" r="3" fill="#9595ff"/><circle cx="1954.3" cy="508.3" r="3" fill="#ffeded"/><circle cx="1929.0" cy="561.6" r="3" fill="#bbbbff"/><circle cx="1958.4" cy="545.7" r="3" fill="#d9d9ff"/><circle cx="1903.5" cy="500.9" r="3" fill="#f0f0ff"/><circle cx="1966.7" cy="688.5" r="3" fill="#ededff"/><circle cx="1946.8" cy="619.1" r="3" fill="#f0f0ff"/><circle cx="1965.2" cy="558.8" r="3" fill="#9999ff"/><circle cx="1963.2" cy="646.4" r="3" fill="#d6d6ff"/><circle cx="1929.9" cy="550.0" r="3" fill="#bfbfff"/><circle cx="1927.0" cy="537.9" r="3" fill="#cfcfff"/><circle cx="1971.1" cy="657.1" r="3" fill="#d6d6ff"/><circle cx="1912.3" cy="542.9" r="3" fill="#cacaff"/><circle cx="2034.9" cy="571.7" r="3" fill="#ffffff"/><circle cx="1977.3" cy="586.3" r="3" fill="#9999ff"/><circle cx="1922.1" cy="505.0" r="3" fill="#ededff"/><circle cx="1955.1" cy="570.8" r="3" fill="#c2c2ff"/><circle cx="2030.1" cy="534.9" r="3" fill="#fff2f2"/><circle cx="1983.2" cy="640.5" r="3" fill="#bbbbff"/><circle cx="1967.6" cy="648.7" r="3" fill="#bbbbff"/><circle cx="1977.6" cy="662.4" r="3" fill="#bbbbff"/><circle cx="1892.0" cy="554.0" r="3" fill="#b2b2ff"/><circle cx="1951.0" cy="650.4" r="3" fill="#f8f8ff"/><circle cx="1949.9" cy="603.0" r="3" fill="#adadff"/><circle cx="1968.3" cy="571.1" r="3" fill="#bbbbff"/><circle cx="2047.5" cy="527.2" r="3" fill="#ffd6d6"/><circle cx="1898.2" cy="532.5" r="3" fill="#d1d1ff"/><circle cx="2242.4" cy="484.9" r="3" fill="#afafff"/><circle cx="2092.7" cy="473.0" r="3" fill="#ffc8c8"/><circle cx="2057.8" cy="442.6" r="3" fill="#fffbfb"/><circle cx="2120.3" cy="647.0" r="3" fill="#ffffff"/><circle cx="2115.0" cy="486.9" r="3" fill="#ffffff"/><circle cx="2168.8" cy="644.5" r="3" fill="#ffe1e1"/><circle cx="2241.4" cy="483.0" r="3" fill="#cfcfff"/><circle cx="2274.5" cy="401.4" r="3" fill="#fffbfb"/><circle cx="2353.6" cy="407.5" r="3" fill="#e9e9ff"/><circle cx="2307.9" cy="402.4" r="3" fill="#fff6f6"/><circle cx="2361.7" cy="475.0" r="3" fill="#e6e6ff"/><circle cx="2327.4" cy="489.7" r="3" fill="#ccccff"/><circle cx="2258.4" cy="407.3" r="3" fill="#ffeded"/><circle cx="2263.1" cy="759.0" r="3" fill="#f0f0ff"/><circle cx="2232.0" cy="778.3" r="3" fill="#e0e0ff"/><circle cx="2332.8" cy="709.2" r="3" fill="#f9f9ff"/><circle cx="2346.8" cy="750.5" r="3" fill="#e1e1ff"/><circle cx="2226.6" cy="1026.0" r="3" fill="#e0e0ff"/><circle cx="2222.2" cy="1042.4" r="3" fill="#e8e8ff"/><circle cx="2364.5" cy="872.4" r="3" fill="#e6e6ff"/><circle cx="2560.4" cy="1129.5" r="3" fill="#ffd0d0"/><circle cx="2610.9" cy="1104.4" r="3" fill="#f0f0ff"/><circle cx="2618.1" cy="1098.5" r="3" fill="#e9e9ff"/><circle cx="2401.3" cy="1117.1" r="3" fill="#dfdfff"/><circle cx="2404.6" cy="1120.8" r="3" fill="#afafff"/><circle cx="984.9" cy="998.8" r="3" fill="#aaaaff"/><circle cx="999.9" cy="1004.0" r="3" fill="#ccccff"/><circle cx="998.1" cy="1027.3" r="3" fill="#7777ff"/><circle cx="928.0" cy="1098.2" r="3" fill="#dfdfff"/><circle cx="1008.5" cy="950.4" r="3" fill="#bbbbff"/><circle cx="998.6" cy="1042.3" r="3" fill="#9999ff"/><circle cx="1019.1" cy="971.9" r="3" fill="#9999ff"/><circle cx="985.5" cy="1061.0" r="3" fill="#adadff"/><circle cx="934.2" cy="1033.4" r="3" fill="#ccccff"/><circle cx="936.8" cy="1031.9" r="3" fill="#aaaaff"/><circle cx="1048.5" cy="789.8" r="3" fill="#d9d9ff"/><circle cx="934.3" cy="1181.6" r="3" fill="#ffd0d0"/><circle cx="949.0" cy="1217.9" r="3" fill="#ffffff"/><circle cx="1608.3" cy="1012.1" r="3" fill="#e8e8ff"/><circle cx="1619.1" cy="1022.4" r="3" fill="#ffe6e6"/><circle cx="1586.6" cy="983.1" r="3" fill="#ddddff"/><circle cx="1481.4" cy="486.5" r="3" fill="#f9f9ff"/><circle cx="1401.2" cy="508.6" r="3" fill="#ccccff"/><circle cx="1434.2" cy="502.1" r="3" fill="#e0e0ff"/><circle cx="1363.9" cy="513.7" r="3" fill="#e0e0ff"/><circle cx="1360.6" cy="457.6" r="3" fill="#e6e6ff"/><circle cx="1360.7" cy="513.5" r="3" fill="#e1e1ff"/><circle cx="1444.8" cy="500.3" r="3" fill="#ededff"/><circle cx="1639.1" cy="552.5" r="3" fill="#cfcfff"/><circle cx="1601.8" cy="513.0" r="3" fill="#ffd0d0"/><circle cx="1634.5" cy="507.5" r="3" fill="#ffd0d0"/><circle cx="1312.8" cy="665.5" r="3" fill="#ffe6e6"/><circle cx="1300.6" cy="646.7" r="3" fill="#ffe6e6"/><circle cx="1285.4" cy="644.0" r="3" fill="#fffbfb"/><circle cx="1714.4" cy="699.2" r="3" fill="#b2b2ff"/><circle cx="1666.2" cy="656.1" r="3" fill="#adadff"/><circle cx="1282.9" cy="226.0" r="3" fill="#d9d9ff"/><circle cx="1274.9" cy="223.1" r="3" fill="#b2b2ff"/><circle cx="1291.0" cy="240.9" r="3" fill="#fff0f0"/><circle cx="1285.7" cy="229.4" r="3" fill="#b2b2ff"/><circle cx="1290.2" cy="227.1" r="3" fill="#b2b2ff"/><circle cx="1273.4" cy="224.5" r="3" fill="#e8e8ff"/><circle cx="1285.7" cy="227.8" r="3" fill="#c6c6ff"/><circle cx="1300.7" cy="232.9" r="3" fill="#fff6f6"/><circle cx="1124.5" cy="209.4" r="3" fill="#adadff"/><circle cx="1155.1" cy="209.5" r="3" fill="#bbbbff"/><circle cx="1120.2" cy="245.8" r="3" fill="#f2f2ff"/><circle cx="1113.0" cy="196.0" r="3" fill="#bbbbff"/><circle cx="1143.1" cy="206.4" r="3" fill="#bbbbff"/><circle cx="1116.0" cy="222.5" r="3" fill="#c2c2ff"/><circle cx="2222.0" cy="1037.1" r="3" fill="#f0f0ff"/><circle cx="2372.3" cy="1061.5" r="3" fill="#d9d9ff"/><circle cx="2365.7" cy="1066.6" r="3" fill="#d9d9ff"/><circle cx="2375.5" cy="1085.9" r="3" fill="#dfdfff"/><circle cx="2385.0" cy="1090.1" r="3" fill="#9595ff"/><circle cx="2403.9" cy="1085.9" r="3" fill="#bfbfff"/><circle cx="2404.2" cy="1077.5" r="3" fill="#dfdfff"/><circle cx="2425.4" cy="1071.6" r="3" fill="#d9d9ff"/><circle cx="2419.1" cy="1088.4" r="3" fill="#ddddff"/><circle cx="2444.3" cy="1064.9" r="3" fill="#d9d9ff"/><circle cx="2460.7" cy="1057.3" r="3" fill="#ededff"/><circle cx="2464.9" cy="1053.1" r="3" fill="#e8e8ff"/><circle cx="2462.0" cy="1048.9" r="3" fill="#ededff"/><circle cx="2473.2" cy="1044.7" r="3" fill="#f6f6ff"/><circle cx="2455.7" cy="1048.9" r="3" fill="#d0d0ff"/><circle cx="2486.8" cy="1032.0" r="3" fill="#d0d0ff"/><circle cx="2492.3" cy="1022.7" r="3" fill="#e8e8ff"/><circle cx="2500.6" cy="999.1" r="3" fill="#cacaff"/><circle cx="2492.4" cy="1000.0" r="3" fill="#cacaff"/><circle cx="2504.0" cy="982.3" r="3" fill="#bfbfff"/><circle cx="2473.8" cy="930.0" r="3" fill="#f0f0ff"/><circle cx="2391.9" cy="1055.6" r="3" fill="#d9d9ff"/><circle cx="2387.3" cy="1045.5" r="3" fill="#e8e8ff"/><circle cx="2371.7" cy="967.1" r="3" fill="#c2c2ff"/><circle cx="2446.6" cy="1032.9" r="3" fill="#e9e9ff"/><circle cx="2453.3" cy="1038.8" r="3" fill="#e9e9ff"/><circle cx="1221.2" cy="449.7" r="3" fill="#fff0f0"/><circle cx="1279.8" cy="491.8" r="3" fill="#ffe9e9"/><circle cx="1288.0" cy="531.4" r="3" fill="#ffe1e1"/><circle cx="940.7" cy="495.2" r="3" fill="#ffeeee"/><circle cx="265.0" cy="601.4" r="3" fill="#e8e8ff"/><circle cx="301.2" cy="914.9" r="3" fill="#fafaff"/><circle cx="215.1" cy="1137.7" r="3" fill="#f9f9ff"/><circle cx="1819.6" cy="937.6" r="3" fill="#ffffff"/><circle cx="1812.0" cy="806.2" r="3" fill="#fff9f9"/><circle cx="1357.5" cy="902.2" r="3" fill="#d1d1ff"/><circle cx="1292.5" cy="834.0" r="3" fill="#d9d9ff"/><circle cx="1936.8" cy="828.9" r="3" fill="#fff6f6"/><circle cx="2610.9" cy="955.3" r="3" fill="#ffffff"/><circle cx="2707.7" cy="919.9" r="3" fill="#ffffff"/><circle cx="131.5" cy="883.7" r="3" fill="#f0f0ff"/><circle cx="2468.4" cy="653.6" r="3" fill="#ffffff"/><circle cx="944.0" cy="678.1" r="3" fill="#f0f0ff"/><circle cx="959.2" cy="657.0" r="3" fill="#e6e6ff"/><circle cx="915.6" cy="612.3" r="3" fill="#e1e1ff"/><circle cx="836.1" cy="615.7" r="3" fill="#ffcccc"/><circle cx="800.3" cy="572.7" r="3" fill="#ffd9d9"/><circle cx="810.0" cy="691.6" r="3" fill="#ffffff"/><circle cx="1993.3" cy="708.4" r="3" fill="#e8e8ff"/><circle cx="1992.6" cy="709.3" r="3" fill="#d0d0ff"/><circle cx="1997.7" cy="705.9" r="3" fill="#e6e6ff"/><circle cx="2001.6" cy="694.9" r="3" fill="#f0f0ff"/><circle cx="2192.7" cy="819.6" r="3" fill="#e6e6ff"/><circle cx="2171.9" cy="756.4" r="3" fill="#d0d0ff"/><circle cx="2144.7" cy="721.9" r="3" fill="#ffffff"/><circle cx="2230.9" cy="579.5" r="3" fill="#f0f0ff"/><circle cx="2264.1" cy="504.5" r="3" fill="#e8e8ff"/><circle cx="953.2" cy="1212.2" r="3" fill="#ffffff"/><circle cx="1030.0" cy="1200.9" r="3" fill="#ffffff"/><circle cx="1529.1" cy="1053.1" r="3" fill="#f3f3ff"/><circle cx="1621.0" cy="1019.4" r="3" fill="#e8e8ff"/><circle cx="1115.0" cy="877.0" r="3" fill="#e6e6ff"/><circle cx="1085.2" cy="960.4" r="3" fill="#9595ff"/><circle cx="989.0" cy="1059.0" r="3" fill="#7777ff"/><circle cx="1004.9" cy="1061.5" r="3" fill="#7777ff"/><circle cx="912.7" cy="1044.7" r="3" fill="#b2b2ff"/><circle cx="900.2" cy="1048.9" r="3" fill="#e8e8ff"/><circle cx="929.3" cy="993.2" r="3" fill="#d9d9ff"/><circle cx="942.8" cy="1032.0" r="3" fill="#aaaaff"/></g>
<text x="521" y="62.6" font-size="42" textLength="157.8" lengthAdjust="spacingAndGlyphs">1882-07</text>
<text x="689.5" y="62.6" font-size="42" textLength="173.9" lengthAdjust="spacingAndGlyphs">NAO=1.6</text>
<text x="873.5" y="62.6" font-size="42" textLength="190.2" lengthAdjust="spacingAndGlyphs">SOI=-2.13</text>
<text x="1076.2" y="62.6" font-size="42" textLength="113.8" lengthAdjust="spacingAndGlyphs">GMST</text>
<text x="1199.5" y="62.6" font-size="42" textLength="308.5" lengthAdjust="spacingAndGlyphs">(analysis)=-0.291</text>
<text x="1518.5" y="62.6" font-size="42" textLength="117.5" lengthAdjust="spacingAndGlyphs">GMST</text>
<text x="1645.2" y="62.6" font-size="42" textLength="257.4" lengthAdjust="spacingAndGlyphs">(MAT)=-0.085</text>
<text x="1912.3" y="62.6" font-size="42" textLength="116.2" lengthAdjust="spacingAndGlyphs">GMST</text>
<text x="2038.9" y="62.6" font-size="42" textLength="240.5" lengthAdjust="spacingAndGlyphs">(LAT)=-0.524</text>
<path d="M624,1570.8L695.1,1532.1L695.1,1609.6Z" fill="#0000ff"/>
<path d="M2174.8,1570.8L2103.7,1532.1L2103.7,1609.6Z" fill="#ff0000"/>
<rect x="695.1" y="1532.1" width="1408.6" height="77.5" fill="url(#cb)"/>
<path d="M624,1570.8L695.1,1532.1L2103.7,1532.1L2174.8,1570.8L2103.7,1609.6L695.1,1609.6Z" fill="none" stroke="#000" stroke-width="2.2" stroke-linejoin="miter"/>
<path d="M695.1,1609.6V1624" stroke="#000" stroke-width="2.2"/>
<text x="695.1" y="1668.5" font-size="40" text-anchor="middle">−6</text>
<path d="M929.9,1609.6V1624" stroke="#000" stroke-width="2.2"/>
<text x="929.9" y="1668.5" font-size="40" text-anchor="middle">−4</text>
<path d="M1164.6,1609.6V1624" stroke="#000" stroke-width="2.2"/>
<text x="1164.6" y="1668.5" font-size="40" text-anchor="middle">−2</text>
<path d="M1399.4,1609.6V1624" stroke="#000" stroke-width="2.2"/>
<text x="1399.4" y="1668.5" font-size="40" text-anchor="middle">0</text>
<path d="M1634.2,1609.6V1624" stroke="#000" stroke-width="2.2"/>
<text x="1634.2" y="1668.5" font-size="40" text-anchor="middle">2</text>
<path d="M1868.9,1609.6V1624" stroke="#000" stroke-width="2.2"/>
<text x="1868.9" y="1668.5" font-size="40" text-anchor="middle">4</text>
<path d="M2103.7,1609.6V1624" stroke="#000" stroke-width="2.2"/>
<text x="2103.7" y="1668.5" font-size="40" text-anchor="middle">6</text>
<text x="1114.2" y="1727.5" font-size="40" textLength="157.5" lengthAdjust="spacingAndGlyphs">Anomaly</text>
<text x="1284.2" y="1727.5" font-size="40" textLength="99.3" lengthAdjust="spacingAndGlyphs">(from</text>
<text x="1396" y="1727.5" font-size="40" textLength="227.7" lengthAdjust="spacingAndGlyphs">1961-1990),</text>
<text x="1636.2" y="1727.5" font-size="40" textLength="49.1" lengthAdjust="spacingAndGlyphs">°C</text>
<text x="682.1" y="1806" font-size="32" textLength="86.6" lengthAdjust="spacingAndGlyphs" font-weight="bold">Data</text>
<text x="682.1" y="1846" font-size="32" textLength="86.6" lengthAdjust="spacingAndGlyphs" font-weight="bold">Data</text>
<text x="682.1" y="1885.8" font-size="32" textLength="86.6" lengthAdjust="spacingAndGlyphs" font-weight="bold">Data</text>
<text x="682.1" y="1925.8" font-size="32" textLength="86.6" lengthAdjust="spacingAndGlyphs" font-weight="bold">Data</text>
<text x="682.1" y="1965.8" font-size="32" textLength="86.6" lengthAdjust="spacingAndGlyphs" font-weight="bold">Data</text>
<text x="682.1" y="2005.6" font-size="32" textLength="143" lengthAdjust="spacingAndGlyphs" font-weight="bold">Graphic</text>
<text x="775.2" y="1806" font-size="32" textLength="124.3" lengthAdjust="spacingAndGlyphs">(analysis</text>
<rect x="910.6" y="1792" width="15" height="13.5" fill="none" stroke="#000" stroke-width="1.8"/>
<text x="926.8" y="1806" font-size="32" textLength="16.6" lengthAdjust="spacingAndGlyphs">):</text>
<text x="952.4" y="1806" font-size="32" textLength="379" lengthAdjust="spacingAndGlyphs">GloSATref.1.0.0.0-alpha.4</text>
<text x="1340.4" y="1806" font-size="32" textLength="95.4" lengthAdjust="spacingAndGlyphs">infilled</text>
<text x="1444.8" y="1806" font-size="32" textLength="52.4" lengthAdjust="spacingAndGlyphs">ens</text>
<text x="1506.2" y="1806" font-size="32" textLength="103.6" lengthAdjust="spacingAndGlyphs">median</text>
<text x="1618.8" y="1806" font-size="32" textLength="191.2" lengthAdjust="spacingAndGlyphs">(UKMO-HC):</text>
<text x="1819" y="1806" font-size="32" textLength="216.2" lengthAdjust="spacingAndGlyphs">N=1526/2592</text>
<text x="775.2" y="1846" font-size="32" textLength="80.6" lengthAdjust="spacingAndGlyphs">(MAT</text>
<rect x="871" y="1831.3" width="8.4" height="8.4" fill="none" stroke="#000" stroke-width="1.8"/>
<text x="880.9" y="1846" font-size="32" textLength="16.2" lengthAdjust="spacingAndGlyphs">):</text>
<text x="906.1" y="1846" font-size="32" textLength="292.3" lengthAdjust="spacingAndGlyphs">GloSATMAT.2.4.0.0</text>
<text x="1207.4" y="1846" font-size="32" textLength="51.8" lengthAdjust="spacingAndGlyphs">ens</text>
<text x="1268.2" y="1846" font-size="32" textLength="104.2" lengthAdjust="spacingAndGlyphs">median</text>
<text x="1381.4" y="1846" font-size="32" textLength="100.3" lengthAdjust="spacingAndGlyphs">(NOC):</text>
<text x="1490.7" y="1846" font-size="32" textLength="196.6" lengthAdjust="spacingAndGlyphs">N=401/2592</text>
<text x="775.2" y="1885.8" font-size="32" textLength="67.5" lengthAdjust="spacingAndGlyphs">(LAT</text>
<circle cx="865.5" cy="1877.2" r="8.6" fill="none" stroke="#000" stroke-width="2"/>
<text x="874.9" y="1885.8" font-size="32" textLength="17.3" lengthAdjust="spacingAndGlyphs">):</text>
<text x="901.2" y="1885.8" font-size="32" textLength="443.3" lengthAdjust="spacingAndGlyphs">GloSAT.p04c.EBC.LEKnormals</text>
<text x="1353.5" y="1885.8" font-size="32" textLength="164.3" lengthAdjust="spacingAndGlyphs">(CRU/UEA,</text>
<text x="1526.8" y="1885.8" font-size="32" textLength="109.2" lengthAdjust="spacingAndGlyphs">UYork):</text>
<text x="1645" y="1885.8" font-size="32" textLength="194.5" lengthAdjust="spacingAndGlyphs">N=249/2592</text>
<text x="1848.5" y="1885.8" font-size="32" textLength="235.9" lengthAdjust="spacingAndGlyphs">N(stations)=749</text>
<text x="775.2" y="1925.8" font-size="32" textLength="101.6" lengthAdjust="spacingAndGlyphs">(NAO):</text>
<text x="885.8" y="1925.8" font-size="32" textLength="163.3" lengthAdjust="spacingAndGlyphs">1781-1820</text>
<text x="1058.1" y="1925.8" font-size="32" textLength="89.4" lengthAdjust="spacingAndGlyphs">(Juerg</text>
<text x="1156.5" y="1925.8" font-size="32" textLength="192.9" lengthAdjust="spacingAndGlyphs">Luterbacher),</text>
<text x="1358.4" y="1925.8" font-size="32" textLength="164.4" lengthAdjust="spacingAndGlyphs">1821-2022</text>
<text x="1531.8" y="1925.8" font-size="32" textLength="63.2" lengthAdjust="spacingAndGlyphs">(Phil</text>
<text x="1604" y="1925.8" font-size="32" textLength="94.7" lengthAdjust="spacingAndGlyphs">Jones)</text>
<text x="775.2" y="1965.8" font-size="32" textLength="80.2" lengthAdjust="spacingAndGlyphs">(SOI):</text>
<text x="864.4" y="1965.8" font-size="32" textLength="165" lengthAdjust="spacingAndGlyphs">1866-2022</text>
<text x="1038.4" y="1965.8" font-size="32" textLength="63.1" lengthAdjust="spacingAndGlyphs">(Phil</text>
<text x="1110.5" y="1965.8" font-size="32" textLength="94.9" lengthAdjust="spacingAndGlyphs">Jones)</text>
<text x="824.4" y="2005.6" font-size="32" textLength="8.1" lengthAdjust="spacingAndGlyphs">:</text>
<text x="841.5" y="2005.6" font-size="32" textLength="115.7" lengthAdjust="spacingAndGlyphs">Michael</text>
<text x="966.2" y="2005.6" font-size="32" textLength="99.3" lengthAdjust="spacingAndGlyphs">Taylor,</text>
<text x="1074.5" y="2005.6" font-size="32" textLength="146.9" lengthAdjust="spacingAndGlyphs">CRU/UEA</text>
<text x="1230.4" y="2005.6" font-size="32" textLength="23.8" lengthAdjust="spacingAndGlyphs">--</text>
<text x="1263.2" y="2005.6" font-size="32" textLength="186.1" lengthAdjust="spacingAndGlyphs">08/03/2023</text>
</svg></body></html>
